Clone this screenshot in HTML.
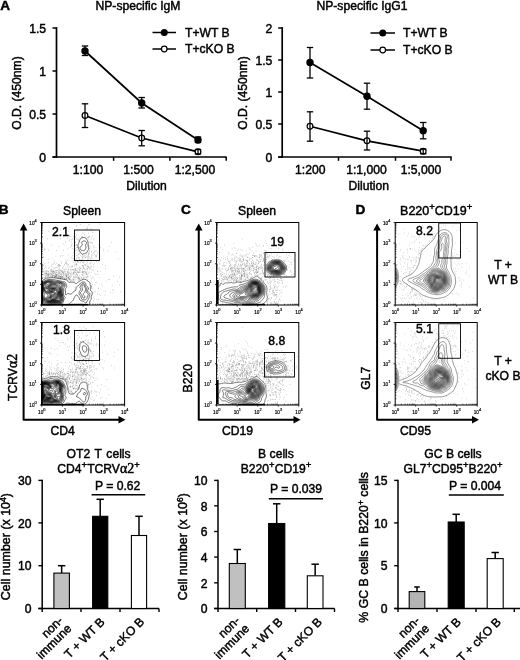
<!DOCTYPE html>
<html lang="en"><head><meta charset="utf-8"><title>Figure</title>
<style>
html,body{margin:0;padding:0;background:#fff;}
svg{display:block;}
text{font-family:"Liberation Sans", Arial, sans-serif;fill:#000;stroke:#000;stroke-width:0.45px;}
text.t{stroke:none;}
text.t2{stroke-width:0.18px;}
</style></head><body>
<svg width="520" height="660" viewBox="0 0 520 660">
<rect x="0" y="0" width="520" height="660" fill="#fff"/>
<text x="0.20" y="9.80" font-size="13.6" text-anchor="start" font-weight="bold" fill="#000" >A</text>
<line x1="56.50" y1="27.20" x2="56.50" y2="157.80" stroke="#000" stroke-width="1.7" />
<line x1="52.50" y1="157.00" x2="226.70" y2="157.00" stroke="#000" stroke-width="1.7" />
<line x1="52.50" y1="28.00" x2="56.50" y2="28.00" stroke="#000" stroke-width="1.5" />
<text x="46.10" y="32.50" font-size="12.15" text-anchor="end" font-weight="normal" fill="#000" >1.5</text>
<line x1="52.50" y1="71.00" x2="56.50" y2="71.00" stroke="#000" stroke-width="1.5" />
<text x="46.10" y="75.50" font-size="12.15" text-anchor="end" font-weight="normal" fill="#000" >1</text>
<line x1="52.50" y1="114.00" x2="56.50" y2="114.00" stroke="#000" stroke-width="1.5" />
<text x="46.10" y="118.50" font-size="12.15" text-anchor="end" font-weight="normal" fill="#000" >0.5</text>
<line x1="52.50" y1="157.00" x2="56.50" y2="157.00" stroke="#000" stroke-width="1.5" />
<text x="46.10" y="161.50" font-size="12.15" text-anchor="end" font-weight="normal" fill="#000" >0</text>
<line x1="113.60" y1="157.00" x2="113.60" y2="160.80" stroke="#000" stroke-width="1.5" />
<line x1="169.90" y1="157.00" x2="169.90" y2="160.80" stroke="#000" stroke-width="1.5" />
<line x1="226.20" y1="157.00" x2="226.20" y2="160.80" stroke="#000" stroke-width="1.5" />
<polyline points="85.00,51.00 141.70,103.00 198.00,140.00" fill="none" stroke="#000" stroke-width="1.7"/>
<polyline points="85.00,115.50 141.70,138.00 198.00,151.80" fill="none" stroke="#000" stroke-width="1.7"/>
<circle cx="85.00" cy="115.50" r="2.85" fill="#fff" stroke="#000" stroke-width="1.25"/>
<circle cx="141.70" cy="138.00" r="2.85" fill="#fff" stroke="#000" stroke-width="1.25"/>
<circle cx="198.00" cy="151.80" r="2.85" fill="#fff" stroke="#000" stroke-width="1.25"/>
<line x1="85.00" y1="46.00" x2="85.00" y2="55.50" stroke="#000" stroke-width="1.3" />
<line x1="81.80" y1="46.00" x2="88.20" y2="46.00" stroke="#000" stroke-width="1.3" />
<line x1="81.80" y1="55.50" x2="88.20" y2="55.50" stroke="#000" stroke-width="1.3" />
<line x1="141.70" y1="97.50" x2="141.70" y2="108.00" stroke="#000" stroke-width="1.3" />
<line x1="138.50" y1="97.50" x2="144.90" y2="97.50" stroke="#000" stroke-width="1.3" />
<line x1="138.50" y1="108.00" x2="144.90" y2="108.00" stroke="#000" stroke-width="1.3" />
<line x1="198.00" y1="137.00" x2="198.00" y2="142.50" stroke="#000" stroke-width="1.3" />
<line x1="194.80" y1="137.00" x2="201.20" y2="137.00" stroke="#000" stroke-width="1.3" />
<line x1="194.80" y1="142.50" x2="201.20" y2="142.50" stroke="#000" stroke-width="1.3" />
<line x1="85.00" y1="103.80" x2="85.00" y2="127.50" stroke="#000" stroke-width="1.3" />
<line x1="81.80" y1="103.80" x2="88.20" y2="103.80" stroke="#000" stroke-width="1.3" />
<line x1="81.80" y1="127.50" x2="88.20" y2="127.50" stroke="#000" stroke-width="1.3" />
<line x1="141.70" y1="130.50" x2="141.70" y2="145.80" stroke="#000" stroke-width="1.3" />
<line x1="138.50" y1="130.50" x2="144.90" y2="130.50" stroke="#000" stroke-width="1.3" />
<line x1="138.50" y1="145.80" x2="144.90" y2="145.80" stroke="#000" stroke-width="1.3" />
<line x1="198.00" y1="149.50" x2="198.00" y2="154.00" stroke="#000" stroke-width="1.3" />
<line x1="194.80" y1="149.50" x2="201.20" y2="149.50" stroke="#000" stroke-width="1.3" />
<line x1="194.80" y1="154.00" x2="201.20" y2="154.00" stroke="#000" stroke-width="1.3" />
<circle cx="85.00" cy="51.00" r="3.7" fill="#000"/>
<circle cx="141.70" cy="103.00" r="3.7" fill="#000"/>
<circle cx="198.00" cy="140.00" r="3.7" fill="#000"/>
<text x="138.00" y="10.20" font-size="12.15" text-anchor="middle" font-weight="normal" fill="#000" >NP-specific IgM</text>
<text transform="translate(21.00,93.00) rotate(-90)" font-size="12.15" text-anchor="middle" >O.D. (450nm)</text>
<text x="88.00" y="174.00" font-size="12.15" text-anchor="middle" font-weight="normal" fill="#000" >1:100</text>
<text x="138.50" y="174.00" font-size="12.15" text-anchor="middle" font-weight="normal" fill="#000" >1:500</text>
<text x="195.00" y="174.00" font-size="12.15" text-anchor="middle" font-weight="normal" fill="#000" >1:2,500</text>
<text x="146.60" y="189.60" font-size="12.15" text-anchor="middle" font-weight="normal" fill="#000" >Dilution</text>
<line x1="152.50" y1="32.50" x2="176.00" y2="32.50" stroke="#000" stroke-width="1.5" />
<circle cx="164.25" cy="32.5" r="3.5" fill="#000"/>
<text x="185.00" y="36.70" font-size="12.15" text-anchor="start" font-weight="normal" fill="#000" >T+WT B</text>
<line x1="152.50" y1="49.00" x2="176.00" y2="49.00" stroke="#000" stroke-width="1.5" />
<circle cx="164.25" cy="49" r="2.8" fill="#fff" stroke="#000" stroke-width="1.2"/>
<text x="185.00" y="53.20" font-size="12.15" text-anchor="start" font-weight="normal" fill="#000" >T+cKO B</text>
<line x1="282.20" y1="27.20" x2="282.20" y2="157.80" stroke="#000" stroke-width="1.7" />
<line x1="278.20" y1="157.00" x2="451.70" y2="157.00" stroke="#000" stroke-width="1.7" />
<line x1="278.20" y1="28.00" x2="282.20" y2="28.00" stroke="#000" stroke-width="1.5" />
<text x="272.30" y="32.50" font-size="12.15" text-anchor="end" font-weight="normal" fill="#000" >2</text>
<line x1="278.20" y1="60.00" x2="282.20" y2="60.00" stroke="#000" stroke-width="1.5" />
<text x="272.30" y="64.50" font-size="12.15" text-anchor="end" font-weight="normal" fill="#000" >1.5</text>
<line x1="278.20" y1="92.00" x2="282.20" y2="92.00" stroke="#000" stroke-width="1.5" />
<text x="272.30" y="96.50" font-size="12.15" text-anchor="end" font-weight="normal" fill="#000" >1</text>
<line x1="278.20" y1="124.00" x2="282.20" y2="124.00" stroke="#000" stroke-width="1.5" />
<text x="272.30" y="128.50" font-size="12.15" text-anchor="end" font-weight="normal" fill="#000" >0.5</text>
<line x1="278.20" y1="157.00" x2="282.20" y2="157.00" stroke="#000" stroke-width="1.5" />
<text x="272.30" y="161.50" font-size="12.15" text-anchor="end" font-weight="normal" fill="#000" >0</text>
<line x1="338.50" y1="157.00" x2="338.50" y2="160.80" stroke="#000" stroke-width="1.5" />
<line x1="395.50" y1="157.00" x2="395.50" y2="160.80" stroke="#000" stroke-width="1.5" />
<line x1="451.00" y1="157.00" x2="451.00" y2="160.80" stroke="#000" stroke-width="1.5" />
<polyline points="310.00,62.50 367.00,96.20 423.20,130.80" fill="none" stroke="#000" stroke-width="1.7"/>
<polyline points="310.00,126.20 367.00,140.80 423.20,151.20" fill="none" stroke="#000" stroke-width="1.7"/>
<circle cx="310.00" cy="126.20" r="2.85" fill="#fff" stroke="#000" stroke-width="1.25"/>
<circle cx="367.00" cy="140.80" r="2.85" fill="#fff" stroke="#000" stroke-width="1.25"/>
<circle cx="423.20" cy="151.20" r="2.85" fill="#fff" stroke="#000" stroke-width="1.25"/>
<line x1="310.00" y1="47.50" x2="310.00" y2="78.00" stroke="#000" stroke-width="1.3" />
<line x1="306.80" y1="47.50" x2="313.20" y2="47.50" stroke="#000" stroke-width="1.3" />
<line x1="306.80" y1="78.00" x2="313.20" y2="78.00" stroke="#000" stroke-width="1.3" />
<line x1="367.00" y1="83.20" x2="367.00" y2="109.20" stroke="#000" stroke-width="1.3" />
<line x1="363.80" y1="83.20" x2="370.20" y2="83.20" stroke="#000" stroke-width="1.3" />
<line x1="363.80" y1="109.20" x2="370.20" y2="109.20" stroke="#000" stroke-width="1.3" />
<line x1="423.20" y1="122.50" x2="423.20" y2="138.80" stroke="#000" stroke-width="1.3" />
<line x1="420.00" y1="122.50" x2="426.40" y2="122.50" stroke="#000" stroke-width="1.3" />
<line x1="420.00" y1="138.80" x2="426.40" y2="138.80" stroke="#000" stroke-width="1.3" />
<line x1="310.00" y1="111.80" x2="310.00" y2="141.20" stroke="#000" stroke-width="1.3" />
<line x1="306.80" y1="111.80" x2="313.20" y2="111.80" stroke="#000" stroke-width="1.3" />
<line x1="306.80" y1="141.20" x2="313.20" y2="141.20" stroke="#000" stroke-width="1.3" />
<line x1="367.00" y1="131.20" x2="367.00" y2="150.00" stroke="#000" stroke-width="1.3" />
<line x1="363.80" y1="131.20" x2="370.20" y2="131.20" stroke="#000" stroke-width="1.3" />
<line x1="363.80" y1="150.00" x2="370.20" y2="150.00" stroke="#000" stroke-width="1.3" />
<line x1="423.20" y1="149.20" x2="423.20" y2="153.80" stroke="#000" stroke-width="1.3" />
<line x1="420.00" y1="149.20" x2="426.40" y2="149.20" stroke="#000" stroke-width="1.3" />
<line x1="420.00" y1="153.80" x2="426.40" y2="153.80" stroke="#000" stroke-width="1.3" />
<circle cx="310.00" cy="62.50" r="3.7" fill="#000"/>
<circle cx="367.00" cy="96.20" r="3.7" fill="#000"/>
<circle cx="423.20" cy="130.80" r="3.7" fill="#000"/>
<text x="362.00" y="10.20" font-size="12.15" text-anchor="middle" font-weight="normal" fill="#000" >NP-specific IgG1</text>
<text transform="translate(247.00,93.00) rotate(-90)" font-size="12.15" text-anchor="middle" >O.D. (450nm)</text>
<text x="310.20" y="174.00" font-size="12.15" text-anchor="middle" font-weight="normal" fill="#000" >1:200</text>
<text x="366.50" y="174.00" font-size="12.15" text-anchor="middle" font-weight="normal" fill="#000" >1:1,000</text>
<text x="421.00" y="174.00" font-size="12.15" text-anchor="middle" font-weight="normal" fill="#000" >1:5,000</text>
<text x="368.80" y="189.60" font-size="12.15" text-anchor="middle" font-weight="normal" fill="#000" >Dilution</text>
<line x1="370.50" y1="33.00" x2="395.00" y2="33.00" stroke="#000" stroke-width="1.5" />
<circle cx="382.75" cy="33" r="3.5" fill="#000"/>
<text x="403.00" y="37.20" font-size="12.15" text-anchor="start" font-weight="normal" fill="#000" >T+WT B</text>
<line x1="370.50" y1="50.00" x2="395.00" y2="50.00" stroke="#000" stroke-width="1.5" />
<circle cx="382.75" cy="50" r="2.8" fill="#fff" stroke="#000" stroke-width="1.2"/>
<text x="403.00" y="54.20" font-size="12.15" text-anchor="start" font-weight="normal" fill="#000" >T+cKO B</text>
<text x="-1.20" y="214.30" font-size="13.6" text-anchor="start" font-weight="bold" fill="#000" >B</text>
<text x="82.00" y="215.00" font-size="12.15" text-anchor="middle" font-weight="normal" fill="#000" >Spleen</text>
<path d="M87.9,258.8h0.5M43.3,265h0.5M56.1,276.8h0.5M62.1,277.5h0.5M71.8,269.5h0.5M59.6,265.4h0.5M53.9,276.1h0.5M56.6,272.1h0.5M52.6,272.9h0.5M87.7,279.9h0.5M104.8,295.2h0.5M77.2,268.7h0.5M70.2,269.9h0.5M79.3,279h0.5M70.8,267.7h0.5M69.2,279.3h0.5M59.7,273.7h0.5M53,272.7h0.5M42.6,271.5h0.5M63.9,273.7h0.5M59.8,265.6h0.5M46,276.3h0.5M71.2,276.2h0.5M70.9,272h0.5M61.9,276.1h0.5M90.4,303.9h0.5M66,277.1h0.5M48.9,267.7h0.5M75.8,259.3h0.5M87.6,274.5h0.5M60.2,278.2h0.5M73.3,276.9h0.5M91.3,288.6h0.5M85.4,269.6h0.5M65.6,279h0.5M62.5,276.6h0.5M62.2,267.6h0.5M68.2,271.6h0.5M98.3,288.1h0.5M105.3,291.8h0.5M77.8,277.4h0.5M71.1,280.8h0.5M67.8,276.8h0.5M49.9,275.4h0.5M52.4,276.9h0.5M64.1,278.8h0.5M44.8,273.6h0.5M76.9,271.7h0.5M73,270.1h0.5M67.1,277.4h0.5M66.3,275.3h0.5M91.9,295.4h0.5M69.8,273.2h0.5M99.5,277.3h0.5M63.9,271.1h0.5M52.6,277h0.5M94.5,299h0.5M71.4,280.1h0.5M66,262.6h0.5M78.1,278.4h0.5M69.6,279.5h0.5M76.9,261.6h0.5M54.2,274.9h0.5M96.6,299.7h0.5M45,265.7h0.5M63.8,271.2h0.5M42.7,278.3h0.5M51.1,269.1h0.5M42.9,274.7h0.5M65,277.6h0.5M78.8,262.6h0.5M79,270.8h0.5M87,276.8h0.5M86,273.7h0.5M73.6,271.1h0.5M77.1,262.1h0.5M67.9,269h0.5M52.5,271.7h0.5M62,270.6h0.5M112.1,289.8h0.5M79.9,268.7h0.5M57.8,277.8h0.5M63.8,278.5h0.5M48.7,259.3h0.5M62.7,273.9h0.5M81.9,272.1h0.5M83.9,273.8h0.5M97.8,291.5h0.5M68,277.6h0.5M61,274.7h0.5M52.8,271.3h0.5M70.8,269.5h0.5M54.4,272.8h0.5M63.8,277.7h0.5M74.5,277.5h0.5M47.5,270.9h0.5M73,280.6h0.5M57,276.4h0.5M43.3,257.4h0.5M79.6,271.1h0.5M92.7,304h0.5M54.8,276.9h0.5M60.6,278.4h0.5M75.3,277.4h0.5M51.6,265.2h0.5M75.9,244.7h0.5M86.3,274.3h0.5M46.8,271.7h0.5M83.1,279.2h0.5M85.3,276.8h0.5M67.9,278.5h0.5M51.7,258h0.5M50.7,276.7h0.5M108.5,279.7h0.5M61.8,278.2h0.5M78.4,277.5h0.5M91,286.9h0.5M49.9,273.1h0.5M77.7,272.6h0.5M55.9,275h0.5M74,279.1h0.5M74,276.8h0.5M65.9,261.7h0.5M87.9,266.8h0.5M50.7,274.1h0.5M83.7,271.7h0.5M75,279.8h0.5M73.5,277.1h0.5M65.7,271.7h0.5M74.6,274.8h0.5M75.3,268.9h0.5M77.7,279h0.5M56.4,274.6h0.5M78.2,278.3h0.5M68.9,266.2h0.5M91.5,287.2h0.5M44.2,272.9h0.5M70.1,277.6h0.5M78.3,271.9h0.5M110,292.7h0.5M75.5,268.7h0.5M61.8,278.4h0.5M65.3,263.5h0.5M52.1,270.3h0.5M74.4,271.9h0.5M43,271.8h0.5M98.1,299.4h0.5M58.3,265.3h0.5M53.2,275.5h0.5M66.4,276.4h0.5M69.9,274.4h0.5M79,269.4h0.5M86,273.8h0.5M45.7,271h0.5M56.3,275h0.5M102.4,286.8h0.5M61.4,277.3h0.5M49.9,270.5h0.5M54.2,262.7h0.5M71.9,257.9h0.5M75.5,275.7h0.5M98.3,288.8h0.5M51.4,275.2h0.5M59.8,266.4h0.5M47.5,273.8h0.5M65.3,262.7h0.5M44.6,277.7h0.5M79.8,272.4h0.5M43.5,256.4h0.5M64,279.2h0.5M61.4,277.1h0.5M47.3,277.2h0.5M93,300.7h0.5M67.3,275.2h0.5M68,277.5h0.5M64.9,276.2h0.5M97.5,294.3h0.5M62,271.8h0.5M85.2,272.7h0.5M65.9,273.4h0.5M49,274.7h0.5M53.2,275.6h0.5M62.1,278.2h0.5M71.5,274.2h0.5M75.8,276.8h0.5M47,273.8h0.5M46.3,275.6h0.5M55.9,274.9h0.5M64.7,275.1h0.5M48.4,275h0.5M55,274.6h0.5M54.9,276.3h0.5M72.1,279.7h0.5M55.5,274.1h0.5M45.8,272h0.5M48.1,275h0.5M55.3,276.5h0.5M69.4,280.1h0.5M68.2,264.5h0.5M56.1,270.5h0.5M60.3,278.5h0.5M58.1,272h0.5M59,266h0.5M55.4,276.2h0.5M47.5,275.8h0.5M61.6,272.2h0.5M66.2,276.2h0.5M69.5,276.9h0.5M54.8,276.8h0.5M56.4,274.6h0.5M54.4,272.9h0.5M59.9,276.5h0.5M74,272.1h0.5M57.8,278.2h0.5M66.6,279.1h0.5M66.7,274.8h0.5M83.5,277.3h0.5M48.5,262.5h0.5M55.8,270.1h0.5M73,279.4h0.5M62.4,272.1h0.5M57.6,270.4h0.5M66.3,276.2h0.5M52.5,273.2h0.5M65.4,274.5h0.5M58.2,277.4h0.5M54.2,277.4h0.5M52.4,275.8h0.5M45.5,278h0.5M46.1,273.4h0.5M56.9,265.4h0.5M63.1,275.3h0.5M58.7,275.2h0.5M50.3,276.4h0.5M73,272.7h0.5M79.3,278.2h0.5M51.1,276.9h0.5M79.1,272.4h0.5M44.1,268.4h0.5M53.3,270h0.5M59,277h0.5M64.8,271.9h0.5M46.1,275.3h0.5M65.9,279h0.5M63.8,277.3h0.5M50,273.9h0.5M52,276.5h0.5M72.7,278.8h0.5M46.1,270.1h0.5M53.8,271.5h0.5M73.2,279.1h0.5M67.4,272.9h0.5M52.3,276h0.5M59.9,276.5h0.5M51.5,274h0.5M60.9,271.5h0.5M59,276.3h0.5M55.7,272.9h0.5M65.4,275.9h0.5M75.9,277.1h0.5M67.3,272.1h0.5M69.5,279.8h0.5M61.1,275.5h0.5M56.5,272.1h0.5M45.6,267.4h0.5M55.4,268.2h0.5M70.6,270.7h0.5M44.7,271h0.5M42.8,274.6h0.5M66.7,278.3h0.5M47.8,276.7h0.5M67.3,271.5h0.5M51.6,274.6h0.5M63,276.8h0.5M51.1,274h0.5M75.8,270.7h0.5M62.4,277.2h0.5M77.3,270.3h0.5M51.1,266.6h0.5M56,263.3h0.5M68.4,274.2h0.5M47.4,275h0.5M55.1,275.9h0.5M42.6,277.6h0.5M59.6,269.8h0.5M68.2,274h0.5M48.9,274.8h0.5M60.3,274.2h0.5M68.1,272.9h0.5M60.6,276.6h0.5M56.9,270.7h0.5M60.4,270.2h0.5M54.8,277.4h0.5M66.2,278.5h0.5M60.7,277.9h0.5M60,274.6h0.5M45.4,273.7h0.5M69.6,278.4h0.5M61.4,273.8h0.5M59.9,278.4h0.5M61.8,276.4h0.5M58.9,271.6h0.5M54.8,272h0.5M59.2,264.8h0.5M68.6,277.1h0.5M63.2,272.6h0.5M69.1,278.9h0.5M79.8,276.7h0.5M51.4,276.6h0.5M78.4,279.1h0.5M87.8,266.6h0.5M62.7,268.3h0.5M72.6,269.5h0.5M66.2,269.6h0.5M51.1,269.6h0.5M45.6,277h0.5M76.1,274h0.5M57.9,277.8h0.5M65.9,278.9h0.5M58.3,276.1h0.5M53.5,271.3h0.5M59.9,276.4h0.5M50.6,269.5h0.5M48,271.8h0.5M54,277.7h0.5M68.5,277.9h0.5M46,273.5h0.5M48.4,274.3h0.5M48.6,268.7h0.5M48.8,273.5h0.5M58.3,266.6h0.5M59.4,275.1h0.5M48.4,275.5h0.5M56.4,275.4h0.5M43,269.9h0.5M68.5,277h0.5M55.1,264.2h0.5M63.4,272.2h0.5M63.5,266.4h0.5M47.5,274.8h0.5M45.2,276.4h0.5M81.7,277.7h0.5M55.8,276.4h0.5M57.1,274.5h0.5M58.6,278.2h0.5M57.4,267.2h0.5M59.8,272.9h0.5M51.7,272.6h0.5M49.2,276.9h0.5M53.8,276.3h0.5M59.7,270.5h0.5M42.9,271.7h0.5M46.2,274h0.5M72.9,274.2h0.5M63.3,273.5h0.5M68.5,274.1h0.5M53.9,275.7h0.5M56.1,277.3h0.5M56.2,277h0.5M56.2,275.1h0.5M58.8,272.6h0.5M48.2,276.3h0.5M53.2,271.3h0.5M48.3,271.4h0.5M79.5,267.1h0.5M72,274.9h0.5M45.1,277.7h0.5M73.8,269.2h0.5M48.5,273.9h0.5M59.9,277.6h0.5M58.6,273.4h0.5M64.9,274.9h0.5M59.6,277.3h0.5M77.5,275.9h0.5M62,272h0.5M54.9,276.8h0.5M82,274.8h0.5M55.7,276.6h0.5M73.2,272.7h0.5M58.4,264.8h0.5M48.8,272.7h0.5M50.6,271.7h0.5M58.8,273.3h0.5M59.5,272.6h0.5M61,270.5h0.5M68.6,269.2h0.5M70.3,280.8h0.5M45.8,271.3h0.5M52.9,263.7h0.5M52,275.1h0.5M53.5,272.1h0.5M76.6,274.3h0.5M53.2,274h0.5M79,279h0.5M62.8,269.1h0.5M55.8,275.9h0.5M59,278h0.5M64.8,269.4h0.5M58.4,269.9h0.5M55.3,273.4h0.5M74.2,281.5h0.5M70.3,275.6h0.5M64.5,269.9h0.5M79.3,279h0.5M76.1,273.1h0.5M70.4,281.5h0.5M48.1,274.7h0.5M52,274.2h0.5M72,281h0.5M57.9,274.6h0.5M52.7,271.4h0.5M67.9,279.2h0.5M51.3,271.2h0.5M52.3,275.7h0.5M44.7,274.2h0.5M60.6,261.8h0.5M54.7,271.2h0.5M52.7,264.4h0.5M58.6,276.5h0.5M44.8,275.3h0.5M58.6,271.3h0.5M66.1,275.7h0.5M63,274.9h0.5M66.3,275.1h0.5M45.9,274.1h0.5M57,275.8h0.5M45.3,273h0.5M63.1,273.3h0.5M69.9,276.9h0.5M61,271.3h0.5M73.3,273h0.5M43.8,279.6h0.5M63.5,278.3h0.5M67.8,270.3h0.5M69.6,276.2h0.5M60.7,276.7h0.5M55.7,275.9h0.5M76.9,277.7h0.5M51.5,270.6h0.5M79.9,252.8h0.5M86.9,280.2h0.5M75.1,264.6h0.5M81.5,274.6h0.5M76.5,265h0.5M91.3,256.6h0.5M85.1,265.3h0.5M94.9,274.3h0.5M93.5,264.5h0.5M77.8,260.9h0.5M92.5,269.9h0.5M73.1,252.7h0.5M93.6,252.4h0.5M76.9,260.6h0.5M76.1,273.9h0.5M82.8,268.3h0.5M81.5,259.7h0.5M71.1,257.2h0.5M85.5,279.1h0.5M87.1,262.8h0.5M91.7,286.3h0.5M82.9,273h0.5M85.2,264.9h0.5M76.4,225.1h0.5M91.3,255.2h0.5M90.9,266.6h0.5M96.5,282.8h0.5M87.7,257.4h0.5M82.2,236.4h0.5M68.1,275.4h0.5M88.5,245.5h0.5M88.6,276.5h0.5M78.9,260.1h0.5M86.8,277.2h0.5M72.9,261.2h0.5M86.2,277.9h0.5M91.2,259h0.5M75.2,242.4h0.5M79.3,254.1h0.5M107.1,250.7h0.5M77.9,280.5h0.5M72.7,255.3h0.5M91.8,257.7h0.5M91.3,252.8h0.5M79.2,259.5h0.5M77.6,247.2h0.5M82.8,265.9h0.5M82,272h0.5M86.6,264.1h0.5M82.1,271h0.5M85.9,265.9h0.5M69.3,239.3h0.5M85.7,271.4h0.5M88.4,255h0.5M95.9,256.5h0.5M91.8,242.9h0.5M74.3,270.4h0.5M91.4,251.4h0.5M92.3,277.3h0.5M88.3,256.3h0.5M77.6,272.1h0.5M76.2,270.9h0.5M94.3,263.3h0.5M91.1,281.1h0.5M87.2,268.7h0.5M95.6,257.1h0.5M90.9,266.3h0.5M85.5,272.3h0.5M74.8,245.4h0.5M67.8,267.1h0.5M80.4,279.7h0.5M75.9,239.1h0.5M88.9,252.9h0.5M80.2,270.7h0.5M91.9,255.2h0.5M78.1,276.9h0.5M74.4,264.2h0.5M87.1,276.1h0.5M76.9,275.8h0.5M85.4,274.2h0.5M82,255.8h0.5M98.3,261h0.5M89.6,248.1h0.5M83.2,262.1h0.5M83.4,266h0.5M87.4,258.8h0.5M77.4,261.2h0.5M92.5,284.3h0.5M74.6,254.3h0.5M77.3,247.6h0.5M86.5,272.4h0.5M80.9,278.1h0.5M94.5,280.1h0.5M91.9,230.5h0.5M89.2,251.3h0.5M87.9,272.8h0.5M89.4,272.1h0.5M101.1,284.5h0.5M89.1,241.7h0.5M97.2,254.1h0.5M71.9,266.2h0.5M72.7,270h0.5M83.8,271.3h0.5M86.4,277.1h0.5M77.8,272.1h0.5M83.7,233.3h0.5M86.1,260.5h0.5M76.2,255.6h0.5M84.4,264.7h0.5M74.7,268.5h0.5M82,269.1h0.5M90.9,269.3h0.5M87.1,268.2h0.5M79.6,278.4h0.5M78.2,268.6h0.5M79.5,257.8h0.5M77,274.6h0.5M82.9,275.4h0.5M80.4,261.1h0.5M87.8,274h0.5M85.5,257.5h0.5M82.7,271.8h0.5M78,261.8h0.5M87.1,237.7h0.5M91.5,242.3h0.5M80.6,260.4h0.5M82.4,266h0.5M75.2,272.1h0.5M92.7,292h0.5M81.6,272.2h0.5M96.2,255.9h0.5M90.2,230.4h0.5M94.7,247.7h0.5M83.2,266.8h0.5M83.2,272.3h0.5M76.4,263.5h0.5M78.4,251.4h0.5M87.7,266.5h0.5M90.6,260.8h0.5M95.7,259.9h0.5M73,260h0.5M79.7,269.5h0.5M89.4,268.2h0.5M91.3,251.5h0.5M92.6,288.9h0.5M83,267.5h0.5M89.8,248.4h0.5M82.5,272.9h0.5M71.3,266.5h0.5M88.9,267.8h0.5M82.7,260.2h0.5M90.6,268.3h0.5M76.9,230h0.5M79.6,275.2h0.5M83.6,277.3h0.5M96.3,250.9h0.5M82.6,257.6h0.5M80.6,260.4h0.5M91.8,262.9h0.5M88.2,267.5h0.5M75,270.2h0.5M77.2,261.8h0.5M87,261.1h0.5M91.3,285.6h0.5M75.7,268.2h0.5M99.5,250h0.5M90.1,259.9h0.5M90.2,263.9h0.5M91.4,278.7h0.5M89.2,257h0.5M84.4,271.8h0.5M90,275.6h0.5M73.3,272.7h0.5M82.3,258.8h0.5M69.8,278.4h0.5M73.7,280.6h0.5M76,258h0.5M78,254.5h0.5M89.8,268h0.5M95,255.8h0.5M87.2,269.4h0.5M76.7,264.5h0.5M81.7,259.9h0.5M83.5,268.6h0.5M78.4,272.5h0.5M74.2,266h0.5M86.9,270.9h0.5M90.3,262.7h0.5M89.1,224.9h0.5M85.4,257.5h0.5M69,237h0.5M93.3,239.9h0.5M90.4,242h0.5M76.1,249.8h0.5M88.1,233.3h0.5M93.7,266.7h0.5M69.4,240.4h0.5M76.4,244.6h0.5M87.9,252.4h0.5M94.7,251.5h0.5M87.4,229.8h0.5M92.8,258.5h0.5M87.8,237.8h0.5M74.9,250.9h0.5M88.4,245.4h0.5M80.4,255.5h0.5M80.3,224.6h0.5M71.8,243.6h0.5M92,235.9h0.5M74.7,237h0.5M92.4,232.7h0.5M71.6,246.2h0.5M87.9,253.3h0.5M86.4,256.4h0.5M75.8,245.5h0.5M77.3,245.4h0.5M88.6,224.4h0.5M71.4,244.6h0.5M76.2,234.9h0.5M81.3,237.7h0.5M86.5,254.4h0.5M86,228.3h0.5M76.9,257.8h0.5M84.6,229.5h0.5M78.5,257.8h0.5M71.7,273.1h0.5M76.5,247.7h0.5M87.9,240h0.5M70.9,241.4h0.5M76.8,231.8h0.5M84.6,256h0.5M76.3,264.5h0.5M88.3,236.7h0.5M89.2,250.2h0.5M82,232.8h0.5M87.9,259.7h0.5M90.7,230.3h0.5M92.9,253.7h0.5M90.9,239.3h0.5M87.5,265.9h0.5M92.7,249.3h0.5M88,254.8h0.5M78.3,240.9h0.5M88.9,236.7h0.5M86.2,230h0.5M93.8,238.6h0.5M82.3,265.7h0.5M73.6,258.8h0.5M74.7,250.8h0.5M73.8,249.9h0.5M97,252.4h0.5M89.8,242.9h0.5M98.7,245h0.5M92.1,243.3h0.5M93.3,246.9h0.5M72.5,248.6h0.5M83.5,256.8h0.5M81.7,256.7h0.5M90.5,245.9h0.5M88.1,254.1h0.5M77.1,239.3h0.5M89.7,246.9h0.5M80.8,267.9h0.5M84.7,262.7h0.5M84.7,258.2h0.5M84.1,234.8h0.5M90,258.2h0.5M71.7,239.5h0.5M93.7,245.9h0.5M77.6,255.8h0.5M78.3,239.8h0.5M88.6,257.6h0.5M89.1,236.8h0.5M90.9,228.3h0.5M94.4,251.8h0.5M72,266.8h0.5M76.7,238.3h0.5M73.8,239.6h0.5M88.8,253.7h0.5M87.5,227.1h0.5M88.3,238h0.5M74.7,237.3h0.5M87,228.5h0.5M79.3,251.3h0.5M81.6,261.2h0.5M84.8,255.8h0.5M82,236.8h0.5M94.8,250.6h0.5M79.3,237.7h0.5M60.6,255.8h0.5M82.2,257.7h0.5M75.4,261.6h0.5M65.4,267.7h0.5M89.3,263.7h0.5M119.2,277h0.5M82,262.3h0.5M54.3,267.8h0.5M97.6,271h0.5M111.9,285.3h0.5M67.1,264h0.5M61.2,276.9h0.5M71.9,266h0.5M67.8,254.7h0.5M94.8,285.1h0.5M80.4,262.7h0.5M86.1,274.2h0.5M92.9,277.8h0.5M48.7,226.1h0.5M94,291h0.5M91.3,286.5h0.5M65.8,263.4h0.5M100.3,247.5h0.5M74.7,242h0.5M62.7,255.5h0.5M65.4,259.9h0.5M109.2,279.5h0.5M73.3,273.6h0.5M60.2,256.7h0.5M56.2,250.5h0.5M93.6,297.2h0.5M73.5,236.4h0.5M76.9,250.1h0.5M61.5,263.2h0.5M64.4,278.6h0.5M74.8,236.8h0.5M95.4,292.1h0.5M117.4,281.4h0.5M78.2,258h0.5M91.4,272.2h0.5M87.4,256h0.5M48.5,249.9h0.5M72.9,262.5h0.5M105.2,265.9h0.5M82.9,261h0.5M74.9,248.8h0.5M50.9,245h0.5M100.1,271.4h0.5M51.1,271.5h0.5M60.1,230.1h0.5M65.7,273.5h0.5M83.9,268.3h0.5M120,291.7h0.5M46.1,272.8h0.5M86.5,268.3h0.5M75.2,269.7h0.5M68.4,231.2h0.5M58.1,275.7h0.5M96.7,274.4h0.5M67.7,278.8h0.5M69,235.6h0.5M70.2,247.1h0.5M82.2,278.9h0.5M93.4,270.8h0.5M112.8,293.2h0.5M66,264.2h0.5M98.9,294.1h0.5M91.5,237.4h0.5M56.6,272.6h0.5M65.4,241.9h0.5M75.1,262.9h0.5M103.6,250.9h0.5M95.8,255.5h0.5M54.4,261h0.5M108.8,246.5h0.5M67.5,260.3h0.5M57,273.6h0.5M48.4,231.3h0.5M105.3,268.7h0.5M94.9,282.5h0.5M78.8,253.4h0.5M60.1,239h0.5M102.2,264.6h0.5M83,255.9h0.5M55.8,231.8h0.5M68.3,279.8h0.5M80.3,268.5h0.5M119.4,285h0.5M55.7,256.3h0.5M44.5,248.2h0.5M63.3,237.1h0.5M75.2,272.5h0.5M58.7,269h0.5M61.6,234.3h0.5M113.7,290.6h0.5M96.5,261.8h0.5M59.9,270.5h0.5M44.6,250.2h0.5M98.6,274.1h0.5M76.5,226.4h0.5M67.6,265.7h0.5M84.2,269.1h0.5M63.9,272.3h0.5M111.5,242.3h0.5M69.3,272.7h0.5M83.2,263.1h0.5M66.8,274.1h0.5M53.1,268.1h0.5M44.7,249.3h0.5M47.3,239h0.5M76.2,266.1h0.5M43.2,265.8h0.5M105.8,281.3h0.5M65.2,230.3h0.5M79.6,267.5h0.5M82.4,275.1h0.5M99.3,224h0.5M74.7,273.9h0.5M72.6,228.6h0.5M56.1,267.5h0.5M55.3,270.8h0.5M115.6,251.9h0.5M67.7,272.3h0.5M113,276.1h0.5M103.7,290.8h0.5M76.8,253.9h0.5M58.3,264.7h0.5M70.1,279.5h0.5M57.2,277.3h0.5M53.6,273.7h0.5M94.3,254.2h0.5M58.6,246.5h0.5M67.1,238.4h0.5M44.6,278h0.5M67.2,235.5h0.5M82.7,275.1h0.5M59.5,268h0.5M64.4,265h0.5M71.7,245.5h0.5M75.2,269.8h0.5M97.6,271.4h0.5M70.7,236.5h0.5M81,278.2h0.5M63.4,243.9h0.5M100.6,295.5h0.5M64.1,265h0.5M84.5,277h0.5M66.6,277.1h0.5M63.2,250.3h0.5M81.4,277.6h0.5M67.6,248.9h0.5M61.6,273.8h0.5M70.4,273.5h0.5M118,259h0.5M72.6,238.6h0.5M103.3,249.3h0.5M60.3,277.1h0.5" fill="none" stroke="#555" stroke-width="0.5"/>
<path d="M83.1,254.2 82.1,254.3 81.6,253.7 81.1,253 80.7,252.5 80.4,252 80,251.5 79.6,250.8 79.1,250 78.9,249.5 78.6,248.6 78.4,248 78.2,247 78.1,246.5 78,245.5 78.1,244.8 78.4,244 78.6,243.5 79,242.5 79.2,242 79.5,241 79.6,240.5 80,239.5 80.3,239 80.6,238.5 81.2,238 82.1,237.7 83.1,237.5 84.1,237.5 85.1,237.7 85.6,238 86.1,238.6 86.6,239.3 87.1,240 87.4,240.5 87.6,241 88,242 88.1,243 88.1,244 88,245 88.1,245.8 88.3,246.5 88.5,247.5 88.6,248.5 88.4,249.5 88.1,250.1 87.7,251 87.4,251.5 87.1,252.1 86.6,252.7 86.1,253.1 85.1,253.4 84.6,253.6 83.6,253.9 83.1,254.2Z M89.6,304.5 88.6,304.6 87.6,304.6 86.6,304.7 85.6,304.7 84.6,304.7 83.6,304.6 82.6,304.6 81.6,304.6 80.6,304.6 79.6,304.5 78.6,304.5 77.6,304.5 76.6,304.5 75.6,304.5 74.6,304.5 73.6,304.6 72.6,304.6 71.6,304.7 70.6,304.7 69.6,304.7 68.6,304.7 67.6,304.8 66.6,304.8 65.6,304.8 64.6,304.8 63.6,304.7 62.6,304.7 61.6,304.7 60.6,304.7 59.6,304.7 58.6,304.7 57.6,304.8 56.6,304.8 55.6,304.8 54.6,304.8 53.6,304.8 52.6,304.8 51.6,304.9 50.6,304.9 49.6,304.9 48.6,304.9 47.6,304.9 46.6,304.9 45.6,304.9 44.6,304.8 43.6,304.8 42.6,304.8 41.8,304.5 41.8,303.5 41.8,302.5 41.8,301.5 41.8,300.5 41.8,299.5 41.8,298.5 41.7,297.5 41.7,296.5 41.7,295.5 41.7,294.5 41.7,293.5 41.7,292.5 41.7,291.5 41.7,290.5 41.7,289.5 41.7,288.5 41.7,287.5 41.7,286.5 41.7,285.5 41.7,284.5 41.7,283.5 41.8,282.5 41.9,281.5 42.1,280.7 42.6,280.4 43.4,280 44.1,279.6 44.6,279.3 45.2,279 46,278.5 46.6,278.2 47.5,278 48.1,277.9 49.1,277.8 50.1,277.8 51.1,277.7 52.1,277.7 53.1,277.7 54.1,277.8 55.1,278 55.6,278.1 56.6,278.2 57.6,278.4 58.1,278.5 59.1,278.7 60.1,278.8 61.1,278.9 61.8,279 62.6,279.2 63.6,279.4 64.1,279.5 65.1,279.6 66.1,279.7 66.8,280 67.3,280.5 67.7,281 68.1,281.7 68.6,282.2 69.6,282.4 70.6,282.2 71.6,282.2 72.6,282.2 73.6,282.4 74.1,282.6 74.9,283 75.6,283.4 76.1,283.5 76.6,283.4 77.2,283 77.7,282.5 78.2,282 78.8,281.5 79.6,281.1 80.1,280.8 80.8,280.5 81.6,280.1 82.1,279.8 82.9,279.5 83.6,279.3 84.6,279.2 85.6,279.5 86.1,279.8 86.6,280.1 87.2,280.5 87.8,281 88.5,281.5 89.1,282 89.6,282.4 90,283 90.1,283.7 90.2,284.5 90.4,285.5 90.6,286.3 90.7,287 90.7,288 90.6,288.5 90.4,289.5 90.6,290.5 91,291 91.6,291.5 92,292 92.3,292.5 92.4,293.5 92.1,294.4 91.8,295 91.5,295.5 91.3,296.5 91.3,297.5 91.4,298.5 91.1,299.5 90.8,300 90.3,300.5 90,301 89.7,302 89.8,303 89.7,304 89.6,304.5Z M83.6,250.6 82.6,250.6 82,250.5 81.1,250 80.6,249.5 80.3,249 80.1,248.5 80,247.5 80.1,247 80.6,246.5 81.4,246 82,245.5 82.3,245 82.2,244 81.9,243.5 81.8,242.5 82.1,241.8 82.6,241.3 83.1,241 84.1,240.9 84.7,241 85.6,241.4 86.1,241.8 86.5,242.5 86.4,243.5 86.1,244.1 85.6,245 85.6,245.5 85.7,246 85.9,247 85.9,248 85.6,248.9 85.3,249.5 84.9,250 84.1,250.5 83.6,250.6Z M68.1,304.5 67.1,304.5 66.1,304.5 65.1,304.5 64.2,304.5 63.6,304.3 62.6,304.1 61.6,304 60.6,304.1 59.6,304.3 58.6,304.4 58.1,304.5 57.1,304.5 56.1,304.5 55.1,304.5 54.1,304.6 53.1,304.6 52.1,304.7 51.1,304.7 50.1,304.7 49.1,304.7 48.1,304.7 47.1,304.7 46.1,304.7 45.1,304.7 44.1,304.7 43.1,304.7 42.1,304.6 42,304 41.9,303 41.9,302 41.9,301 41.9,300 41.9,299 41.9,298 41.8,297 41.8,296 41.7,295 41.8,294 41.8,293 41.8,292 41.8,291 41.8,290 41.8,289 41.8,288 41.8,287 41.8,286 41.8,285 41.8,284 41.9,283 42.1,282.1 42.6,281.8 43.2,281.5 44.1,281.1 44.6,280.9 45.5,280.5 46.1,280.2 46.6,280 47.6,279.6 48.1,279.5 49.1,279.4 50.1,279.4 51.1,279.5 51.6,279.5 52.6,279.6 53.6,279.6 54.6,279.8 55.1,280 56.1,280.2 57.1,280.3 58.1,280.4 58.7,280.5 59.6,280.7 60.6,281 61.1,281.1 62.1,281.4 62.6,281.5 63.6,281.7 64.6,281.9 65.1,282.2 65.6,282.8 65.9,283.5 66.1,284 66.5,285 66.6,285.5 66.8,286.5 66.6,287.2 66.1,288 65.7,288.5 65.4,289 65.2,290 65.4,291 65.6,292 65.5,293 65.3,294 65.6,294.6 66.6,294.5 67,294 67.6,293.6 68.1,293.5 68.6,293.5 69.6,294 70.1,294.2 71.1,294 71.6,293.7 72.1,293.3 72.6,292.9 73.1,292.3 73.6,291.7 74.1,291.2 74.6,291 75.5,290.5 75.9,290 76,289 75.9,288 76.1,287.4 76.6,286.8 77.1,286.4 77.7,286 78.5,285.5 79.1,285 79.6,284.5 79.9,284 80.3,283.5 80.8,283 81.5,282.5 82.1,282.2 82.7,282 83.6,281.9 84.3,282 85.1,282.5 85.4,283 85.6,283.5 85.9,284.5 86.1,285.3 86.5,286 87,286.5 87.6,286.9 88.1,287.3 88.5,288 88.4,289 88.1,289.6 87.6,290.5 87.5,291 87.7,291.5 88.2,292 89,292.5 89.6,293 89.9,293.5 89.9,294.5 89.6,295.3 89.3,296 89.1,297 89.1,297.5 88.8,298.5 88.6,299 88.1,299.7 87.6,300.4 87.2,301 86.9,301.5 86.6,302.2 86.1,303 85.6,303.2 85.1,302.9 84.6,302.3 84.1,301.8 83.6,301.4 82.6,301.1 82,301 81.1,300.8 80.5,300.5 79.9,300 79.6,299.4 79.4,298.5 79.1,297.8 78.6,297.1 78.1,296.5 77.8,296 77.5,295.5 77.1,295 76.1,294.9 75.6,295.5 75.3,296 74.9,296.5 74.6,297.1 74.1,298 73.9,298.5 73.6,299.4 73.3,300 72.9,300.5 72.4,301 71.8,301.5 71.2,302 70.7,302.5 70.1,303 69.6,303.5 69.1,304 68.6,304.5 68.1,304.5Z M52.6,304.5 51.6,304.6 50.6,304.6 49.6,304.6 48.6,304.6 47.6,304.6 46.6,304.6 45.6,304.6 44.6,304.6 43.6,304.5 43,304.5 42.3,304 42.1,303.5 42.1,302.5 42.1,301.5 42.1,300.8 42.2,300 42.1,299.2 42,298.5 41.9,297.5 41.9,296.5 41.8,295.5 41.8,294.5 41.8,293.5 41.8,292.5 41.8,291.5 41.8,290.5 41.9,289.5 41.9,288.5 41.9,287.5 41.8,286.5 41.8,285.5 41.9,284.5 42,283.5 42.1,283 42.7,282.5 43.6,282 44.1,281.8 44.8,281.5 45.6,281.2 46.1,281 47.1,280.6 47.6,280.4 48.6,280.3 49.6,280.3 50.6,280.3 51.6,280.4 52.1,280.5 53.1,280.7 54.1,280.9 54.6,281 55.6,281.2 56.6,281.2 57.6,281.2 58.6,281.3 59.5,281.5 60.1,281.7 61.1,282 61.6,282.1 62.6,282.5 63.1,282.6 64,283 64.6,283.5 64.9,284 65.1,284.6 65.2,285.5 65.1,286.4 64.8,287 64.4,287.5 64,288 63.6,289 63.7,290 63.7,291 63.6,292 63.5,292.5 63.5,293.5 63.6,294.3 63.7,295 64.1,296 64.5,296.5 65,297 65.4,297.5 65.1,298.3 64.6,298.7 64.1,299.4 63.9,300 63.6,301 63.5,301.5 63.1,302.4 62.6,302.7 61.9,303 61.1,303.2 60.1,303.3 59.1,303.4 58.1,303.5 57.6,303.5 56.6,303.7 55.6,303.8 54.6,303.9 54,304 53.1,304.4 52.6,304.5Z M85.6,299.7 84.6,299.9 83.6,299.8 82.6,299.5 82.1,299.4 81.6,299 81.2,298 81.1,297.4 80.8,296.5 80.5,296 80.1,295.5 79.6,294.9 79.1,294 79,293.5 79.1,292.5 79.2,292 79.6,291.2 80.1,290.6 80.6,290 80.8,289.5 80.6,288.8 80.1,288 79.9,287.5 80.1,286.9 80.6,286 80.8,285.5 81.1,284.8 81.6,284 82.1,283.5 82.6,283.3 83.6,283.3 84.1,283.5 84.6,284.2 84.9,285 85.1,285.9 85.4,286.5 85.7,287 86.1,287.5 86.6,288 86.9,289 86.6,289.7 86.3,290.5 86.2,291.5 86.6,292.5 87.1,292.9 87.6,293.2 88.1,293.5 88.4,294.5 88.1,295.2 87.6,296 87.4,296.5 87.2,297.5 87.1,298 86.6,298.9 86.1,299.4 85.6,299.7Z M51.6,304.1 50.6,304.2 49.6,304.1 48.6,304.1 47.6,304.2 46.6,304.1 46,304 45.1,303.9 44.1,303.7 43.5,303.5 43,303 42.7,302 42.7,301 42.8,300 42.7,299 42.5,298.5 42.1,297.8 42,297 41.9,296 41.9,295 41.9,294 41.9,293 41.9,292 41.9,291 41.9,290 41.9,289 41.9,288 41.9,287 41.9,286 41.9,285 42.1,284 42.3,283.5 42.8,283 43.6,282.5 44.1,282.2 44.7,282 45.6,281.6 46.1,281.5 47.1,281.1 47.6,281 48.6,280.8 49.6,280.9 50.6,281 51.1,281 52.1,281.2 53.1,281.4 53.6,281.6 54.6,281.8 55.6,281.9 56.6,281.9 57.6,281.8 58.6,281.9 59.1,282 60.1,282.3 60.8,282.5 61.6,282.7 62.3,283 63.1,283.4 63.6,283.7 64.1,284.3 64.3,285 64.2,286 63.9,286.5 63.4,287 62.9,287.5 62.6,288.2 62.6,289 62.7,289.5 62.8,290.5 62.7,291.5 62.7,292.5 62.8,293.5 62.9,294.5 63,295.5 63.1,296 63.4,297 63.6,298 63.4,299 63.1,299.8 62.9,300.5 62.6,301.3 62.1,302 61.6,302.4 61.1,302.6 60.1,302.8 59.1,302.9 58.1,302.9 57.1,303 56.6,303.1 55.6,303.2 54.6,303.3 53.6,303.5 53.1,303.6 52.1,304 51.6,304.1Z M84.1,298.1 83.3,298 82.7,297.5 82.4,297 82.1,296 82,295.5 81.6,294.8 81.1,294.4 80.6,293.7 80.5,293 80.6,292.4 81.1,291.8 81.6,291.4 82.1,290.8 82.4,290 82.4,289 82.2,288 82.1,287.5 82,286.5 82.1,285.7 82.3,285 82.9,284.5 83.3,284.5 83.8,285 84.1,285.6 84.4,286.5 84.6,287 85.1,287.8 85.5,288.5 85.6,289 85.6,289.5 85.3,290.5 85.1,291.3 84.9,292 84.6,292.5 84.1,293 83.5,293.5 83.2,294.5 83.6,295 84.2,295.5 84.6,296 85,297 84.6,297.9 84.1,298.1Z M53.6,303 52.6,303.2 51.6,303.4 50.6,303.5 49.6,303.4 48.6,303.4 47.6,303.3 46.6,303.2 45.6,303 45.1,303 44.1,302.8 43.6,302.4 43.3,301.5 43.3,300.5 43.3,299.5 43.1,298.7 42.8,298 42.4,297.5 42.1,297 42,296 42,295 42,294 42,293 42,292 42,291 42,290 42,289 42,288 42,287 42,286 42,285 42.1,284.4 42.6,283.8 43.1,283.3 43.6,282.9 44.4,282.5 45.1,282.2 45.7,282 46.6,281.7 47.2,281.5 48.1,281.3 49.1,281.3 50.1,281.4 51,281.5 51.6,281.6 52.6,281.9 53.1,282.1 54.1,282.4 54.7,282.5 55.6,282.5 56.4,282.5 57.1,282.4 58.1,282.4 58.9,282.5 59.6,282.7 60.6,282.9 61.1,283.1 62.1,283.5 62.6,283.8 63.1,284.3 63.4,285 63.1,286 62.7,286.5 62.2,287 61.8,287.5 61.7,288.5 62,289.5 62.1,290.5 62.1,290.5 62,291.5 62,292.5 62.1,293 62.4,294 62.5,295 62.5,296 62.6,296.9 62.7,297.5 62.8,298.5 62.6,299.5 62.5,300 62.1,301 61.8,301.5 61.1,302 60.6,302.2 59.6,302.4 58.6,302.4 57.6,302.5 57.1,302.5 56.1,302.7 55.1,302.8 54.1,302.9 53.6,303Z M54.6,302.5 53.6,302.6 52.6,302.8 51.6,303 50.6,303 49.6,302.9 48.6,302.8 47.6,302.7 46.6,302.5 46.1,302.4 45.1,302.3 44.4,302 44,301.5 43.8,300.5 43.8,299.5 43.6,298.7 43.3,298 43,297.5 42.6,297 42.1,296.2 42.1,295.5 42,294.5 42.1,293.5 42.1,292.5 42.1,291.5 42.1,290.5 42.1,290 42.2,289 42.2,288 42.1,287.5 42.1,286.5 42.1,285.5 42.2,285 42.6,284.3 43.1,283.7 43.6,283.3 44.1,283 45.1,282.6 45.6,282.4 46.6,282.1 47.1,281.9 48.1,281.7 49.1,281.8 50.1,281.9 51.1,282 51.6,282.1 52.6,282.5 53.1,282.7 54,283 54.6,283.1 55.6,283.2 56.6,283.2 57.6,283.1 58.6,283.1 59.6,283.2 60.6,283.4 61.1,283.6 61.8,284 62.4,284.5 62.4,285.5 62.1,286 61.6,286.5 61.1,287.3 61,288 61.1,288.6 61.4,289.5 61.6,290.5 61.5,291.5 61.5,292.5 61.6,293 61.9,294 62.1,295 62.1,296 62,297 62.1,297.7 62.2,298.5 62.1,299.5 62,300 61.6,300.9 61.1,301.5 60.6,301.7 59.6,302 59.1,302 58.1,302.1 57.1,302.2 56.1,302.3 55.1,302.5 54.6,302.5Z M51.6,302.6 50.6,302.6 49.6,302.6 49.1,302.5 48.1,302.4 47.1,302.1 46.6,302 45.6,301.8 45,301.5 44.5,301 44.3,300 44.2,299 44,298.5 43.6,297.7 43.1,297 42.8,296.5 42.5,296 42.2,295 42.4,294 42.6,293 42.5,292 42.5,291 42.5,290 42.6,289 42.5,288 42.4,287 42.3,286 42.6,285 42.9,284.5 43.3,284 43.9,283.5 44.6,283.1 45.1,282.9 46.1,282.6 46.6,282.4 47.6,282.2 48.6,282.2 49.6,282.3 50.6,282.4 51.2,282.5 52.1,282.8 52.6,283.1 53.6,283.5 54.1,283.6 55.1,283.7 56.1,283.9 56.8,284 57.6,284.1 58.5,284 59.1,283.9 60.1,283.9 60.6,284.1 61.3,284.5 61.6,285 61.5,285.5 61.1,286 60.6,286.7 60.4,287.5 60.5,288.5 60.7,289 61.1,290 61.1,290.5 61.1,291.2 61,292 61.1,292.7 61.3,293.5 61.6,294.4 61.7,295 61.6,296 61.6,296.5 61.5,297.5 61.6,298.1 61.7,299 61.6,299.6 61.3,300.5 60.9,301 60.1,301.5 59.6,301.6 58.6,301.7 57.6,301.8 56.6,301.9 56,302 55.1,302.1 54.1,302.2 53.1,302.3 52.1,302.5 51.6,302.6Z M52.6,302 51.6,302.2 50.6,302.3 49.6,302.2 48.6,302.1 48.1,302 47.1,301.7 46.5,301.5 45.6,301.2 45.1,300.7 44.8,300 44.6,299 44.6,298.5 44.1,297.5 43.8,297 43.4,296.5 43,296 42.8,295 43,294 43.2,293.5 43.2,292.5 43.1,292 42.9,291 42.9,290 42.9,289 42.9,288 42.8,287 42.7,286 43,285 43.3,284.5 43.7,284 44.5,283.5 45.1,283.2 46,283 46.6,282.9 47.6,282.7 48.6,282.7 49.6,282.8 50.6,282.9 51.1,283 52.1,283.4 52.6,283.6 53.6,284 54.1,284.1 55.1,284.3 56,284.5 56.6,284.8 57.2,285 58.1,285.2 59.1,285.2 60,285.5 59.8,286.5 59.8,287.5 60,288.5 60.2,289 60.6,289.9 60.7,290.5 60.7,291.5 60.7,292.5 60.9,293.5 61.1,294 61.3,295 61.2,296 61.1,296.8 61,297.5 61.1,298.4 61.2,299 61.1,299.7 60.8,300.5 60.2,301 59.6,301.2 58.6,301.3 57.6,301.4 57,301.5 56.1,301.7 55.1,301.8 54.1,301.8 53.1,301.9 52.6,302Z M54.1,301.5 53.1,301.6 52.1,301.8 51.1,301.9 50.1,301.9 49.1,301.8 48.1,301.6 47.6,301.5 46.6,301.1 46.1,300.9 45.6,300.5 45.2,299.5 45.1,298.5 45.1,298 44.7,297 44.4,296.5 44,296 44,295 44.6,294.7 45,294 44.6,293.4 44.1,292.7 43.7,292 43.5,291.5 43.3,290.5 43.2,289.5 43.2,288.5 43.2,287.5 43.1,286.8 43.1,286 43.1,285.5 43.6,284.6 44.1,284.1 44.6,283.8 45.6,283.5 46.1,283.5 46.6,283.5 47,284.5 47.1,285.4 47.8,285 48.2,284.5 48.6,284 49.6,283.6 50.4,283.5 50.6,283.5 51.6,283.7 52.2,284 53.1,284.4 53.6,284.5 54.6,284.8 55.5,285 56.1,285.3 56.6,285.5 57.6,286 58.1,286.2 58.7,286.5 59.1,287.3 59.3,288 59.6,288.7 60,289.5 60.2,290 60.4,291 60.3,292 60.4,293 60.6,293.7 60.9,294.5 60.9,295.5 60.7,296.5 60.6,297 60.5,298 60.6,298.7 60.6,299.5 60.5,300 60.1,300.5 59.1,300.9 58.4,301 57.6,301.1 56.6,301.2 55.6,301.4 54.6,301.5 54.1,301.5Z M51.6,301.6 50.6,301.6 49.6,301.6 48.9,301.5 48.1,301.3 47.3,301 46.6,300.6 46.1,300.2 45.7,299.5 45.7,298.5 46.1,297.5 46.5,297 47.1,296.5 47.6,296.2 48.1,295.9 48.3,295 47.8,294.5 47.1,294.1 46.6,293.7 46.1,293.4 45.6,293 45,292.5 44.5,292 44.1,291.5 43.7,290.5 43.6,290 43.5,289 43.5,288 43.5,287 43.5,286 43.6,285.4 44.1,284.7 44.6,284.3 45.6,284.2 45.9,285 46.1,285.8 46.6,286.5 47.1,286.6 47.6,286.4 48.1,285.9 48.6,285.2 49.1,284.7 49.6,284.3 50.6,284.1 51.6,284.3 52.1,284.5 53.1,284.9 53.6,285.1 54.6,285.5 55.1,285.7 55.9,286 56.6,286.3 57.1,286.6 57.9,287 58.4,287.5 58.7,288 59.1,288.8 59.5,289.5 59.8,290 60,291 60,292 60,293 60.2,293.5 60.5,294.5 60.5,295.5 60.3,296.5 60.1,297.1 60,298 60.1,299 59.9,300 59.1,300.5 58.6,300.6 57.6,300.7 56.6,300.9 56.1,301 55.1,301.1 54.1,301.2 53.1,301.3 52.1,301.5 51.6,301.6Z M53.1,301 52.1,301.2 51.1,301.3 50.1,301.3 49.1,301.2 48.2,301 47.6,300.7 47.1,300.5 46.6,300 46.3,299 46.6,298.1 47.1,297.6 47.6,297.3 48.3,297 49.1,296.6 49.6,296.1 49.9,295.5 49.6,294.5 49.1,294.1 48.6,293.8 47.9,293.5 47.1,293.2 46.6,292.9 46,292.5 45.3,292 44.7,291.5 44.3,291 44,290.5 43.8,289.5 43.8,288.5 43.9,287.5 44,286.5 44.1,285.7 44.6,285.1 45.2,285.5 45.6,286.4 46.1,287 46.6,287.3 47.6,287.2 48.1,286.7 48.5,286 49,285.5 49.5,285 50.1,284.7 51.1,284.7 52,285 52.6,285.3 53.1,285.7 53.6,286 54.1,286.5 55.1,286.9 55.8,287 56.6,287.2 57.3,287.5 57.8,288 58.2,288.5 58.6,289.1 59.1,289.7 59.5,290.5 59.6,291 59.6,292 59.7,293 60,294 60.1,294.5 60.2,295.5 60,296 59.7,297 59.5,297.5 59.4,298.5 59.3,299.5 58.7,300 58.1,300.1 57.1,300.4 56.6,300.5 55.6,300.7 54.6,300.8 53.6,300.9 53.1,301Z M51.1,301 50.1,301 49.6,301 48.6,300.8 47.9,300.5 47.2,300 46.9,299.5 47.1,298.5 47.6,298.1 48.1,297.8 48.7,297.5 49.5,297 50,296.5 50.3,296 50.6,295.3 50.6,294.7 50.2,294 49.6,293.6 49.1,293.3 48.3,293 47.6,292.7 47.1,292.5 46.1,292 45.6,291.7 45.1,291.3 44.6,290.7 44.3,290 44.1,289 44.3,288 44.6,287.3 45.6,287.3 46.1,287.6 47,288 47.3,288 48.1,287.5 48.4,287 48.7,286.5 49.1,285.9 49.6,285.4 50.6,285.1 51.6,285.4 52.1,285.7 52.6,286.2 53.1,286.9 53.6,287.4 54.1,287.6 55.1,287.7 56.1,287.8 56.6,288 57.3,288.5 57.7,289 58.1,289.5 58.6,290 59.1,290.7 59.3,291.5 59.4,292.5 59.5,293.5 59.6,294 59.8,295 59.6,296 59.4,296.5 59.1,297.1 58.6,298 58.5,298.5 58.1,299.2 57.6,299.6 56.8,300 56.1,300.3 55.1,300.5 54.6,300.5 53.6,300.6 52.6,300.8 51.6,301 51.1,301Z M52.6,300.5 51.6,300.7 50.6,300.7 49.6,300.6 48.9,300.5 48.1,300.1 47.6,299.5 47.6,299 48,298.5 48.6,298.2 49.1,297.9 49.6,297.5 50.1,297 50.6,296.3 51.1,295.5 51.3,295 51.2,294 50.7,293.5 50.1,293.2 49.6,292.9 48.6,292.5 48.1,292.3 47.3,292 46.6,291.7 46.1,291.4 45.4,291 44.9,290.5 44.6,289.9 44.5,289 44.6,288.4 45.1,287.9 45.7,288 46.6,288.4 47.1,288.6 47.7,288.5 48.3,288 48.6,287.5 49.1,286.5 49.5,286 50.1,285.7 51.1,285.7 51.6,286 52.1,286.6 52.6,287.2 53.1,287.7 53.7,288 54.6,288.2 55.6,288.3 56.2,288.5 56.9,289 57.3,289.5 57.7,290 58.3,290.5 58.7,291 59,292 59.1,292.9 59.2,293.5 59.4,294.5 59.3,295.5 59.1,296.1 58.6,296.9 58.2,297.5 57.8,298 57.5,298.5 57.1,299 56.6,299.5 55.6,300 55.1,300.1 54.1,300.3 53.1,300.4 52.6,300.5Z M53.6,300 52.6,300.2 51.6,300.4 50.6,300.3 49.6,300.2 49,300 48.5,299.5 48.6,299 49.1,298.5 49.7,298 50.1,297.5 50.6,296.9 51.1,296.3 51.6,295.5 51.9,295 52.2,294.5 52.1,293.6 51.6,293.3 51.1,293 50.1,292.6 49.6,292.4 48.6,292 48.1,291.7 47.6,291.5 46.6,291.1 46.1,290.9 45.5,290.5 45.1,290 45,289 45.6,288.6 46.6,289 47.1,289.2 48,289 48.5,288.5 48.8,288 49.1,287.3 49.6,286.5 50.1,286.2 51.1,286.4 51.6,286.9 52.1,287.4 52.6,287.8 53.1,288.1 54.1,288.5 54.6,288.6 55.6,288.8 56.1,289 56.6,289.5 57.1,290.1 57.6,290.6 58.1,291 58.6,291.9 58.7,292.5 58.9,293.5 59,294.5 58.9,295.5 58.6,296.1 58.1,296.8 57.6,297.4 57.1,298 56.8,298.5 56.4,299 55.8,299.5 55.1,299.8 54.1,300 53.6,300Z M52.1,300 51.1,300 50.6,299.9 49.8,299.5 49.9,298.5 50.2,298 50.6,297.4 51.1,296.8 51.6,296.2 52.1,295.6 52.6,295.1 53.1,294.6 53.6,294.1 54,293.5 53.6,292.8 52.6,292.8 51.6,292.6 51.1,292.5 50.1,292.1 49.6,291.9 48.7,291.5 48.1,291 47.7,290.5 48.1,289.8 48.6,289.1 49,288.5 49.3,288 49.6,287.3 50.1,286.8 50.9,287 51.5,287.5 52.1,287.9 52.6,288.2 53.2,288.5 54.1,288.8 54.8,289 55.6,289.3 56.1,289.7 56.6,290.4 57.1,290.9 57.6,291.2 58.1,291.8 58.4,292.5 58.5,293.5 58.6,294.4 58.6,294.5 58.4,295.5 58.1,296.1 57.6,296.7 57.1,297.3 56.6,298 56.3,298.5 55.8,299 55.1,299.4 54.6,299.6 53.6,299.7 52.6,299.9 52.1,300Z M53.1,299.5 52.1,299.7 51.1,299.6 50.6,299.2 50.4,298.5 50.7,298 51.1,297.3 51.6,296.7 52.1,296.2 52.6,295.7 53.1,295.3 53.6,294.9 54.1,294.5 54.6,293.7 54.9,293 54.6,292.2 53.6,292.1 52.6,292.2 51.6,292.2 51,292 50.1,291.7 49.6,291.5 48.9,291 48.7,290 49.1,289.1 49.5,288.5 49.8,288 50.6,287.6 51.4,288 52.1,288.3 52.6,288.6 53.6,289 54.1,289.2 55.1,289.5 55.6,289.9 56,290.5 56.4,291 57.1,291.5 57.6,291.9 58,292.5 58.1,293 58.2,294 58.1,295 57.9,295.5 57.6,296.1 57.1,296.7 56.6,297.4 56.2,298 55.8,298.5 55.1,299 54.6,299.2 53.6,299.4 53.1,299.5Z M53.6,291.6 52.6,291.8 51.6,291.8 50.6,291.5 50.1,291.3 49.6,291 49.2,290 49.6,289 50,288.5 50.6,288.2 51.6,288.4 52.1,288.6 52.9,289 53.6,289.3 54.1,289.5 54.9,290 55.2,290.5 55.1,291 54.1,291.4 53.6,291.6Z M53.6,299.1 52.6,299.3 51.6,299.2 51.1,298.9 51.1,298.1 51.4,297.5 51.9,297 52.4,296.5 53,296 53.6,295.6 54.1,295.2 54.6,294.6 55,294 55.2,293.5 55.6,292.6 56,292 56.6,291.9 57.1,292.1 57.6,292.6 57.8,293.5 57.8,294.5 57.6,295.2 57.1,296 56.8,296.5 56.4,297 56,297.5 55.6,298.1 55.1,298.5 54.1,299 53.6,299.1Z M53.6,291.1 53.1,291.3 52.6,291.4 52.1,291.5 51.6,291.4 51.1,291.3 50.6,291.2 50.3,291 50.1,290.9 49.8,290.5 49.6,290 49.8,289.5 50.1,289 50.1,289 50.6,288.7 51.1,288.7 51.6,288.8 52.1,288.9 52.3,289 52.6,289.1 53.1,289.4 53.3,289.5 53.6,289.7 54,290 54.1,290.2 54.2,290.5 54.1,290.6 53.7,291 53.6,291.1Z M54.1,298.5 53.1,298.7 52.1,298.8 51.7,298 52.1,297.4 52.6,296.9 53.2,296.5 53.9,296 54.5,295.5 54.9,295 55.2,294.5 55.6,293.8 56.1,293 56.6,292.7 57.2,293 57.4,294 57.2,295 56.9,295.5 56.6,296 56.1,296.7 55.6,297.4 55.1,298 54.6,298.3 54.1,298.5Z M52.6,291 52.1,291.1 51.6,291.1 51.2,291 51.1,291 50.6,290.7 50.3,290.5 50.1,290 50.3,289.5 50.6,289.2 51.1,289.1 51.6,289.1 52.1,289.3 52.6,289.5 52.7,289.5 53.1,289.8 53.3,290 53.4,290.5 53.1,290.8 52.7,291 52.6,291Z M54.1,297.7 53.3,297.5 53.9,297 54.5,296.5 55,296 55.4,295.5 55.7,295 56.1,294.3 56.6,294 56.6,294.5 56.4,295 56.1,295.6 55.6,296.2 55.1,297 54.6,297.5 54.1,297.7Z M52.1,290.6 51.6,290.7 51.1,290.5 51.1,290.5 50.7,290 51.1,289.6 51.6,289.5 51.6,289.5 51.6,289.5 52.1,289.7 52.6,290 52.5,290.5 52.1,290.6Z" fill="none" stroke="#000" stroke-width="0.55" stroke-linejoin="round"/>
<rect x="42.0" y="303.9" width="46.0" height="1.4" fill="#000" opacity="1"/><rect x="41.2" y="281.0" width="1.6" height="24.0" fill="#000" opacity="1"/>
<rect x="41.60" y="222.50" width="83" height="82.5" fill="none" stroke="#000" stroke-width="1"/>
<text class="t2" x="36.70" y="307.00" font-size="4.7" text-anchor="end">10<tspan font-size="3.9" dy="-2.9">0</tspan></text>
<line x1="40.00" y1="305.00" x2="41.60" y2="305.00" stroke="#000" stroke-width="0.8" />
<text class="t2" x="41.80" y="314.00" font-size="4.7" text-anchor="middle">10<tspan font-size="3.9" dy="-2.9">0</tspan></text>
<line x1="41.60" y1="305.00" x2="41.60" y2="306.60" stroke="#000" stroke-width="0.8" />
<text class="t2" x="36.70" y="286.38" font-size="4.7" text-anchor="end">10<tspan font-size="3.9" dy="-2.9">1</tspan></text>
<line x1="40.00" y1="284.38" x2="41.60" y2="284.38" stroke="#000" stroke-width="0.8" />
<text class="t2" x="62.55" y="314.00" font-size="4.7" text-anchor="middle">10<tspan font-size="3.9" dy="-2.9">1</tspan></text>
<line x1="62.35" y1="305.00" x2="62.35" y2="306.60" stroke="#000" stroke-width="0.8" />
<text class="t2" x="36.70" y="265.75" font-size="4.7" text-anchor="end">10<tspan font-size="3.9" dy="-2.9">2</tspan></text>
<line x1="40.00" y1="263.75" x2="41.60" y2="263.75" stroke="#000" stroke-width="0.8" />
<text class="t2" x="83.30" y="314.00" font-size="4.7" text-anchor="middle">10<tspan font-size="3.9" dy="-2.9">2</tspan></text>
<line x1="83.10" y1="305.00" x2="83.10" y2="306.60" stroke="#000" stroke-width="0.8" />
<text class="t2" x="36.70" y="245.12" font-size="4.7" text-anchor="end">10<tspan font-size="3.9" dy="-2.9">3</tspan></text>
<line x1="40.00" y1="243.12" x2="41.60" y2="243.12" stroke="#000" stroke-width="0.8" />
<text class="t2" x="104.05" y="314.00" font-size="4.7" text-anchor="middle">10<tspan font-size="3.9" dy="-2.9">3</tspan></text>
<line x1="103.85" y1="305.00" x2="103.85" y2="306.60" stroke="#000" stroke-width="0.8" />
<text class="t2" x="36.70" y="224.50" font-size="4.7" text-anchor="end">10<tspan font-size="3.9" dy="-2.9">4</tspan></text>
<line x1="40.00" y1="222.50" x2="41.60" y2="222.50" stroke="#000" stroke-width="0.8" />
<text class="t2" x="124.80" y="314.00" font-size="4.7" text-anchor="middle">10<tspan font-size="3.9" dy="-2.9">4</tspan></text>
<line x1="124.60" y1="305.00" x2="124.60" y2="306.60" stroke="#000" stroke-width="0.8" />
<line x1="47.85" y1="305.00" x2="47.85" y2="303.70" stroke="#000" stroke-width="0.6" />
<line x1="41.60" y1="298.79" x2="42.90" y2="298.79" stroke="#000" stroke-width="0.6" />
<line x1="51.50" y1="305.00" x2="51.50" y2="303.70" stroke="#000" stroke-width="0.6" />
<line x1="41.60" y1="295.16" x2="42.90" y2="295.16" stroke="#000" stroke-width="0.6" />
<line x1="54.09" y1="305.00" x2="54.09" y2="303.70" stroke="#000" stroke-width="0.6" />
<line x1="41.60" y1="292.58" x2="42.90" y2="292.58" stroke="#000" stroke-width="0.6" />
<line x1="56.10" y1="305.00" x2="56.10" y2="303.70" stroke="#000" stroke-width="0.6" />
<line x1="41.60" y1="290.58" x2="42.90" y2="290.58" stroke="#000" stroke-width="0.6" />
<line x1="57.75" y1="305.00" x2="57.75" y2="303.70" stroke="#000" stroke-width="0.6" />
<line x1="41.60" y1="288.95" x2="42.90" y2="288.95" stroke="#000" stroke-width="0.6" />
<line x1="59.14" y1="305.00" x2="59.14" y2="303.70" stroke="#000" stroke-width="0.6" />
<line x1="41.60" y1="287.57" x2="42.90" y2="287.57" stroke="#000" stroke-width="0.6" />
<line x1="60.34" y1="305.00" x2="60.34" y2="303.70" stroke="#000" stroke-width="0.6" />
<line x1="41.60" y1="286.37" x2="42.90" y2="286.37" stroke="#000" stroke-width="0.6" />
<line x1="61.40" y1="305.00" x2="61.40" y2="303.70" stroke="#000" stroke-width="0.6" />
<line x1="41.60" y1="285.32" x2="42.90" y2="285.32" stroke="#000" stroke-width="0.6" />
<line x1="68.60" y1="305.00" x2="68.60" y2="303.70" stroke="#000" stroke-width="0.6" />
<line x1="41.60" y1="278.17" x2="42.90" y2="278.17" stroke="#000" stroke-width="0.6" />
<line x1="72.25" y1="305.00" x2="72.25" y2="303.70" stroke="#000" stroke-width="0.6" />
<line x1="41.60" y1="274.53" x2="42.90" y2="274.53" stroke="#000" stroke-width="0.6" />
<line x1="74.84" y1="305.00" x2="74.84" y2="303.70" stroke="#000" stroke-width="0.6" />
<line x1="41.60" y1="271.96" x2="42.90" y2="271.96" stroke="#000" stroke-width="0.6" />
<line x1="76.85" y1="305.00" x2="76.85" y2="303.70" stroke="#000" stroke-width="0.6" />
<line x1="41.60" y1="269.96" x2="42.90" y2="269.96" stroke="#000" stroke-width="0.6" />
<line x1="78.50" y1="305.00" x2="78.50" y2="303.70" stroke="#000" stroke-width="0.6" />
<line x1="41.60" y1="268.33" x2="42.90" y2="268.33" stroke="#000" stroke-width="0.6" />
<line x1="79.89" y1="305.00" x2="79.89" y2="303.70" stroke="#000" stroke-width="0.6" />
<line x1="41.60" y1="266.94" x2="42.90" y2="266.94" stroke="#000" stroke-width="0.6" />
<line x1="81.09" y1="305.00" x2="81.09" y2="303.70" stroke="#000" stroke-width="0.6" />
<line x1="41.60" y1="265.75" x2="42.90" y2="265.75" stroke="#000" stroke-width="0.6" />
<line x1="82.15" y1="305.00" x2="82.15" y2="303.70" stroke="#000" stroke-width="0.6" />
<line x1="41.60" y1="264.69" x2="42.90" y2="264.69" stroke="#000" stroke-width="0.6" />
<line x1="89.35" y1="305.00" x2="89.35" y2="303.70" stroke="#000" stroke-width="0.6" />
<line x1="41.60" y1="257.54" x2="42.90" y2="257.54" stroke="#000" stroke-width="0.6" />
<line x1="93.00" y1="305.00" x2="93.00" y2="303.70" stroke="#000" stroke-width="0.6" />
<line x1="41.60" y1="253.91" x2="42.90" y2="253.91" stroke="#000" stroke-width="0.6" />
<line x1="95.59" y1="305.00" x2="95.59" y2="303.70" stroke="#000" stroke-width="0.6" />
<line x1="41.60" y1="251.33" x2="42.90" y2="251.33" stroke="#000" stroke-width="0.6" />
<line x1="97.60" y1="305.00" x2="97.60" y2="303.70" stroke="#000" stroke-width="0.6" />
<line x1="41.60" y1="249.33" x2="42.90" y2="249.33" stroke="#000" stroke-width="0.6" />
<line x1="99.25" y1="305.00" x2="99.25" y2="303.70" stroke="#000" stroke-width="0.6" />
<line x1="41.60" y1="247.70" x2="42.90" y2="247.70" stroke="#000" stroke-width="0.6" />
<line x1="100.64" y1="305.00" x2="100.64" y2="303.70" stroke="#000" stroke-width="0.6" />
<line x1="41.60" y1="246.32" x2="42.90" y2="246.32" stroke="#000" stroke-width="0.6" />
<line x1="101.84" y1="305.00" x2="101.84" y2="303.70" stroke="#000" stroke-width="0.6" />
<line x1="41.60" y1="245.12" x2="42.90" y2="245.12" stroke="#000" stroke-width="0.6" />
<line x1="102.90" y1="305.00" x2="102.90" y2="303.70" stroke="#000" stroke-width="0.6" />
<line x1="41.60" y1="244.07" x2="42.90" y2="244.07" stroke="#000" stroke-width="0.6" />
<line x1="110.10" y1="305.00" x2="110.10" y2="303.70" stroke="#000" stroke-width="0.6" />
<line x1="41.60" y1="236.92" x2="42.90" y2="236.92" stroke="#000" stroke-width="0.6" />
<line x1="113.75" y1="305.00" x2="113.75" y2="303.70" stroke="#000" stroke-width="0.6" />
<line x1="41.60" y1="233.28" x2="42.90" y2="233.28" stroke="#000" stroke-width="0.6" />
<line x1="116.34" y1="305.00" x2="116.34" y2="303.70" stroke="#000" stroke-width="0.6" />
<line x1="41.60" y1="230.71" x2="42.90" y2="230.71" stroke="#000" stroke-width="0.6" />
<line x1="118.35" y1="305.00" x2="118.35" y2="303.70" stroke="#000" stroke-width="0.6" />
<line x1="41.60" y1="228.71" x2="42.90" y2="228.71" stroke="#000" stroke-width="0.6" />
<line x1="120.00" y1="305.00" x2="120.00" y2="303.70" stroke="#000" stroke-width="0.6" />
<line x1="41.60" y1="227.08" x2="42.90" y2="227.08" stroke="#000" stroke-width="0.6" />
<line x1="121.39" y1="305.00" x2="121.39" y2="303.70" stroke="#000" stroke-width="0.6" />
<line x1="41.60" y1="225.69" x2="42.90" y2="225.69" stroke="#000" stroke-width="0.6" />
<line x1="122.59" y1="305.00" x2="122.59" y2="303.70" stroke="#000" stroke-width="0.6" />
<line x1="41.60" y1="224.50" x2="42.90" y2="224.50" stroke="#000" stroke-width="0.6" />
<line x1="123.65" y1="305.00" x2="123.65" y2="303.70" stroke="#000" stroke-width="0.6" />
<line x1="41.60" y1="223.44" x2="42.90" y2="223.44" stroke="#000" stroke-width="0.6" />
<rect x="74.50" y="230.00" width="25.00" height="30.50" fill="none" stroke="#000" stroke-width="0.9"/>
<text x="52.00" y="235.50" font-size="12.15" text-anchor="start" font-weight="normal" fill="#000" >2.1</text>
<path d="M78.7,377.8h0.5M91.8,397.2h0.5M72,383.4h0.5M60.2,376.3h0.5M61.6,368.2h0.5M70.4,375.2h0.5M76.6,381.3h0.5M75.5,384.1h0.5M69.1,383h0.5M76.9,388.1h0.5M70.8,392.1h0.5M73,388.1h0.5M68,384.4h0.5M91.2,390.4h0.5M78.2,375.3h0.5M73.7,384.8h0.5M95.6,391.3h0.5M70.2,382.6h0.5M70.4,387.6h0.5M64.9,379.2h0.5M83.8,378.9h0.5M59.9,373.7h0.5M85.9,381.8h0.5M62.5,378.4h0.5M75.3,389.1h0.5M63.8,373h0.5M79.5,372.4h0.5M58.3,374.7h0.5M77.4,378.5h0.5M91.7,399.6h0.5M66.1,381.4h0.5M76.3,382.3h0.5M77.4,380.2h0.5M99.9,389.6h0.5M72.7,383h0.5M69.9,386.8h0.5M105.9,398.4h0.5M69.8,390.8h0.5M66.9,383.7h0.5M67.3,382.8h0.5M87.6,385.8h0.5M70.1,372.1h0.5M57.1,373.6h0.5M107.8,388.9h0.5M97.5,385.6h0.5M65.7,378.5h0.5M58.2,372.5h0.5M90.5,383.3h0.5M70.1,385h0.5M80.2,371.9h0.5M99.1,392.7h0.5M78.8,387.6h0.5M68.3,373.5h0.5M63.1,378.2h0.5M91.1,404.1h0.5M96.5,395.3h0.5M82.5,378.9h0.5M75.4,371.5h0.5M78.8,381h0.5M62.9,369.7h0.5M73.3,383.1h0.5M62.8,378.7h0.5M76.3,383.3h0.5M71.7,392.6h0.5M94.5,390.8h0.5M78.7,387.9h0.5M88,387.8h0.5M58.9,376.9h0.5M77.5,389.6h0.5M83.1,372.5h0.5M67.8,377.6h0.5M68.5,389.5h0.5M75.7,382h0.5M69.9,386.7h0.5M54.2,376.7h0.5M49.6,375h0.5M72.4,393.3h0.5M67.8,382h0.5M90.2,391.8h0.5M72.2,376.2h0.5M85.9,375.2h0.5M74.5,388.2h0.5M94.3,400h0.5M76.6,376.9h0.5M101.8,397.8h0.5M69.9,380h0.5M57.7,373.4h0.5M73.6,388.8h0.5M90.5,398.3h0.5M67.7,383.5h0.5M61.9,377.8h0.5M72,368.2h0.5M75.5,388.6h0.5M63.3,371.1h0.5M70,386.5h0.5M67.3,373.6h0.5M75.5,377.3h0.5M67.9,388.3h0.5M86.3,379.7h0.5M93.5,378.2h0.5M65.3,380.1h0.5M68.6,382.2h0.5M72.5,385.9h0.5M65.6,378.3h0.5M76.7,388.9h0.5M87.1,382.5h0.5M100.2,398h0.5M80.5,375.5h0.5M68.4,367.9h0.5M73.2,393.6h0.5M71.8,390.4h0.5M69.8,391.2h0.5M73.1,382.1h0.5M68.2,371.3h0.5M49.4,374.5h0.5M75.2,391.9h0.5M97.3,404h0.5M67.4,385.2h0.5M80.5,370.6h0.5M77.3,382h0.5M71.3,391.6h0.5M91.2,393.2h0.5M67.7,373.5h0.5M75.3,385.6h0.5M50.5,376.7h0.5M70.3,381.2h0.5M43.9,373.8h0.5M54.6,376.5h0.5M56.5,369.2h0.5M47.9,372.7h0.5M68.5,376.5h0.5M64.4,378.5h0.5M67.8,380.8h0.5M59.3,375.5h0.5M46.7,377.4h0.5M80.7,379.2h0.5M42.9,377.7h0.5M65.9,378h0.5M56.9,368h0.5M65.1,379.7h0.5M69.5,378.2h0.5M48.6,376.2h0.5M65.8,380.2h0.5M66.3,379.5h0.5M66.5,378.2h0.5M60.7,372.7h0.5M65.7,379.7h0.5M55.4,373.9h0.5M63.9,373.5h0.5M51.9,373.3h0.5M49.4,374.2h0.5M67.2,377h0.5M55.5,375.1h0.5M43.4,373.7h0.5M60,376.8h0.5M67.9,381.8h0.5M51.5,374h0.5M42.7,374.7h0.5M62.8,375h0.5M80.8,382.5h0.5M64.2,374.2h0.5M55.6,374h0.5M46.9,373.7h0.5M72.1,376.2h0.5M50.7,374.1h0.5M72.8,371.8h0.5M78.6,379.4h0.5M56.7,370.5h0.5M57.6,369.7h0.5M72.5,369.9h0.5M65.5,374.6h0.5M62.6,372.3h0.5M53.2,374.4h0.5M43.7,373.4h0.5M47.3,375.3h0.5M67.1,379.4h0.5M45,368.2h0.5M55.4,374.1h0.5M50.7,376.2h0.5M64,375.7h0.5M71.2,371.2h0.5M68.4,374.3h0.5M60.1,372.3h0.5M43.2,376.8h0.5M62,376.3h0.5M60.3,375.6h0.5M60.6,371.6h0.5M74.5,379.6h0.5M62.7,374.6h0.5M62.3,372.7h0.5M61,371.1h0.5M62.5,377.3h0.5M49.4,373.3h0.5M46.1,371.1h0.5M69.8,372.2h0.5M60.9,376.5h0.5M65.4,379.4h0.5M61.8,372.7h0.5M49.1,371.3h0.5M60.9,370.3h0.5M61.5,376.4h0.5M48.6,372.9h0.5M57.9,374.4h0.5M44.8,373.5h0.5M66.6,376.3h0.5M47,372.2h0.5M64.9,374.8h0.5M60.5,375h0.5M69.5,378.3h0.5M50.9,367.4h0.5M69.6,375h0.5M59.1,371.2h0.5M52.2,375.8h0.5M67.6,375.9h0.5M69.3,379.3h0.5M63.4,377.6h0.5M53.5,373h0.5M56.9,373.4h0.5M53.8,373.4h0.5M59.8,376.7h0.5M71.9,376.2h0.5M59.9,378h0.5M48.3,374.1h0.5M59.4,374.1h0.5M72.2,373.7h0.5M57.2,375.2h0.5M57.8,376.3h0.5M69.1,378.7h0.5M51.2,372.9h0.5M75.9,379.1h0.5M61.6,378.5h0.5M49,374.4h0.5M45,376.7h0.5M63.7,377h0.5M52,374.2h0.5M70.1,370.4h0.5M49.7,369h0.5M60.5,373.2h0.5M56.6,372.4h0.5M55.9,373.2h0.5M51.3,370h0.5M66.5,373.6h0.5M69.3,378.1h0.5M54.2,373.1h0.5M46.8,375.7h0.5M49.4,373.8h0.5M51.5,372.4h0.5M70.1,374h0.5M46.2,377h0.5M49.3,372.3h0.5M63.4,376.7h0.5M75,366.1h0.5M67.4,382h0.5M49.4,372.2h0.5M67,381h0.5M55.7,371.1h0.5M67.1,371.1h0.5M59.8,371.5h0.5M67.5,377.9h0.5M62.4,375.7h0.5M84.4,370.7h0.5M80.1,367.3h0.5M83.3,379.5h0.5M85,374.6h0.5M83.7,371.3h0.5M86.3,370.9h0.5M102.1,352.4h0.5M81.4,372.9h0.5M78.5,383.2h0.5M81.4,377.3h0.5M83.3,373.7h0.5M80.4,366.6h0.5M81.9,368.3h0.5M76.2,383.3h0.5M90.6,351.2h0.5M76.6,385.6h0.5M89.3,358.7h0.5M72.7,385.3h0.5M84.8,376.6h0.5M85.4,380.6h0.5M73.5,388.6h0.5M77.6,356.1h0.5M83.1,364h0.5M88.9,369.7h0.5M90.3,367.7h0.5M89.6,367.4h0.5M98,356.4h0.5M87.7,372.6h0.5M74.1,387.3h0.5M86.5,358.7h0.5M70.6,369.7h0.5M81.3,371.7h0.5M98.9,363.7h0.5M83.9,369.4h0.5M79.1,361.3h0.5M89.1,375.4h0.5M78.6,361h0.5M79.5,381.4h0.5M72.7,372.4h0.5M87,368.1h0.5M85,368.8h0.5M92.5,361.7h0.5M74.6,379.1h0.5M87.5,366.1h0.5M83.1,374.4h0.5M71.2,380.4h0.5M79.9,379.3h0.5M84.8,357.5h0.5M87.3,373.4h0.5M91.7,366.2h0.5M83.3,367.4h0.5M92.3,353.7h0.5M88.3,381.5h0.5M73.6,375.2h0.5M81.8,366.1h0.5M81.9,372.7h0.5M88.3,361.2h0.5M70.2,389.9h0.5M76.6,367.6h0.5M75,369.7h0.5M76.4,368.2h0.5M80.7,368.7h0.5M83.7,359.5h0.5M81.1,362.1h0.5M80.4,371.3h0.5M82.2,364.2h0.5M86.4,370.9h0.5M76.6,364.6h0.5M69.8,369.3h0.5M78.4,379h0.5M76.2,379.2h0.5M93.2,374.9h0.5M81.3,380.3h0.5M72.6,380.1h0.5M91.6,361.6h0.5M86,363.4h0.5M84.2,370h0.5M79.4,379.7h0.5M78.8,357.9h0.5M72.4,378.1h0.5M76.6,388.4h0.5M70.2,382.5h0.5M86.1,363.3h0.5M85.2,357.2h0.5M85.6,369.7h0.5M79.1,374.9h0.5M76.5,359.7h0.5M77.9,376.9h0.5M76.3,369.6h0.5M85.1,374.4h0.5M71.8,372.3h0.5M94,372.8h0.5M82.2,374h0.5M88.6,371.8h0.5M74.9,371.9h0.5M104.7,361h0.5M73.3,379.8h0.5M77.3,376h0.5M73.6,381.8h0.5M79,381.3h0.5M74.6,379.6h0.5M79.6,362.2h0.5M86,374.8h0.5M85.5,372.4h0.5M86,373.8h0.5M81.5,378.5h0.5M86,380.2h0.5M83.6,373.2h0.5M80.4,364.2h0.5M72.4,381.8h0.5M81.5,375h0.5M84.8,364.7h0.5M84.1,371.5h0.5M74,376h0.5M85.5,358.3h0.5M81.2,378h0.5M71,383.2h0.5M68.9,375.3h0.5M88.6,362.9h0.5M79.6,368.7h0.5M83.6,360.3h0.5M86.7,373.4h0.5M72.7,372.3h0.5M68.5,375.6h0.5M79.1,369h0.5M75.9,365.8h0.5M78.7,368.1h0.5M77.6,365.3h0.5M84,372.8h0.5M66.7,380h0.5M77,372.2h0.5M79.6,376.8h0.5M88.2,361.4h0.5M81,370.3h0.5M81.6,376.9h0.5M87.3,367.1h0.5M78.3,367.7h0.5M90.9,356.3h0.5M86.8,366.7h0.5M85.8,361.3h0.5M85.8,370.5h0.5M72.4,392.8h0.5M81.6,375.1h0.5M74.5,364.7h0.5M85.2,370.1h0.5M90.4,376.9h0.5M79.9,373.8h0.5M71.9,386.3h0.5M77.4,373h0.5M70.4,376.4h0.5M82.9,370.3h0.5M80.7,382.4h0.5M89.4,375.2h0.5M77.1,377.6h0.5M79.8,357h0.5M86,373.2h0.5M84.5,370.7h0.5M89.6,368.5h0.5M77.1,374h0.5M80.5,366.5h0.5M77.6,371.9h0.5M83.4,370.4h0.5M82,373.3h0.5M83.2,369.9h0.5M85.3,378.3h0.5M87.8,341.6h0.5M76,385.3h0.5M82.9,363.7h0.5M72,376.3h0.5M67.6,379h0.5M80.2,374.7h0.5M89.1,359.9h0.5M92.8,382.5h0.5M78.4,374.5h0.5M75.1,376.2h0.5M87,355.9h0.5M80.2,368.8h0.5M84.1,378.7h0.5M70,382.1h0.5M77.1,367.6h0.5M74.3,377.9h0.5M90.8,370.6h0.5M91.1,366.9h0.5M81.6,356.5h0.5M88.3,384.2h0.5M75.6,369.6h0.5M92,363.4h0.5M82.3,368.3h0.5M77.6,380h0.5M84.9,370.9h0.5M93.9,369.7h0.5M76.3,381.9h0.5M83.5,371.5h0.5M91.8,376.7h0.5M89.8,356.9h0.5M83.6,369h0.5M83.3,379.1h0.5M75.2,379.3h0.5M78.6,374.8h0.5M81.8,372.3h0.5M73.1,388.4h0.5M74.6,363.4h0.5M92.9,377.5h0.5M71.9,387.4h0.5M71.1,363.1h0.5M92.5,371.3h0.5M76.5,380.7h0.5M81.7,381.2h0.5M75.9,370.9h0.5M88.2,384.5h0.5M91.4,369.9h0.5M77.6,361.8h0.5M82.1,380h0.5M77.8,388.1h0.5M85.2,374.9h0.5M80.3,366.8h0.5M77,386h0.5M72.9,358.9h0.5M84.4,371.1h0.5M81.9,375h0.5M72.9,388.7h0.5M86,361.7h0.5M88.4,374.7h0.5M71.8,386.9h0.5M77.8,368.3h0.5M75.5,372.5h0.5M81.7,370.6h0.5M71.2,391.1h0.5M88.9,379.6h0.5M86.5,368.6h0.5M86.5,358.6h0.5M72.8,376.2h0.5M75.6,382.2h0.5M82.6,363.7h0.5M85.1,361.9h0.5M87.5,335.5h0.5M83.1,359.5h0.5M83,360.5h0.5M79.9,356h0.5M80.1,330.3h0.5M79.7,354.4h0.5M93.3,356.7h0.5M84.6,368.7h0.5M79.7,327.2h0.5M89.3,358h0.5M85.8,332.9h0.5M75.7,356.7h0.5M78.9,355.9h0.5M102.6,367.4h0.5M81.3,329.7h0.5M91.5,353h0.5M83.2,359.4h0.5M76.9,352.5h0.5M95.8,368.4h0.5M91.2,351.1h0.5M82.2,357.2h0.5M82.5,361.7h0.5M83.4,341.5h0.5M87.8,342.7h0.5M76.2,354.4h0.5M88.2,345.3h0.5M78.7,350.7h0.5M93,345.6h0.5M82.1,333.3h0.5M77,335.6h0.5M76.3,343.9h0.5M96.2,345.6h0.5M93.2,355h0.5M95,338.5h0.5M74.1,359.6h0.5M73.1,345.6h0.5M81.1,332h0.5M83.1,327.7h0.5M90,350.4h0.5M94.3,333h0.5M85.6,328.7h0.5M75.1,353.9h0.5M89.4,355.8h0.5M89.8,351.9h0.5M91,343.9h0.5M96.2,343.8h0.5M95.5,336.8h0.5M86.2,366.3h0.5M93.6,351.5h0.5M83.7,341.2h0.5M75.7,367.8h0.5M84.8,359.7h0.5M77.8,338.1h0.5M91.5,340.7h0.5M81.1,355.4h0.5M79.9,363h0.5M77.2,355.8h0.5M78.4,365.9h0.5M79.5,344.5h0.5M79.1,353.9h0.5M79.1,337.1h0.5M88.3,339.9h0.5M90.1,351.5h0.5M89.2,349.9h0.5M87.8,342.9h0.5M89,349.6h0.5M76.4,343.9h0.5M71.8,352.6h0.5M85.1,340.3h0.5M92.7,355.4h0.5M78.2,333h0.5M83.3,359.9h0.5M74,352.7h0.5M79.9,341.8h0.5M70.5,337.1h0.5M80.2,341.9h0.5M91.5,339.3h0.5M84.9,361.1h0.5M71.8,360.1h0.5M87.9,355.3h0.5M82.9,341.3h0.5M77.4,347.1h0.5M77.9,345.7h0.5M90.9,357.8h0.5M79.1,360.1h0.5M76.7,340.4h0.5M87,358.7h0.5M81.3,338h0.5M90,349h0.5M86.3,363.7h0.5M87.7,343.9h0.5M78.8,362.2h0.5M83.6,359.3h0.5M90.3,343.4h0.5M76.4,346.8h0.5M67.4,339.2h0.5M86.4,328.9h0.5M98.1,344.9h0.5M77.7,345.7h0.5M82.3,359.8h0.5M89.4,354.1h0.5M80.1,359h0.5M104.9,386.3h0.5M68.5,350.4h0.5M88.1,359h0.5M57.2,348.7h0.5M57.9,364.1h0.5M101,384.6h0.5M111.4,365.6h0.5M93.2,400.6h0.5M95.8,344.3h0.5M100.1,359.4h0.5M65.3,324.6h0.5M71.3,357.9h0.5M59.2,375.8h0.5M55.7,338.5h0.5M62.9,342.6h0.5M62.7,342.6h0.5M75.6,353.2h0.5M49.7,353.3h0.5M73.9,374.7h0.5M85.7,335.9h0.5M117.7,349.9h0.5M89.9,344.2h0.5M89,366.9h0.5M92.9,326.8h0.5M88,358.8h0.5M88.9,356.4h0.5M59.9,342.6h0.5M73.8,364.2h0.5M63.9,376.9h0.5M104.3,345.2h0.5M103,403.1h0.5M48.6,362.3h0.5M84.7,374.7h0.5M94.3,366h0.5M56.9,367.8h0.5M86.7,377.4h0.5M68.8,386.6h0.5M94.3,380.4h0.5M99.3,352.9h0.5M90,371h0.5M73.9,373.7h0.5M96.2,392h0.5M54.2,368.3h0.5M73.2,356.7h0.5M114.6,352.2h0.5M60.8,332.2h0.5M113.8,356.3h0.5M57.8,340.7h0.5M51.5,363.7h0.5M63.4,368.8h0.5M103.1,331.5h0.5M57.6,371.5h0.5M89.1,384.7h0.5M45.8,375.8h0.5M76.2,372.3h0.5M77.4,342.5h0.5M58.5,367.9h0.5M67.7,377.7h0.5M81,378.9h0.5M77,362.7h0.5M96.8,369.2h0.5M45.2,361.2h0.5M89.7,365.9h0.5M89.5,342.8h0.5M90.9,386.5h0.5M97.8,354h0.5M93.3,367.1h0.5M89.2,372h0.5M71.4,357.5h0.5M57.5,354.8h0.5M44.5,361.3h0.5M77.1,357.4h0.5M89.9,378.4h0.5M65.2,362.5h0.5M77.4,348.4h0.5M59.5,345.9h0.5M51,348.5h0.5M106,379.5h0.5M89.9,375h0.5M56.8,360.6h0.5M56.4,365.4h0.5M45.9,369.2h0.5M69.4,362.2h0.5M69.1,366h0.5M87.9,386.6h0.5M108,394.9h0.5M73.7,372.3h0.5M78,357.2h0.5M53.5,373.7h0.5M79.8,368.4h0.5M88.2,359.2h0.5M49.5,366.9h0.5M90.7,365.6h0.5M73.9,380.8h0.5M107,353.9h0.5M75.9,369.3h0.5M50.9,354.2h0.5M91.7,391.5h0.5M62.6,327.6h0.5M84,372.6h0.5M92,382.4h0.5M89.7,401.8h0.5M60.9,362.7h0.5M67,346.8h0.5M89.7,333h0.5M87.9,385.2h0.5M57.2,363.9h0.5M97.6,379.6h0.5M75,348h0.5M80.3,377.6h0.5M83.4,364.7h0.5M69.5,390.9h0.5M114.3,368h0.5M54.7,349.3h0.5M102.4,359.8h0.5M103.4,368.9h0.5M104.4,336.7h0.5M65.3,344h0.5M89.3,365.2h0.5M72.9,359.2h0.5M69.5,346.6h0.5M95.8,377.8h0.5M99.4,364.9h0.5M45.1,370.7h0.5M82.7,375.1h0.5M59.7,332h0.5M48.9,352.9h0.5" fill="none" stroke="#555" stroke-width="0.5"/>
<path d="M86.1,356.2 85.1,356.4 84.1,356.4 83.1,356.1 82.6,355.9 81.9,355.5 81.5,355 81.1,354.2 80.8,353.5 80.6,352.8 80.3,352 80.1,351.5 79.6,350.5 79.4,350 79.2,349 79.3,348 79.6,347 79.7,346.5 79.9,345.5 79.9,344.5 80.1,343.6 80.4,343 80.9,342.5 81.6,342.1 82.1,342 83.1,341.9 83.6,342.1 84.1,342.5 84.6,343 85.2,343.5 86.1,344 86.6,344.3 87.1,344.8 87.6,345.5 87.9,346 88.2,346.5 88.6,347.5 88.7,348 88.8,349 88.7,350 88.6,351 88.5,351.5 88.4,352.5 88.1,353.5 88,354 87.6,354.8 87.1,355.5 86.6,356 86.1,356.2Z M64.6,404.5 63.6,404.6 62.6,404.7 61.6,404.7 60.6,404.7 59.6,404.8 58.6,404.8 57.6,404.7 56.6,404.7 55.6,404.6 54.6,404.6 53.6,404.6 52.6,404.6 51.6,404.7 50.6,404.7 49.6,404.7 48.6,404.6 47.6,404.6 46.6,404.6 45.6,404.7 44.6,404.7 43.6,404.7 42.6,404.7 41.9,404.5 41.9,403.5 41.8,402.5 41.8,401.5 41.7,400.5 41.7,399.5 41.7,398.5 41.7,397.5 41.7,396.5 41.7,395.5 41.7,394.5 41.7,393.5 41.7,392.5 41.7,391.5 41.7,390.5 41.7,389.5 41.7,388.5 41.7,387.5 41.7,386.5 41.7,385.5 41.7,384.5 41.7,383.5 41.8,382.5 41.8,381.5 42,380.5 42.1,379.5 42.6,379.2 43.1,378.9 44.1,378.6 45,378.5 45.6,378.4 46.6,378.3 47.3,378 48.1,377.7 48.6,377.4 49.6,377.1 50.1,377 51.1,376.8 52.1,376.7 53.1,376.8 54.1,376.9 55.1,376.9 56.1,376.8 57.1,376.8 57.9,377 58.6,377.4 59.1,377.7 59.6,378 60.5,378.5 61.1,378.7 62.1,378.9 63.1,379 63.6,379.1 64.2,379.5 64.6,380 65.1,380.7 65.6,381.5 66,382 66.3,382.5 66.5,383.5 66.6,384 67,385 67.2,385.5 67.6,386.4 67.7,387 67.8,388 67.8,389 67.9,390 68.1,390.7 68.4,391.5 68.6,392.1 68.9,393 69.2,393.5 70.1,393.9 70.6,394 71.6,394.1 72.6,394.1 73.1,394 74.1,393.6 74.6,393.2 75.1,392.7 75.6,392.1 76.1,391.5 76.6,391 77.1,390.6 77.6,390.2 78.1,389.7 78.6,389 78.8,388.5 79,387.5 79.1,387 79.3,386 79.6,385.2 80,384.5 80.4,384 80.8,383.5 81.3,383 81.9,382.5 82.6,382.2 83.6,382 84.6,382.2 85.6,382.4 86.1,382.6 86.6,383 87,384 87.1,384.5 87.2,385.5 87.3,386.5 87.3,387.5 87.4,388.5 87.6,389.3 87.9,390 88.1,390.6 88.6,391.5 88.8,392 89.1,393 89.2,393.5 89.2,394.5 89.1,395.1 89,396 88.9,397 88.7,398 88.6,398.5 88.3,399.5 88.1,400 87.6,401 87.3,401.5 87,402 86.6,402.5 86.1,403.2 85.6,403.7 84.6,404 83.6,403.8 82.6,403.6 82.1,403.4 81.4,403 80.7,402.5 80.3,402 79.7,401.5 79.1,401.2 78.1,401.5 77.6,401.9 77.1,402.4 76.6,402.8 76.1,403.2 75.6,403.5 74.6,403.8 73.6,403.6 73.1,403.5 72.1,403.4 71.6,403.5 70.6,403.7 69.6,403.6 69.1,403.5 68.1,403.1 67.1,403.1 66.1,403.5 65.6,403.8 65.1,404.2 64.6,404.5Z M85.1,352.2 84.1,352.1 83.6,351.7 83.2,351 83,350.5 82.6,349.5 82.4,349 82.2,348 82.3,347 82.6,346.4 83.2,346 84.1,345.8 85.1,346 85.6,346.2 86.1,346.7 86.5,347.5 86.7,348 86.9,349 86.8,350 86.6,350.7 86.2,351.5 85.6,352 85.1,352.2Z M60.1,404.5 59.1,404.5 58.1,404.5 57.6,404.3 57,404 56.1,403.6 55.6,403.4 54.6,403.2 53.6,403.4 53.1,403.5 52.1,403.9 51.5,404 50.6,404.1 50.1,404 49.1,403.7 48.1,403.5 47.1,403.5 46.1,403.6 45.1,403.6 44.1,403.6 43.1,403.6 42.6,403.5 42.1,403 42,402 41.9,401 41.8,400 41.8,399 41.8,398 41.8,397 41.8,396 41.8,395 41.8,394 41.7,393 41.7,392 41.7,391 41.7,390 41.7,389 41.7,388 41.7,387 41.7,386 41.7,385 41.7,384 41.8,383 42,382 42.1,381.4 42.6,381 43.4,380.5 44.1,380.2 45.1,380.1 46.1,380.1 46.8,380 47.6,379.8 48.4,379.5 49.1,379 49.6,378.7 50.1,378.5 51.1,378.3 52.1,378.4 52.6,378.7 53.4,379 54.1,379.1 55.1,379 55.6,379 56.6,378.9 57.6,379 58.1,379.1 59,379.5 59.6,379.8 60.1,380 61.1,380.5 61.6,380.7 62.3,381 63,381.5 63.4,382 63.6,382.5 64,383.5 64.3,384 64.6,384.7 65,385.5 65.2,386 65.6,386.8 65.9,387.5 66,388.5 65.8,389.5 65.8,390.5 65.9,391.5 65.9,392.5 65.6,393.3 65.3,394 65,394.5 64.9,395.5 65.1,396 65.6,396.5 66.1,397.2 66.2,398 65.9,398.5 65.6,399 65.1,399.6 64.6,400.5 64.4,401 64.1,401.7 63.6,402.5 63.2,403 62.6,403.5 62.1,403.8 61.6,404 60.6,404.4 60.1,404.5Z M84.1,402 83.6,402 82.7,401.5 82.3,401 81.8,400.5 81.3,400 80.8,399.5 80.4,399 79.9,398.5 79.4,398 78.6,397.5 78.1,397.3 77.1,397.1 76.6,396.9 76.6,396 76.9,395.5 77.1,395 77.6,394 77.9,393.5 78.3,393 79.1,392.5 79.6,392.2 80.1,391.8 80.6,391 80.7,390.5 81,389.5 81.2,389 81.6,388.3 82.6,388.4 83.1,388.7 83.8,389 84.6,389.3 85.1,389.6 85.6,390.1 86.1,390.7 86.6,391.4 87,392 87.2,392.5 87.4,393.5 87.3,394.5 87.1,395 86.6,395.7 86.1,396.4 85.8,397 85.7,398 85.8,399 85.6,400 85.4,400.5 85.1,401.2 84.6,401.8 84.1,402Z M60.6,403.1 59.6,403.3 58.6,403.3 57.6,403.1 57.1,403 56.1,402.7 55.3,402.5 54.6,402.5 54.1,402.6 53.1,402.8 52.6,403 51.6,403.3 50.6,403.3 49.6,403.1 49.1,402.9 48.1,402.8 47.1,402.8 46.1,402.8 45.1,402.8 44.1,402.8 43.1,402.5 42.6,402.3 42.1,401.8 42,401 41.9,400 41.9,399 41.9,398 41.9,397 41.9,396 41.9,395 41.8,394 41.8,393 41.8,392 41.8,391 41.8,390 41.8,389 41.8,388 41.8,387 41.8,386 41.8,385 41.8,384 41.9,383 42.1,382.2 42.6,381.8 43.1,381.5 44.1,381.1 44.6,381 45.6,380.9 46.6,380.9 47.6,380.8 48.6,380.7 49.3,380.5 50.1,380.2 51.1,380 52.1,380.3 53.1,380.5 54.1,380.3 55.1,380.1 56.1,380 57.1,380 58.1,380.2 59.1,380.4 59.6,380.6 60.3,381 61.1,381.5 61.6,381.8 62.1,382.3 62.6,382.9 62.9,383.5 63.2,384 63.6,384.7 64,385.5 64.1,386 64.4,387 64.5,388 64.2,389 64.1,389.8 64.1,390.3 64.2,391 64.3,392 64.1,392.7 63.8,393.5 63.5,394 63.3,395 63.4,396 63.6,396.7 63.8,397.5 63.7,398.5 63.6,399 63.3,400 63.1,400.8 62.8,401.5 62.5,402 62,402.5 61.1,403 60.6,403.1Z M85.1,394.5 84.6,394.7 84.1,394.7 83.6,394.6 83.5,394.5 83.3,394 83.4,393.5 83.6,393.2 83.7,393 84.1,392.6 84.3,392.5 84.6,392.4 85.1,392.4 85.2,392.5 85.6,392.9 85.7,393 85.8,393.5 85.7,394 85.6,394.1 85.1,394.5 85.1,394.5Z M59.6,402.5 58.6,402.6 58,402.5 57.1,402.3 56.1,402.1 55.5,402 54.6,402 54.1,402.1 53.1,402.3 52.6,402.5 51.6,402.8 50.6,402.8 49.6,402.5 49.1,402.4 48.1,402.2 47.1,402.2 46.1,402.2 45.1,402.3 44.1,402.2 43.3,402 42.6,401.5 42.2,401 42.1,400.5 42,399.5 42,398.5 42,397.5 42,396.5 42,395.5 41.9,394.5 41.9,393.5 41.9,392.5 41.9,391.5 41.9,390.5 41.9,389.5 41.9,388.5 41.9,387.5 41.8,386.5 41.8,385.5 41.8,384.5 41.9,383.5 42.1,382.8 42.6,382.4 43.2,382 44.1,381.6 44.6,381.5 45.6,381.4 46.6,381.4 47.6,381.5 48.6,381.4 49.6,381.4 50.6,381.3 51.6,381.3 52.6,381.3 53.6,381.1 54.3,381 55.1,380.8 56.1,380.6 57.1,380.6 58.1,380.7 59.1,381 59.6,381.2 60.1,381.5 60.9,382 61.4,382.5 61.8,383 62.2,383.5 62.6,384.1 63.1,385 63.3,385.5 63.5,386.5 63.4,387.5 63.1,388.5 62.9,389 62.7,390 62.8,391 63,392 62.9,393 62.6,394 62.6,394.5 62.6,395.5 62.7,396 62.8,397 62.8,398 62.6,398.9 62.5,399.5 62.2,400.5 62.1,401 61.6,401.7 61.1,402.1 60.1,402.4 59.6,402.5Z M58.6,402 58.1,402 57.1,401.8 56.1,401.7 55.1,401.6 54.1,401.7 53.1,401.9 52.6,402.1 51.6,402.4 50.6,402.4 49.6,402.1 49.1,402 48.1,401.8 47.1,401.7 46.1,401.8 45.1,401.9 44.1,401.8 43.3,401.5 42.7,401 42.4,400.5 42.1,399.5 42.1,399 42.1,398 42.1,397 42.1,396 42,395 42,394 41.9,393 41.9,392 41.9,391 42,390 42,389 42,388 41.9,387 41.9,386 41.9,385 42,384 42.1,383.2 42.6,382.8 43.1,382.4 44.1,382 44.6,381.9 45.6,381.8 46.6,381.9 47.6,381.9 48.6,382 49.1,382 50.1,382 51.1,382 51.6,382 52.6,381.9 53.6,381.7 54.3,381.5 55.1,381.3 56.1,381.1 57.1,381.1 58.1,381.1 59.1,381.4 59.6,381.7 60.1,382 60.7,382.5 61.2,383 61.6,383.5 62.1,384.2 62.6,385 62.8,385.5 62.9,386.5 62.7,387.5 62.5,388 62.1,389 62,389.5 62,390.5 62.1,391.5 62.1,392 62.1,393 62.1,393.5 62,394.5 62.1,395.5 62.1,396 62.3,397 62.2,398 62,398.5 61.7,399.5 61.6,400 61.2,401 60.6,401.5 60.1,401.8 59.1,402 58.6,402Z M51.6,402 50.6,402 50.1,401.9 49.1,401.6 48.6,401.5 47.6,401.4 46.6,401.3 45.6,401.5 45,401.5 44.6,401.5 43.6,401.3 43.1,400.9 42.6,400.1 42.4,399.5 42.4,398.5 42.3,397.5 42.3,396.5 42.2,395.5 42.1,394.9 42.1,394 42,393 42,392 42,391 42,390 42,389 42,388 42,387 41.9,386 41.9,385 42,384 42.2,383.5 42.8,383 43.6,382.5 44.1,382.3 45.1,382.2 46.1,382.2 47.1,382.3 48.1,382.4 49.1,382.5 49.6,382.5 50.6,382.6 51.6,382.6 52.1,382.5 53.1,382.3 54.1,382 54.6,381.9 55.6,381.6 56.1,381.5 57.1,381.4 58.1,381.5 58.6,381.6 59.5,382 60.1,382.4 60.6,382.9 61.1,383.5 61.5,384 61.9,384.5 62.1,385 62.4,386 62.4,387 62.1,387.6 61.7,388.5 61.6,389 61.4,390 61.4,391 61.5,392 61.6,393 61.5,394 61.5,395 61.6,395.6 61.8,396.5 61.7,397.5 61.6,398 61.2,399 61.1,399.5 60.6,400.5 60.2,401 59.6,401.3 59,401.5 58.1,401.5 57.6,401.5 56.6,401.3 55.6,401.3 54.6,401.3 53.6,401.4 53.1,401.5 52.1,401.9 51.6,402Z M52.1,401.5 51.1,401.7 50.1,401.5 49.6,401.4 48.6,401.1 47.9,401 47.1,401 46.3,401 45.6,401.1 44.6,401.2 43.8,401 43.2,400.5 42.9,400 42.7,399 42.6,398 42.6,397 42.6,396.2 42.5,395.5 42.3,394.5 42.1,393.5 42.1,393 42.1,392 42.1,391 42.1,390 42.1,389.5 42.1,388.5 42.1,387.9 42.1,387 42,386 42,385 42.1,384 42.5,383.5 43.1,383 43.6,382.8 44.6,382.5 45.1,382.5 45.6,382.5 46.6,382.6 47.6,382.7 48.6,382.8 49.6,382.9 50.1,383 51.1,383.1 52,383 52.6,382.9 53.6,382.6 54.1,382.5 55.1,382.1 55.6,381.9 56.6,381.7 57.6,381.7 58.6,381.9 59.1,382.1 59.7,382.5 60.3,383 60.7,383.5 61.1,384 61.6,384.7 62,385.5 62,386.5 61.7,387.5 61.5,388 61.1,389 61,389.5 61,390.5 61,391.5 61.1,392.5 61,393.5 60.9,394.5 61.1,395.5 61.2,396 61.3,397 61.1,397.9 60.8,398.5 60.6,399.1 60.2,400 59.8,400.5 59.1,401 58.6,401.1 57.6,401.1 56.8,401 56.1,401 55.1,400.9 54.1,401 53.6,401 52.6,401.3 52.1,401.5Z M52.1,401.1 51.1,401.3 50.1,401.1 49.6,401 48.6,400.7 47.6,400.6 46.6,400.6 45.6,400.8 44.6,400.9 43.6,400.5 43.2,400 43,399.5 42.9,398.5 42.9,397.5 42.9,396.5 42.8,395.5 42.7,394.5 42.5,394 42.3,393 42.2,392 42.3,391 42.4,390 42.4,389 42.4,388 42.2,387 42.1,386.5 42,385.5 42.1,384.5 42.3,384 42.8,383.5 43.6,383 44.1,382.8 45.1,382.7 46.1,382.9 47,383 47.6,383.1 48.6,383.2 49.6,383.3 50.1,383.5 51.1,383.7 52.1,383.5 52.6,383.4 53.6,383.1 54.1,382.9 55.1,382.5 55.6,382.3 56.6,382 57.1,382 57.7,382 58.6,382.2 59.3,382.5 59.9,383 60.3,383.5 60.7,384 61.1,384.5 61.6,385.5 61.7,386 61.6,386.7 61.3,387.5 61.1,388 60.8,389 60.6,390 60.6,391 60.6,392 60.6,392.6 60.4,393.5 60.2,394.5 60.4,395.5 60.7,396 60.8,397 60.6,397.7 60.2,398.5 60,399 59.6,399.7 59.1,400.3 58.6,400.5 57.6,400.7 56.6,400.7 55.6,400.7 54.6,400.6 53.6,400.7 52.6,400.9 52.1,401.1Z M52.1,400.6 51.1,400.8 50.1,400.7 49.4,400.5 48.6,400.4 47.6,400.3 46.6,400.3 45.6,400.4 45.1,400.5 44.3,400.5 43.6,400.1 43.3,399.5 43.1,398.5 43.1,397.5 43.1,396.5 43.1,395.5 43.1,395 42.9,394 42.6,393 42.5,392.5 42.5,391.5 42.6,390.5 42.6,390 42.7,389 42.7,388 42.6,387.5 42.3,386.5 42.1,385.5 42.3,384.5 42.6,384 43.1,383.5 44.1,383.1 44.6,383 45.2,383 46.1,383.1 47.1,383.3 48.1,383.4 48.7,383.5 49.6,383.7 50.3,384 51.1,384.3 52.1,384.2 52.6,383.9 53.6,383.6 54.1,383.4 54.9,383 55.6,382.6 56.1,382.4 57.1,382.2 58.1,382.3 58.7,382.5 59.5,383 60,383.5 60.4,384 60.8,384.5 61.1,385.1 61.3,386 61.1,387 60.9,387.5 60.6,388.2 60.4,389 60.3,390 60.3,391 60.2,392 60.1,392.8 59.7,393.5 59.1,394 58.6,394.1 57.6,394.1 56.8,394.5 56.5,395 56.6,395.7 57.1,396.5 57.6,396.7 58.3,396.5 59.1,396.1 60.1,396.5 60.1,397 60,397.5 59.6,398.2 59.2,399 58.9,399.5 58.3,400 57.6,400.2 56.6,400.3 55.6,400.4 54.6,400.3 53.6,400.3 52.6,400.4 52.1,400.6Z M56.1,400 55.1,400.1 54.4,400 53.6,399.9 52.6,399.8 51.7,400 51.1,400.1 50.1,400.1 49.1,400 48.6,400 47.6,399.9 46.6,399.9 46,400 45.1,400.2 44.1,400.1 43.6,399.5 43.4,399 43.4,398 43.4,397 43.4,396 43.4,395 43.2,394 43,393.5 42.8,392.5 42.7,391.5 42.8,390.5 42.9,389.5 43,388.5 42.8,387.5 42.6,386.8 42.4,386 42.3,385 42.6,384.3 43.1,383.7 43.6,383.4 44.6,383.2 45.6,383.3 46.6,383.5 47.1,383.6 48.1,383.7 49.1,383.9 49.6,384.1 50.2,384.5 50.9,385 51.3,385.5 51.6,386.1 52.1,387 52.6,387.2 53.1,386.7 53.1,386.3 52.8,385.5 53.1,384.6 53.6,384.3 54.1,384 54.8,383.5 55.6,383 56.1,382.7 57,382.5 57.6,382.5 58.1,382.5 59.1,383 59.6,383.4 60.1,384 60.4,384.5 60.7,385 61,386 60.8,387 60.5,387.5 60.2,388.5 60.1,389.2 60,390 59.9,391 59.8,392 59.6,392.7 59.1,393.2 58.1,393.3 57.1,393.2 56.4,393.5 56.1,394 55.8,395 56,396 56.2,396.5 56.6,397.1 57.1,397.6 57.7,398 58,399 57.6,399.5 56.6,399.9 56.1,400Z M56.1,399.6 55.1,399.7 54.1,399.6 53.6,399.4 52.6,399.2 51.6,399.3 50.6,399.5 50.1,399.5 49.1,399.6 48.1,399.6 47.1,399.6 46.1,399.6 45.1,399.9 44.1,399.7 43.7,399 43.6,398.3 43.6,397.5 43.6,397 43.7,396 43.7,395 43.6,394.4 43.3,393.5 43.1,392.8 43,392 43,391 43.1,390.5 43.2,389.5 43.3,388.5 43.1,387.6 42.9,387 42.6,386.1 42.5,385.5 42.6,384.8 43.1,384 43.6,383.6 44.1,383.5 45.1,383.4 45.6,383.5 46.6,383.8 47.6,383.9 48.2,384 49.1,384.2 49.6,384.5 50.2,385 50.6,385.5 51,386.5 51.2,387 51.4,388 51.6,389 51.7,389 52.6,388.6 53.1,388.3 53.6,387.9 54.1,387.5 54.5,386.5 54.3,385.5 54.5,384.5 54.9,384 55.5,383.5 56.1,383.1 56.6,382.8 57.6,382.7 58.6,382.9 59.1,383.3 59.6,383.8 60.1,384.5 60.4,385 60.6,385.5 60.6,386.5 60.4,387 60.1,387.7 59.9,388.5 59.8,389.5 59.7,390.5 59.6,391 59.3,392 58.9,392.5 58.1,392.6 57.6,392.3 57.1,391.5 56.7,391 56.1,390.8 55.6,391 55.4,392 55.5,393 55.4,394 55.2,395 55.4,396 55.6,396.6 56.1,397.5 56.5,398 56.9,398.5 56.6,399.4 56.1,399.6Z M51.2,391 51.2,390.5 51.1,390 51.1,390 51.1,390 50.7,390.5 50.6,391 51.1,391.2 51.2,391Z M55.6,399.2 54.6,399.2 53.8,399 53.1,398.8 52.1,398.7 51.1,398.9 50.5,399 49.6,399.2 48.6,399.3 47.6,399.3 46.6,399.2 45.6,399.4 44.6,399.5 44.1,399 43.8,398 43.8,397 43.9,396 44,395 43.8,394 43.6,393.5 43.3,392.5 43.3,391.5 43.4,390.5 43.6,389.5 43.6,389 43.6,388.5 43.4,387.5 43.1,386.8 42.8,386 42.7,385 43.1,384.2 43.6,383.8 44.6,383.6 45.6,383.7 46.5,384 47.1,384.1 48.1,384.3 49,384.5 49.6,384.9 50.1,385.4 50.4,386 50.6,386.5 50.8,387.5 50.6,388.3 50.1,389 49.6,389.5 49.1,389.9 48.5,389.5 47.8,389 47.1,388.7 46.3,389 46.2,390 46.6,390.6 47.6,390.7 48.3,390.5 49.1,390.5 49.3,391 49.6,391.5 50.1,392.3 50.6,392.7 51.6,392.6 52.1,392 52.4,391.5 52.6,391 53.1,390 53.3,389.5 53.7,389 54.2,388.5 54.7,388 55.2,387.5 55.4,386.5 55.2,385.5 55.2,384.5 55.6,383.9 56.1,383.4 57,383 57.6,382.9 58.1,383 59,383.5 59.5,384 59.8,384.5 60.1,385 60.3,386 60.1,386.8 59.8,387.5 59.6,388.3 59.5,389 59.3,390 59.1,391 58.7,391.5 58.4,391.5 57.9,391 57.5,390.5 56.8,390 56.1,389.8 55.3,390 54.6,390.3 54.1,391 54.1,391 54.4,392 54.6,392.5 54.7,393.5 54.6,394.4 54.6,395 54.7,395.5 55,396.5 55.2,397 55.6,397.7 56,398.5 55.6,399.2Z M58.6,390.2 58,390 57.3,389.5 56.6,389 56.1,388.5 56.1,388 56.2,387.5 56.1,386.5 55.9,386 55.7,385 56,384 56.5,383.5 57.1,383.2 58.1,383.3 58.6,383.5 59.1,384 59.6,384.7 59.9,385.5 59.8,386.5 59.6,387.1 59.3,388 59.1,389 59,389.5 58.6,390.2Z M48.1,399 47.6,399 46.6,398.9 45.6,399 45.1,399.1 44.6,399 44.1,398 44.1,397.5 44.1,396.5 44.2,396 44.3,395 44.1,394 43.9,393.5 43.6,392.5 43.5,392 43.6,391.1 43.8,390.5 44.1,389.5 44.1,389 44.1,388.5 43.8,387.5 43.5,387 43.1,386.3 42.9,385.5 43.1,384.5 43.6,384 44.1,383.8 45.1,383.8 45.7,384 46.6,384.3 47.6,384.5 48.1,384.5 49.1,384.9 49.6,385.3 50.1,386 50.3,386.5 50.4,387.5 50.1,388.2 49.6,388.6 48.6,388.7 48.1,388.5 47.1,388.1 46.6,388 46.1,388 45.5,388.5 45.3,389.5 45.6,390.3 46.1,391 46.6,391.3 47.1,391.5 48.1,391.6 49,392 49.4,392.5 50,393 50.6,393.4 51.1,393.6 52.1,393.7 52.7,393.5 53.1,392.9 53.6,393 53.6,393.6 53.4,394.5 53.7,395 54.1,395.7 54.5,396.5 54.6,397 54.9,398 54.1,398.4 53.1,398.3 52.1,398.3 51.1,398.5 50.6,398.6 49.6,398.8 48.6,399 48.1,399Z M58.6,388.5 57.6,388.5 57.4,388 57.1,387.2 56.8,386.5 56.5,386 56.2,385 56.5,384 57.1,383.5 57.6,383.5 58.1,383.5 58.8,384 59.2,384.5 59.6,385.5 59.4,386.5 59.1,387 58.7,388 58.6,388.5Z M49.6,388.1 48.6,388.3 47.9,388 47.1,387.6 46.6,387.4 45.6,387.3 45.1,387.5 44.5,387.5 43.9,387 43.5,386.5 43.1,385.6 43.1,385.2 43.4,384.5 44.1,384 44.6,384 45.1,384 46.1,384.4 46.6,384.6 47.6,384.8 48.6,384.9 49.1,385.2 49.6,385.7 50,386.5 50,387.5 49.6,388.1Z M49.6,398.5 48.6,398.7 47.6,398.7 46.6,398.6 45.6,398.6 44.9,398.5 44.5,398 44.3,397 44.4,396 44.5,395 44.5,394 44.1,393.1 43.9,392.5 43.9,391.5 44.1,390.9 44.6,390.4 45.1,390.7 45.6,391.2 46.1,391.6 46.7,392 47.6,392.2 48.6,392.5 49.1,392.9 49.6,393.3 50.1,393.6 50.8,394 51.6,394.4 52.1,394.8 52.6,395.2 53.1,395.6 53.6,396.1 53.9,397 53.6,397.6 52.6,397.8 51.6,398 51.1,398.1 50.1,398.4 49.6,398.5Z M58.1,386.6 57.9,386.5 57.6,386.4 57.2,386 57.1,385.9 56.8,385.5 56.6,385 56.7,384.5 57,384 57.1,383.9 57.6,383.8 58.1,383.9 58.3,384 58.6,384.3 58.8,384.5 59,385 59.1,385.3 59.1,385.5 59.1,385.7 59,386 58.6,386.5 58.6,386.5 58.1,386.6Z M49.1,387.8 48.1,387.7 47.6,387.5 46.9,387 46.1,386.6 45.1,386.8 44.1,386.7 43.6,386.2 43.3,385.5 43.6,384.6 44.1,384.3 45.1,384.3 45.6,384.5 46.6,385 47.1,385.1 48.1,385.1 49.1,385.5 49.5,386 49.7,386.5 49.6,387.4 49.1,387.8Z M50.1,398.1 49.1,398.3 48.1,398.4 47.1,398.3 46.1,398.2 45.1,398.1 44.7,397.5 44.6,397 44.6,396.5 44.8,395.5 44.9,394.5 44.7,393.5 44.5,393 44.3,392 44.6,391.4 45.1,391.5 45.8,392 46.5,392.5 47.1,392.7 48.1,393 48.6,393.2 49.1,393.5 49.9,394 50.6,394.3 51.1,394.6 51.6,395 52.1,395.5 52.6,396 52.9,397 52.1,397.5 51.6,397.6 50.6,398 50.1,398.1Z M45.6,386.1 45.1,386.3 44.6,386.4 44.1,386.3 43.9,386 43.6,385.6 43.6,385.5 43.6,385 43.6,385 44.1,384.5 44.1,384.5 44.6,384.4 44.9,384.5 45.1,384.6 45.6,384.9 45.7,385 46.1,385.5 46.1,385.5 46.1,385.5 45.8,386 45.6,386.1Z M58.1,385.6 57.6,385.5 57.6,385.5 57.3,385 57.3,384.5 57.6,384.3 58.1,384.4 58.2,384.5 58.5,385 58.3,385.5 58.1,385.6Z M48.6,387.5 48.6,387.5 48.1,387.3 47.6,387 47.6,387 47.1,386.5 47.1,386.5 46.7,386 47.1,385.7 47.4,385.5 47.6,385.5 48.1,385.4 48.4,385.5 48.6,385.6 49.1,385.9 49.1,386 49.4,386.5 49.4,387 49.1,387.4 48.6,387.5 48.6,387.5Z M49.1,398.1 48.1,398.1 47.1,398 46.6,397.9 45.6,397.8 45.1,397.4 44.9,396.5 45.1,395.5 45.2,395 45.3,394 45.1,393 46.1,392.9 46.6,393.1 47.6,393.4 48.1,393.6 49.1,394 49.6,394.2 50.1,394.5 51,395 51.5,395.5 51.9,396 52.1,396.5 51.9,397 51.1,397.5 50.6,397.7 49.6,398 49.1,398.1Z M45.1,385.6 44.6,385.9 44.1,385.7 44,385.5 44,385 44.1,384.9 44.6,384.8 45.1,385 45.1,385.1 45.2,385.5 45.1,385.6Z M48.6,387 48.5,387 48.1,386.8 47.8,386.5 47.9,386 48.1,385.9 48.6,386 48.6,386 48.9,386.5 48.7,387 48.6,387Z M50.1,397.6 49.1,397.8 48.1,397.9 47.1,397.7 46.1,397.5 45.6,397.3 45.2,396.5 45.4,395.5 45.6,394.8 46,394 46.6,393.8 47.6,394 48.1,394.1 49.1,394.4 49.6,394.6 50.4,395 51,395.5 51.4,396 51.2,397 50.6,397.3 50.1,397.6Z M49.1,397.5 48.1,397.6 47.6,397.5 46.6,397.2 46,397 45.6,396 46,395 46.6,394.5 47.1,394.4 47.8,394.5 48.6,394.7 49.6,395 50.1,395.2 50.6,395.6 51,396.5 50.6,397 49.6,397.4 49.1,397.5Z M49.6,397.1 49.1,397.2 48.6,397.3 48.1,397.2 47.6,397.1 47.2,397 47.1,397 46.6,396.7 46.3,396.5 46.2,396 46.4,395.5 46.6,395.2 47.1,395 47.3,395 47.6,395 47.9,395 48.1,395 48.6,395.1 49.1,395.2 49.6,395.4 49.8,395.5 50.1,395.7 50.4,396 50.4,396.5 50.1,396.8 49.8,397 49.6,397.1Z M49.6,396.6 49.1,396.8 48.6,396.9 48.1,396.8 47.6,396.6 47.4,396.5 47.1,396 47.6,395.6 48.1,395.5 48.6,395.6 49.1,395.7 49.6,395.9 49.7,396 49.7,396.5 49.6,396.6Z" fill="none" stroke="#000" stroke-width="0.55" stroke-linejoin="round"/>
<rect x="42.0" y="403.9" width="42.0" height="1.4" fill="#000" opacity="1"/><rect x="41.2" y="381.0" width="1.6" height="24.0" fill="#000" opacity="1"/>
<rect x="41.60" y="322.50" width="83" height="82.5" fill="none" stroke="#000" stroke-width="1"/>
<text class="t2" x="36.70" y="407.00" font-size="4.7" text-anchor="end">10<tspan font-size="3.9" dy="-2.9">0</tspan></text>
<line x1="40.00" y1="405.00" x2="41.60" y2="405.00" stroke="#000" stroke-width="0.8" />
<text class="t2" x="41.80" y="414.00" font-size="4.7" text-anchor="middle">10<tspan font-size="3.9" dy="-2.9">0</tspan></text>
<line x1="41.60" y1="405.00" x2="41.60" y2="406.60" stroke="#000" stroke-width="0.8" />
<text class="t2" x="36.70" y="386.38" font-size="4.7" text-anchor="end">10<tspan font-size="3.9" dy="-2.9">1</tspan></text>
<line x1="40.00" y1="384.38" x2="41.60" y2="384.38" stroke="#000" stroke-width="0.8" />
<text class="t2" x="62.55" y="414.00" font-size="4.7" text-anchor="middle">10<tspan font-size="3.9" dy="-2.9">1</tspan></text>
<line x1="62.35" y1="405.00" x2="62.35" y2="406.60" stroke="#000" stroke-width="0.8" />
<text class="t2" x="36.70" y="365.75" font-size="4.7" text-anchor="end">10<tspan font-size="3.9" dy="-2.9">2</tspan></text>
<line x1="40.00" y1="363.75" x2="41.60" y2="363.75" stroke="#000" stroke-width="0.8" />
<text class="t2" x="83.30" y="414.00" font-size="4.7" text-anchor="middle">10<tspan font-size="3.9" dy="-2.9">2</tspan></text>
<line x1="83.10" y1="405.00" x2="83.10" y2="406.60" stroke="#000" stroke-width="0.8" />
<text class="t2" x="36.70" y="345.12" font-size="4.7" text-anchor="end">10<tspan font-size="3.9" dy="-2.9">3</tspan></text>
<line x1="40.00" y1="343.12" x2="41.60" y2="343.12" stroke="#000" stroke-width="0.8" />
<text class="t2" x="104.05" y="414.00" font-size="4.7" text-anchor="middle">10<tspan font-size="3.9" dy="-2.9">3</tspan></text>
<line x1="103.85" y1="405.00" x2="103.85" y2="406.60" stroke="#000" stroke-width="0.8" />
<text class="t2" x="36.70" y="324.50" font-size="4.7" text-anchor="end">10<tspan font-size="3.9" dy="-2.9">4</tspan></text>
<line x1="40.00" y1="322.50" x2="41.60" y2="322.50" stroke="#000" stroke-width="0.8" />
<text class="t2" x="124.80" y="414.00" font-size="4.7" text-anchor="middle">10<tspan font-size="3.9" dy="-2.9">4</tspan></text>
<line x1="124.60" y1="405.00" x2="124.60" y2="406.60" stroke="#000" stroke-width="0.8" />
<line x1="47.85" y1="405.00" x2="47.85" y2="403.70" stroke="#000" stroke-width="0.6" />
<line x1="41.60" y1="398.79" x2="42.90" y2="398.79" stroke="#000" stroke-width="0.6" />
<line x1="51.50" y1="405.00" x2="51.50" y2="403.70" stroke="#000" stroke-width="0.6" />
<line x1="41.60" y1="395.16" x2="42.90" y2="395.16" stroke="#000" stroke-width="0.6" />
<line x1="54.09" y1="405.00" x2="54.09" y2="403.70" stroke="#000" stroke-width="0.6" />
<line x1="41.60" y1="392.58" x2="42.90" y2="392.58" stroke="#000" stroke-width="0.6" />
<line x1="56.10" y1="405.00" x2="56.10" y2="403.70" stroke="#000" stroke-width="0.6" />
<line x1="41.60" y1="390.58" x2="42.90" y2="390.58" stroke="#000" stroke-width="0.6" />
<line x1="57.75" y1="405.00" x2="57.75" y2="403.70" stroke="#000" stroke-width="0.6" />
<line x1="41.60" y1="388.95" x2="42.90" y2="388.95" stroke="#000" stroke-width="0.6" />
<line x1="59.14" y1="405.00" x2="59.14" y2="403.70" stroke="#000" stroke-width="0.6" />
<line x1="41.60" y1="387.57" x2="42.90" y2="387.57" stroke="#000" stroke-width="0.6" />
<line x1="60.34" y1="405.00" x2="60.34" y2="403.70" stroke="#000" stroke-width="0.6" />
<line x1="41.60" y1="386.37" x2="42.90" y2="386.37" stroke="#000" stroke-width="0.6" />
<line x1="61.40" y1="405.00" x2="61.40" y2="403.70" stroke="#000" stroke-width="0.6" />
<line x1="41.60" y1="385.32" x2="42.90" y2="385.32" stroke="#000" stroke-width="0.6" />
<line x1="68.60" y1="405.00" x2="68.60" y2="403.70" stroke="#000" stroke-width="0.6" />
<line x1="41.60" y1="378.17" x2="42.90" y2="378.17" stroke="#000" stroke-width="0.6" />
<line x1="72.25" y1="405.00" x2="72.25" y2="403.70" stroke="#000" stroke-width="0.6" />
<line x1="41.60" y1="374.53" x2="42.90" y2="374.53" stroke="#000" stroke-width="0.6" />
<line x1="74.84" y1="405.00" x2="74.84" y2="403.70" stroke="#000" stroke-width="0.6" />
<line x1="41.60" y1="371.96" x2="42.90" y2="371.96" stroke="#000" stroke-width="0.6" />
<line x1="76.85" y1="405.00" x2="76.85" y2="403.70" stroke="#000" stroke-width="0.6" />
<line x1="41.60" y1="369.96" x2="42.90" y2="369.96" stroke="#000" stroke-width="0.6" />
<line x1="78.50" y1="405.00" x2="78.50" y2="403.70" stroke="#000" stroke-width="0.6" />
<line x1="41.60" y1="368.33" x2="42.90" y2="368.33" stroke="#000" stroke-width="0.6" />
<line x1="79.89" y1="405.00" x2="79.89" y2="403.70" stroke="#000" stroke-width="0.6" />
<line x1="41.60" y1="366.94" x2="42.90" y2="366.94" stroke="#000" stroke-width="0.6" />
<line x1="81.09" y1="405.00" x2="81.09" y2="403.70" stroke="#000" stroke-width="0.6" />
<line x1="41.60" y1="365.75" x2="42.90" y2="365.75" stroke="#000" stroke-width="0.6" />
<line x1="82.15" y1="405.00" x2="82.15" y2="403.70" stroke="#000" stroke-width="0.6" />
<line x1="41.60" y1="364.69" x2="42.90" y2="364.69" stroke="#000" stroke-width="0.6" />
<line x1="89.35" y1="405.00" x2="89.35" y2="403.70" stroke="#000" stroke-width="0.6" />
<line x1="41.60" y1="357.54" x2="42.90" y2="357.54" stroke="#000" stroke-width="0.6" />
<line x1="93.00" y1="405.00" x2="93.00" y2="403.70" stroke="#000" stroke-width="0.6" />
<line x1="41.60" y1="353.91" x2="42.90" y2="353.91" stroke="#000" stroke-width="0.6" />
<line x1="95.59" y1="405.00" x2="95.59" y2="403.70" stroke="#000" stroke-width="0.6" />
<line x1="41.60" y1="351.33" x2="42.90" y2="351.33" stroke="#000" stroke-width="0.6" />
<line x1="97.60" y1="405.00" x2="97.60" y2="403.70" stroke="#000" stroke-width="0.6" />
<line x1="41.60" y1="349.33" x2="42.90" y2="349.33" stroke="#000" stroke-width="0.6" />
<line x1="99.25" y1="405.00" x2="99.25" y2="403.70" stroke="#000" stroke-width="0.6" />
<line x1="41.60" y1="347.70" x2="42.90" y2="347.70" stroke="#000" stroke-width="0.6" />
<line x1="100.64" y1="405.00" x2="100.64" y2="403.70" stroke="#000" stroke-width="0.6" />
<line x1="41.60" y1="346.32" x2="42.90" y2="346.32" stroke="#000" stroke-width="0.6" />
<line x1="101.84" y1="405.00" x2="101.84" y2="403.70" stroke="#000" stroke-width="0.6" />
<line x1="41.60" y1="345.12" x2="42.90" y2="345.12" stroke="#000" stroke-width="0.6" />
<line x1="102.90" y1="405.00" x2="102.90" y2="403.70" stroke="#000" stroke-width="0.6" />
<line x1="41.60" y1="344.07" x2="42.90" y2="344.07" stroke="#000" stroke-width="0.6" />
<line x1="110.10" y1="405.00" x2="110.10" y2="403.70" stroke="#000" stroke-width="0.6" />
<line x1="41.60" y1="336.92" x2="42.90" y2="336.92" stroke="#000" stroke-width="0.6" />
<line x1="113.75" y1="405.00" x2="113.75" y2="403.70" stroke="#000" stroke-width="0.6" />
<line x1="41.60" y1="333.28" x2="42.90" y2="333.28" stroke="#000" stroke-width="0.6" />
<line x1="116.34" y1="405.00" x2="116.34" y2="403.70" stroke="#000" stroke-width="0.6" />
<line x1="41.60" y1="330.71" x2="42.90" y2="330.71" stroke="#000" stroke-width="0.6" />
<line x1="118.35" y1="405.00" x2="118.35" y2="403.70" stroke="#000" stroke-width="0.6" />
<line x1="41.60" y1="328.71" x2="42.90" y2="328.71" stroke="#000" stroke-width="0.6" />
<line x1="120.00" y1="405.00" x2="120.00" y2="403.70" stroke="#000" stroke-width="0.6" />
<line x1="41.60" y1="327.08" x2="42.90" y2="327.08" stroke="#000" stroke-width="0.6" />
<line x1="121.39" y1="405.00" x2="121.39" y2="403.70" stroke="#000" stroke-width="0.6" />
<line x1="41.60" y1="325.69" x2="42.90" y2="325.69" stroke="#000" stroke-width="0.6" />
<line x1="122.59" y1="405.00" x2="122.59" y2="403.70" stroke="#000" stroke-width="0.6" />
<line x1="41.60" y1="324.50" x2="42.90" y2="324.50" stroke="#000" stroke-width="0.6" />
<line x1="123.65" y1="405.00" x2="123.65" y2="403.70" stroke="#000" stroke-width="0.6" />
<line x1="41.60" y1="323.44" x2="42.90" y2="323.44" stroke="#000" stroke-width="0.6" />
<rect x="74.50" y="330.50" width="25.00" height="30.00" fill="none" stroke="#000" stroke-width="0.9"/>
<text x="53.00" y="333.80" font-size="12.15" text-anchor="start" font-weight="normal" fill="#000" >1.8</text>
<polyline points="23.60,228.50 23.60,419.70 120.50,419.70" fill="none" stroke="#000" stroke-width="2" stroke-linejoin="round"/>
<polygon points="23.60,223.50 19.80,230.50 27.40,230.50" fill="#000"/>
<polygon points="125.50,419.70 118.50,415.90 118.50,423.50" fill="#000"/>
<text transform="translate(17.00,377.30) rotate(-90)" font-size="12.15" text-anchor="middle" >TCRV<tspan font-family="Liberation Serif, serif" font-size="14">α2</tspan></text>
<text x="50.50" y="435.20" font-size="12.15" text-anchor="start" font-weight="normal" fill="#000" >CD4</text>
<text x="181.00" y="214.30" font-size="13.6" text-anchor="start" font-weight="bold" fill="#000" >C</text>
<text x="257.00" y="215.00" font-size="12.15" text-anchor="middle" font-weight="normal" fill="#000" >Spleen</text>
<path d="M274.5,259.7h0.5M259.4,262.3h0.5M247.1,268.9h0.5M258.6,267.7h0.5M244.5,272h0.5M238,264.5h0.5M254.3,272.4h0.5M229,266h0.5M238.1,249h0.5M233.5,270.2h0.5M223,265.3h0.5M229.1,275.8h0.5M238,265.8h0.5M262.9,246.5h0.5M236.5,261.1h0.5M264.5,252.6h0.5M221,280.8h0.5M254.6,272.8h0.5M231.5,279h0.5M235.6,276.5h0.5M261.7,278h0.5M258.3,261.3h0.5M258.5,263.4h0.5M258.3,269.2h0.5M243.4,271.5h0.5M232.9,277.2h0.5M261.9,261.4h0.5M263.5,273.1h0.5M266.4,243.5h0.5M274,279.2h0.5M263.3,268.5h0.5M239.1,280.4h0.5M235.4,270.8h0.5M233.5,271h0.5M223.5,265.3h0.5M236.5,257h0.5M255.5,272.1h0.5M247,264h0.5M256,266.9h0.5M247.5,257.3h0.5M233.7,277.8h0.5M229.8,261h0.5M236.8,281.1h0.5M283.9,260.5h0.5M233.2,278.8h0.5M273.4,275.5h0.5M279.1,280.2h0.5M251.8,250.8h0.5M256.3,260.8h0.5M246.8,257.7h0.5M235.5,256.9h0.5M244.8,265.6h0.5M249,269.4h0.5M266,253.5h0.5M241.2,279.1h0.5M232.5,273h0.5M274.7,288.9h0.5M234.6,274.1h0.5M222.3,269.2h0.5M237.6,258.2h0.5M249,268.8h0.5M246.7,253.7h0.5M263.4,281.2h0.5M257.5,268.6h0.5M249.6,270.4h0.5M247.9,262.2h0.5M222.6,279.6h0.5M234,267.4h0.5M240.7,249.6h0.5M237.6,260.5h0.5M246.6,272.8h0.5M235.7,271.7h0.5M248.4,267.7h0.5M244,275.8h0.5M224.2,279.7h0.5M238.3,258.7h0.5M254.5,275.4h0.5M252.7,257.7h0.5M233.5,255.1h0.5M263,280.3h0.5M242.6,270h0.5M232.4,254.2h0.5M249.3,253.2h0.5M246.8,267.9h0.5M254,256.1h0.5M228.1,261.6h0.5M249.3,264.9h0.5M246.4,250.7h0.5M240.8,277h0.5M254.6,269.4h0.5M227.5,270.2h0.5M264.7,272.6h0.5M230.2,268.8h0.5M246,256h0.5M256.2,272.5h0.5M254.3,273.7h0.5M255.2,255.7h0.5M254.6,269.2h0.5M247.4,261.3h0.5M225,257.7h0.5M257.3,266.3h0.5M231.8,248.3h0.5M245,270.7h0.5M255.4,264.1h0.5M249.2,268.1h0.5M234.6,266.6h0.5M242.2,264.9h0.5M244,276.1h0.5M265.2,268.9h0.5M236.6,261.5h0.5M226.2,270.7h0.5M239.5,275.5h0.5M240.2,258.9h0.5M235.7,265.4h0.5M253.3,264.8h0.5M265.7,277.5h0.5M229.4,265.8h0.5M248.8,259.5h0.5M244.7,274.4h0.5M233.6,280.9h0.5M227.5,256.7h0.5M238.2,269.9h0.5M252.1,260.3h0.5M243.3,263.9h0.5M244.1,263.9h0.5M241.3,275.3h0.5M261.1,279.3h0.5M241.9,256h0.5M252.2,255.5h0.5M231.8,260.3h0.5M249.2,260.3h0.5M260.1,268h0.5M266.4,254.2h0.5M244.2,274.2h0.5M269.3,278.6h0.5M255.6,269.6h0.5M219.1,252.4h0.5M255.5,262.7h0.5M218.8,267.8h0.5M242.7,256h0.5M241.3,271.7h0.5M224.3,273.6h0.5M241.2,262.2h0.5M231.8,271.5h0.5M237.2,271.1h0.5M226.7,263.7h0.5M266.7,264.3h0.5M251.1,261.4h0.5M231.8,273.8h0.5M239.7,273.4h0.5M218.4,240.1h0.5M223.1,258.9h0.5M239.6,277.5h0.5M259.2,254.5h0.5M245.2,267h0.5M263.1,259.9h0.5M239.5,260.4h0.5M242.8,261.5h0.5M255.5,267.1h0.5M237,273.2h0.5M259.6,273.7h0.5M258.8,267.5h0.5M231.5,270.8h0.5M256,262.9h0.5M223.1,263h0.5M228.6,269.5h0.5M224.2,245h0.5M261,266.2h0.5M219,263.2h0.5M242.8,279.2h0.5M238.4,271.9h0.5M243.7,268.6h0.5M246.5,266.6h0.5M234.5,247.6h0.5M239.2,259.7h0.5M245.4,269.8h0.5M220.6,269.8h0.5M231.1,277.3h0.5M261,254.7h0.5M262.1,267.2h0.5M222.7,249.7h0.5M229.3,275.9h0.5M249.4,266h0.5M233,280.8h0.5M262.9,245.6h0.5M240.3,260.9h0.5M261.8,256.9h0.5M241,276h0.5M252,247.1h0.5M226.2,279.4h0.5M238.4,273.2h0.5M264.8,251h0.5M253.1,263.2h0.5M267,254.6h0.5M246.4,277.4h0.5M233,272.2h0.5M241.1,270.2h0.5M273.6,257.7h0.5M231.5,278.1h0.5M271.6,275.7h0.5M230.9,255h0.5M245.2,255h0.5M241.2,278.4h0.5M249.5,267.7h0.5M270.6,283.8h0.5M256.6,259.5h0.5M241.3,265.3h0.5M249.1,274.1h0.5M241,277.6h0.5M255.7,256.4h0.5M240.6,254.9h0.5M240.8,256.4h0.5M239.2,271.9h0.5M239.2,268.3h0.5M241.9,250.5h0.5M274.1,257.1h0.5M260.4,256.4h0.5M237.3,267.6h0.5M228.2,268.7h0.5M247.4,278h0.5M236.1,280.4h0.5M242.8,259.7h0.5M249.2,258.1h0.5M277.2,255h0.5M225.5,265.5h0.5M238.1,263.9h0.5M266.6,261.4h0.5M244.2,276.9h0.5M260.2,260h0.5M236.7,270.3h0.5M241.9,263.9h0.5M277.5,279.3h0.5M220.3,246.8h0.5M241.9,239h0.5M268.9,275.4h0.5M267.5,275.5h0.5M267.4,274.1h0.5M247.8,257.3h0.5M268.8,256.3h0.5M243.3,268.8h0.5M257.3,272.1h0.5M253.1,261.6h0.5M248.7,270.1h0.5M263.6,274.8h0.5M249.3,272.7h0.5M246.7,265.3h0.5M269.2,255h0.5M270.1,282.7h0.5M225.3,259.4h0.5M231.6,265.8h0.5M240.8,277.3h0.5M264.3,280h0.5M243.1,268.1h0.5M224.6,266.9h0.5M242.9,270.7h0.5M253.1,253.4h0.5M251.3,262.9h0.5M251.8,265.4h0.5M262.1,271.6h0.5M253.3,267h0.5M289.2,265h0.5M255.5,264.2h0.5M240.9,269.1h0.5M242.7,272.3h0.5M222,278.6h0.5M238.9,279h0.5M246.7,279.2h0.5M228.3,254.6h0.5M244.3,268.3h0.5M238.2,269.1h0.5M240.5,259.2h0.5M245.6,264.3h0.5M251,274.8h0.5M246.4,265.2h0.5M221.1,257.8h0.5M255.5,275.1h0.5M272.6,277h0.5M234.3,265.9h0.5M231.1,272.2h0.5M235.5,275.6h0.5M274.4,276.9h0.5M244.9,265.8h0.5M257.6,272.4h0.5M220.6,260h0.5M232.4,276.1h0.5M274.6,287.8h0.5M234.4,268.8h0.5M266.6,272.1h0.5M230.4,264.1h0.5M250,278h0.5M251.2,263.5h0.5M259.6,268h0.5M239.3,271h0.5M228.1,281.7h0.5M253,270.1h0.5M239,278.7h0.5M276.4,256h0.5M256.7,256.8h0.5M234,257.9h0.5M287.5,269.8h0.5M259.8,261.7h0.5M248.9,249.6h0.5M261.6,257.1h0.5M247.8,254.5h0.5M256,271.3h0.5M236.6,279.6h0.5M288.3,267.6h0.5M234.9,261h0.5M251.1,277h0.5M261.5,259.1h0.5M253.4,266.6h0.5M234.3,274.2h0.5M242.7,257.6h0.5M223.4,279.6h0.5M236,267.9h0.5M258.4,269h0.5M244.2,270h0.5M226.2,274h0.5M265,279.9h0.5M258.2,271.7h0.5M273.1,276.6h0.5M237.2,274.3h0.5M246,263.4h0.5M251,266.6h0.5M270.1,277.7h0.5M253.2,270.6h0.5M246.8,262.9h0.5M232.2,267.3h0.5M257.2,264.2h0.5M253.1,255.2h0.5M223.6,276.9h0.5M237.5,278.3h0.5M260,267.1h0.5M266.7,259.3h0.5M240.9,268.4h0.5M266.1,264.1h0.5M257.2,272.3h0.5M252.9,268.3h0.5M231.4,277.8h0.5M224.2,262.6h0.5M244.3,276.1h0.5M243.1,260.4h0.5M260.7,273.4h0.5M257.8,274.6h0.5M273.4,276.7h0.5M237.1,271.4h0.5M240.6,281.9h0.5M246.7,274.7h0.5M246.2,260.7h0.5M277.6,279.3h0.5M259.5,257.2h0.5M253.8,255.7h0.5M244,273.1h0.5M255.9,269.4h0.5M233.6,243.5h0.5M252.8,270.4h0.5M258.6,257.4h0.5M261.4,278.1h0.5M251.8,263h0.5M250.3,269.4h0.5M243.2,260h0.5M240.1,266.4h0.5M252.4,265.6h0.5M236.7,253.5h0.5M252.3,265.3h0.5M231.2,274.6h0.5M251.5,258.7h0.5M246.2,274.4h0.5M234.6,258.9h0.5M225,269.3h0.5M219.2,270.5h0.5M256.5,267.7h0.5M221.1,276.5h0.5M249.2,268.2h0.5M269.2,261.3h0.5M264.4,275.8h0.5M258.1,261.6h0.5M257.8,271h0.5M257.3,271.9h0.5M235.3,270.3h0.5M235,271.6h0.5M269.1,276.8h0.5M256.4,266.5h0.5M230.5,266.7h0.5M259,257.3h0.5M241.8,268.5h0.5M246.7,265.7h0.5M231,282h0.5M240.2,264.3h0.5M219.5,264.3h0.5M259,245.3h0.5M243.7,271h0.5M253.2,263.1h0.5M269.8,255.8h0.5M266.7,273.8h0.5M217.9,284.3h0.5M251,277.9h0.5M250.2,249.2h0.5M244.5,273.8h0.5M239.6,261h0.5M246.2,262.9h0.5M246.9,275.8h0.5M232.2,274.5h0.5M238.8,268.8h0.5M256,273.4h0.5M258.4,268.4h0.5M262.1,270.6h0.5M260,278.2h0.5M250.5,271.2h0.5M230.6,275h0.5M222.7,272.5h0.5M244.5,275.9h0.5M242.5,275.5h0.5M266,251h0.5M229,272.1h0.5M242.4,264.4h0.5M239.8,268.5h0.5M233.4,267.8h0.5M227.9,252.3h0.5M243.3,273.6h0.5M237,266.4h0.5M262.5,272.5h0.5M219.9,270.9h0.5M268.1,283.8h0.5M236.5,263.4h0.5M227.5,276.6h0.5M254,255.7h0.5M244.1,263h0.5M229.1,253.1h0.5M247.5,270h0.5M254.5,256.5h0.5M268.9,282.7h0.5M263.9,275.2h0.5M258.7,266.9h0.5M234,260h0.5M228.8,261.8h0.5M282,252.8h0.5M235.5,262.7h0.5M273.9,281.9h0.5M227.8,269.1h0.5M253.4,271.9h0.5M251.1,270.1h0.5M261.1,279.1h0.5M230.2,274.4h0.5M244.6,256h0.5M219.6,279.1h0.5M248.4,276.4h0.5M254.5,267.4h0.5M278,286.4h0.5M238.2,272h0.5M247.6,277.5h0.5M236.4,253.2h0.5M239.6,276.7h0.5M228.5,267.7h0.5M270.8,275.3h0.5M233.7,267.4h0.5M255.9,251.3h0.5M240.1,265.1h0.5M242.1,269.1h0.5M263.4,253h0.5M249.8,266.6h0.5M268.2,277.6h0.5M260.2,255.2h0.5M225.8,262h0.5M221.9,281h0.5M247.3,276.2h0.5M253.5,268.7h0.5M227.1,258.6h0.5M234.1,273h0.5M255.9,273.9h0.5M270.8,248.7h0.5M250.1,258.6h0.5M237.7,277.8h0.5M256.1,270.5h0.5M266.1,259.3h0.5M263,258.4h0.5M232.9,276.5h0.5M278.2,248.5h0.5M230.8,269h0.5M252,265h0.5M236.5,281.7h0.5M256.2,270.1h0.5M270.8,288.7h0.5M227,279.3h0.5M243.6,269.3h0.5M255.3,271.2h0.5M232.3,268.7h0.5M247.2,260.7h0.5M263.4,273.1h0.5M241.3,280.7h0.5M243.1,269h0.5M248.8,247.9h0.5M262.1,270h0.5M260.4,278.5h0.5M247.5,274.1h0.5M249,263.5h0.5M230.4,264.4h0.5M237.3,268h0.5M259.4,255.8h0.5M237.8,268.9h0.5M232.2,258.8h0.5M232.3,270.4h0.5M260.1,274.3h0.5M239.1,272.9h0.5M246.9,260.8h0.5M246.8,275.7h0.5M240.1,261.3h0.5M248,278.2h0.5M250.4,273.8h0.5M247.3,277.3h0.5M239.8,281.6h0.5M240.9,274.3h0.5M245.7,273.6h0.5M250.4,265.2h0.5M241.3,276.8h0.5M242.5,275.8h0.5M251.5,268.3h0.5M235.8,272.6h0.5M265.4,277h0.5M227.4,260h0.5M245.4,260h0.5M243.6,258.5h0.5M256.2,269.5h0.5M270.3,288.8h0.5M272.5,259.7h0.5M231.1,268.6h0.5M258.3,263.3h0.5M245.1,279.1h0.5M260.1,261.4h0.5M236.2,274.1h0.5M231.8,271h0.5M219.3,282.3h0.5M241.2,272.2h0.5M256.5,267.8h0.5M252.2,276.3h0.5M229.3,263.5h0.5M256.3,255.8h0.5M261.6,255.6h0.5M247.5,261.6h0.5M223.7,256h0.5M250.4,277.8h0.5M262.3,276.6h0.5M251.5,265.3h0.5M240.6,281.5h0.5M259.5,259.1h0.5M218.6,259.5h0.5M220.3,261h0.5M244.7,279.4h0.5M230.9,258.9h0.5M261.3,267.6h0.5M228,277.2h0.5M246.4,260.1h0.5M287.3,269.6h0.5M247.6,266h0.5M241.5,266.1h0.5M262.9,259.9h0.5M256,244.9h0.5M244.3,272.8h0.5M234.6,261.8h0.5M254.1,264.4h0.5M269.7,276.7h0.5M238.6,269.3h0.5M253.4,263.2h0.5M251.5,273.9h0.5M246.2,266.5h0.5M241.8,261.2h0.5M257.1,246.5h0.5M252.5,266.3h0.5M237,250.5h0.5M241.6,275.1h0.5M264.7,250.6h0.5M257.2,260.4h0.5M240.5,278.7h0.5M229.1,262.4h0.5M283.6,274.3h0.5M269.8,276.1h0.5M248.9,273.3h0.5M225.4,279.5h0.5M267.1,281.9h0.5M243,259.5h0.5M243.2,271.5h0.5M248.1,266h0.5M255.1,243.4h0.5M234.9,266.1h0.5M232.3,270.7h0.5M256,265.3h0.5M239.2,257.8h0.5M232.6,268.6h0.5M257.6,275.5h0.5M230.8,277.8h0.5M228.7,276.2h0.5M268.6,257.8h0.5M232,278.9h0.5M221.9,274.4h0.5M223.8,276.8h0.5M244.9,267.1h0.5M267.3,282.3h0.5M242.8,274.7h0.5M239.6,266.2h0.5M235.4,269.3h0.5M264.9,265h0.5M234.9,248.7h0.5M279.5,299.1h0.5M271.6,293.6h0.5M275.1,304.2h0.5M276.2,290.4h0.5M271.5,298.3h0.5M277.8,296.1h0.5M269.8,291.9h0.5M281.5,290.1h0.5M276.7,290.2h0.5M273.5,292.4h0.5M269,289.6h0.5M285.1,286.8h0.5M274.1,294.1h0.5M273,289.8h0.5M279.3,299.4h0.5M272.5,291.1h0.5M273.9,301.2h0.5M281.8,292.7h0.5M273.9,285.1h0.5M274.3,294.6h0.5M286.7,286h0.5M268.9,291.4h0.5M274.1,295.9h0.5M275.7,294.6h0.5M275.2,281.6h0.5M273.3,291h0.5M275.3,286.1h0.5M275.6,303.3h0.5M280,278.4h0.5M268.2,294.9h0.5M270.2,300.1h0.5M274.2,287h0.5M275,299h0.5M272.8,288.3h0.5M265.9,279.7h0.5M276.6,296.6h0.5M274.2,302.5h0.5M269.3,298.1h0.5M267.9,274.9h0.5M270.9,281.3h0.5M279.3,290.7h0.5M272.2,279.9h0.5M278.3,283.2h0.5M274.5,287.2h0.5M274.1,281h0.5M274.4,292.7h0.5M270.7,302.5h0.5M274.7,283.6h0.5M272.8,291.3h0.5M275.6,290.5h0.5M273.3,295.7h0.5M275,295.1h0.5M280.8,296.1h0.5M276.2,286.9h0.5M270.5,285.4h0.5M280.8,280.4h0.5M276.1,294.9h0.5M267.2,301.2h0.5M272.3,290.5h0.5M277.5,287.9h0.5M279.5,294.2h0.5M276,292.5h0.5M271.4,304.2h0.5M278.5,301h0.5M269.7,279.8h0.5M272.4,293.1h0.5M274.9,295.1h0.5M280,300.7h0.5M277.3,289.9h0.5M270,289.6h0.5M267.5,301.9h0.5M268.3,299.6h0.5M276.2,294.9h0.5M280.5,292.7h0.5M267.5,288.8h0.5M278.4,301.4h0.5M270.2,287.1h0.5M273.3,292.7h0.5M274.1,301.9h0.5M283.5,286.7h0.5M276.9,303.2h0.5M276.4,302.4h0.5M282.1,283.5h0.5M278,303.6h0.5M279.6,282.8h0.5M268.2,298.5h0.5M271.2,297.7h0.5M269.4,289.7h0.5M271.2,303h0.5M272.8,294.5h0.5M276.1,297.7h0.5M273.4,285.4h0.5M294.6,268.3h0.5M290.1,262.5h0.5M290.4,270.1h0.5M282.9,261.7h0.5M265.8,256.1h0.5M267.7,272.9h0.5M265.6,270.8h0.5M277.9,257.8h0.5M290,256.1h0.5M252.4,257.4h0.5M291.4,252.9h0.5M263.6,273.4h0.5M286,254.2h0.5M263,258.9h0.5M281,280.1h0.5M263.5,261.5h0.5M271.1,260.2h0.5M277.4,282.3h0.5M286.2,275.6h0.5M284.7,274.4h0.5M262,268.1h0.5M261.3,264.4h0.5M287.9,261.2h0.5M264.1,262.4h0.5M271.5,253.9h0.5M291.6,275.2h0.5M282.1,249.1h0.5M279.3,256.4h0.5M263.9,270.2h0.5M260.7,265.5h0.5M287.2,257.5h0.5M265.5,264.8h0.5M291.6,264.4h0.5M291,262.7h0.5M273.7,279.8h0.5M295.5,261.3h0.5M280.6,278.5h0.5M286.7,265.5h0.5M273.4,277.5h0.5M264.7,262.4h0.5M267.9,261.6h0.5M263.1,253.4h0.5M267.5,257.1h0.5M259.8,269.5h0.5M284.9,261.2h0.5M263.5,265h0.5M267.2,256.1h0.5M267.9,274.5h0.5M273.7,277.2h0.5M293.2,274.2h0.5M276.5,277.1h0.5M271,277h0.5M282.4,280.8h0.5M284.8,276.2h0.5M283.5,260.6h0.5M284,273.5h0.5M283.4,273.8h0.5M281.3,278.6h0.5M279,276.2h0.5M268.8,248.2h0.5M270.8,258.5h0.5M280.6,256.6h0.5M272.5,256.5h0.5M270.7,281.4h0.5M270.4,277.9h0.5M282.4,282.4h0.5M266.4,257.7h0.5M277.8,281.6h0.5M267.7,257h0.5M282.9,250.1h0.5M270.3,286.9h0.5M266.7,262.3h0.5M280.1,276.7h0.5M262.2,273.8h0.5M265.2,259.6h0.5M263.6,260.5h0.5M288.6,255.5h0.5M272,259.6h0.5M280.5,275.9h0.5M289,253.2h0.5M267,276.9h0.5M284.1,261.8h0.5M269.2,280.9h0.5M290.6,271.3h0.5M284,274.4h0.5M250.6,267.5h0.5M286.6,259.1h0.5M291.4,272.2h0.5M293.8,259.9h0.5M292.2,252.9h0.5M282.8,278.9h0.5M270.5,276.7h0.5M230.4,269.7h0.5M234.1,279.8h0.5M224.1,278.6h0.5M233.7,274.9h0.5M225.6,275.3h0.5M218.4,283.4h0.5M218.5,282.5h0.5M235.9,281.3h0.5M249.3,269h0.5M250.5,278.8h0.5M233.6,275.7h0.5M237.1,278.5h0.5M220,273.7h0.5M226.4,277.8h0.5M243,280.4h0.5M231.2,276h0.5M241.3,275.8h0.5M235,280.7h0.5M243.4,273.9h0.5M244.9,271h0.5M235.3,264.5h0.5M228.5,260h0.5M231.2,277.4h0.5M235.7,277h0.5M239.5,271.1h0.5M230,265.9h0.5M222.6,266.1h0.5M261.1,268.6h0.5M229.6,277.1h0.5M219.3,279.1h0.5M234.3,273.5h0.5M227.4,280.4h0.5M223,281.4h0.5M223,279.4h0.5M231.9,260.5h0.5M234,264.5h0.5M241.1,279.1h0.5M235.9,278.3h0.5M240.2,278.1h0.5M242,261.9h0.5M252.6,278.2h0.5M221.2,275.6h0.5M218.8,269.3h0.5M232.7,278.6h0.5M230,268.5h0.5M228.6,279.1h0.5M238.5,280.7h0.5M226.1,277.6h0.5M234.6,270.2h0.5M225.6,277.2h0.5M229.9,280.8h0.5M218.2,272.1h0.5M233,281.1h0.5M230.3,277.9h0.5M240.7,279.7h0.5M227.1,278.7h0.5M228.8,280.7h0.5M221.6,274.8h0.5M227.7,270.7h0.5M246.6,270.6h0.5M241.3,267.7h0.5M234.3,277.6h0.5M219.1,268.1h0.5M224.6,277h0.5M242.6,257.1h0.5M225.9,277.5h0.5M222.9,277.5h0.5M228.6,278.1h0.5M241.5,275.4h0.5M235.7,269.4h0.5M218.5,268.9h0.5M230.9,279.9h0.5M219.9,276.8h0.5M234.1,275.4h0.5M229.1,276.6h0.5M232.6,276.1h0.5M221.1,272h0.5M226.2,271.9h0.5M244,265.1h0.5M228.9,278.1h0.5M242.9,274.9h0.5M245.2,279.2h0.5M234.1,274.3h0.5M236.6,281.7h0.5M256.7,272.6h0.5M229.9,276.3h0.5M235.3,274.7h0.5M241.6,274.9h0.5M232.4,279.1h0.5M245.5,276.4h0.5M222.4,268.2h0.5M225.7,268.6h0.5M224,265.3h0.5M252.1,266.2h0.5M230.9,270.4h0.5M222.7,274.9h0.5M230,268.2h0.5M236.3,280.2h0.5M220.8,281.1h0.5M234.3,279.3h0.5M220,271.8h0.5M237.3,271.1h0.5M237.4,280.2h0.5M235.7,268.7h0.5M235.9,277.4h0.5M231,267.9h0.5M240.3,273.1h0.5M228.3,274.1h0.5M231.1,267.6h0.5M235,279h0.5M240.9,276.6h0.5M231.5,277h0.5M235.6,279.1h0.5M233.5,274.2h0.5M226.9,279.2h0.5M242.7,276.6h0.5M240.2,279.5h0.5M219.9,274.6h0.5M224.7,278.5h0.5M225.2,276.5h0.5M240.9,274h0.5M234.4,281.2h0.5M239.7,255.2h0.5M237.9,271.9h0.5M237.1,268.7h0.5M221.5,278.6h0.5M240.4,281.7h0.5M232.7,274.6h0.5" fill="none" stroke="#555" stroke-width="0.5"/>
<path d="M279.1,275.6 278.1,275.8 277.1,275.9 276.1,275.9 275.1,275.7 274.3,275.5 273.6,275.3 272.6,275.1 272.1,275 271.1,274.7 270.6,274.5 269.8,274 269.1,273.5 268.6,273.1 268.1,272.6 267.6,272.1 267.1,271.5 266.8,271 266.5,270.5 266.1,269.5 266,269 265.9,268 266,267 266.1,266.4 266.4,265.5 266.6,265 267.1,264.3 267.6,263.6 268.1,263 268.6,262.5 269.1,262.1 269.6,261.7 270.1,261.4 270.7,261 271.6,260.6 272.1,260.4 273.1,260.1 273.7,260 274.6,259.8 275.6,259.7 276.6,259.6 277.6,259.6 278.6,259.7 279.6,260 280.1,260.1 281,260.5 281.6,260.8 282.1,261.2 282.6,261.6 283.1,262 283.6,262.5 284.1,263 284.6,263.5 285.1,264.1 285.6,264.7 286.1,265.5 286.3,266 286.6,267 286.6,268 286.5,269 286.2,270 286,270.5 285.6,271.4 285.2,272 284.9,272.5 284.4,273 283.7,273.5 283.1,273.9 282.6,274.2 282,274.5 281.1,274.9 280.6,275.2 279.6,275.5 279.1,275.6Z M261.1,304.5 260.1,304.6 259.1,304.6 258.1,304.6 257.1,304.7 256.1,304.7 255.1,304.7 254.1,304.8 253.1,304.8 252.1,304.8 251.1,304.8 250.1,304.8 249.1,304.8 248.1,304.8 247.1,304.8 246.1,304.8 245.1,304.8 244.1,304.7 243.1,304.7 242.1,304.7 241.1,304.7 240.1,304.7 239.1,304.7 238.1,304.7 237.1,304.7 236.1,304.7 235.1,304.7 234.1,304.7 233.1,304.7 232.1,304.7 231.1,304.7 230.1,304.7 229.1,304.6 228.1,304.6 227.1,304.6 226.1,304.6 225.1,304.5 224.1,304.5 223.1,304.6 222.1,304.6 221.1,304.6 220.1,304.6 219.1,304.6 218.3,304.5 217.8,304 217.4,303.5 217.1,303 217,302 217,301 217,300 217,299 217,298 217,297 217,296 216.9,295 216.9,294 216.9,293 216.9,292 216.9,291 217,290 217,289 217.1,288 217.2,287.5 217.8,287 218.6,286.5 219.1,286.3 219.7,286 220.1,285.5 220.1,284.8 220.1,284.4 220.6,283.5 221.1,283.3 222,283.5 222.5,284 222.8,284.5 223.1,284.5 223.7,284 224.3,283.5 225.1,283.1 225.6,282.9 226.6,282.9 227.6,282.9 228.6,282.9 229.6,282.7 230.6,282.6 231.6,282.7 232.6,282.9 233.5,283 233.7,283 234.6,282.9 235.6,282.6 236.1,282.4 237.1,282.1 238.1,282 239.1,282.2 240.1,282.4 241.1,282.3 242.1,282 242.6,281.8 243.4,281.5 244.1,281.3 245.1,281.1 245.7,281 246.6,280.8 247.6,280.5 248.1,280.3 248.9,280 249.6,279.7 250.1,279.5 251.1,279 251.6,278.8 252.2,278.5 253.1,278 253.6,277.7 254.1,277.4 254.9,277 255.6,276.6 256.1,276.3 257.1,276.1 258.1,276.5 258.6,276.9 259,277.5 259.4,278 259.8,278.5 260.2,279 260.7,279.5 261.3,280 261.9,280.5 262.4,281 262.9,281.5 263.3,282 263.7,282.5 264.1,283.1 264.6,283.7 265.1,284.2 265.6,284.8 266.1,285.5 266.3,286 266.6,286.8 266.8,287.5 266.9,288.5 266.9,289.5 266.9,290.5 266.8,291.5 266.7,292.5 266.7,293.5 266.8,294.5 267,295.5 267.2,296 267.4,297 267.3,298 267.1,299 267,299.5 266.6,300.5 266.3,301 265.9,301.5 265.4,302 264.7,302.5 264.1,303 263.6,303.4 263.1,303.7 262.6,304 261.6,304.5 261.1,304.5Z M278.1,275 277.1,275.1 276.1,275 275.6,274.9 274.6,274.7 273.9,274.5 273.1,274.3 272.1,274.1 271.6,273.9 270.6,273.5 270.1,273.2 269.6,272.8 269.1,272.4 268.6,271.9 268.1,271.4 267.6,270.7 267.2,270 267.1,269.5 266.9,268.5 266.9,267.5 267.1,266.5 267.2,266 267.6,265.2 268,264.5 268.4,264 268.8,263.5 269.3,263 269.8,262.5 270.5,262 271.1,261.6 271.6,261.4 272.6,261 273.1,260.9 274.1,260.6 275,260.5 275.6,260.4 276.6,260.4 277.6,260.4 278.6,260.5 279.1,260.6 280.1,260.9 280.6,261.1 281.2,261.5 281.9,262 282.4,262.5 282.8,263 283.3,263.5 283.7,264 284.1,264.5 284.6,265.1 285.1,265.9 285.4,266.5 285.6,267.2 285.7,268 285.6,268.7 285.4,269.5 285.1,270.4 284.8,271 284.5,271.5 284.1,272 283.6,272.5 283,273 282.2,273.5 281.6,273.9 281.1,274.1 280.2,274.5 279.6,274.7 278.6,275 278.1,275Z M254.6,304.5 253.6,304.6 252.6,304.6 251.6,304.6 250.6,304.6 249.6,304.6 248.6,304.6 247.6,304.6 246.6,304.6 245.6,304.6 244.6,304.5 244.1,304.3 243.3,304 242.6,303.8 241.6,303.6 240.6,303.6 239.6,303.7 238.6,303.9 237.7,304 237.1,304.1 236.1,304.2 235.1,304.2 234.1,304.3 233.1,304.1 232.6,304 231.6,303.6 231.1,303.4 230.1,303.1 229.6,303 228.6,302.9 227.6,302.8 226.6,302.5 226.1,302.4 225.1,302.1 224.5,302 223.6,301.9 222.6,301.8 221.6,301.5 221.1,301.3 220.6,301 220,300.5 219.6,300 219.1,299.3 218.8,298.5 218.6,297.5 218.6,296.5 218.6,296 218.5,295 218.3,294 218.4,293 218.7,292.5 219.3,292 220.1,291.7 220.6,291.4 221.5,291 222.1,290.7 222.6,290.4 223.4,290 224.1,289.7 224.6,289.4 225.6,289 226.1,288.8 226.9,288.5 227.6,288.3 228.6,288.1 229.2,288 230.1,287.7 230.9,287.5 231.6,287.3 232.6,287.1 233.2,287 234.1,286.8 235.1,286.8 236.1,286.9 236.6,287 237.2,287 238,286.5 238.4,286 238.9,285.5 239.6,285.1 240.1,284.9 241.1,284.8 242.1,284.5 242.6,284.4 243.6,284 244.1,283.9 245.1,283.5 245.6,283.3 246.2,283 247.1,282.5 247.6,282.2 248.1,281.9 248.7,281.5 249.5,281 250.1,280.7 250.6,280.4 251.6,280 252.1,279.8 253.1,279.5 253.6,279.4 254.6,279.2 255.6,279.1 256.6,279.3 257.3,279.5 258.1,279.8 258.6,280.1 259.4,280.5 260.1,280.9 260.6,281.2 261.1,281.6 261.6,282 262.1,282.5 262.6,283.1 263.1,283.8 263.6,284.5 263.9,285 264.2,285.5 264.6,286.2 265,287 265.1,287.6 265.2,288.5 265.2,289.5 265.1,290.5 265.1,291 265,292 264.9,293 264.8,294 264.7,295 264.6,295.6 264.4,296.5 264.1,297.2 263.7,298 263.4,298.5 263,299 262.6,299.5 262.1,300.1 261.6,300.8 261.1,301.4 260.6,301.8 260.1,302.1 259.1,302.5 258.6,302.6 257.6,302.9 257.1,303.1 256.6,303.5 255.9,304 255.1,304.4 254.6,304.5Z M277.6,274.5 277,274.5 276.1,274.4 275.1,274.2 274.5,274 273.6,273.8 272.6,273.6 272.1,273.5 271.1,273.1 270.6,272.8 270.1,272.5 269.5,272 269,271.5 268.6,271 268.1,270.3 267.7,269.5 267.6,269 267.5,268 267.6,267.1 267.8,266.5 268.1,265.7 268.5,265 268.8,264.5 269.1,264 269.6,263.5 270.1,263 270.8,262.5 271.6,262 272.1,261.8 272.9,261.5 273.6,261.3 274.6,261.1 275.2,261 276.1,260.9 277.1,260.9 278.1,261 278.6,261 279.6,261.2 280.3,261.5 281.1,262 281.6,262.5 282.1,263 282.5,263.5 282.9,264 283.3,264.5 283.7,265 284.1,265.6 284.6,266.4 284.9,267 285,268 284.9,269 284.6,269.9 284.3,270.5 284.1,271 283.6,271.6 283.1,272.1 282.6,272.6 281.9,273 281.1,273.5 280.6,273.7 280,274 279.1,274.3 278.1,274.5 277.6,274.5Z M253.6,303.6 252.6,303.9 251.6,304 250.6,304 249.6,304 248.6,304 247.6,303.9 246.6,303.7 245.8,303.5 245.1,303.3 244.4,303 243.6,302.7 243.1,302.4 242.1,302.1 241.1,302.1 240.1,302.3 239.1,302.5 238.6,302.6 237.6,302.7 236.6,302.7 235.6,302.5 235.1,302.4 234.1,302.1 233.6,302 232.6,301.7 231.8,301.5 231.1,301.3 230.1,301 229.6,300.9 228.6,300.8 227.6,300.6 226.9,300.5 226.1,300.3 225.1,300.1 224.1,300 223.4,300 222.6,299.9 221.6,299.5 221.1,299 220.7,298.5 220.6,298 220.5,297 220.6,296.5 220.8,295.5 221.1,294.5 221.4,294 221.9,293.5 222.3,293 222.8,292.5 223.4,292 224.1,291.6 224.6,291.4 225.6,291.1 226.2,291 227.1,290.8 228,290.5 228.6,290.3 229.6,290.1 230.1,289.9 231.1,289.6 231.6,289.5 232.6,289.2 233.6,289 234.1,289 234.7,289 235.6,289.2 236.6,289.3 237.6,289.2 238.1,289 238.7,288.5 239.1,288 239.6,287.5 240.2,287 241.1,286.5 241.6,286.4 242.6,286 243.1,285.9 244.1,285.5 244.6,285.4 245.6,285 246.1,284.7 246.6,284.4 247.1,283.9 247.6,283.5 248.1,283 248.7,282.5 249.4,282 250.1,281.5 250.6,281.2 251.1,281 252.1,280.6 252.6,280.4 253.6,280.2 254.6,280.1 255.6,280.1 256.6,280.3 257.2,280.5 258.1,280.8 258.6,281 259.5,281.5 260.1,281.9 260.6,282.2 261.1,282.6 261.6,283.1 262.1,283.7 262.6,284.4 263,285 263.3,285.5 263.6,286.2 264,287 264.2,287.5 264.3,288.5 264.3,289.5 264.2,290.5 264.1,291.5 264.1,292 263.9,293 263.8,294 263.6,294.5 263.1,295.5 262.8,296 262.3,296.5 261.8,297 261.4,297.5 261,298 260.6,298.5 260.1,299.1 259.6,299.7 259.1,300.2 258.6,300.5 257.6,300.9 257.1,301.1 256.3,301.5 255.7,302 255.2,302.5 254.6,303 254.1,303.4 253.6,303.6Z M277.6,274 276.8,274 276.1,273.9 275.1,273.7 274.6,273.5 273.6,273.3 272.6,273.1 272.1,272.9 271.1,272.5 270.6,272.2 270.1,271.9 269.6,271.4 269.1,270.9 268.6,270.2 268.2,269.5 268.1,269 268,268 268.1,267.3 268.4,266.5 268.6,265.9 269.1,265 269.4,264.5 269.8,264 270.3,263.5 270.9,263 271.6,262.5 272.1,262.3 272.8,262 273.6,261.8 274.6,261.5 275.1,261.4 276.1,261.4 277.1,261.4 278.1,261.4 279,261.5 279.6,261.7 280.3,262 281,262.5 281.5,263 281.9,263.5 282.3,264 282.7,264.5 283.1,265.1 283.6,265.7 284.1,266.5 284.3,267 284.5,268 284.4,269 284.1,269.7 283.7,270.5 283.4,271 283,271.5 282.5,272 281.8,272.5 281.1,272.9 280.6,273.2 280,273.5 279.1,273.8 278.1,274 277.6,274Z M250.1,303 249.4,303 248.6,303 247.6,302.8 246.6,302.6 246.1,302.4 245.1,302.1 244.6,301.9 243.9,301.5 243.2,301 242.6,300.7 241.6,300.6 240.6,300.8 239.9,301 239.1,301.2 238.1,301.4 237.1,301.4 236.1,301.3 235.2,301 234.6,300.8 233.6,300.6 233.1,300.4 232.1,300.2 231.5,300 230.6,299.7 230.1,299.5 229.1,299.1 228.6,298.9 227.6,298.6 227.1,298.5 226.1,298.1 225.6,298 224.6,297.6 224.1,297.4 223.9,296.5 224.2,296 224.6,295.4 225.1,295 226.1,294.6 226.6,294.4 227.3,294 227.8,293.5 228.1,293 228.6,292.4 229.1,292 230,291.5 230.6,291.3 231.6,291 232.1,290.9 233.1,290.7 234.1,290.6 235.1,290.5 236.1,290.5 236.6,290.5 237.6,290.3 238.5,290 239.1,289.6 239.6,289.2 240.1,288.6 240.6,288.2 241.1,287.9 242.1,287.6 242.6,287.4 243.5,287 244.1,286.7 244.6,286.5 245.6,286.1 246.1,285.9 246.7,285.5 247.2,285 247.7,284.5 248.1,284 248.6,283.4 249.1,282.9 249.6,282.5 250.4,282 251.1,281.6 251.6,281.3 252.6,281 253.1,280.9 254.1,280.8 255.1,280.7 256.1,280.8 256.8,281 257.6,281.2 258.2,281.5 259.1,281.9 259.6,282.2 260.1,282.5 260.7,283 261.2,283.5 261.7,284 262.1,284.7 262.6,285.5 262.8,286 263.1,286.6 263.4,287.5 263.6,288.5 263.6,289 263.6,289.5 263.5,290.5 263.4,291.5 263.2,292.5 263.1,293.2 262.9,294 262.6,294.5 262.1,295.2 261.6,295.7 261.1,296.2 260.6,296.8 260.1,297.3 259.6,297.8 259.1,298.3 258.6,298.8 258.1,299.2 257.6,299.5 256.6,300 256.1,300.3 255.6,300.6 255,301 254.4,301.5 253.9,302 253.1,302.5 252.6,302.6 251.6,302.9 250.6,303 250.1,303Z M278.6,273.5 277.6,273.6 276.6,273.5 276.1,273.4 275.1,273.2 274.4,273 273.6,272.8 272.6,272.6 272.1,272.5 271.1,272 270.6,271.7 270.1,271.3 269.6,270.8 269.1,270.2 268.7,269.5 268.5,269 268.5,268 268.6,267.3 268.9,266.5 269.1,266 269.6,265.1 270,264.5 270.5,264 271,263.5 271.6,263 272.1,262.7 272.7,262.5 273.6,262.2 274.3,262 275.1,261.8 276.1,261.8 277.1,261.7 278.1,261.8 279.1,261.9 279.6,262.1 280.4,262.5 281,263 281.4,263.5 281.8,264 282.1,264.5 282.6,265.1 283.1,265.8 283.6,266.5 283.8,267 284,268 283.8,269 283.6,269.7 283.1,270.5 282.8,271 282.3,271.5 281.7,272 281.1,272.4 280.6,272.7 280.1,273 279.1,273.4 278.6,273.5Z M250.6,302 249.6,302.1 248.9,302 248.1,301.9 247.1,301.6 246.6,301.5 245.6,301.1 245.1,300.8 244.6,300.5 244,300 243.1,299.6 242.6,299.5 241.6,299.4 240.8,299.5 240.1,299.7 239.1,299.9 238.6,300 237.6,300.2 236.6,300.2 235.6,300.1 235.1,299.9 234.1,299.5 233.6,299.3 233.1,299 232.4,298.5 231.6,298 231.1,297.7 230.6,297.3 230.1,296.6 229.8,296 229.8,295 230.1,294.4 230.6,293.9 231.2,293.5 232,293 232.6,292.7 233.1,292.5 234.1,292.2 234.6,292 235.6,291.7 236.1,291.5 237.1,291.2 238.1,291 238.6,290.9 239.6,290.5 240.1,290.2 240.6,289.8 241.1,289.4 242,289 242.6,288.8 243.1,288.5 243.9,288 244.6,287.5 245.1,287.3 245.6,287 246.6,286.5 247.1,286.1 247.6,285.6 248.1,285 248.4,284.5 248.8,284 249.2,283.5 249.7,283 250.4,282.5 251.1,282.1 251.6,281.8 252.6,281.5 253.1,281.4 254.1,281.2 255.1,281.2 256.1,281.3 256.9,281.5 257.6,281.7 258.2,282 259.1,282.5 259.6,282.7 260.1,283.1 260.6,283.5 261.1,284.1 261.6,284.8 262,285.5 262.2,286 262.6,286.9 262.8,287.5 263,288.5 263,289.5 262.9,290.5 262.8,291.5 262.6,292.3 262.4,293 262.1,293.9 261.7,294.5 261.3,295 260.9,295.5 260.4,296 259.9,296.5 259.4,297 258.9,297.5 258.2,298 257.6,298.4 257.1,298.7 256.5,299 255.6,299.5 255.1,299.7 254.6,300 253.9,300.5 253.1,301 252.6,301.3 252.1,301.5 251.1,301.9 250.6,302Z M278.6,273.1 277.6,273.2 276.6,273.1 276,273 275.1,272.8 274.1,272.5 273.6,272.4 272.6,272.2 272,272 271.1,271.6 270.6,271.2 270.1,270.8 269.6,270.2 269.2,269.5 269,269 268.9,268 269.1,267.2 269.4,266.5 269.6,266 270.1,265.2 270.6,264.5 271.1,264 271.6,263.6 272.1,263.2 272.6,263 273.6,262.6 274.1,262.4 275.1,262.2 276.1,262.1 277.1,262.1 278.1,262.1 279.1,262.3 279.7,262.5 280.4,263 280.9,263.5 281.3,264 281.7,264.5 282.1,265.1 282.6,265.8 283.1,266.5 283.3,267 283.5,268 283.4,269 283.1,269.6 282.6,270.5 282.2,271 281.7,271.5 281.1,271.9 280.6,272.3 280.1,272.5 279.1,273 278.6,273.1Z M250.6,300.7 249.6,301 248.6,300.9 247.6,300.5 247.1,300.2 246.6,299.8 246.1,299.4 245.2,299 244.6,298.9 243.6,298.7 242.6,298.6 241.6,298.6 240.6,298.6 239.6,298.7 238.6,298.8 237.9,299 237.1,299.2 236.1,299.3 235.1,299 234.6,298.7 234.1,298.1 233.7,297.5 233.4,297 233.1,296.5 232.8,295.5 233.1,294.9 233.6,294.4 234.1,294 234.9,293.5 235.6,293 236.1,292.7 236.6,292.4 237.5,292 238.1,291.8 239.1,291.6 239.6,291.5 240.6,291.1 241.1,290.9 241.8,290.5 242.6,290 243.1,289.7 243.6,289.3 244.1,288.9 244.6,288.5 245.3,288 246.1,287.5 246.6,287.2 247.1,286.9 247.6,286.5 248.1,285.9 248.6,285.1 248.9,284.5 249.3,284 249.8,283.5 250.4,283 251.1,282.5 251.6,282.3 252.3,282 253.1,281.8 254.1,281.6 255.1,281.6 256.1,281.7 257.1,282 257.6,282.1 258.4,282.5 259.1,282.9 259.6,283.2 260.1,283.6 260.6,284.1 261.1,284.8 261.4,285.5 261.7,286 262,287 262.2,287.5 262.4,288.5 262.4,289.5 262.3,290.5 262.2,291.5 262.1,292 261.8,293 261.6,293.5 261.1,294.4 260.6,295 260.1,295.5 259.7,296 259.2,296.5 258.6,297 258.1,297.4 257.6,297.6 256.8,298 256.1,298.3 255.5,298.5 254.6,298.9 254.1,299.1 253.1,299.5 252.6,299.7 251.8,300 251.1,300.4 250.6,300.7Z M279.1,272.6 278.1,272.8 277.1,272.8 276.1,272.7 275.5,272.5 274.6,272.2 273.6,272 273.1,271.9 272.1,271.6 271.6,271.4 270.9,271 270.4,270.5 269.9,270 269.6,269.5 269.3,268.5 269.4,267.5 269.6,267 270.1,266 270.4,265.5 270.8,265 271.2,264.5 271.7,264 272.4,263.5 273.1,263.2 273.6,263 274.6,262.7 275.6,262.5 276.1,262.5 277.1,262.4 278.1,262.5 278.6,262.5 279.6,262.8 280.1,263.2 280.6,263.7 281.1,264.3 281.6,265 282,265.5 282.3,266 282.6,266.5 283,267.5 283,268.5 282.7,269.5 282.4,270 282,270.5 281.6,271 281,271.5 280.3,272 279.6,272.4 279.1,272.6Z M250.1,299.6 249.1,299.8 248.3,299.5 247.8,299 247.3,298.5 246.6,298.1 246.1,298 245.1,297.9 244.1,297.9 243.1,297.9 242.1,297.9 241.1,297.9 240.1,297.9 239.1,297.9 238.1,298 237.6,298.1 236.6,298.4 235.6,298.2 235.1,297.7 234.7,297 234.6,296.1 234.6,296 235.1,295 235.6,294.5 236.1,294.1 236.6,293.7 237.1,293.4 237.8,293 238.6,292.7 239.3,292.5 240.1,292.2 240.8,292 241.6,291.7 242.1,291.4 242.7,291 243.3,290.5 243.9,290 244.5,289.5 245,289 245.6,288.5 246.1,288.2 246.6,287.8 247.1,287.5 247.8,287 248.3,286.5 248.6,286 249.1,285 249.4,284.5 249.8,284 250.3,283.5 251,283 251.6,282.6 252.1,282.4 253.1,282.1 253.7,282 254.6,281.9 255.6,281.9 256.1,282 257.1,282.3 257.6,282.5 258.6,283 259.1,283.3 259.6,283.7 260.1,284.2 260.6,284.8 261,285.5 261.2,286 261.5,287 261.6,287.5 261.8,288.5 261.9,289.5 261.8,290.5 261.6,291.5 261.5,292 261.3,293 261,293.5 260.6,294.2 260.1,294.9 259.6,295.5 259.1,296 258.6,296.4 258.1,296.8 257.6,297 256.6,297.4 256.1,297.6 255.1,297.9 254.6,298 253.6,298.3 253,298.5 252.1,298.7 251.3,299 250.6,299.4 250.1,299.6Z M279.1,272.2 278.1,272.4 277.1,272.5 276.1,272.3 275.1,272 274.6,271.9 273.6,271.6 273.1,271.5 272.1,271.2 271.6,271 270.9,270.5 270.4,270 270.1,269.5 269.8,268.5 269.9,267.5 270.1,266.9 270.6,266 270.9,265.5 271.3,265 271.8,264.5 272.4,264 273.1,263.6 273.6,263.4 274.6,263 275.1,262.9 276.1,262.8 277.1,262.8 278.1,262.8 279.1,263 279.6,263.2 280.1,263.6 280.6,264.2 281.1,264.9 281.6,265.5 281.9,266 282.2,266.5 282.6,267.5 282.7,268 282.6,268.5 282.2,269.5 281.9,270 281.5,270.5 281,271 280.4,271.5 279.6,272 279.1,272.2Z M250.1,298.5 249.1,298.5 248.6,298.2 248.1,297.8 247.6,297.4 246.6,297.1 245.6,297.1 244.6,297.1 243.6,297.2 242.6,297.2 241.6,297.3 240.6,297.3 239.6,297.1 239.1,297 238.1,296.8 237.1,297 236.2,296.5 236.5,295.5 237.1,295 237.6,294.7 238.1,294.4 238.7,294 239.4,293.5 240.1,293.2 240.6,293 241.6,292.6 242.1,292.4 242.7,292 243.3,291.5 243.8,291 244.3,290.5 244.8,290 245.3,289.5 245.9,289 246.5,288.5 247.1,288.1 247.6,287.8 248.1,287.4 248.6,286.8 249.1,286 249.3,285.5 249.6,284.9 250.1,284.2 250.6,283.7 251.1,283.3 251.6,283 252.6,282.6 253.1,282.4 254.1,282.2 255.1,282.2 256.1,282.3 256.8,282.5 257.6,282.8 258.1,283.1 258.8,283.5 259.4,284 259.9,284.5 260.3,285 260.6,285.7 260.9,286.5 261.1,287.4 261.2,288 261.3,289 261.3,290 261.2,291 261.1,291.7 260.9,292.5 260.6,293.4 260.2,294 259.9,294.5 259.5,295 259,295.5 258.5,296 257.6,296.5 257.1,296.7 256.1,297 255.6,297.1 254.6,297.4 254.1,297.5 253.1,297.8 252.1,298 251.6,298.1 250.6,298.4 250.1,298.5Z M278.1,272.1 277.1,272.1 276.3,272 275.6,271.8 274.6,271.5 274.1,271.4 273.1,271.1 272.6,270.9 271.6,270.5 271.1,270.1 270.6,269.5 270.3,269 270.2,268 270.5,267 270.8,266.5 271.1,266 271.6,265.3 272.1,264.8 272.6,264.4 273.2,264 274.1,263.6 274.6,263.4 275.6,263.2 276.6,263.1 277.6,263.1 278.6,263.2 279.3,263.5 280,264 280.4,264.5 280.8,265 281.2,265.5 281.6,266.2 282,267 282.2,267.5 282.2,268.5 282,269 281.6,269.7 281.1,270.4 280.6,270.8 280.1,271.2 279.6,271.6 278.6,272 278.1,272.1Z M251.6,297.5 250.6,297.6 249.7,297.5 249.1,297.2 248.6,296.9 247.7,296.5 247.1,296.3 246.1,296.2 245.1,296.3 244.1,296.3 243.1,296.4 242.1,296.5 241.6,296.6 240.6,296.5 240.1,296.3 239.6,295.9 239.5,295 239.8,294.5 240.5,294 241.1,293.8 242,293.5 242.6,293.3 243.2,293 243.7,292.5 244.1,292 244.6,291.3 245.1,290.6 245.6,290 246.1,289.5 246.6,289 247.1,288.6 247.6,288.3 248.1,287.9 248.6,287.5 249.1,286.8 249.5,286 249.7,285.5 250.1,284.7 250.6,284.1 251.1,283.7 251.6,283.3 252.3,283 253.1,282.7 254.1,282.5 254.6,282.5 255.6,282.5 256.1,282.6 257.1,282.9 257.6,283.1 258.3,283.5 259,284 259.5,284.5 259.8,285 260.1,285.5 260.5,286.5 260.6,287.1 260.8,288 260.9,289 260.9,290 260.8,291 260.6,292 260.5,292.5 260.1,293.5 259.8,294 259.4,294.5 259,295 258.5,295.5 257.7,296 257.1,296.3 256.2,296.5 255.6,296.6 254.6,296.8 253.9,297 253.1,297.2 252.1,297.4 251.6,297.5Z M278.6,271.6 277.6,271.8 276.6,271.7 275.6,271.5 275.1,271.4 274.1,271 273.6,270.9 272.6,270.5 272.1,270.3 271.6,269.9 271.1,269.4 270.7,268.5 270.8,267.5 271.1,266.7 271.6,266 272,265.5 272.5,265 273.1,264.5 273.6,264.2 274.1,264 275.1,263.7 276.1,263.6 276.6,263.5 277.6,263.4 278.3,263.5 279.1,263.8 279.6,264.1 280.1,264.6 280.6,265.3 281.1,266 281.4,266.5 281.6,267 281.8,268 281.6,269 281.3,269.5 280.9,270 280.4,270.5 279.8,271 279.1,271.4 278.6,271.6Z M254.1,296.5 253.1,296.7 252.1,296.9 251.1,297 250.1,296.7 249.6,296.5 248.6,296 248.1,295.8 247.4,295.5 246.6,295.1 246.1,294.9 245.5,294.5 245.3,293.5 245.2,292.5 245.4,291.5 245.6,291 246.1,290.3 246.6,289.7 247.1,289.2 247.6,288.8 248.1,288.5 248.7,288 249.1,287.5 249.6,286.6 249.9,286 250.1,285.4 250.6,284.6 251.1,284.1 251.6,283.7 252.1,283.4 253.1,283 253.6,282.9 254.6,282.7 255.6,282.7 256.6,283 257.1,283.2 257.8,283.5 258.5,284 259,284.5 259.4,285 259.7,285.5 260.1,286.5 260.2,287 260.4,288 260.5,289 260.5,290 260.5,291 260.3,292 260.1,292.6 259.7,293.5 259.4,294 259,294.5 258.6,295 257.9,295.5 257.1,295.8 256.5,296 255.6,296.2 254.6,296.4 254.1,296.5Z M279.1,271 278.1,271.4 277.1,271.5 276.1,271.3 275.1,271 274.6,270.8 273.7,270.5 273.1,270.3 272.6,270 271.8,269.5 271.4,269 271.2,268 271.4,267 271.7,266.5 272.1,266 272.6,265.5 273.2,265 274.1,264.5 274.6,264.3 275.6,264.1 276.1,264 277.1,263.8 278.1,263.8 278.7,264 279.5,264.5 279.9,265 280.3,265.5 280.7,266 281.1,266.7 281.4,267.5 281.3,268.5 281.1,269.1 280.6,269.8 280.1,270.3 279.6,270.7 279.1,271Z M254.6,296 253.6,296.2 252.6,296.4 251.6,296.4 250.6,296.2 250.1,296 249.1,295.5 248.6,295.3 248.1,295 247.5,294.5 247.1,294 246.6,293.3 246.2,292.5 246.2,291.5 246.6,290.5 247,290 247.5,289.5 248.1,289.1 248.6,288.7 249.1,288.2 249.6,287.5 249.8,287 250.1,286.4 250.4,285.5 250.7,285 251.1,284.5 251.7,284 252.5,283.5 253.1,283.3 254.1,283 254.6,283 255.6,283 256.1,283.1 257.1,283.4 257.6,283.7 258.1,284 258.6,284.5 259.1,285.1 259.6,286 259.7,286.5 260,287.5 260.1,288.4 260.2,289 260.2,290 260.1,291 260.1,291.5 259.8,292.5 259.6,293 259.1,293.9 258.6,294.5 258.1,295 257.6,295.3 257,295.5 256.1,295.7 255.1,295.9 254.6,296Z M278.1,271 277.1,271.2 276.1,271 275.6,270.9 274.6,270.5 274.1,270.3 273.5,270 272.7,269.5 272.1,269 271.8,268.5 271.8,267.5 272.1,266.7 272.6,266.1 273.1,265.6 273.6,265.3 274.2,265 275.1,264.7 275.9,264.5 276.6,264.3 277.6,264.2 278.6,264.4 279.1,264.7 279.6,265.1 280.1,265.8 280.6,266.5 280.8,267 281,268 280.7,269 280.3,269.5 279.9,270 279.3,270.5 278.6,270.9 278.1,271Z M255.1,295.6 254.1,295.8 253.1,295.9 252.1,296 251.1,295.8 250.3,295.5 249.6,295.1 249.1,294.8 248.6,294.5 248.1,294 247.6,293.3 247.1,292.5 247,292 247.1,291 247.3,290.5 247.8,290 248.4,289.5 249,289 249.5,288.5 249.8,288 250.1,287.4 250.4,286.5 250.6,286 251.1,285 251.5,284.5 252.1,284.1 252.6,283.8 253.3,283.5 254.1,283.3 255.1,283.2 256.1,283.3 256.7,283.5 257.6,284 258.1,284.4 258.6,284.9 259,285.5 259.2,286 259.5,287 259.7,287.5 259.8,288.5 259.9,289.5 259.9,290.5 259.8,291.5 259.6,292.2 259.3,293 259,293.5 258.6,294.1 258.1,294.6 257.4,295 256.6,295.3 255.6,295.5 255.1,295.6Z M278.1,270.7 277.1,270.8 276.1,270.7 275.5,270.5 274.6,270.1 274.1,269.8 273.6,269.5 272.9,269 272.5,268.5 272.3,267.5 272.6,266.9 273.1,266.3 273.6,265.9 274.6,265.6 275.1,265.4 276.1,265.1 276.6,264.8 277.6,264.6 278.6,264.8 279.1,265.2 279.6,265.8 280.1,266.5 280.3,267 280.5,268 280.1,269 279.8,269.5 279.2,270 278.6,270.4 278.1,270.7Z M253.1,295.5 252.1,295.5 251.6,295.4 250.6,295 250.1,294.7 249.6,294.4 249,294 248.6,293.5 248.1,292.7 247.8,292 247.9,291 248.2,290.5 248.8,290 249.3,289.5 249.8,289 250.1,288.5 250.5,287.5 250.7,287 251,286 251.2,285.5 251.6,284.9 252.1,284.4 252.8,284 253.6,283.7 254.3,283.5 255.1,283.4 255.8,283.5 256.6,283.7 257.2,284 257.9,284.5 258.3,285 258.7,285.5 259.1,286.5 259.2,287 259.4,288 259.5,289 259.6,290 259.5,291 259.4,292 259.1,292.7 258.7,293.5 258.3,294 257.6,294.5 257.1,294.8 256.3,295 255.6,295.2 254.6,295.3 253.6,295.5 253.1,295.5Z M278.1,270.2 277.1,270.5 276.1,270.3 275.3,270 274.6,269.5 274.1,269.2 273.6,268.7 273.1,268 273.1,267.5 273.4,267 274.1,266.6 275.1,266.5 275.6,266.5 276.3,266 276.8,265.5 277.6,265.2 278.6,265.4 279.1,265.9 279.5,266.5 279.8,267 279.9,268 279.6,268.8 279.1,269.4 278.6,269.9 278.1,270.2Z M254.1,295 253.1,295.1 252.1,295 251.6,294.9 250.8,294.5 250.1,294 249.6,293.6 249.1,293 248.9,292.5 248.7,291.5 249.1,290.8 249.6,290.2 250.1,289.5 250.4,289 250.6,288.5 250.9,287.5 251.1,286.9 251.4,286 251.6,285.5 252.1,284.9 252.6,284.4 253.5,284 254.1,283.8 255.1,283.7 256.1,283.8 256.6,284 257.5,284.5 258,285 258.4,285.5 258.6,286 259,287 259.1,287.7 259.2,288.5 259.3,289.5 259.3,290.5 259.2,291.5 259.1,292 258.7,293 258.3,293.5 257.8,294 257.1,294.4 256.6,294.6 255.6,294.8 254.6,295 254.1,295Z M277.6,269.8 277.1,270 276.6,269.9 276.1,269.7 275.7,269.5 275.6,269.4 275.3,269 275.3,268.5 275.6,268.4 276.1,268.2 276.6,268.1 276.8,268 277.1,267.8 277.4,267.5 277.5,267 277.6,266.6 277.6,266.5 278.1,266.3 278.5,266.5 278.6,266.6 278.8,267 278.8,267.5 278.8,268 278.6,268.5 278.6,268.6 278.4,269 278.1,269.5 278.1,269.5 277.6,269.8Z M255.1,294.6 254.1,294.7 253.1,294.7 252.2,294.5 251.6,294.2 251.1,293.9 250.5,293.5 250.1,293 249.7,292 249.9,291 250.1,290.5 250.6,289.7 251,289 251.2,288.5 251.4,287.5 251.6,286.6 251.8,286 252.1,285.4 252.6,284.9 253.1,284.5 254.1,284.1 254.6,284 255.6,284 256.1,284.1 257,284.5 257.6,285 258,285.5 258.3,286 258.6,286.8 258.8,287.5 258.9,288.5 259,289.5 259,290.5 258.9,291.5 258.6,292.5 258.3,293 257.9,293.5 257.2,294 256.6,294.2 255.6,294.5 255.1,294.6Z M255.6,294.1 254.6,294.2 253.6,294.3 252.6,294 252.1,293.8 251.6,293.5 251,293 250.6,292.3 250.5,291.5 250.6,290.9 251,290 251.2,289.5 251.6,288.7 251.8,288 252,287 252.1,286.5 252.5,285.5 253,285 253.6,284.7 254.1,284.4 255.1,284.2 256.1,284.4 256.6,284.6 257.2,285 257.7,285.5 258.1,286.2 258.4,287 258.6,288 258.7,288.5 258.7,289.5 258.8,290.5 258.6,291.5 258.5,292 258.1,292.7 257.6,293.3 257.1,293.6 256.1,294 255.6,294.1Z M256.1,293.5 255.1,293.7 254.1,293.8 253.1,293.6 252.6,293.4 252,293 251.5,292.5 251.1,291.5 251.1,291.5 251.2,290.5 251.6,289.7 251.9,289 252.2,288.5 252.5,287.5 252.6,286.8 252.8,286 253.1,285.5 253.8,285 254.6,284.7 255.6,284.6 256.6,284.9 257.1,285.3 257.6,285.9 257.9,286.5 258.1,287 258.3,288 258.4,289 258.5,290 258.4,291 258.1,292 257.8,292.5 257.3,293 256.6,293.4 256.1,293.5Z M255.1,293.1 254.1,293.1 253.4,293 252.6,292.6 252.1,292.2 251.7,291.5 251.7,290.5 252.1,289.6 252.5,289 252.8,288.5 253.1,287.7 253.3,287 253.5,286 253.9,285.5 254.6,285.1 255.1,285 255.9,285 256.6,285.3 257.1,285.7 257.6,286.5 257.8,287 258,288 258.1,289 258.1,289.5 258.1,290.5 258.1,291 257.7,292 257.1,292.5 256.6,292.7 255.6,293 255.1,293.1Z M256.1,292 255.1,292.1 254.1,292.3 253.1,292.1 252.6,291.7 252.2,291 252.4,290 252.7,289.5 253.1,288.9 253.6,288.2 253.9,287.5 254.1,286.7 254.4,286 255.1,285.5 255.6,285.4 256.1,285.5 256.8,286 257.2,286.5 257.6,287.5 257.7,288 257.8,289 257.8,290 257.6,291 257.3,291.5 256.6,292 256.1,292Z M256.6,291 255.6,291.1 254.6,291.2 253.6,291.3 253.1,291 253.1,290 253.4,289.5 253.8,289 254.1,288.5 254.6,287.6 254.8,287 255.1,286.4 256.1,286.1 256.7,286.5 257.1,287.2 257.3,288 257.4,289 257.3,290 257.1,290.6 256.6,291Z M256.1,290.1 255.6,290.1 255.1,290 255,290 254.6,289.5 254.8,289 255,288.5 255.1,288.2 255.2,288 255.5,287.5 255.6,287.3 256.1,287.1 256.6,287.5 256.6,287.5 256.8,288 256.8,288.5 256.8,289 256.7,289.5 256.6,289.8 256.3,290 256.1,290.1Z" fill="none" stroke="#000" stroke-width="0.5" stroke-linejoin="round"/>
<rect x="216.2" y="280.0" width="2.4" height="24.0" fill="#000" opacity="1"/><rect x="242.0" y="303.8" width="23.0" height="1.5" fill="#000" opacity="1"/>
<rect x="216.60" y="222.50" width="82.2" height="82.5" fill="none" stroke="#000" stroke-width="1"/>
<text class="t2" x="211.70" y="307.00" font-size="4.7" text-anchor="end">10<tspan font-size="3.9" dy="-2.9">0</tspan></text>
<line x1="215.00" y1="305.00" x2="216.60" y2="305.00" stroke="#000" stroke-width="0.8" />
<text class="t2" x="216.80" y="314.00" font-size="4.7" text-anchor="middle">10<tspan font-size="3.9" dy="-2.9">0</tspan></text>
<line x1="216.60" y1="305.00" x2="216.60" y2="306.60" stroke="#000" stroke-width="0.8" />
<text class="t2" x="211.70" y="286.38" font-size="4.7" text-anchor="end">10<tspan font-size="3.9" dy="-2.9">1</tspan></text>
<line x1="215.00" y1="284.38" x2="216.60" y2="284.38" stroke="#000" stroke-width="0.8" />
<text class="t2" x="237.35" y="314.00" font-size="4.7" text-anchor="middle">10<tspan font-size="3.9" dy="-2.9">1</tspan></text>
<line x1="237.15" y1="305.00" x2="237.15" y2="306.60" stroke="#000" stroke-width="0.8" />
<text class="t2" x="211.70" y="265.75" font-size="4.7" text-anchor="end">10<tspan font-size="3.9" dy="-2.9">2</tspan></text>
<line x1="215.00" y1="263.75" x2="216.60" y2="263.75" stroke="#000" stroke-width="0.8" />
<text class="t2" x="257.90" y="314.00" font-size="4.7" text-anchor="middle">10<tspan font-size="3.9" dy="-2.9">2</tspan></text>
<line x1="257.70" y1="305.00" x2="257.70" y2="306.60" stroke="#000" stroke-width="0.8" />
<text class="t2" x="211.70" y="245.12" font-size="4.7" text-anchor="end">10<tspan font-size="3.9" dy="-2.9">3</tspan></text>
<line x1="215.00" y1="243.12" x2="216.60" y2="243.12" stroke="#000" stroke-width="0.8" />
<text class="t2" x="278.45" y="314.00" font-size="4.7" text-anchor="middle">10<tspan font-size="3.9" dy="-2.9">3</tspan></text>
<line x1="278.25" y1="305.00" x2="278.25" y2="306.60" stroke="#000" stroke-width="0.8" />
<text class="t2" x="211.70" y="224.50" font-size="4.7" text-anchor="end">10<tspan font-size="3.9" dy="-2.9">4</tspan></text>
<line x1="215.00" y1="222.50" x2="216.60" y2="222.50" stroke="#000" stroke-width="0.8" />
<text class="t2" x="299.00" y="314.00" font-size="4.7" text-anchor="middle">10<tspan font-size="3.9" dy="-2.9">4</tspan></text>
<line x1="298.80" y1="305.00" x2="298.80" y2="306.60" stroke="#000" stroke-width="0.8" />
<line x1="222.79" y1="305.00" x2="222.79" y2="303.70" stroke="#000" stroke-width="0.6" />
<line x1="216.60" y1="298.79" x2="217.90" y2="298.79" stroke="#000" stroke-width="0.6" />
<line x1="226.40" y1="305.00" x2="226.40" y2="303.70" stroke="#000" stroke-width="0.6" />
<line x1="216.60" y1="295.16" x2="217.90" y2="295.16" stroke="#000" stroke-width="0.6" />
<line x1="228.97" y1="305.00" x2="228.97" y2="303.70" stroke="#000" stroke-width="0.6" />
<line x1="216.60" y1="292.58" x2="217.90" y2="292.58" stroke="#000" stroke-width="0.6" />
<line x1="230.96" y1="305.00" x2="230.96" y2="303.70" stroke="#000" stroke-width="0.6" />
<line x1="216.60" y1="290.58" x2="217.90" y2="290.58" stroke="#000" stroke-width="0.6" />
<line x1="232.59" y1="305.00" x2="232.59" y2="303.70" stroke="#000" stroke-width="0.6" />
<line x1="216.60" y1="288.95" x2="217.90" y2="288.95" stroke="#000" stroke-width="0.6" />
<line x1="233.97" y1="305.00" x2="233.97" y2="303.70" stroke="#000" stroke-width="0.6" />
<line x1="216.60" y1="287.57" x2="217.90" y2="287.57" stroke="#000" stroke-width="0.6" />
<line x1="235.16" y1="305.00" x2="235.16" y2="303.70" stroke="#000" stroke-width="0.6" />
<line x1="216.60" y1="286.37" x2="217.90" y2="286.37" stroke="#000" stroke-width="0.6" />
<line x1="236.21" y1="305.00" x2="236.21" y2="303.70" stroke="#000" stroke-width="0.6" />
<line x1="216.60" y1="285.32" x2="217.90" y2="285.32" stroke="#000" stroke-width="0.6" />
<line x1="243.34" y1="305.00" x2="243.34" y2="303.70" stroke="#000" stroke-width="0.6" />
<line x1="216.60" y1="278.17" x2="217.90" y2="278.17" stroke="#000" stroke-width="0.6" />
<line x1="246.95" y1="305.00" x2="246.95" y2="303.70" stroke="#000" stroke-width="0.6" />
<line x1="216.60" y1="274.53" x2="217.90" y2="274.53" stroke="#000" stroke-width="0.6" />
<line x1="249.52" y1="305.00" x2="249.52" y2="303.70" stroke="#000" stroke-width="0.6" />
<line x1="216.60" y1="271.96" x2="217.90" y2="271.96" stroke="#000" stroke-width="0.6" />
<line x1="251.51" y1="305.00" x2="251.51" y2="303.70" stroke="#000" stroke-width="0.6" />
<line x1="216.60" y1="269.96" x2="217.90" y2="269.96" stroke="#000" stroke-width="0.6" />
<line x1="253.14" y1="305.00" x2="253.14" y2="303.70" stroke="#000" stroke-width="0.6" />
<line x1="216.60" y1="268.33" x2="217.90" y2="268.33" stroke="#000" stroke-width="0.6" />
<line x1="254.52" y1="305.00" x2="254.52" y2="303.70" stroke="#000" stroke-width="0.6" />
<line x1="216.60" y1="266.94" x2="217.90" y2="266.94" stroke="#000" stroke-width="0.6" />
<line x1="255.71" y1="305.00" x2="255.71" y2="303.70" stroke="#000" stroke-width="0.6" />
<line x1="216.60" y1="265.75" x2="217.90" y2="265.75" stroke="#000" stroke-width="0.6" />
<line x1="256.76" y1="305.00" x2="256.76" y2="303.70" stroke="#000" stroke-width="0.6" />
<line x1="216.60" y1="264.69" x2="217.90" y2="264.69" stroke="#000" stroke-width="0.6" />
<line x1="263.89" y1="305.00" x2="263.89" y2="303.70" stroke="#000" stroke-width="0.6" />
<line x1="216.60" y1="257.54" x2="217.90" y2="257.54" stroke="#000" stroke-width="0.6" />
<line x1="267.50" y1="305.00" x2="267.50" y2="303.70" stroke="#000" stroke-width="0.6" />
<line x1="216.60" y1="253.91" x2="217.90" y2="253.91" stroke="#000" stroke-width="0.6" />
<line x1="270.07" y1="305.00" x2="270.07" y2="303.70" stroke="#000" stroke-width="0.6" />
<line x1="216.60" y1="251.33" x2="217.90" y2="251.33" stroke="#000" stroke-width="0.6" />
<line x1="272.06" y1="305.00" x2="272.06" y2="303.70" stroke="#000" stroke-width="0.6" />
<line x1="216.60" y1="249.33" x2="217.90" y2="249.33" stroke="#000" stroke-width="0.6" />
<line x1="273.69" y1="305.00" x2="273.69" y2="303.70" stroke="#000" stroke-width="0.6" />
<line x1="216.60" y1="247.70" x2="217.90" y2="247.70" stroke="#000" stroke-width="0.6" />
<line x1="275.07" y1="305.00" x2="275.07" y2="303.70" stroke="#000" stroke-width="0.6" />
<line x1="216.60" y1="246.32" x2="217.90" y2="246.32" stroke="#000" stroke-width="0.6" />
<line x1="276.26" y1="305.00" x2="276.26" y2="303.70" stroke="#000" stroke-width="0.6" />
<line x1="216.60" y1="245.12" x2="217.90" y2="245.12" stroke="#000" stroke-width="0.6" />
<line x1="277.31" y1="305.00" x2="277.31" y2="303.70" stroke="#000" stroke-width="0.6" />
<line x1="216.60" y1="244.07" x2="217.90" y2="244.07" stroke="#000" stroke-width="0.6" />
<line x1="284.44" y1="305.00" x2="284.44" y2="303.70" stroke="#000" stroke-width="0.6" />
<line x1="216.60" y1="236.92" x2="217.90" y2="236.92" stroke="#000" stroke-width="0.6" />
<line x1="288.05" y1="305.00" x2="288.05" y2="303.70" stroke="#000" stroke-width="0.6" />
<line x1="216.60" y1="233.28" x2="217.90" y2="233.28" stroke="#000" stroke-width="0.6" />
<line x1="290.62" y1="305.00" x2="290.62" y2="303.70" stroke="#000" stroke-width="0.6" />
<line x1="216.60" y1="230.71" x2="217.90" y2="230.71" stroke="#000" stroke-width="0.6" />
<line x1="292.61" y1="305.00" x2="292.61" y2="303.70" stroke="#000" stroke-width="0.6" />
<line x1="216.60" y1="228.71" x2="217.90" y2="228.71" stroke="#000" stroke-width="0.6" />
<line x1="294.24" y1="305.00" x2="294.24" y2="303.70" stroke="#000" stroke-width="0.6" />
<line x1="216.60" y1="227.08" x2="217.90" y2="227.08" stroke="#000" stroke-width="0.6" />
<line x1="295.62" y1="305.00" x2="295.62" y2="303.70" stroke="#000" stroke-width="0.6" />
<line x1="216.60" y1="225.69" x2="217.90" y2="225.69" stroke="#000" stroke-width="0.6" />
<line x1="296.81" y1="305.00" x2="296.81" y2="303.70" stroke="#000" stroke-width="0.6" />
<line x1="216.60" y1="224.50" x2="217.90" y2="224.50" stroke="#000" stroke-width="0.6" />
<line x1="297.86" y1="305.00" x2="297.86" y2="303.70" stroke="#000" stroke-width="0.6" />
<line x1="216.60" y1="223.44" x2="217.90" y2="223.44" stroke="#000" stroke-width="0.6" />
<rect x="265.00" y="252.50" width="30.00" height="24.50" fill="none" stroke="#000" stroke-width="0.9"/>
<text x="270.50" y="246.00" font-size="12.15" text-anchor="start" font-weight="normal" fill="#000" >19</text>
<path d="M236.3,363.3h0.5M232.1,365.4h0.5M259.1,363.3h0.5M275.9,360.7h0.5M228.9,369h0.5M256.4,365h0.5M260.4,362h0.5M245.7,362.7h0.5M247,369.9h0.5M232.2,366.8h0.5M241.6,373h0.5M245.1,379h0.5M262,360.8h0.5M217.7,381.3h0.5M247.8,353.3h0.5M238.1,363.8h0.5M251,353.3h0.5M262.8,372.9h0.5M256.5,376.2h0.5M268.6,382.7h0.5M254.7,374.6h0.5M247.1,374.7h0.5M241.9,348.1h0.5M251.5,371.4h0.5M263.6,363.9h0.5M232.4,379.3h0.5M226.9,377.2h0.5M251,369.8h0.5M247.2,353.4h0.5M254.2,376.7h0.5M262.5,358.7h0.5M269.7,380.5h0.5M265.3,364.5h0.5M243.6,358.7h0.5M265.5,374.6h0.5M250.6,357.1h0.5M240.9,371h0.5M253,365.9h0.5M242,376.9h0.5M236.4,370.5h0.5M253.6,365.7h0.5M229.6,365.6h0.5M240.7,374.8h0.5M225.9,345.3h0.5M274.3,357.6h0.5M239.1,361h0.5M233.7,360.9h0.5M267.1,391h0.5M259.4,371.7h0.5M247.2,368.1h0.5M250.1,377.2h0.5M244.5,378.9h0.5M246.9,373.6h0.5M236.1,375.1h0.5M245.6,371.1h0.5M244.6,373.9h0.5M223.2,363h0.5M239.8,374.6h0.5M234.1,363.6h0.5M256.8,366.9h0.5M253.3,367.1h0.5M264.7,375.6h0.5M247.5,352.1h0.5M245.1,349h0.5M233.5,350.5h0.5M242.1,327.8h0.5M233.9,361.9h0.5M238.5,378.6h0.5M270.8,389h0.5M231.4,355.7h0.5M259.6,364.2h0.5M220.4,376.7h0.5M256.5,375.9h0.5M233.2,375.1h0.5M257.1,361.1h0.5M239.6,375.5h0.5M246.4,370.8h0.5M248.7,375.7h0.5M242.7,357.3h0.5M253.6,358h0.5M251,376.7h0.5M254.1,363.1h0.5M266.1,379.2h0.5M290.6,360.4h0.5M241,379.2h0.5M241.3,372.9h0.5M232.8,365.6h0.5M251.6,376.7h0.5M253.4,377h0.5M265.6,367h0.5M263.6,370.1h0.5M269.6,381.2h0.5M265.8,376.1h0.5M258.9,355.6h0.5M261.3,361.9h0.5M262.1,362.7h0.5M253.3,367.3h0.5M242.7,360.8h0.5M234.9,351.9h0.5M253.6,357.2h0.5M221.1,347.6h0.5M246.7,373.6h0.5M231.4,370.8h0.5M234.9,365.6h0.5M239.6,376h0.5M239.4,369.2h0.5M230.6,380.5h0.5M229,350.5h0.5M285.8,372.1h0.5M267,364.6h0.5M247.5,378.8h0.5M233.5,376.3h0.5M235.2,350.2h0.5M237.7,363.9h0.5M243.9,369.9h0.5M220,378.8h0.5M269.6,383.8h0.5M254.3,370.4h0.5M243.3,362.4h0.5M278.7,382.2h0.5M242,374.4h0.5M241.4,373.6h0.5M236.9,375.7h0.5M248,365.8h0.5M278,392.8h0.5M256.9,362.1h0.5M231.2,359.2h0.5M242.2,373.9h0.5M231.5,364.2h0.5M221.1,367h0.5M265.3,372.7h0.5M236.1,370.9h0.5M249,373.2h0.5M256.2,368.6h0.5M260.7,364h0.5M220.4,365.4h0.5M248.7,355.2h0.5M261.5,359h0.5M225.7,361.4h0.5M263.2,379h0.5M255.5,361.7h0.5M229.3,369.1h0.5M235.9,364.6h0.5M260.2,357.7h0.5M227,370.2h0.5M260.2,373.2h0.5M237.8,364.9h0.5M242.7,376.7h0.5M266.7,357.5h0.5M242.8,368.1h0.5M240,351.9h0.5M223,365.4h0.5M261.5,367.9h0.5M246.2,356.2h0.5M259.3,364.6h0.5M250.1,374h0.5M234.5,353.3h0.5M239.4,363.6h0.5M261.5,368.1h0.5M241.8,378.9h0.5M264.9,373.7h0.5M245.8,362.7h0.5M265.6,367.9h0.5M255.2,369.8h0.5M286.1,386.5h0.5M260.3,353.5h0.5M236.8,370.4h0.5M246.5,366.2h0.5M245.6,373.1h0.5M257.3,361.2h0.5M263.9,363.2h0.5M259.1,354h0.5M227.9,367.7h0.5M225.3,379.8h0.5M242.9,358.2h0.5M255.8,360.4h0.5M240.7,375.7h0.5M238.7,374.4h0.5M232.9,362.1h0.5M250.3,379.1h0.5M254.5,370.6h0.5M256.9,370.2h0.5M242.4,366.4h0.5M239.4,375.1h0.5M233.2,372.7h0.5M232.6,364.4h0.5M235.4,373.4h0.5M243.2,354h0.5M272.3,380h0.5M250,368.9h0.5M257.7,354.4h0.5M261.8,364.1h0.5M237.5,362.3h0.5M259.8,371.4h0.5M240,376.6h0.5M237.3,375.7h0.5M233,355.4h0.5M238.3,361.4h0.5M239.5,364.7h0.5M232.4,355h0.5M234.3,361.9h0.5M227.8,371h0.5M235.5,381.9h0.5M250.5,363.3h0.5M242.3,368.7h0.5M246.5,358.7h0.5M267.8,388h0.5M244.5,369h0.5M240.9,369.7h0.5M241.6,358.1h0.5M250.6,363.1h0.5M236.4,374.7h0.5M230.1,378.6h0.5M237.9,364.9h0.5M254.2,364.4h0.5M265.7,360.9h0.5M252.7,363.8h0.5M259.5,366.8h0.5M242.7,378.3h0.5M246.8,366.3h0.5M225.4,367.6h0.5M230.4,379.4h0.5M227.3,365.2h0.5M241.6,367.7h0.5M231.5,381.4h0.5M267.6,381.7h0.5M267.9,380.9h0.5M229.4,355.2h0.5M282.3,385.3h0.5M235.5,356.2h0.5M247.8,355.8h0.5M268.7,381.5h0.5M244.1,371.1h0.5M248.9,357.7h0.5M259.3,355.7h0.5M249,376.4h0.5M241.8,366.8h0.5M261.3,367.9h0.5M226.9,381h0.5M228.6,356.6h0.5M266.2,381.8h0.5M242.7,360.8h0.5M236.9,376.8h0.5M256.1,361h0.5M262.5,361.2h0.5M219.9,370.4h0.5M242.6,365.6h0.5M237.9,378.4h0.5M264,377.7h0.5M248.7,362.3h0.5M268.6,379.2h0.5M250.8,377.1h0.5M219,368.1h0.5M263,377.5h0.5M248.5,357.3h0.5M242.8,364.5h0.5M255.1,367.3h0.5M261.7,350.9h0.5M248.1,363.8h0.5M235.5,365.9h0.5M276.7,359.7h0.5M244.7,375.9h0.5M219.6,353.6h0.5M266.6,369.9h0.5M268.6,381.2h0.5M238.1,378.5h0.5M234.5,354.8h0.5M231.9,382.6h0.5M240.6,360.6h0.5M246.4,375h0.5M240.4,379.7h0.5M258.2,374.5h0.5M269.7,358.6h0.5M246.2,378.5h0.5M238.3,363.4h0.5M227.1,374.4h0.5M246.9,374.6h0.5M245.6,368.2h0.5M230.4,368.7h0.5M225.3,361.6h0.5M249.9,363.5h0.5M220.8,368.2h0.5M240.5,370.1h0.5M260,376h0.5M224.3,378.3h0.5M275.9,379.5h0.5M228.8,361.3h0.5M237.6,373.2h0.5M251.7,367.8h0.5M221.9,363.5h0.5M219.9,357.1h0.5M226.5,380.2h0.5M234.1,346.1h0.5M246.3,377.6h0.5M253.5,366.1h0.5M247.6,343.7h0.5M275.4,360.6h0.5M270.4,356.8h0.5M227.9,378.9h0.5M240.1,376.3h0.5M267.7,351.2h0.5M247.2,365.3h0.5M250.6,372.6h0.5M228.1,368.4h0.5M224.5,352.8h0.5M265.2,357.7h0.5M224.5,371.7h0.5M250,378.6h0.5M220.5,377.5h0.5M254,372.3h0.5M259.9,363.7h0.5M230,360.7h0.5M278.8,386h0.5M246.1,371.1h0.5M228.2,363.8h0.5M261.7,373.5h0.5M236.6,379.5h0.5M270.3,386.4h0.5M249.2,379.3h0.5M246.1,377.2h0.5M263.7,366.7h0.5M252.4,376.5h0.5M265.7,366.6h0.5M257.3,369.5h0.5M257.7,359.7h0.5M231.9,375.8h0.5M242.7,372.6h0.5M229.3,364.4h0.5M237,380.7h0.5M249.4,366.8h0.5M228.9,369.7h0.5M257,364.9h0.5M258,373.2h0.5M250,368h0.5M249.6,373.8h0.5M248.4,377.9h0.5M240.8,356.9h0.5M277.5,377.4h0.5M237.1,353.8h0.5M232.8,379h0.5M245.2,358.6h0.5M249.7,373.9h0.5M266,385.4h0.5M225.7,359.2h0.5M243.2,366.7h0.5M242.8,365.4h0.5M241.6,355.2h0.5M244.4,358.2h0.5M237.6,367.9h0.5M246.2,379.2h0.5M233.5,374.5h0.5M244.6,372.9h0.5M242.9,380.6h0.5M251.6,358.6h0.5M279.8,359.6h0.5M285.7,361.6h0.5M268.1,385.8h0.5M257.7,362.2h0.5M267.2,358.6h0.5M268,376.8h0.5M232.8,373.5h0.5M254.9,354.3h0.5M248.8,365.8h0.5M241,378.9h0.5M233.2,369.2h0.5M229.2,378.4h0.5M235,359h0.5M221,349h0.5M280.1,346.1h0.5M263.9,369.3h0.5M271.9,390.1h0.5M273.4,374.8h0.5M239.4,380.2h0.5M261.4,370.6h0.5M259.6,378h0.5M244.6,355.1h0.5M239.4,363.4h0.5M228.9,373.5h0.5M225.7,346.9h0.5M264.5,370h0.5M265.3,358h0.5M251.2,347.6h0.5M231.8,366.1h0.5M249.5,368.9h0.5M241.6,364.5h0.5M255.3,376.4h0.5M234,350.9h0.5M255.9,352h0.5M253.9,354.9h0.5M240.7,360.7h0.5M243.7,349.6h0.5M246.2,376.9h0.5M237.4,378.9h0.5M256.7,375.5h0.5M265,339.9h0.5M230.3,361h0.5M261.7,368.2h0.5M253.5,377.2h0.5M220.5,362.7h0.5M218,379.8h0.5M257,363.8h0.5M255.7,371h0.5M244.7,357.2h0.5M246.4,372.9h0.5M237.6,367.9h0.5M260.8,366.3h0.5M228,354.2h0.5M237.9,356.1h0.5M233.6,366.2h0.5M241,368.8h0.5M267.8,363.7h0.5M249.4,361.4h0.5M236.4,369.7h0.5M222.4,364.6h0.5M239.8,354.8h0.5M284.6,355.7h0.5M232.8,355h0.5M270.1,383.1h0.5M240.4,370.2h0.5M264.4,363.5h0.5M239.2,378.6h0.5M228.8,356.1h0.5M257,364.8h0.5M227.9,369.6h0.5M228.4,367.8h0.5M227.4,370.8h0.5M231.5,356.1h0.5M255.7,366.3h0.5M245.2,362.9h0.5M240.7,361.9h0.5M239.8,352.5h0.5M262.6,372.6h0.5M259.3,372.7h0.5M240.8,356.5h0.5M280.8,361.1h0.5M221.1,367.2h0.5M244.3,356.7h0.5M226.4,370.9h0.5M265.2,375.9h0.5M228.5,370.6h0.5M247.2,372.7h0.5M244.3,378.9h0.5M247.8,377.2h0.5M255.4,368.6h0.5M252,363.5h0.5M251.2,365.3h0.5M247.4,378.9h0.5M236.1,364.9h0.5M242,359.3h0.5M227.7,378.6h0.5M242.9,355.8h0.5M273.8,358.2h0.5M250.8,371.8h0.5M231.7,370.8h0.5M234.8,375.6h0.5M270.7,387.7h0.5M261.2,371.7h0.5M240.6,373.2h0.5M232,371.6h0.5M252.5,362.2h0.5M258.3,353.3h0.5M237.4,359.5h0.5M244.6,364.9h0.5M244.6,370.3h0.5M259.2,375h0.5M224.8,362.2h0.5M233.1,361h0.5M258.9,370.8h0.5M246.1,372.2h0.5M256.5,374.2h0.5M242.4,375.4h0.5M263.6,376.5h0.5M266,367.7h0.5M231.7,355.8h0.5M221.8,368.1h0.5M247.8,346.3h0.5M246.1,371.8h0.5M268.1,390.9h0.5M261.9,373.8h0.5M250.6,371h0.5M267.9,375.9h0.5M268.7,363.2h0.5M221.7,359.7h0.5M218.8,379.1h0.5M224,381.6h0.5M229.2,370.9h0.5M233.2,380.2h0.5M246,359h0.5M229.7,364.5h0.5M261.1,370h0.5M217.7,367.9h0.5M219.3,375.5h0.5M263.3,381.7h0.5M256,375.7h0.5M267.3,371.9h0.5M232.8,379.4h0.5M275.3,360.7h0.5M227.5,380.9h0.5M280.3,380.3h0.5M246.5,350.8h0.5M248.3,373.1h0.5M253.1,365.4h0.5M243.2,360.8h0.5M229.3,368h0.5M237.7,372.8h0.5M224.3,378.7h0.5M243.6,361.5h0.5M259.6,362.5h0.5M231.7,371h0.5M264.5,371.2h0.5M241.7,373.1h0.5M259.3,376.3h0.5M260.6,354.6h0.5M259.1,364.8h0.5M231.3,366.7h0.5M245,361.3h0.5M270.3,384.6h0.5M258.6,355.3h0.5M266.3,361.6h0.5M253.4,361.4h0.5M258.2,375h0.5M260.8,362.4h0.5M254.6,357h0.5M262.1,368.8h0.5M242.5,369.9h0.5M256.2,367.7h0.5M244.7,367.9h0.5M234.7,373.5h0.5M245.7,369.8h0.5M284.4,359h0.5M234.1,375.2h0.5M233.5,366.3h0.5M270.5,382h0.5M246.4,375.7h0.5M260.8,361.3h0.5M264.6,379.1h0.5M239.4,351h0.5M264.5,365.5h0.5M242.4,376h0.5M226.8,365.7h0.5M232.4,376.7h0.5M249,363.5h0.5M226.5,357.4h0.5M280.1,388.8h0.5M279.9,390.4h0.5M231.4,371.4h0.5M247.6,379.3h0.5M242.7,355.7h0.5M223.3,369.6h0.5M226.5,370.3h0.5M241.8,357.6h0.5M238.7,356.4h0.5M270.7,375.4h0.5M242.2,370.4h0.5M246.6,358.5h0.5M262.1,360.9h0.5M235.6,367.7h0.5M231.8,366.5h0.5M276,376.9h0.5M254.6,370.5h0.5M248.6,367.2h0.5M250.9,363.5h0.5M254.4,356.1h0.5M224.7,382h0.5M262.8,381h0.5M264.8,349.4h0.5M236.7,369.2h0.5M244.4,370.3h0.5M263,358.9h0.5M246,341.5h0.5M262,369h0.5M249.5,372.4h0.5M231.7,382.2h0.5M244.8,364.4h0.5M252.4,359.3h0.5M254.6,365.2h0.5M234.6,369.9h0.5M266.3,380h0.5M281.9,380.7h0.5M232,362.8h0.5M263.8,376.7h0.5M256.1,364.1h0.5M262.8,364.6h0.5M235.8,364.9h0.5M260,372.1h0.5M275.3,358.7h0.5M253.1,363.2h0.5M248.6,367.8h0.5M231.5,373.4h0.5M238.8,369.8h0.5M234.9,370.5h0.5M241.2,367.5h0.5M261.9,375.9h0.5M268.5,379.1h0.5M255.7,370.3h0.5M264.9,367.6h0.5M270.6,381.4h0.5M237.1,367.5h0.5M243.2,364.9h0.5M241.3,365.3h0.5M233.2,362.5h0.5M252.9,368.2h0.5M239.7,378.6h0.5M248.1,355.5h0.5M271.9,358.5h0.5M250.2,371.7h0.5M242.8,380.9h0.5M238.1,343.7h0.5M267.1,370.8h0.5M225.4,370.1h0.5M240.3,375h0.5M224,368.9h0.5M256.6,361.7h0.5M255,363.1h0.5M249.7,371.8h0.5M229.6,371.6h0.5M279.1,352.7h0.5M259.5,365.8h0.5M254,374.4h0.5M271.7,403.8h0.5M271.9,386h0.5M269.8,394.7h0.5M270.9,399.3h0.5M273.5,394.5h0.5M265.8,383.6h0.5M266.4,377.9h0.5M272.6,383.5h0.5M281.1,389.5h0.5M275,392.1h0.5M267.9,390.2h0.5M283.2,384.8h0.5M284.3,397h0.5M273.7,392.4h0.5M276.7,385.2h0.5M279.8,397h0.5M276.1,396.9h0.5M267.3,401.3h0.5M265,377.6h0.5M274.9,399.5h0.5M285.1,401.4h0.5M275.2,395.1h0.5M276.2,378.9h0.5M280.5,392.5h0.5M273.3,384.4h0.5M271.1,391h0.5M278.3,389.8h0.5M275.2,387.5h0.5M275.2,402.3h0.5M275.9,394.3h0.5M265.2,381.8h0.5M274.8,388.3h0.5M279.6,390.6h0.5M284.3,390.1h0.5M280.5,383.5h0.5M277.1,402.1h0.5M279,381.9h0.5M275.6,393.2h0.5M275.9,392.1h0.5M270.3,400h0.5M265.9,386.1h0.5M272.9,399.6h0.5M267.9,382.1h0.5M279,399.2h0.5M276.4,396.3h0.5M276.4,388.4h0.5M273.7,383.4h0.5M270.2,395.2h0.5M270.2,395.7h0.5M279.9,388.8h0.5M277.4,403.1h0.5M274.8,399.3h0.5M280.8,384.5h0.5M274.8,385.9h0.5M262.8,376.6h0.5M279.6,394.6h0.5M270.7,384.9h0.5M273.6,395.2h0.5M272,394.8h0.5M276.6,384.9h0.5M286.6,394.5h0.5M273.6,384.6h0.5M279.3,376h0.5M266.9,383.4h0.5M279.2,394.2h0.5M283.2,399.1h0.5M271.9,392.9h0.5M278.8,383.1h0.5M280,391h0.5M283.2,389.5h0.5M274.7,391.9h0.5M269.4,389.1h0.5M267.9,400.5h0.5M275.6,391.7h0.5M269.7,395.1h0.5M267.7,379.4h0.5M278.7,390.2h0.5M277.2,389.3h0.5M272.3,399.3h0.5M282.5,381.7h0.5M272.8,385.3h0.5M277.8,386.5h0.5M272.5,388.7h0.5M277.5,382.3h0.5M268,379.3h0.5M276,387.4h0.5M271.8,392.6h0.5M276.5,397.2h0.5M269.6,390.9h0.5M272.8,359.9h0.5M271.9,358.8h0.5M285.1,374.3h0.5M294.8,372.9h0.5M274.4,374.9h0.5M271,377.3h0.5M294.1,357.9h0.5M287.4,368h0.5M285.9,370.1h0.5M285.7,376.2h0.5M277.1,357.7h0.5M283.5,375.3h0.5M262.5,373.4h0.5M281.4,350.9h0.5M290.1,377.4h0.5M291.6,374.1h0.5M287.9,373.5h0.5M283.4,354.2h0.5M283.6,360h0.5M283.3,358.9h0.5M292.6,371h0.5M274.8,351.3h0.5M289.6,370.9h0.5M284.4,361.9h0.5M274.1,360.1h0.5M265.8,361.8h0.5M263.2,370h0.5M270.7,361.3h0.5M286.8,372.3h0.5M266.1,370.4h0.5M268.1,374.5h0.5M274.6,358.2h0.5M282.9,361.1h0.5M277,358.6h0.5M285.1,371.8h0.5M290.5,368h0.5M286,370.7h0.5M261.8,355.5h0.5M257.8,374.8h0.5M266.9,349.3h0.5M287.8,369.5h0.5M270.7,377.3h0.5M270.2,377.2h0.5M289.8,384.5h0.5M274.9,381.1h0.5M291.5,361.2h0.5M266.6,371.3h0.5M292.1,370.1h0.5M286.1,361.5h0.5M256.7,363.3h0.5M270.1,374.3h0.5M281.8,359.1h0.5M286,361.3h0.5M277.3,354.1h0.5M288.1,366.1h0.5M268.6,356.1h0.5M291.1,374.2h0.5M271.7,358.5h0.5M282.5,359.7h0.5M265.9,365.5h0.5M272.1,354.2h0.5M288.3,373.4h0.5M289.3,370.3h0.5M262.8,367.3h0.5M286.4,366.5h0.5M273.3,358.4h0.5M285.2,357.3h0.5M274.8,359.8h0.5M261.9,360.6h0.5M270.3,361.7h0.5M266.2,373.6h0.5M249.2,368.9h0.5M284.8,361.7h0.5M293.1,377h0.5M262.7,362.4h0.5M267.9,361.9h0.5M280.7,375h0.5M296.5,366.2h0.5M274,359.7h0.5M283.6,372.8h0.5M275.6,357.3h0.5M268.3,362.6h0.5M274.7,378.2h0.5M268.9,361.3h0.5M273.3,354.2h0.5M283.6,379.3h0.5M285.3,354.5h0.5M284.3,362.8h0.5M287.2,370h0.5M292.3,366.1h0.5M280.9,359.6h0.5M288,375.9h0.5M295.8,368h0.5M281.9,380.8h0.5M259.6,362.7h0.5M284.8,358.3h0.5M284,353.7h0.5M262.9,373.2h0.5M265.7,371.5h0.5M271.1,378.8h0.5M293.6,376.6h0.5M265.9,375.7h0.5M289.7,376.9h0.5M268.9,380.3h0.5M277.2,378.8h0.5M285,374.4h0.5M286.6,369.3h0.5M279.1,382.3h0.5M290.1,360.7h0.5M278.5,358.8h0.5M292.1,359.6h0.5M275.1,358.8h0.5M285.3,376.2h0.5M280.1,356.9h0.5M262.9,370h0.5M286.7,370.2h0.5M287.3,365.5h0.5M285.8,375.8h0.5M297,356.6h0.5M268.6,360.1h0.5M286.1,375.2h0.5M289.1,375.7h0.5M282.3,379.7h0.5M272.5,357.2h0.5M270.2,376.6h0.5M270,375.5h0.5M285.8,373.3h0.5M247.2,379.8h0.5M218,360.1h0.5M229.3,376.8h0.5M228.4,382.3h0.5M237,375.2h0.5M246.4,377.9h0.5M248.4,375h0.5M233.4,375.7h0.5M251.1,372.3h0.5M236.3,375h0.5M267.8,383.3h0.5M237,381.3h0.5M224.3,373.6h0.5M224.3,381.2h0.5M247.6,373.6h0.5M228.1,378h0.5M231.3,379h0.5M244.9,361.9h0.5M231.1,368h0.5M222.4,363.7h0.5M244.7,375.5h0.5M228.6,371.5h0.5M242.2,378.2h0.5M218.1,360.9h0.5M219.2,365.6h0.5M228.2,371.3h0.5M226.5,375.3h0.5M230.1,376.1h0.5M246.4,373.6h0.5M220.4,378.2h0.5M236.6,365.9h0.5M240.4,374.7h0.5M218.2,377.2h0.5M243.7,375.6h0.5M225.3,374.4h0.5M234.6,374.5h0.5M252.1,376h0.5M230.8,367.4h0.5M221.7,379.1h0.5M223.7,367.2h0.5M244.4,368.6h0.5M232.6,364.3h0.5M244.2,376.3h0.5M235.8,378.9h0.5M244.9,378.9h0.5M218,378h0.5M234.6,373.3h0.5M221.9,380.1h0.5M242,373.3h0.5M241.8,381.2h0.5M228.2,371.9h0.5M245,379h0.5M229.3,369.6h0.5M232.7,381.2h0.5M244.1,380.2h0.5M229.6,381.1h0.5M247.2,371.7h0.5M233.3,381.8h0.5M229.5,371.8h0.5M225.7,376.4h0.5M227.6,371.5h0.5M231.7,378.3h0.5M243.5,378.6h0.5M237.4,379.8h0.5M234.9,372.7h0.5M224.6,379.4h0.5M245.9,377h0.5M220.2,379.3h0.5M235.5,370.4h0.5M233.3,372.3h0.5M236.7,376.5h0.5M242.9,372.4h0.5M229.2,369.2h0.5M242.7,371.8h0.5M245,374.7h0.5M233.7,376.3h0.5M226.4,377h0.5M227.5,382.2h0.5M243.4,371.5h0.5M236.5,378.4h0.5M247.1,372.5h0.5M238.8,379.4h0.5M229.4,363.7h0.5M230.8,367h0.5M220.1,378.3h0.5M234.2,377.4h0.5M221.4,381.5h0.5M233.6,377.6h0.5M223.5,366.6h0.5M232.4,370.3h0.5M237.7,372.6h0.5M251.1,376.3h0.5M229.2,379.6h0.5M217.9,370.3h0.5M243.2,380.1h0.5M241.7,364.4h0.5M252.8,359.1h0.5M240.2,379.4h0.5M238.5,381.3h0.5M233.8,371h0.5M222.3,378.6h0.5M231.6,382h0.5M219.6,373.1h0.5M234.7,377.4h0.5M227,369.1h0.5M225.9,382.4h0.5M231.4,374.1h0.5M227.5,373h0.5M229.7,372.2h0.5M242.3,358.9h0.5M236.2,380.8h0.5M234.3,379.9h0.5M244.7,381.1h0.5M231,377.7h0.5M223.4,374.6h0.5M247.8,370.5h0.5M232.2,381.5h0.5M232.5,382h0.5M234.7,377.9h0.5M226.2,376h0.5M244.7,374.7h0.5M246.6,368h0.5M235.8,374h0.5M233.2,368.1h0.5M231.2,375.9h0.5M239.1,364.7h0.5M225.4,374.7h0.5M246.8,379.5h0.5M242.7,370.7h0.5M250.8,366.2h0.5M228.3,377.1h0.5M225.9,379.4h0.5M231.9,368.9h0.5M226.8,375.3h0.5M231.4,382.1h0.5M234.1,371.9h0.5M249,375.4h0.5M238.6,377.1h0.5M230.2,381.2h0.5M226.8,378.7h0.5M237.2,379.4h0.5M238.8,364.2h0.5M236.2,375.1h0.5M232.8,381.3h0.5M242.8,379.6h0.5" fill="none" stroke="#555" stroke-width="0.5"/>
<path d="M279.6,373.6 278.6,373.8 277.6,374 276.6,374 275.6,374 274.6,373.9 273.6,373.8 272.6,373.7 271.6,373.5 271.1,373.4 270.1,373.1 269.6,372.8 269.1,372.5 268.5,372 268,371.5 267.6,371 267.1,370.2 266.7,369.5 266.6,369 266.4,368 266.4,367 266.5,366 266.7,365.5 267.1,364.8 267.6,364.2 268.1,363.7 268.6,363.3 269.1,363 270,362.5 270.6,362.2 271.1,361.9 272.1,361.5 272.6,361.3 273.6,361.1 274.2,361 275.1,360.9 276.1,360.9 277.1,360.9 278.1,361 278.6,361 279.6,361.2 280.5,361.5 281.1,361.7 281.8,362 282.6,362.4 283.1,362.6 283.6,363 284.2,363.5 284.6,364 285.1,364.8 285.5,365.5 285.7,366 286.1,367 286.2,367.5 286.2,368.5 286.1,369 285.7,370 285.4,370.5 284.9,371 284.3,371.5 283.6,372 283.1,372.3 282.6,372.5 281.6,372.9 281.1,373.1 280.1,373.4 279.6,373.6Z M262.1,404.5 261.1,404.6 260.1,404.6 259.1,404.6 258.1,404.7 257.1,404.7 256.1,404.7 255.1,404.8 254.1,404.8 253.1,404.8 252.1,404.8 251.1,404.8 250.1,404.8 249.1,404.8 248.1,404.8 247.1,404.8 246.1,404.8 245.1,404.8 244.1,404.7 243.1,404.7 242.1,404.7 241.1,404.7 240.1,404.7 239.1,404.7 238.1,404.7 237.1,404.7 236.1,404.7 235.1,404.7 234.1,404.7 233.1,404.7 232.1,404.6 231.1,404.6 230.1,404.6 229.1,404.6 228.1,404.5 227.1,404.5 226.6,404.5 225.6,404.3 224.6,404.4 224.1,404.5 223.1,404.5 222.1,404.6 221.1,404.6 220.1,404.6 219.1,404.5 218.6,404.3 218.1,403.7 217.6,403 217.3,402.5 217.1,402 217,401 217,400 217,399 216.9,398 216.9,397 216.9,396 216.9,395 216.9,394 216.9,393 217,392 217,391 217,390 217,389 217,388 217,387 217.1,386 217.1,385 217.4,384.5 218.1,384.2 218.6,384 219.6,383.8 220.6,383.7 221.6,383.5 222.1,383.4 223.1,383.2 224.1,383 224.6,383 225.1,383 226.1,383.1 227.1,383.4 227.7,383.5 228.6,383.6 229.6,383.5 230.1,383.5 231.1,383.5 232.1,383.4 233.1,383.2 233.6,383 234.6,382.7 235.6,382.6 236.6,382.6 237.1,382.5 238.1,382.3 239.1,382.2 240.1,382.2 241.1,382.3 242.1,382.2 242.9,382 243.6,381.8 244.6,381.5 245.1,381.4 246.1,381.2 246.6,381 247.6,380.6 248.1,380.3 248.8,380 249.6,379.6 250.1,379.4 251.1,379 251.6,378.8 252.2,378.5 253.1,378.1 253.6,377.9 254.4,377.5 255.1,377.1 255.6,376.8 256.6,376.6 257.6,376.9 258.1,377.3 258.6,377.7 259.1,378.2 259.6,378.6 260.1,379.1 260.6,379.5 261.1,380 261.6,380.5 262.1,381 262.6,381.5 263.2,382 263.8,382.5 264.3,383 264.7,383.5 265,384.5 265.2,385 265.4,386 265.6,386.8 265.8,387.5 265.9,388.5 266,389.5 265.9,390.5 265.9,391.5 265.9,392.5 266,393.5 266.1,394 266.3,395 266.4,396 266.3,397 266.1,397.6 265.6,398.5 265.3,399 265.1,399.5 264.9,400.5 264.8,401.5 264.6,402.3 264.3,403 264,403.5 263.5,404 262.6,404.5 262.1,404.5Z M277.6,372.5 276.6,372.5 276.1,372.5 275.1,372.4 274.1,372.3 273.1,372.3 272.1,372.3 271.1,372.1 270.6,372 269.8,371.5 269.2,371 268.8,370.5 268.6,370 268.1,369 268,368.5 267.8,367.5 267.7,366.5 268.1,365.5 268.4,365 269,364.5 269.6,364.1 270.1,363.8 270.9,363.5 271.6,363.2 272.1,362.9 273.1,362.5 273.6,362.3 274.6,362.2 275.6,362.1 276.6,362.1 277.6,362.1 278.6,362.3 279.2,362.5 280.1,362.9 280.6,363.2 281.4,363.5 282.1,363.8 282.6,364.1 283.1,364.5 283.6,365.2 284,366 284.3,366.5 284.6,367.5 284.6,368 284.6,368.5 284.3,369.5 284,370 283.4,370.5 282.6,371 282.1,371.2 281.3,371.5 280.6,371.7 279.8,372 279.1,372.2 278.1,372.5 277.6,372.5Z M255.1,404.5 254.1,404.5 253.1,404.6 252.1,404.6 251.1,404.6 250.1,404.6 249.1,404.6 248.1,404.6 247.1,404.5 246.1,404.5 245.1,404.5 244.1,404.5 243.1,404.5 242.6,404.5 241.6,404.4 240.6,404.2 239.6,404.1 238.8,404 238.1,403.9 237.1,403.8 236.1,403.6 235.1,403.6 234.1,403.6 233.1,403.6 232.1,403.5 231.6,403.4 230.6,403.1 230.1,402.9 229.1,402.6 228.6,402.5 227.6,402 227.1,401.7 226.6,401.4 225.8,401 225.1,400.8 224.1,400.8 223.1,401 222.1,400.8 221.6,400.4 221.1,399.8 220.6,399.1 220.1,398.5 219.6,398 219.2,397.5 218.8,397 218.5,396.5 218.1,395.5 218.3,394.5 218.6,393.8 219.1,393.1 219.5,392.5 219.7,392 219.9,391 220.1,390 220.2,389.5 220.6,388.7 221.1,388.1 221.6,387.8 222.6,387.6 223.6,387.6 224.6,387.8 225.6,388 226.1,388 226.6,388 227.6,387.8 228.6,387.7 229.6,388 230.1,388.2 231,388.5 231.6,388.6 232.5,388.5 233.1,388.3 234,388 234.6,387.7 235.1,387.5 236.1,387 236.6,386.8 237.2,386.5 238,386 238.6,385.5 239.1,385.2 239.6,384.9 240.6,384.7 241.6,384.7 242.6,384.7 243.6,384.6 244.1,384.4 244.8,384 245.6,383.5 246.1,383.1 246.6,382.8 247.1,382.5 247.9,382 248.6,381.6 249.1,381.3 249.6,381 250.6,380.5 251.1,380.3 251.7,380 252.6,379.6 253.1,379.4 254.1,379.1 255,379 255.6,378.9 256.5,379 257.1,379.1 257.9,379.5 258.6,379.9 259.1,380.2 259.6,380.6 260.2,381 260.8,381.5 261.3,382 261.8,382.5 262.2,383 262.6,383.5 263.1,384.2 263.5,385 263.7,385.5 264,386.5 264.1,387 264.4,388 264.5,389 264.4,390 264.3,391 264.2,392 264.1,392.6 264,393.5 263.7,394.5 263.5,395 263.1,395.7 262.6,396.5 262.3,397 262,397.5 261.6,398.4 261.5,399 261.3,400 261.1,400.7 260.6,401.5 260.1,401.9 259.6,402.2 259,402.5 258.1,403 257.6,403.3 257.1,403.6 256.4,404 255.6,404.4 255.1,404.5Z M272.6,371.1 271.6,371.1 271,371 270.1,370.5 269.7,370 269.4,369.5 269.1,368.7 268.9,368 268.7,367 268.8,366 269.2,365.5 269.8,365 270.6,364.6 271.1,364.4 272.1,364 272.6,363.8 273.4,363.5 274.1,363.3 275.1,363.2 276.1,363.2 277.1,363.3 278.1,363.5 278.6,363.8 279.1,364.1 279.7,364.5 280.6,365 281.1,365.3 281.6,365.6 282.1,366.1 282.6,367 282.7,367.5 282.8,368.5 282.6,369.1 282.1,369.6 281.2,370 280.6,370.2 279.8,370.5 279.1,370.7 278.1,370.9 277.1,370.6 276.6,370.2 276.1,369.8 275.1,369.9 274.6,370.2 274.1,370.5 273.1,371 272.6,371.1Z M253.1,403.6 252.1,403.7 251.1,403.8 250.1,403.9 249.1,403.9 248.1,403.6 247.5,403.5 246.6,403.4 245.6,403.3 244.6,403.3 243.6,403.3 242.6,403.2 241.6,403 241.1,402.9 240.1,402.6 239.1,402.5 238.6,402.5 237.6,402.4 236.6,402.2 235.6,402.1 234.6,402 233.6,402.1 232.6,402 232.1,401.9 231.1,401.5 230.6,401.3 229.9,401 229.1,400.7 228.6,400.5 227.8,400 227.1,399.5 226.6,399.1 226.1,398.7 225.6,398.4 224.7,398 224.1,397.9 223.1,397.7 222.7,397 223,396 223.3,395.5 223.5,394.5 223.5,393.5 223.2,392.5 222.9,392 222.6,391.2 222.5,390.5 222.9,390 223.6,389.8 224.6,389.9 225.1,390 226.1,390.2 227.1,390.2 228.1,390.2 229.1,390.3 230.1,390.4 230.6,390.5 231.6,390.6 232.6,390.5 233.1,390.4 234.1,390 234.6,389.8 235.6,389.6 236.1,389.5 237.1,389.3 238.1,389.1 238.6,388.7 239.1,388.1 239.5,387.5 240,387 240.6,386.6 241.1,386.4 242.1,386.4 243.1,386.4 244.1,386.3 244.6,386 245.2,385.5 245.8,385 246.3,384.5 246.8,384 247.4,383.5 248.1,383 248.6,382.6 249.1,382.3 249.6,382 250.4,381.5 251.1,381.1 251.6,380.8 252.3,380.5 253.1,380.2 254,380 254.6,379.9 255.6,379.9 256.5,380 257.1,380.2 257.8,380.5 258.6,380.9 259.1,381.2 259.6,381.6 260.1,382 260.6,382.5 261.1,383.1 261.6,383.8 262.1,384.5 262.4,385 262.6,385.5 263,386.5 263.2,387 263.5,388 263.6,389 263.5,390 263.4,391 263.2,392 263.1,392.5 262.7,393.5 262.5,394 262.1,394.8 261.6,395.5 261.2,396 260.8,396.5 260.4,397 260.1,397.5 259.7,398.5 259.6,399 259.1,400 258.6,400.5 258.1,400.8 257.6,401.1 256.8,401.5 256.1,402 255.6,402.4 255.1,402.8 254.6,403.1 253.6,403.5 253.1,403.6Z M272.1,370.1 271.3,370 270.6,369.6 270.2,369 269.9,368.5 269.6,367.5 269.6,367 269.6,366.5 270.1,365.8 270.6,365.5 271.6,365.1 272.1,365 273.1,364.7 274.1,364.5 275.1,364.7 276.1,365 276.6,365.1 277.6,365.3 278.1,365.6 278.8,366 279.3,366.5 279.6,367 279.6,367.7 279.1,368.2 278.1,368 277.6,367.7 277.1,367.4 276.1,367 275.1,367.5 274.6,368 274.2,368.5 273.8,369 273.3,369.5 272.6,369.9 272.1,370.1Z M251.1,402.5 250.1,402.6 249.1,402.5 248.6,402.5 247.6,402.3 246.6,402.3 245.6,402.3 244.6,402.4 243.6,402.4 242.6,402.3 241.7,402 241.1,401.8 240.3,401.5 239.6,401.3 238.6,401.2 237.6,401.1 236.6,401 236.1,401 235.1,400.9 234.1,400.8 233.1,400.6 232.6,400.5 231.6,400.1 231.1,399.8 230.4,399.5 229.6,399.2 229.1,399 228.2,398.5 227.6,398 227.2,397.5 226.8,397 226.5,396.5 226.1,395.8 225.6,395 225.4,394.5 225.3,393.5 225.5,392.5 226,392 226.6,391.7 227.5,391.5 228.1,391.4 229.1,391.5 229.6,391.6 230.6,391.9 231.1,392 232.1,392.2 233.1,392.2 234.1,392 234.6,391.7 235.1,391.5 236.1,391.1 236.6,391 237.6,390.8 238.6,390.6 239.1,390.4 239.8,390 240.4,389.5 240.9,389 241.6,388.5 242.1,388.3 243.1,388.1 243.6,388 244.6,387.5 245.1,387.1 245.6,386.5 246.1,386 246.5,385.5 246.9,385 247.4,384.5 247.9,384 248.5,383.5 249.1,383.1 249.6,382.8 250.1,382.4 250.8,382 251.6,381.5 252.1,381.2 252.7,381 253.6,380.7 254.6,380.5 255.6,380.5 256.6,380.7 257.4,381 258.1,381.3 258.6,381.6 259.1,382 259.7,382.5 260.2,383 260.6,383.6 261.1,384.4 261.5,385 261.7,385.5 262.1,386.2 262.4,387 262.6,387.6 262.8,388.5 262.8,389.5 262.7,390.5 262.6,391 262.4,392 262.1,392.9 261.9,393.5 261.6,394 261.1,394.8 260.6,395.5 260.1,396 259.7,396.5 259.4,397 259.1,397.5 258.7,398.5 258.4,399 258,399.5 257.3,400 256.6,400.3 256.1,400.5 255.1,400.9 254.6,401.2 254.1,401.6 253.3,402 252.6,402.3 251.6,402.5 251.1,402.5Z M272.6,368.7 272.1,368.9 271.6,368.9 271.1,368.6 271,368.5 270.7,368 270.6,367.6 270.6,367.5 270.6,367 270.6,367 270.8,366.5 271.1,366.3 271.6,366 271.8,366 272.1,365.9 272.6,365.9 273,366 273.1,366 273.6,366.5 273.6,367 273.5,367.5 273.2,368 273.1,368.2 272.8,368.5 272.6,368.7Z M245.1,401.6 244.1,401.6 243.1,401.5 242.6,401.4 241.6,401 241.1,400.8 240.2,400.5 239.6,400.4 238.6,400.2 237.6,400 237.1,399.9 236.1,399.8 235.1,399.6 234.5,399.5 233.6,399 233.1,398.6 232.6,398.2 232.1,398 231.1,397.7 230.1,397.6 229.5,397.5 228.6,397 228.2,396.5 228,396 227.6,395.1 227.3,394.5 227.3,393.5 227.6,393 228.6,392.8 229.6,393 230.1,393.2 231.1,393.5 231.6,393.6 232.6,393.9 233.1,394 234.1,394.1 234.6,394 235.2,393.5 235.7,393 236.3,392.5 237.1,392 237.6,391.9 238.6,391.6 239.1,391.5 240.1,391.2 240.7,391 241.6,390.6 242.1,390.3 242.7,390 243.6,389.5 244.1,389.2 244.6,388.8 245.1,388.3 245.6,387.7 246.1,387 246.5,386.5 246.9,386 247.3,385.5 247.7,385 248.2,384.5 248.8,384 249.5,383.5 250.1,383.1 250.6,382.7 251.1,382.4 251.7,382 252.6,381.6 253.1,381.4 254.1,381.2 255.1,381.1 256.1,381.1 257.1,381.4 257.6,381.6 258.2,382 258.9,382.5 259.4,383 259.8,383.5 260.1,384 260.6,384.9 261,385.5 261.2,386 261.6,386.8 261.9,387.5 262.1,388.5 262.1,389 262.1,389.8 262,390.5 261.8,391.5 261.6,392.4 261.4,393 261.1,393.7 260.6,394.5 260.2,395 259.8,395.5 259.4,396 259,396.5 258.6,397.1 258.1,398 257.8,398.5 257.3,399 256.6,399.4 256.1,399.5 255.1,399.7 254.1,400 253.6,400.2 252.9,400.5 252.1,400.8 251.1,401 250.1,401 249.1,401 248.6,401 247.6,401.2 246.6,401.4 245.6,401.5 245.1,401.6Z M246.6,400.6 245.6,400.8 244.6,400.9 243.6,400.8 242.6,400.5 242.1,400.3 241.4,400 240.6,399.7 239.7,399.5 239.1,399.3 238.2,399 237.6,398.6 237.1,398.3 236.4,398 235.6,397.6 235.1,397 234.9,396.5 235.1,395.7 235.6,395.1 236.1,394.5 236.4,394 236.8,393.5 237.4,393 238.1,392.7 238.6,392.5 239.6,392.3 240.6,392.1 241.1,392 242.1,391.9 243.1,391.7 243.7,391.5 244.3,391 244.7,390.5 245.1,389.8 245.5,389 245.8,388.5 246.1,388 246.6,387.3 247.1,386.6 247.6,386 248,385.5 248.4,385 249,384.5 249.5,384 250.1,383.6 250.6,383.2 251.1,382.9 251.8,382.5 252.6,382.1 253.1,382 254.1,381.8 255.1,381.6 256.1,381.7 257.1,381.9 257.6,382.2 258.1,382.5 258.7,383 259.2,383.5 259.6,384.1 260.1,385 260.3,385.5 260.6,386.1 261.1,387 261.3,387.5 261.5,388.5 261.5,389.5 261.4,390.5 261.2,391.5 261.1,392.1 260.8,393 260.6,393.5 260.1,394.3 259.6,394.9 259.1,395.5 258.8,396 258.4,396.5 258,397 257.6,397.7 257.1,398.3 256.6,398.6 255.6,398.8 254.6,398.9 254.1,399 253.1,399.2 252.1,399.5 251.6,399.5 250.6,399.7 249.6,399.8 248.7,400 248.1,400.2 247.1,400.4 246.6,400.6Z M245.6,400.1 244.6,400.2 243.6,400 243.1,399.8 242.6,399.5 241.7,399 241.1,398.7 240.1,398.5 239.6,398.3 239.1,398 238.6,397.3 238.3,396.5 238.1,396 237.8,395 238.1,394 238.6,393.5 239.1,393.3 239.9,393 240.6,392.9 241.6,392.9 242.2,393 243.1,393.1 244,393 244.6,392.7 245.1,392.2 245.5,391.5 245.7,391 245.9,390 246.1,389.4 246.4,388.5 246.7,388 247.1,387.4 247.6,386.7 248.1,386.1 248.6,385.5 249.1,385 249.6,384.5 250.1,384.1 250.6,383.7 251.1,383.4 251.8,383 252.6,382.7 253.2,382.5 254.1,382.3 255.1,382.2 256.1,382.1 257.1,382.4 257.6,382.7 258.1,383 258.6,383.5 259.1,384.2 259.5,385 259.8,385.5 260.1,386.2 260.5,387 260.7,387.5 260.9,388.5 261,389.5 260.9,390.5 260.7,391.5 260.6,392 260.2,393 260,393.5 259.6,394.1 259.1,394.8 258.6,395.5 258.2,396 257.8,396.5 257.4,397 257,397.5 256.2,398 255.6,398.2 254.6,398.3 253.6,398.4 252.8,398.5 252.1,398.6 251.1,398.7 250.1,398.9 249.5,399 248.6,399.2 247.8,399.5 247.1,399.7 246.1,400 245.6,400.1Z M247.1,399.1 246.1,399.4 245.1,399.5 244.1,399.3 243.6,398.9 243.1,398.2 242.8,397.5 242.6,396.7 242.1,396.3 241.1,396.2 240.1,396 239.7,395.5 239.5,395 239.6,394.4 240.1,394 241.1,393.9 241.6,394 242.6,394.4 243.6,394.3 244.3,394 245.1,393.5 245.6,393.1 246,392.5 246.2,392 246.4,391 246.6,390 246.7,389.5 247,388.5 247.2,388 247.6,387.4 248.1,386.8 248.6,386.2 249.1,385.6 249.6,385.1 250.1,384.6 250.6,384.2 251.1,383.8 251.7,383.5 252.6,383.2 253.6,383 254.1,382.9 255.1,382.7 256.1,382.6 257.1,382.9 257.6,383.1 258.1,383.5 258.6,384.2 259.1,385 259.3,385.5 259.6,386.1 260,387 260.2,387.5 260.4,388.5 260.5,389.5 260.4,390.5 260.2,391.5 260,392 259.6,393 259.4,393.5 259.1,394 258.6,394.8 258.1,395.5 257.7,396 257.3,396.5 256.8,397 256.1,397.4 255.6,397.6 254.6,397.7 253.6,397.8 252.6,397.9 251.8,398 251.1,398.1 250.1,398.1 249.1,398.3 248.5,398.5 247.6,398.9 247.1,399.1Z M246.6,398.5 245.6,398.7 244.7,398.5 244.3,398 244.1,397.5 244,396.5 244.1,395.8 244.6,395 245.1,394.6 245.6,394.2 246.1,393.7 246.5,393 246.7,392.5 246.9,391.5 247.1,390.5 247.1,390 247.3,389 247.6,388.2 248.1,387.5 248.5,387 248.9,386.5 249.3,386 249.7,385.5 250.2,385 250.8,384.5 251.5,384 252.1,383.8 253.1,383.6 254.1,383.6 254.6,383.5 255.6,383.2 256.6,383.2 257.3,383.5 257.9,384 258.3,384.5 258.6,385 259.1,386 259.3,386.5 259.6,387.2 259.9,388 260,389 260,390 259.8,391 259.6,391.5 259.2,392.5 259,393 258.6,394 258.3,394.5 258,395 257.6,395.5 257.1,396.1 256.6,396.5 255.7,397 255.1,397.1 254.1,397.3 253.1,397.4 252.1,397.4 251.1,397.5 250.1,397.4 249.1,397.4 248.6,397.5 247.7,398 247.1,398.3 246.6,398.5Z M246.6,397.5 245.6,397.6 245.2,397 245.4,396 245.8,395.5 246.3,395 246.7,394.5 247.1,393.5 247.2,393 247.4,392 247.5,391 247.6,390 247.6,389.5 247.9,388.5 248.2,388 248.6,387.5 249.1,386.9 249.6,386.3 250.1,385.7 250.6,385.1 251.1,384.7 251.6,384.4 252.6,384.2 253.6,384.2 254.6,384.1 255.1,384 256.1,383.7 257.1,383.9 257.6,384.3 258.1,384.9 258.4,385.5 258.7,386 259.1,387 259.3,387.5 259.5,388.5 259.6,389.5 259.4,390.5 259.1,391.3 258.8,392 258.6,392.5 258.3,393.5 258.1,394 257.6,394.8 257.1,395.5 256.6,396 256.1,396.3 255.6,396.5 254.6,396.7 253.6,396.8 252.6,396.9 251.6,396.9 250.6,396.9 249.6,396.6 249.1,396.5 248.1,396.4 247.6,396.6 247.1,397.1 246.6,397.5Z M255.6,396 254.6,396.2 253.6,396.3 252.6,396.4 251.6,396.4 250.6,396.3 249.8,396 249.1,395.6 248.6,395.3 248.1,394.8 247.8,394 247.7,393 247.8,392 247.9,391 248,390 248.1,389 248.3,388.5 248.6,388 249.1,387.4 249.6,386.9 250.1,386.3 250.6,385.6 251.1,385.2 251.6,384.9 252.6,384.7 253.6,384.8 254.6,384.8 255.4,384.5 256.1,384.3 257,384.5 257.6,385 257.9,385.5 258.2,386 258.6,386.9 258.8,387.5 259,388.5 259.1,389.5 258.8,390.5 258.6,391 258.1,392 257.9,392.5 257.7,393.5 257.5,394 257.1,394.8 256.6,395.4 256.1,395.8 255.6,396Z M255.6,395.5 254.6,395.7 253.6,395.8 252.6,395.9 251.6,395.9 250.6,395.7 250.1,395.5 249.4,395 248.9,394.5 248.5,394 248.3,393 248.3,392 248.3,391 248.3,390 248.5,389 248.7,388.5 249.1,388 249.6,387.4 250.1,386.8 250.6,386.2 251.1,385.7 251.6,385.3 252.6,385.2 253.6,385.3 254.6,385.4 255.6,385.2 256.6,385.1 257.3,385.5 257.7,386 258.1,386.8 258.3,387.5 258.5,388.5 258.5,389.5 258.2,390.5 257.9,391 257.6,391.6 257.3,392.5 257.2,393.5 257,394 256.6,394.8 256.1,395.2 255.6,395.5Z M255.1,395.1 254.1,395.3 253.1,395.4 252.1,395.4 251.1,395.3 250.4,395 249.8,394.5 249.3,394 249,393.5 248.7,392.5 248.6,391.5 248.6,390.5 248.7,389.5 249.1,388.5 249.5,388 249.9,387.5 250.4,387 250.8,386.5 251.3,386 252.1,385.6 253.1,385.7 254.1,385.9 255.1,385.9 256.1,385.8 256.7,386 257.3,386.5 257.6,387 257.9,388 258,389 257.7,390 257.5,390.5 257.1,391.2 256.8,392 256.7,393 256.6,393.6 256.2,394.5 255.6,394.9 255.1,395.1Z M255.1,394.6 254.1,394.8 253.1,394.9 252.1,394.9 251.1,394.7 250.6,394.5 250,394 249.6,393.5 249.1,392.5 249,392 249,391 249,390 249.1,389.3 249.5,388.5 249.9,388 250.3,387.5 250.8,387 251.3,386.5 252.1,386.1 253.1,386.1 254.1,386.3 255.1,386.5 255.6,386.5 256.6,386.8 257.1,387.4 257.3,388 257.3,389 257.1,389.8 256.8,390.5 256.5,391 256.2,392 256.1,393 256.1,393.5 255.6,394.3 255.1,394.6Z M254.6,394.1 253.6,394.4 252.6,394.4 251.6,394.4 250.8,394 250.2,393.5 249.8,393 249.5,392.5 249.3,391.5 249.3,390.5 249.4,389.5 249.6,388.9 250.1,388.2 250.6,387.6 251.1,387.1 251.6,386.7 252.1,386.5 253.1,386.5 253.6,386.6 254.6,386.8 255.3,387 256.1,387.4 256.6,388 256.7,388.5 256.6,389.4 256.4,390 256.1,390.7 255.8,391.5 255.6,392.5 255.6,393 255.1,393.9 254.6,394.1Z M254.1,393.7 253.1,394 252.1,394 251.1,393.6 250.6,393.2 250.1,392.7 249.8,392 249.6,391 249.6,390.5 249.6,390 249.9,389 250.2,388.5 250.6,388 251.1,387.5 251.8,387 252.6,386.8 253.6,387 254.1,387.1 255.1,387.5 255.6,387.8 256.1,388.5 256,389.5 255.7,390.5 255.5,391 255.2,392 255.1,392.5 254.6,393.5 254.1,393.7Z M252.6,393.5 252.1,393.5 251.1,393.1 250.6,392.6 250.2,392 250,391.5 249.9,390.5 250,389.5 250.2,389 250.6,388.4 251.1,387.9 251.6,387.5 252.6,387.1 253.6,387.3 254.1,387.5 255.1,388 255.4,388.5 255.5,389.5 255.2,390.5 255,391 254.7,392 254.5,392.5 254.1,393.1 253.1,393.5 252.6,393.5Z M252.6,393.1 252,393 251.1,392.6 250.6,392 250.4,391.5 250.2,390.5 250.3,389.5 250.6,388.9 251.1,388.3 251.6,387.8 252.4,387.5 252.9,387.5 253.6,387.7 254.3,388 254.8,388.5 255,389.5 254.7,390.5 254.5,391 254.2,392 253.9,392.5 253.1,393 252.6,393.1Z M252.6,392.5 252,392.5 251.2,392 250.8,391.5 250.6,390.8 250.6,390 250.7,389.5 251.1,388.7 251.6,388.2 252.1,387.9 253.1,387.9 253.6,388.1 254.2,388.5 254.5,389.5 254.2,390.5 254,391 253.6,391.9 253.1,392.4 252.6,392.5Z M253.1,391.5 252.6,391.9 252.1,391.9 251.6,391.7 251.4,391.5 251.1,391 251.1,391 251,390.5 251,390 251.1,389.5 251.1,389.5 251.3,389 251.6,388.7 251.8,388.5 252.1,388.3 252.6,388.2 253.1,388.3 253.5,388.5 253.6,388.6 253.9,389 254,389.5 253.9,390 253.7,390.5 253.6,390.7 253.4,391 253.1,391.5 253.1,391.5Z M252.1,391 252.1,391 251.6,390.5 251.6,390.5 251.5,390 251.6,389.5 251.6,389.5 251.9,389 252.1,388.9 252.6,388.7 253.1,388.9 253.2,389 253.3,389.5 253.2,390 253.1,390.3 252.9,390.5 252.6,390.9 252.1,391 252.1,391Z" fill="none" stroke="#000" stroke-width="0.5" stroke-linejoin="round"/>
<rect x="216.2" y="380.0" width="2.4" height="24.0" fill="#000" opacity="1"/><rect x="238.0" y="403.8" width="27.0" height="1.5" fill="#000" opacity="1"/>
<rect x="216.60" y="322.50" width="82.2" height="82.5" fill="none" stroke="#000" stroke-width="1"/>
<text class="t2" x="211.70" y="407.00" font-size="4.7" text-anchor="end">10<tspan font-size="3.9" dy="-2.9">0</tspan></text>
<line x1="215.00" y1="405.00" x2="216.60" y2="405.00" stroke="#000" stroke-width="0.8" />
<text class="t2" x="216.80" y="414.00" font-size="4.7" text-anchor="middle">10<tspan font-size="3.9" dy="-2.9">0</tspan></text>
<line x1="216.60" y1="405.00" x2="216.60" y2="406.60" stroke="#000" stroke-width="0.8" />
<text class="t2" x="211.70" y="386.38" font-size="4.7" text-anchor="end">10<tspan font-size="3.9" dy="-2.9">1</tspan></text>
<line x1="215.00" y1="384.38" x2="216.60" y2="384.38" stroke="#000" stroke-width="0.8" />
<text class="t2" x="237.35" y="414.00" font-size="4.7" text-anchor="middle">10<tspan font-size="3.9" dy="-2.9">1</tspan></text>
<line x1="237.15" y1="405.00" x2="237.15" y2="406.60" stroke="#000" stroke-width="0.8" />
<text class="t2" x="211.70" y="365.75" font-size="4.7" text-anchor="end">10<tspan font-size="3.9" dy="-2.9">2</tspan></text>
<line x1="215.00" y1="363.75" x2="216.60" y2="363.75" stroke="#000" stroke-width="0.8" />
<text class="t2" x="257.90" y="414.00" font-size="4.7" text-anchor="middle">10<tspan font-size="3.9" dy="-2.9">2</tspan></text>
<line x1="257.70" y1="405.00" x2="257.70" y2="406.60" stroke="#000" stroke-width="0.8" />
<text class="t2" x="211.70" y="345.12" font-size="4.7" text-anchor="end">10<tspan font-size="3.9" dy="-2.9">3</tspan></text>
<line x1="215.00" y1="343.12" x2="216.60" y2="343.12" stroke="#000" stroke-width="0.8" />
<text class="t2" x="278.45" y="414.00" font-size="4.7" text-anchor="middle">10<tspan font-size="3.9" dy="-2.9">3</tspan></text>
<line x1="278.25" y1="405.00" x2="278.25" y2="406.60" stroke="#000" stroke-width="0.8" />
<text class="t2" x="211.70" y="324.50" font-size="4.7" text-anchor="end">10<tspan font-size="3.9" dy="-2.9">4</tspan></text>
<line x1="215.00" y1="322.50" x2="216.60" y2="322.50" stroke="#000" stroke-width="0.8" />
<text class="t2" x="299.00" y="414.00" font-size="4.7" text-anchor="middle">10<tspan font-size="3.9" dy="-2.9">4</tspan></text>
<line x1="298.80" y1="405.00" x2="298.80" y2="406.60" stroke="#000" stroke-width="0.8" />
<line x1="222.79" y1="405.00" x2="222.79" y2="403.70" stroke="#000" stroke-width="0.6" />
<line x1="216.60" y1="398.79" x2="217.90" y2="398.79" stroke="#000" stroke-width="0.6" />
<line x1="226.40" y1="405.00" x2="226.40" y2="403.70" stroke="#000" stroke-width="0.6" />
<line x1="216.60" y1="395.16" x2="217.90" y2="395.16" stroke="#000" stroke-width="0.6" />
<line x1="228.97" y1="405.00" x2="228.97" y2="403.70" stroke="#000" stroke-width="0.6" />
<line x1="216.60" y1="392.58" x2="217.90" y2="392.58" stroke="#000" stroke-width="0.6" />
<line x1="230.96" y1="405.00" x2="230.96" y2="403.70" stroke="#000" stroke-width="0.6" />
<line x1="216.60" y1="390.58" x2="217.90" y2="390.58" stroke="#000" stroke-width="0.6" />
<line x1="232.59" y1="405.00" x2="232.59" y2="403.70" stroke="#000" stroke-width="0.6" />
<line x1="216.60" y1="388.95" x2="217.90" y2="388.95" stroke="#000" stroke-width="0.6" />
<line x1="233.97" y1="405.00" x2="233.97" y2="403.70" stroke="#000" stroke-width="0.6" />
<line x1="216.60" y1="387.57" x2="217.90" y2="387.57" stroke="#000" stroke-width="0.6" />
<line x1="235.16" y1="405.00" x2="235.16" y2="403.70" stroke="#000" stroke-width="0.6" />
<line x1="216.60" y1="386.37" x2="217.90" y2="386.37" stroke="#000" stroke-width="0.6" />
<line x1="236.21" y1="405.00" x2="236.21" y2="403.70" stroke="#000" stroke-width="0.6" />
<line x1="216.60" y1="385.32" x2="217.90" y2="385.32" stroke="#000" stroke-width="0.6" />
<line x1="243.34" y1="405.00" x2="243.34" y2="403.70" stroke="#000" stroke-width="0.6" />
<line x1="216.60" y1="378.17" x2="217.90" y2="378.17" stroke="#000" stroke-width="0.6" />
<line x1="246.95" y1="405.00" x2="246.95" y2="403.70" stroke="#000" stroke-width="0.6" />
<line x1="216.60" y1="374.53" x2="217.90" y2="374.53" stroke="#000" stroke-width="0.6" />
<line x1="249.52" y1="405.00" x2="249.52" y2="403.70" stroke="#000" stroke-width="0.6" />
<line x1="216.60" y1="371.96" x2="217.90" y2="371.96" stroke="#000" stroke-width="0.6" />
<line x1="251.51" y1="405.00" x2="251.51" y2="403.70" stroke="#000" stroke-width="0.6" />
<line x1="216.60" y1="369.96" x2="217.90" y2="369.96" stroke="#000" stroke-width="0.6" />
<line x1="253.14" y1="405.00" x2="253.14" y2="403.70" stroke="#000" stroke-width="0.6" />
<line x1="216.60" y1="368.33" x2="217.90" y2="368.33" stroke="#000" stroke-width="0.6" />
<line x1="254.52" y1="405.00" x2="254.52" y2="403.70" stroke="#000" stroke-width="0.6" />
<line x1="216.60" y1="366.94" x2="217.90" y2="366.94" stroke="#000" stroke-width="0.6" />
<line x1="255.71" y1="405.00" x2="255.71" y2="403.70" stroke="#000" stroke-width="0.6" />
<line x1="216.60" y1="365.75" x2="217.90" y2="365.75" stroke="#000" stroke-width="0.6" />
<line x1="256.76" y1="405.00" x2="256.76" y2="403.70" stroke="#000" stroke-width="0.6" />
<line x1="216.60" y1="364.69" x2="217.90" y2="364.69" stroke="#000" stroke-width="0.6" />
<line x1="263.89" y1="405.00" x2="263.89" y2="403.70" stroke="#000" stroke-width="0.6" />
<line x1="216.60" y1="357.54" x2="217.90" y2="357.54" stroke="#000" stroke-width="0.6" />
<line x1="267.50" y1="405.00" x2="267.50" y2="403.70" stroke="#000" stroke-width="0.6" />
<line x1="216.60" y1="353.91" x2="217.90" y2="353.91" stroke="#000" stroke-width="0.6" />
<line x1="270.07" y1="405.00" x2="270.07" y2="403.70" stroke="#000" stroke-width="0.6" />
<line x1="216.60" y1="351.33" x2="217.90" y2="351.33" stroke="#000" stroke-width="0.6" />
<line x1="272.06" y1="405.00" x2="272.06" y2="403.70" stroke="#000" stroke-width="0.6" />
<line x1="216.60" y1="349.33" x2="217.90" y2="349.33" stroke="#000" stroke-width="0.6" />
<line x1="273.69" y1="405.00" x2="273.69" y2="403.70" stroke="#000" stroke-width="0.6" />
<line x1="216.60" y1="347.70" x2="217.90" y2="347.70" stroke="#000" stroke-width="0.6" />
<line x1="275.07" y1="405.00" x2="275.07" y2="403.70" stroke="#000" stroke-width="0.6" />
<line x1="216.60" y1="346.32" x2="217.90" y2="346.32" stroke="#000" stroke-width="0.6" />
<line x1="276.26" y1="405.00" x2="276.26" y2="403.70" stroke="#000" stroke-width="0.6" />
<line x1="216.60" y1="345.12" x2="217.90" y2="345.12" stroke="#000" stroke-width="0.6" />
<line x1="277.31" y1="405.00" x2="277.31" y2="403.70" stroke="#000" stroke-width="0.6" />
<line x1="216.60" y1="344.07" x2="217.90" y2="344.07" stroke="#000" stroke-width="0.6" />
<line x1="284.44" y1="405.00" x2="284.44" y2="403.70" stroke="#000" stroke-width="0.6" />
<line x1="216.60" y1="336.92" x2="217.90" y2="336.92" stroke="#000" stroke-width="0.6" />
<line x1="288.05" y1="405.00" x2="288.05" y2="403.70" stroke="#000" stroke-width="0.6" />
<line x1="216.60" y1="333.28" x2="217.90" y2="333.28" stroke="#000" stroke-width="0.6" />
<line x1="290.62" y1="405.00" x2="290.62" y2="403.70" stroke="#000" stroke-width="0.6" />
<line x1="216.60" y1="330.71" x2="217.90" y2="330.71" stroke="#000" stroke-width="0.6" />
<line x1="292.61" y1="405.00" x2="292.61" y2="403.70" stroke="#000" stroke-width="0.6" />
<line x1="216.60" y1="328.71" x2="217.90" y2="328.71" stroke="#000" stroke-width="0.6" />
<line x1="294.24" y1="405.00" x2="294.24" y2="403.70" stroke="#000" stroke-width="0.6" />
<line x1="216.60" y1="327.08" x2="217.90" y2="327.08" stroke="#000" stroke-width="0.6" />
<line x1="295.62" y1="405.00" x2="295.62" y2="403.70" stroke="#000" stroke-width="0.6" />
<line x1="216.60" y1="325.69" x2="217.90" y2="325.69" stroke="#000" stroke-width="0.6" />
<line x1="296.81" y1="405.00" x2="296.81" y2="403.70" stroke="#000" stroke-width="0.6" />
<line x1="216.60" y1="324.50" x2="217.90" y2="324.50" stroke="#000" stroke-width="0.6" />
<line x1="297.86" y1="405.00" x2="297.86" y2="403.70" stroke="#000" stroke-width="0.6" />
<line x1="216.60" y1="323.44" x2="217.90" y2="323.44" stroke="#000" stroke-width="0.6" />
<rect x="264.50" y="352.50" width="30.00" height="24.50" fill="none" stroke="#000" stroke-width="0.9"/>
<text x="268.30" y="344.50" font-size="12.15" text-anchor="start" font-weight="normal" fill="#000" >8.8</text>
<polyline points="198.75,228.50 198.75,419.70 295.50,419.70" fill="none" stroke="#000" stroke-width="2" stroke-linejoin="round"/>
<polygon points="198.75,223.50 194.95,230.50 202.55,230.50" fill="#000"/>
<polygon points="300.50,419.70 293.50,415.90 293.50,423.50" fill="#000"/>
<text transform="translate(192.00,378.30) rotate(-90)" font-size="12.15" text-anchor="middle" >B220</text>
<text x="222.00" y="435.20" font-size="12.15" text-anchor="start" font-weight="normal" fill="#000" >CD19</text>
<text x="355.40" y="214.30" font-size="13.6" text-anchor="start" font-weight="bold" fill="#000" >D</text>
<text x="436.20" y="215.00" font-size="12.5" text-anchor="middle" font-weight="normal" fill="#000" >B220<tspan font-size="9.5" dy="-4.6">+</tspan><tspan dy="4.6" font-size="1">&#8203;</tspan>CD19<tspan font-size="9.5" dy="-4.6">+</tspan><tspan dy="4.6" font-size="1">&#8203;</tspan></text>
<path d="M440.7,258.5 440,258.5 439.9,257.5 440.2,257 440.9,256.5 441.3,256.5 441.4,257.5 441.2,258 440.7,258.5Z M437.2,291 436.2,291.2 435.2,291.2 434.2,291 433.7,290.9 432.7,290.6 432.2,290.3 431.6,290 430.9,289.5 430.3,289 429.9,288.5 429.6,288 429.2,287.4 428.7,286.7 428.2,286.1 427.7,285.7 427.2,285.3 426.7,284.9 426.2,284.4 425.7,284 425.1,283.5 424.4,283 423.7,282.5 423.2,282.1 422.8,281.5 423,280.5 423.2,280 423.7,279 424,278.5 424.4,278 424.9,277.5 425.5,277 425.9,276.5 426.3,276 426.7,275.5 427.2,275 427.7,274.5 428.2,274 428.8,273.5 429.3,273 429.9,272.5 430.5,272 431.1,271.5 431.6,271 432.2,270.6 432.7,270.3 433.2,270 434.2,269.6 434.7,269.4 435.5,269 436.2,268.6 436.7,268.3 437.2,268 438.2,267.5 438.7,267.5 439.2,267.7 439.7,268.1 440.2,268.7 440.7,269.1 441.2,269.6 441.7,270 442.3,270.5 443,271 443.7,271.5 444.2,271.9 444.7,272.5 445,273 445.3,273.5 445.7,274.3 446.1,275 446.3,275.5 446.7,276.4 446.9,277 447.2,278 447.4,278.5 447.6,279.5 447.6,280.5 447.5,281.5 447.4,282.5 447.3,283.5 447.2,284 446.9,285 446.7,285.5 446.2,286.4 445.8,287 445.4,287.5 444.9,288 444.2,288.5 443.7,288.7 442.7,288.9 442.1,289 441.2,289.2 440.4,289.5 439.7,289.9 439.2,290.2 438.7,290.5 437.7,290.9 437.2,291Z" fill="#e2e2e2" stroke="none"/>
<path d="M438.2,289 437.2,289.4 436.2,289.4 435.2,289.3 434.2,289.1 433.7,289 432.7,288.5 432.2,288.1 431.7,287.5 431.4,287 431.2,286.5 430.7,285.5 430.5,285 430.2,284.5 429.7,283.8 429.2,283 428.8,282.5 428.5,282 428.2,281.5 427.8,280.5 427.9,279.5 428.2,278.8 428.6,278 428.8,277.5 429.2,276.6 429.5,276 429.9,275.5 430.5,275 431.2,274.5 431.7,274.3 432.2,274 433.2,273.5 433.7,273.3 434.7,273 435.2,272.8 435.9,272.5 436.7,272 437.2,271.8 438.2,271.7 439.2,271.9 439.7,272 440.7,272.3 441.2,272.5 442.2,273 442.7,273.3 443.2,273.7 443.7,274.4 444,275 444.3,275.5 444.7,276.4 445,277 445.2,277.5 445.5,278.5 445.6,279.5 445.6,280.5 445.6,281.5 445.5,282.5 445.2,283.5 445,284 444.7,284.5 444.2,285.2 443.7,285.8 443.2,286.3 442.7,286.6 441.9,287 441.2,287.3 440.6,287.5 439.7,288 439.2,288.4 438.7,288.7 438.2,289Z" fill="#cfcfcf" stroke="none"/>
<path d="M453.1,268.7h0.5M403.1,258.6h0.5M469.4,276h0.5M452.5,259.1h0.5M456.8,265.2h0.5M473.3,298.1h0.5M403.1,252.5h0.5M468.7,251.4h0.5M398.5,234.2h0.5M410.6,267.8h0.5M415.7,292.6h0.5M429.3,241h0.5M458.2,263.4h0.5M419.1,237h0.5M458.8,294.5h0.5M459.4,254.8h0.5M425.3,301.3h0.5M412.6,243.3h0.5M421.3,249.8h0.5M410.2,248.7h0.5M401,271.2h0.5M441.4,304.1h0.5M398.3,297h0.5M419,242.6h0.5M455,268.6h0.5M457.5,254.9h0.5M418,252h0.5M457.7,261.2h0.5M455.6,274.1h0.5M422.3,245.9h0.5M419.4,233.2h0.5M409,257.7h0.5M425.4,297h0.5M407.7,262.8h0.5M469.1,268.2h0.5M421,303.2h0.5M409.2,271.6h0.5M412,289.6h0.5M455.1,256.2h0.5M465.6,272.3h0.5M447.6,298.3h0.5M403.4,266.5h0.5M418.8,253.6h0.5M410.5,260.1h0.5M411.9,291.7h0.5M423,245.5h0.5M419,258.6h0.5M417.9,254.9h0.5M415.1,262.6h0.5M410,248.9h0.5M437.1,230.4h0.5M414.1,236.6h0.5M417.3,297.2h0.5M433,236.7h0.5M406.9,266h0.5M466.7,274h0.5M454.1,252.7h0.5M407.4,264.3h0.5M408.6,259.5h0.5M441.4,227.2h0.5M404.5,298.5h0.5M427.9,303h0.5M407.3,269.8h0.5M456.6,230.5h0.5M452.4,226.5h0.5M412.9,267h0.5M419.8,295.2h0.5M416.7,252.3h0.5M415.9,239.6h0.5M433.8,236.2h0.5M411.5,260.6h0.5M402.2,256.9h0.5M410.9,269.7h0.5M405.5,272.1h0.5M428.2,235.1h0.5M399.9,250.8h0.5M416.6,257.1h0.5M415.6,259h0.5M403.2,274.1h0.5M420.4,250.9h0.5M461.3,267h0.5M469.4,287h0.5M457.4,294.8h0.5M459.3,251.5h0.5M452.3,256.4h0.5M466,263.8h0.5M407.1,267.3h0.5M458.9,277.8h0.5M429.2,228.7h0.5M414.5,265.6h0.5M443.5,225.2h0.5M409.5,256.7h0.5M466.8,248.4h0.5M405.1,269.3h0.5M434.5,300.9h0.5M440.6,304h0.5M404.2,228.8h0.5M402.7,255.2h0.5M423.1,227.4h0.5M454.7,224h0.5M451.9,293.5h0.5M410.9,264h0.5M414.5,242h0.5M455.9,271.5h0.5M419.2,242.7h0.5M416.3,260.3h0.5M423.4,301.2h0.5M418.2,258.3h0.5M461.1,284.4h0.5M419.1,253.2h0.5M459.7,285.4h0.5M458.8,228.2h0.5M406.9,250h0.5M409.2,273.9h0.5M406,272.2h0.5M429.6,229.4h0.5M430.7,238h0.5M432,235.4h0.5M454.1,271h0.5M413.1,302.1h0.5M406.6,284.4h0.5M413.8,237.1h0.5M400,298.2h0.5M459,280.5h0.5M407.3,259.5h0.5M435.9,298.8h0.5M416.4,261.8h0.5M396.6,257.1h0.5M405.9,284.8h0.5M407.5,252.8h0.5M404,233.1h0.5M415.6,265.5h0.5M459.3,264.6h0.5M461.8,242.7h0.5M461.8,263.5h0.5M410.1,248.8h0.5M405.5,259.1h0.5M412.1,270.4h0.5M430.9,240.7h0.5M466.4,270.7h0.5M439.5,228.4h0.5M403.8,289.5h0.5M432.8,232h0.5M421.8,248.4h0.5M400.5,264.2h0.5M418.6,250h0.5M454.7,249.5h0.5M402.9,256.8h0.5M400.4,258.6h0.5M438.1,225.9h0.5M414.8,250.9h0.5M456.3,292.8h0.5M454.9,272.7h0.5M432.3,237.3h0.5M458.5,278.1h0.5M419.5,234.6h0.5M453.2,256.1h0.5M460.2,280h0.5M411.7,273.1h0.5M413.4,259.8h0.5M412.4,257.7h0.5M422.5,248.3h0.5M404.2,262.7h0.5M427.4,242.9h0.5M434.5,233.5h0.5M403.8,286h0.5M457.8,269h0.5M416.9,257.8h0.5M455.3,242.8h0.5M426.8,244.9h0.5M423.2,300.9h0.5M407.9,267.8h0.5M411.4,236.9h0.5M422.5,225.6h0.5M443.8,300.9h0.5M418,257.9h0.5M410.2,271.8h0.5M407,235.8h0.5M408.8,274.8h0.5M426.9,302.6h0.5M396.2,272.3h0.5M400.9,283.9h0.5M414.6,257.6h0.5M409.7,242.4h0.5M451.8,255.7h0.5M401.4,268h0.5M415.8,261h0.5M423.7,248.5h0.5M406.8,249.2h0.5M409.5,269h0.5M414.8,241h0.5M420,302.6h0.5M415.9,257h0.5M399.8,262.3h0.5M408.9,286h0.5M462.9,280h0.5M452.4,254h0.5M400.6,249.5h0.5M424.2,302h0.5M419.9,296.2h0.5M414.8,260.8h0.5M411.8,234.6h0.5M412.2,249.4h0.5M423.9,246.9h0.5M421,250.1h0.5M454,263h0.5M419.4,247.3h0.5M445.2,225.2h0.5M409.1,273h0.5M425.1,245h0.5M408,233.1h0.5M409.3,245.2h0.5M409.6,248.6h0.5M399.2,243.7h0.5M456.2,254.6h0.5M459.6,230.2h0.5M461.5,282.8h0.5M457.7,259.6h0.5M429.2,241.1h0.5M413.9,299h0.5M410,292.4h0.5M461.3,286.9h0.5M402.6,301.6h0.5M452.4,265.2h0.5M432.6,238.6h0.5M414.8,290.4h0.5M422.1,299.5h0.5M419,295h0.5M415.3,295.3h0.5M421,299.1h0.5M402.3,298.1h0.5M413.9,295.4h0.5M411.6,289.7h0.5M400.7,281.5h0.5M407.2,284.9h0.5M409.9,294.8h0.5M422.5,303.8h0.5M404.1,286.7h0.5M409.7,298.5h0.5M421.9,297h0.5M416.6,291h0.5M443.8,299.6h0.5M415.2,294.9h0.5M399.3,286.5h0.5M411.5,290.1h0.5M411.4,296.6h0.5M399.8,276.4h0.5M415.9,295.2h0.5M414.6,265.7h0.5M416.2,298.6h0.5M401.2,284.1h0.5M402.6,295.5h0.5M414.6,294.5h0.5M414,289.7h0.5M405.3,294.8h0.5M409.8,293h0.5M403.6,283.1h0.5M400.4,280.9h0.5M416.8,293.7h0.5M418,303h0.5M419.1,298.8h0.5M412.9,267.7h0.5M405.9,276.1h0.5M416.5,294.6h0.5M405.8,298.3h0.5M401.2,289.8h0.5M407,295.9h0.5M400.2,284h0.5M412,288.7h0.5M403.4,273.3h0.5M404.8,287.7h0.5M411.2,288.2h0.5M420.1,296.5h0.5M396.1,302.5h0.5M410.9,297.6h0.5M413.1,288.8h0.5M406.5,286.8h0.5M431.3,299.6h0.5M414.2,293.9h0.5M407.7,293.6h0.5M410.2,293h0.5M399.9,283.9h0.5M411.5,261.7h0.5M396.9,264.6h0.5M408.4,301.5h0.5M413,295.8h0.5M400.4,260h0.5M408.8,298.7h0.5M411.9,291h0.5M402,284.1h0.5M399,280.4h0.5M408.5,295.7h0.5M413.3,267.3h0.5M402.9,290h0.5M438.7,298.8h0.5M406.6,286.3h0.5M432.8,299.5h0.5M418.5,294.1h0.5M401.6,299.8h0.5M412.4,289h0.5" fill="none" stroke="#777" stroke-width="0.5"/>
<path d="M437.2,298.5 436.2,298.6 435.2,298.6 434.2,298.5 433.7,298.4 432.7,298.2 431.8,298 431.2,297.9 430.2,297.7 429.5,297.5 428.7,297.3 427.8,297 427.2,296.8 426.6,296.5 425.7,296.1 425.2,296 424.2,295.7 423.7,295.5 422.7,295 422.2,294.8 421.7,294.5 420.9,294 420.2,293.5 419.7,293 419.2,292.6 418.7,292.1 418.2,291.6 417.7,291.2 417.2,290.8 416.7,290.4 416.1,290 415.3,289.5 414.7,289.1 414.2,288.8 413.7,288.5 412.7,288 412.2,287.8 411.7,287.5 410.9,287 410.2,286.6 409.7,286.2 409.2,285.9 408.6,285.5 408,285 407.4,284.5 406.8,284 406.2,283.6 405.7,283.3 405.1,283 404.2,282.5 403.7,282.1 403.2,281.7 402.7,281.1 402.4,280.5 402.4,279.5 402.7,278.9 403.2,278.4 403.7,278 404.6,277.5 405.2,277.2 405.7,277 406.6,276.5 407.2,276.2 407.7,276 408.7,275.6 409.2,275.4 410.1,275 410.7,274.7 411.2,274.4 411.8,274 412.4,273.5 412.9,273 413.3,272.5 413.7,272 414.2,271.4 414.7,270.9 415.2,270.4 415.7,269.8 416.2,269.2 416.6,268.5 416.8,268 417.2,267 417.4,266.5 417.7,266 418.2,265.2 418.6,264.5 418.8,264 419,263 419.2,262.3 419.3,261.5 419.5,260.5 419.7,259.6 419.9,259 420.2,258.2 420.4,257.5 420.5,256.5 420.6,255.5 420.7,254.5 420.7,254 421,253 421.2,252.5 421.7,251.5 421.9,251 422.3,250.5 422.8,250 423.4,249.5 424,249 424.5,248.5 425.1,248 425.5,247.5 425.9,247 426.3,246.5 426.7,246 427.3,245.5 427.8,245 428.4,244.5 428.9,244 429.5,243.5 430.1,243 430.6,242.5 431.1,242 431.6,241.5 432,241 432.4,240.5 432.8,240 433.3,239.5 433.7,239 434.2,238.4 434.7,237.5 434.9,237 435.2,236.4 435.6,235.5 435.9,235 436.3,234.5 436.7,233.9 437.2,233.2 437.7,232.6 438.2,232.1 438.7,231.7 439.2,231.4 439.8,231 440.7,230.5 441.2,230.3 441.9,230 442.7,229.8 443.7,229.7 444.7,229.7 445.7,229.8 446.3,230 447.2,230.3 447.7,230.6 448.4,231 449.1,231.5 449.6,232 450.1,232.5 450.5,233 450.8,233.5 451.2,234.1 451.6,235 451.8,235.5 452,236.5 452.2,237.5 452.2,238 452.3,239 452.3,240 452.3,241 452.4,242 452.4,243 452.4,244 452.4,245 452.3,246 452.2,246.5 452,247.5 451.8,248.5 451.7,249 451.5,250 451.5,251 451.5,252 451.5,253 451.4,254 451.3,255 451.2,255.8 451.1,256.5 451,257.5 450.9,258.5 450.9,259.5 450.9,260.5 451,261.5 451.1,262.5 451.1,263.5 451.1,264.5 451,265.5 451.1,266.5 451.2,267.5 451.3,268 451.6,269 451.7,269.5 452.1,270.5 452.3,271 452.7,271.9 453,272.5 453.3,273 453.7,273.7 454.2,274.5 454.5,275 454.7,275.6 455,276.5 455.2,277.2 455.3,278 455.4,279 455.5,280 455.6,281 455.7,282 455.6,283 455.4,284 455.2,284.7 454.9,285.5 454.7,286.2 454.4,287 454.2,287.6 453.8,288.5 453.5,289 453.2,289.5 452.7,290.1 452.2,290.7 451.7,291.2 451.2,291.8 450.7,292.5 450.3,293 449.9,293.5 449.5,294 448.9,294.5 448.3,295 447.7,295.4 447.2,295.7 446.7,296 445.8,296.5 445.2,296.8 444.5,297 443.7,297.3 442.7,297.5 442.2,297.6 441.2,297.8 440.4,298 439.7,298.1 438.7,298.3 437.7,298.5 437.2,298.5Z M439.2,294.6 438.2,294.7 437.2,294.7 436.2,294.7 435.2,294.5 434.7,294.4 433.7,294.3 432.7,294.1 432.2,294 431.2,293.7 430.6,293.5 429.7,293.2 429.2,292.9 428.3,292.5 427.7,292.2 427.2,292 426.4,291.5 425.7,291 425.2,290.6 424.7,290.2 424.2,289.8 423.7,289.5 422.7,289 422.2,288.7 421.7,288.4 421.2,288 420.6,287.5 420,287 419.3,286.5 418.7,286.2 418.2,286 417.2,285.5 416.7,285.3 416.1,285 415.2,284.5 414.7,284.3 414.1,284 413.2,283.6 412.7,283.3 412.1,283 411.2,282.5 410.7,282.3 410.2,282 409.2,281.5 408.7,281.2 408.2,280.8 407.7,280 407.7,280 408.2,279.3 408.7,278.9 409.7,278.5 410.2,278.4 411.2,278.2 411.7,278 412.7,277.6 413.2,277.4 414.2,277 414.7,276.8 415.4,276.5 416.2,276.2 416.7,276 417.7,275.6 418.2,275.3 418.7,275 419.3,274.5 419.9,274 420.5,273.5 421.2,273 421.7,272.7 422.2,272.4 422.8,272 423.5,271.5 424,271 424.6,270.5 425.2,270.1 425.7,269.8 426.2,269.5 427,269 427.7,268.5 428.2,268.1 428.7,267.7 429.2,267.3 429.7,267 430.3,266.5 430.8,266 431.2,265.4 431.6,264.5 431.9,264 432.2,263.3 432.7,262.5 433,262 433.3,261.5 433.5,260.5 433.5,259.5 433.5,258.5 433.6,257.5 433.7,257 434,256 434.2,255.4 434.4,254.5 434.5,253.5 434.5,252.5 434.5,251.5 434.5,250.5 434.6,249.5 434.7,248.8 434.9,248 435.2,247.4 435.7,246.6 436.1,246 436.3,245.5 436.7,244.6 436.9,244 437.2,243 437.3,242.5 437.6,241.5 437.8,241 438.1,240 438.3,239.5 438.6,238.5 438.7,238 439,237 439.2,236.5 439.7,235.5 440,235 440.5,234.5 441,234 441.7,233.5 442.2,233.3 442.8,233 443.7,232.7 444.7,232.6 445.7,232.7 446.4,233 447.2,233.5 447.7,234 448,234.5 448.3,235 448.7,236 448.8,236.5 448.8,237.5 448.8,238.5 448.8,239.5 448.8,240.5 448.9,241.5 448.9,242.5 448.9,243.5 448.9,244.5 448.8,245.5 448.7,246.2 448.5,247 448.2,248 448.1,248.5 448.1,249.5 448.2,250.5 448.2,251 448.2,251.7 448.1,252.5 448,253.5 447.8,254.5 447.7,255.5 447.7,256 447.5,257 447.4,258 447.2,259 447.1,259.5 447.1,260.5 447.1,261.5 447,262.5 446.9,263.5 446.7,264.3 446.5,265 446.4,266 446.4,267 446.6,268 446.8,268.5 447.2,269.4 447.5,270 447.8,270.5 448.2,271.2 448.6,272 448.9,272.5 449.2,273.2 449.6,274 449.9,274.5 450.2,275 450.6,276 450.8,276.5 451,277.5 451.1,278.5 451.2,279.3 451.3,280 451.3,281 451.3,282 451.2,283 451.1,283.5 451,284.5 450.8,285.5 450.7,286 450.3,287 450,287.5 449.7,288 449.2,288.8 448.7,289.4 448.2,289.9 447.7,290.5 447.2,290.9 446.7,291.3 446.2,291.6 445.4,292 444.7,292.4 444.2,292.7 443.6,293 442.7,293.5 442.2,293.7 441.4,294 440.7,294.2 439.7,294.4 439.2,294.6Z M438.2,293.1 437.2,293.3 436.2,293.3 435.2,293.2 434.3,293 433.7,292.9 432.7,292.6 432.2,292.5 431.2,292.2 430.7,292 429.7,291.6 429.2,291.3 428.5,291 427.7,290.5 427.2,290.1 426.7,289.7 426.2,289.3 425.7,288.8 425.2,288.4 424.6,288 423.8,287.5 423.2,287.1 422.7,286.7 422.2,286.3 421.7,286 421,285.5 420.2,285.1 419.7,284.8 419.1,284.5 418.2,284.1 417.7,283.9 416.8,283.5 416.2,283.2 415.7,282.9 415,282.5 414.2,282.1 413.7,281.7 413.2,281.2 412.9,280.5 413.2,279.8 413.7,279.4 414.3,279 415.2,278.6 415.7,278.5 416.7,278.1 417.2,277.9 418.2,277.5 418.7,277.3 419.2,277 419.9,276.5 420.5,276 421.1,275.5 421.6,275 422.2,274.6 422.7,274.3 423.3,274 424.2,273.5 424.7,273.1 425.2,272.7 425.7,272.3 426.2,271.9 426.7,271.5 427.3,271 427.9,270.5 428.5,270 429.1,269.5 429.7,269.1 430.2,268.8 430.7,268.4 431.3,268 432,267.5 432.6,267 433.1,266.5 433.4,266 433.8,265.5 434.2,264.8 434.7,264.1 435.1,263.5 435.4,263 435.8,262.5 436.2,261.5 436.3,261 436.2,260.2 436,259.5 435.8,258.5 435.8,257.5 436,256.5 436.2,255.6 436.3,255 436.3,254 436.2,253 436.3,252 436.5,251 436.7,250.5 437,249.5 437.2,248.8 437.5,248 437.7,247.5 438.1,246.5 438.2,246 438.4,245 438.5,244 438.7,243.2 438.9,242.5 439.2,241.8 439.5,241 439.7,240.5 440,239.5 440.2,239 440.5,238 440.7,237 440.9,236.5 441.2,236 441.7,235.5 442.4,235 443.2,234.6 443.7,234.4 444.7,234.2 445.7,234.3 446.3,234.5 446.8,235 447.2,235.8 447.3,236.5 447.2,237.5 447.1,238 446.8,239 446.7,239.5 446.5,240.5 446.6,241.5 446.7,242 447,243 447.2,243.9 447.3,244.5 447.2,245.5 447.1,246 446.9,247 446.7,247.6 446.6,248.5 446.6,249.5 446.7,250.5 446.7,251.5 446.5,252.5 446.2,253.5 446.1,254 446.1,255 446,256 446,257 445.9,258 445.7,258.9 445.5,259.5 445.4,260.5 445.4,261.5 445.4,262.5 445.3,263.5 445.1,264 444.8,265 444.6,265.5 444.5,266.5 444.7,267.4 444.9,268 445.2,268.7 445.6,269.5 445.9,270 446.2,270.5 446.7,271.3 447,272 447.3,272.5 447.7,273.4 448,274 448.3,274.5 448.7,275.3 449,276 449.2,276.6 449.5,277.5 449.7,278.4 449.8,279 449.9,280 449.9,281 449.8,282 449.7,282.6 449.6,283.5 449.5,284.5 449.4,285.5 449.2,286.1 448.8,287 448.4,287.5 448,288 447.6,288.5 447.1,289 446.6,289.5 446,290 445.2,290.5 444.7,290.8 444.2,291 443.2,291.5 442.7,291.7 441.8,292 441.2,292.2 440.3,292.5 439.7,292.7 438.7,293 438.2,293.1Z M437.7,292.1 436.7,292.3 435.7,292.3 434.7,292.2 433.7,292 433.2,291.9 432.2,291.5 431.7,291.3 430.9,291 430.2,290.7 429.7,290.4 429.1,290 428.5,289.5 427.9,289 427.4,288.5 426.9,288 426.4,287.5 425.7,287 425.2,286.7 424.7,286.3 424.2,286 423.6,285.5 422.8,285 422.2,284.7 421.7,284.4 420.9,284 420.2,283.6 419.7,283.3 419.2,283 418.2,282.5 417.7,282.3 417.2,282 416.7,281.5 416.5,280.5 417,280 417.7,279.6 418.2,279.3 418.7,278.9 419.4,278.5 420.2,278.1 420.7,277.8 421.2,277.4 421.7,277 422.4,276.5 423.1,276 423.7,275.6 424.2,275.4 424.7,275 425.3,274.5 425.9,274 426.5,273.5 427.1,273 427.6,272.5 428.1,272 428.7,271.5 429.2,271 429.7,270.6 430.2,270.2 430.7,269.8 431.2,269.5 431.9,269 432.7,268.5 433.2,268.2 433.7,267.8 434.2,267.5 434.7,267 435.2,266.5 435.7,266 436.2,265.4 436.7,264.5 436.9,264 437.2,263.3 437.5,262.5 437.7,262 437.8,261 437.7,260.2 437.5,259.5 437.4,258.5 437.4,257.5 437.5,256.5 437.6,255.5 437.5,254.5 437.3,253.5 437.4,252.5 437.7,251.7 438.1,251 438.4,250.5 438.7,250 439.2,249 439.3,248.5 439.6,247.5 439.7,247 439.7,246 439.7,245.2 439.7,244.5 439.8,244 440,243 440.3,242.5 440.7,241.8 441.1,241 441.4,240.5 441.7,239.6 441.9,239 442.2,238 442.3,237.5 442.7,236.9 443.2,236.5 444.2,236.1 445.2,236.1 445.7,236.8 445.7,237.4 445.5,238 445.2,239 445.1,239.5 445,240.5 445.1,241.5 445.2,242.1 445.4,243 445.7,244 445.8,244.5 445.8,245.5 445.7,246 445.5,247 445.3,248 445.3,249 445.3,250 445.3,251 445.2,251.5 445,252.5 444.8,253.5 444.7,254.5 444.8,255.5 444.8,256.5 444.7,257.5 444.6,258 444.3,259 444.1,259.5 443.9,260.5 443.9,261.5 444,262.5 443.7,263.5 443.5,264 443.2,264.5 442.7,265.4 442.5,266 442.7,267 442.9,267.5 443.2,268.1 443.7,268.9 444.1,269.5 444.5,270 444.9,270.5 445.3,271 445.7,271.6 446.2,272.5 446.4,273 446.7,273.6 447.2,274.5 447.5,275 447.7,275.5 448.1,276.5 448.2,277 448.5,278 448.7,278.6 448.9,279.5 448.9,280.5 448.8,281.5 448.7,282.3 448.6,283 448.6,284 448.4,285 448.2,285.8 447.8,286.5 447.5,287 447.1,287.5 446.7,288 446.2,288.5 445.7,289 445,289.5 444.2,290 443.7,290.2 442.7,290.4 442.2,290.5 441.2,290.7 440.4,291 439.7,291.3 439.2,291.5 438.2,291.9 437.7,292.1Z M436.7,291.5 435.7,291.6 434.7,291.5 434.2,291.5 433.2,291.2 432.7,291 431.7,290.6 431.2,290.3 430.7,290 430,289.5 429.5,289 429.1,288.5 428.7,287.9 428.2,287.3 427.7,286.8 427.2,286.3 426.7,286 426.1,285.5 425.4,285 424.7,284.5 424.2,284.2 423.7,283.9 422.9,283.5 422.2,283.2 421.7,282.9 421.2,282.5 420.6,282 420.1,281.5 419.7,281 419.7,280.4 420.2,279.9 421.1,279.5 421.7,279.3 422.2,278.9 422.7,278.4 423.2,277.9 423.7,277.4 424.2,277 424.9,276.5 425.4,276 425.9,275.5 426.4,275 426.9,274.5 427.4,274 428,273.5 428.5,273 429,272.5 429.6,272 430.2,271.5 430.7,271.1 431.2,270.6 431.7,270.2 432.2,269.9 432.9,269.5 433.7,269.1 434.2,268.9 434.9,268.5 435.6,268 436.2,267.5 436.7,267.1 437.2,266.6 437.7,266.1 438.1,265.5 438.3,265 438.7,264 438.9,263.5 439.2,262.7 439.5,262 439.5,261 439.2,260.3 438.9,259.5 438.7,259 438.6,258 438.7,257.4 439,256.5 439.1,255.5 438.8,254.5 438.7,254 438.6,253 438.9,252.5 439.3,252 439.9,251.5 440.4,251 440.7,250.5 441.1,249.5 441.3,249 441.6,248 441.7,247.5 441.8,246.5 441.7,245.9 441.5,245 441.6,244 442.2,243.5 442.7,243.4 443.2,243.6 443.7,244.1 444.1,245 444.2,246 444.1,247 444.1,248 444.1,249 444,250 443.9,251 443.7,251.8 443.6,252.5 443.5,253.5 443.5,254.5 443.4,255.5 443.4,256.5 443.3,257.5 443.1,258 442.7,258.6 442.2,259.4 441.9,260 441.8,261 442,262 442,263 441.7,263.5 441.2,264.2 440.7,265 440.6,265.5 440.7,266.5 440.8,267 441.2,267.8 441.6,268.5 442,269 442.4,269.5 442.8,270 443.4,270.5 444,271 444.5,271.5 445,272 445.3,272.5 445.7,273.3 446.1,274 446.3,274.5 446.7,275.2 447.1,276 447.2,276.5 447.6,277.5 447.7,278 448,279 448.1,280 448,281 447.9,282 447.8,283 447.7,284 447.6,284.5 447.3,285.5 447.1,286 446.7,286.6 446.2,287.3 445.7,287.9 445.2,288.4 444.7,288.8 444.2,289.1 443.2,289.4 442.6,289.5 441.7,289.6 440.7,289.9 440.2,290.1 439.5,290.5 438.7,290.9 438.2,291.1 437.2,291.4 436.7,291.5Z M436.2,291 435.2,291 434.7,291 433.7,290.8 433,290.5 432.2,290.2 431.7,289.9 431.2,289.5 430.6,289 430.2,288.5 429.7,287.7 429.3,287 428.9,286.5 428.5,286 427.9,285.5 427.3,285 426.8,284.5 426.3,284 425.8,283.5 425.3,283 424.7,282.5 424.2,282.1 423.7,281.5 423.6,281 423.7,280.2 423.9,279.5 424.2,278.9 424.7,278.2 425.2,277.7 425.7,277.2 426.2,276.6 426.7,276 427.1,275.5 427.5,275 428,274.5 428.5,274 429.1,273.5 429.7,273 430.2,272.6 430.7,272.2 431.2,271.7 431.7,271.2 432.2,270.8 432.8,270.5 433.7,270.1 434.2,269.9 435.2,269.5 435.7,269.2 436.2,268.9 437.2,268.5 437.7,268.3 438.7,268.4 439.2,268.6 439.7,269 440.5,269.5 441.2,270 441.7,270.3 442.2,270.7 442.7,271 443.4,271.5 444,272 444.5,272.5 444.8,273 445.2,273.7 445.6,274.5 445.9,275 446.2,275.7 446.5,276.5 446.7,277 447,278 447.2,278.7 447.3,279.5 447.4,280.5 447.3,281.5 447.2,282.5 447.2,283 447,284 446.7,284.9 446.4,285.5 446.2,286 445.7,286.7 445.2,287.3 444.7,287.8 444.2,288.2 443.6,288.5 442.7,288.7 441.7,288.9 441.1,289 440.2,289.4 439.7,289.7 439.2,290 438.3,290.5 437.7,290.7 436.7,291 436.2,291Z M438.2,290 437.2,290.4 436.2,290.5 435.2,290.5 434.2,290.3 433.2,290 432.7,289.8 432.1,289.5 431.5,289 431,288.5 430.6,288 430.2,287.2 429.8,286.5 429.5,286 429.1,285.5 428.6,285 428.2,284.5 427.7,283.9 427.2,283.3 426.7,282.6 426.3,282 425.9,281.5 425.6,281 425.3,280 425.5,279 425.9,278.5 426.3,278 426.7,277.5 427.2,276.7 427.6,276 428,275.5 428.4,275 429,274.5 429.5,274 430.2,273.5 430.7,273.1 431.2,272.7 431.7,272.3 432.2,271.8 432.7,271.4 433.6,271 434.2,270.8 435.1,270.5 435.7,270.2 436.3,270 437.2,269.7 438.2,269.8 438.9,270 439.7,270.3 440.3,270.5 441.2,271 441.7,271.2 442.2,271.5 443,272 443.7,272.5 444.1,273 444.5,273.5 444.7,274 445.2,274.9 445.5,275.5 445.7,276 446.1,277 446.3,277.5 446.6,278.5 446.7,279.3 446.8,280 446.7,281 446.7,281.6 446.7,282.5 446.5,283.5 446.2,284.4 445.9,285 445.6,285.5 445.2,286.2 444.7,286.9 444.2,287.3 443.7,287.7 442.9,288 442.2,288.1 441.2,288.4 440.7,288.6 439.9,289 439.2,289.5 438.7,289.8 438.2,290Z M436.7,290 435.7,290 435.2,290 434.2,289.8 433.2,289.5 432.7,289.2 432.2,288.9 431.7,288.5 431.2,287.9 430.7,287 430.5,286.5 430.2,285.9 429.7,285.2 429.2,284.5 428.8,284 428.4,283.5 428.1,283 427.7,282.4 427.2,281.5 426.9,281 426.7,280.3 426.7,279.5 426.9,279 427.2,278.4 427.7,277.6 428,277 428.2,276.5 428.7,275.7 429.2,275.1 429.7,274.7 430.2,274.3 430.7,273.9 431.4,273.5 432,273 432.7,272.5 433.2,272.2 433.7,271.9 434.7,271.6 435.2,271.4 436.1,271 436.7,270.8 437.7,270.6 438.7,270.8 439.4,271 440.2,271.3 440.8,271.5 441.7,271.9 442.2,272.2 442.8,272.5 443.4,273 443.9,273.5 444.2,274 444.7,275 444.9,275.5 445.2,276 445.6,277 445.8,277.5 446.1,278.5 446.2,279.5 446.2,280 446.2,280.6 446.2,281.5 446.1,282.5 445.9,283.5 445.7,284.1 445.2,285 444.9,285.5 444.5,286 444.1,286.5 443.5,287 442.7,287.4 442.2,287.6 441.2,287.9 440.7,288.1 439.9,288.5 439.2,289 438.7,289.3 438.2,289.6 437.2,289.9 436.7,290Z M437.2,289.5 436.2,289.6 435.4,289.5 434.7,289.4 433.7,289.1 433.2,288.9 432.4,288.5 431.9,288 431.5,287.5 431.2,286.9 430.8,286 430.6,285.5 430.2,284.9 429.7,284.1 429.3,283.5 428.9,283 428.6,282.5 428.2,281.9 427.8,281 427.6,280.5 427.7,279.5 427.8,279 428.2,278.3 428.6,277.5 428.8,277 429.2,276.1 429.7,275.5 430.2,275 430.7,274.6 431.2,274.3 431.8,274 432.7,273.5 433.2,273.2 433.7,273 434.7,272.7 435.2,272.5 436.1,272 436.7,271.7 437.2,271.5 438.2,271.5 438.7,271.5 439.7,271.8 440.3,272 441.2,272.3 441.7,272.5 442.6,273 443.2,273.5 443.6,274 443.9,274.5 444.2,275 444.7,276 444.9,276.5 445.2,277.1 445.5,278 445.7,279 445.7,279.5 445.7,280.5 445.7,281.5 445.7,282.1 445.6,283 445.2,284 444.9,284.5 444.5,285 444.2,285.5 443.7,286.1 443.2,286.5 442.3,287 441.7,287.2 440.9,287.5 440.2,287.8 439.7,288.2 439.2,288.5 438.5,289 437.7,289.4 437.2,289.5Z M437.2,289.1 436.2,289.1 435.3,289 434.7,288.9 433.7,288.6 433.2,288.4 432.6,288 432.1,287.5 431.7,286.9 431.3,286 431.1,285.5 430.7,284.8 430.3,284 430,283.5 429.6,283 429.2,282.4 428.7,281.6 428.4,281 428.3,280 428.6,279 428.8,278.5 429.2,277.7 429.5,277 429.7,276.5 430.2,275.8 430.7,275.3 431.2,275 432.1,274.5 432.7,274.2 433.4,274 434.2,273.8 435.2,273.6 435.7,273.5 436.6,273 437.2,272.6 437.7,272.4 438.7,272.4 439.5,272.5 440.2,272.7 441.2,272.9 441.7,273.1 442.4,273.5 443,274 443.4,274.5 443.7,275.1 444.2,276 444.4,276.5 444.7,277 445.1,278 445.2,278.5 445.3,279.5 445.3,280.5 445.3,281.5 445.2,282.5 445.1,283 444.7,283.9 444.3,284.5 443.9,285 443.5,285.5 443,286 442.2,286.5 441.7,286.7 441.1,287 440.2,287.4 439.7,287.7 439.2,288 438.6,288.5 437.7,288.9 437.2,289.1Z M437.7,288.5 436.7,288.7 435.7,288.6 435.1,288.5 434.2,288.3 433.4,288 432.7,287.5 432.3,287 432,286.5 431.7,285.9 431.3,285 431.1,284.5 430.7,283.8 430.2,283 429.9,282.5 429.5,282 429.2,281.5 428.8,280.5 429,279.5 429.2,279 429.7,278 429.9,277.5 430.2,276.8 430.7,276.1 431.2,275.6 431.7,275.3 432.3,275 433.2,274.7 434.2,274.6 435.2,274.5 435.7,274.5 436.7,274.3 437.6,274 438.2,273.7 438.7,273.5 439.7,273.4 440.7,273.5 441.2,273.6 442,274 442.7,274.5 443.1,275 443.4,275.5 443.7,276 444.2,276.9 444.5,277.5 444.7,278.1 444.9,279 444.9,280 444.9,281 444.9,282 444.7,282.9 444.4,283.5 444.1,284 443.7,284.5 443.2,285.1 442.7,285.6 442.1,286 441.2,286.5 440.7,286.7 440.1,287 439.3,287.5 438.7,287.9 438.2,288.3 437.7,288.5Z M437.7,288 436.7,288.2 435.7,288.1 435,288 434.2,287.8 433.5,287.5 432.8,287 432.4,286.5 432.2,286 431.7,285 431.5,284.5 431.2,283.7 430.8,283 430.4,282.5 430.1,282 429.7,281.5 429.4,280.5 429.5,279.5 429.7,279 430.2,278.1 430.5,277.5 430.7,277 431.2,276.3 431.7,275.9 432.5,275.5 433.2,275.3 434.2,275.2 435.2,275.1 436.2,275.1 437.2,275.1 437.7,275 438.7,274.7 439.2,274.5 440.2,274.3 441.2,274.4 441.7,274.6 442.2,275 442.8,275.5 443.2,276.1 443.7,276.9 444,277.5 444.3,278 444.5,279 444.6,280 444.6,281 444.5,282 444.2,283 443.9,283.5 443.6,284 443.1,284.5 442.7,285 442.1,285.5 441.2,286 440.7,286.2 440.2,286.5 439.4,287 438.7,287.5 438.2,287.8 437.7,288Z M437.7,287.5 436.7,287.7 435.7,287.6 434.8,287.5 434.2,287.3 433.5,287 433,286.5 432.6,286 432.2,285.1 432,284.5 431.7,283.7 431.4,283 431,282.5 430.6,282 430.2,281.4 429.9,280.5 430.1,279.5 430.3,279 430.7,278.3 431.1,277.5 431.4,277 431.8,276.5 432.7,276 433.2,275.9 434.2,275.7 435.2,275.7 436.2,275.6 437.2,275.6 438.2,275.6 438.7,275.5 439.7,275.2 440.7,275.2 441.7,275.5 442.2,275.8 442.7,276.3 443.2,276.9 443.6,277.5 443.8,278 444.1,279 444.2,279.9 444.2,280.5 444.2,281 444.1,282 443.8,283 443.4,283.5 443,284 442.6,284.5 442,285 441.2,285.5 440.7,285.8 440.2,286 439.3,286.5 438.7,286.9 438.2,287.2 437.7,287.5Z M437.2,287.1 436.2,287.2 435.2,287.1 434.7,287 433.7,286.6 433.2,286.1 432.8,285.5 432.6,285 432.3,284 432.1,283.5 431.7,282.5 431.4,282 431,281.5 430.6,281 430.5,280 430.7,279.5 431.2,278.6 431.6,278 431.8,277.5 432.2,277 433.1,276.5 433.7,276.3 434.7,276.2 435.7,276.1 436.7,276 437.7,276.1 438.7,276 439.2,276 440.2,275.9 440.9,276 441.7,276.2 442.2,276.5 442.7,277 443.2,277.6 443.6,278.5 443.8,279 443.8,280 443.8,281 443.7,282 443.5,282.5 443.2,283.1 442.7,283.8 442.2,284.3 441.7,284.7 441.1,285 440.2,285.5 439.7,285.7 439.2,286 438.4,286.5 437.7,286.9 437.2,287.1Z M436.7,286.6 435.7,286.7 434.7,286.5 434.2,286.3 433.7,286 433.2,285.3 432.9,284.5 432.7,283.8 432.5,283 432.2,282 431.9,281.5 431.6,281 431.5,280 431.7,279.5 432.2,278.6 432.5,278 432.9,277.5 433.6,277 434.2,276.8 435.2,276.5 435.7,276.4 436.7,276.4 437.7,276.4 438.7,276.5 439.7,276.4 440.6,276.5 441.2,276.6 442,277 442.6,277.5 443,278 443.2,278.5 443.4,279.5 443.5,280.5 443.4,281.5 443.2,282.2 442.8,283 442.4,283.5 441.8,284 441.2,284.4 440.7,284.7 440,285 439.2,285.4 438.7,285.7 438.1,286 437.2,286.5 436.7,286.6Z M436.2,286.1 435.2,286.1 434.7,285.9 434,285.5 433.7,285 433.3,284 433.2,283.5 433,282.5 432.9,281.5 432.8,280.5 432.9,279.5 433.2,278.6 433.5,278 433.9,277.5 434.7,277.1 435.2,276.9 436.2,276.7 437.2,276.7 438.2,276.8 439.2,276.9 440.2,276.9 440.8,277 441.7,277.3 442.2,277.7 442.7,278.3 443,279 443.1,280 443,281 442.8,282 442.6,282.5 442.2,283 441.7,283.5 440.9,284 440.2,284.3 439.7,284.5 438.7,285 438.2,285.2 437.7,285.5 436.7,286 436.2,286.1Z M437.2,285.1 436.2,285.4 435.2,285.4 434.5,285 434.1,284.5 433.7,283.6 433.6,283 433.5,282 433.5,281 433.6,280 433.7,279.3 433.9,278.5 434.2,278 434.8,277.5 435.7,277.1 436.7,277 437.7,277.1 438.7,277.2 439.7,277.3 440.7,277.4 441.2,277.6 441.9,278 442.3,278.5 442.6,279.5 442.6,280.5 442.5,281.5 442.2,282.1 441.7,282.8 441.2,283.2 440.6,283.5 439.7,283.9 439.2,284.1 438.4,284.5 437.7,284.8 437.2,285.1Z M436.7,284.6 435.7,284.8 435,284.5 434.5,284 434.2,283.4 434,282.5 434,281.5 434.1,280.5 434.2,279.5 434.3,279 434.7,278.2 435.2,277.7 435.7,277.5 436.7,277.3 437.7,277.4 438.4,277.5 439.2,277.6 440.2,277.8 441.1,278 441.7,278.4 442.1,279 442.2,279.5 442.2,280.3 442.1,281 441.7,281.8 441.2,282.4 440.7,282.7 440,283 439.2,283.4 438.7,283.7 438.1,284 437.2,284.4 436.7,284.6Z M436.7,284.1 435.7,284.1 435.2,283.9 434.7,283.3 434.5,282.5 434.4,281.5 434.5,280.5 434.6,279.5 434.7,279 435.2,278.2 435.7,277.9 436.7,277.6 437.7,277.7 438.7,277.9 439.2,278 440.2,278.2 441,278.5 441.5,279 441.7,280 441.4,281 441,281.5 440.2,282 439.7,282.2 439.2,282.5 438.5,283 437.8,283.5 437.2,283.9 436.7,284.1Z M436.2,283.6 435.7,283.5 435.1,283 434.9,282 434.9,281 435,280 435.2,279 435.5,278.5 436.2,278 436.7,277.9 437.7,278 438.2,278.1 439.2,278.4 439.7,278.6 440.6,279 440.9,279.5 440.7,280.5 440.2,280.9 439.7,281.1 439.1,281.5 438.5,282 438.1,282.5 437.6,283 436.7,283.5 436.2,283.6Z M437.2,282.5 436.2,282.9 435.5,282.5 435.3,281.5 435.4,280.5 435.5,279.5 435.7,278.9 436.2,278.4 437.2,278.3 438.2,278.5 438.7,278.8 439.2,279.1 439.5,280 439,280.5 438.5,281 438,281.5 437.6,282 437.2,282.5Z M436.7,281.8 436.2,281.8 436.1,281.5 436,281 435.9,280.5 435.9,280 436,279.5 436.2,279.1 436.2,279 436.7,278.7 437.2,278.7 437.7,278.8 438,279 438.2,279.2 438.4,279.5 438.3,280 438.2,280.2 438,280.5 437.7,280.8 437.5,281 437.2,281.4 437,281.5 436.7,281.8Z" fill="none" stroke="#333" stroke-width="0.5" stroke-linejoin="round"/>
<path d="M395.5,267.5A3.6,9.5 0 0 1 395.5,286.5Z" fill="#aaa"/><path d="M395.5,271A2,6 0 0 1 395.5,283Z" fill="#777"/>
<rect x="395.20" y="222.50" width="82" height="82.5" fill="none" stroke="#000" stroke-width="1"/>
<text class="t2" x="390.30" y="307.00" font-size="4.7" text-anchor="end">10<tspan font-size="3.9" dy="-2.9">0</tspan></text>
<line x1="393.60" y1="305.00" x2="395.20" y2="305.00" stroke="#000" stroke-width="0.8" />
<text class="t2" x="395.40" y="314.00" font-size="4.7" text-anchor="middle">10<tspan font-size="3.9" dy="-2.9">0</tspan></text>
<line x1="395.20" y1="305.00" x2="395.20" y2="306.60" stroke="#000" stroke-width="0.8" />
<text class="t2" x="390.30" y="286.38" font-size="4.7" text-anchor="end">10<tspan font-size="3.9" dy="-2.9">1</tspan></text>
<line x1="393.60" y1="284.38" x2="395.20" y2="284.38" stroke="#000" stroke-width="0.8" />
<text class="t2" x="415.90" y="314.00" font-size="4.7" text-anchor="middle">10<tspan font-size="3.9" dy="-2.9">1</tspan></text>
<line x1="415.70" y1="305.00" x2="415.70" y2="306.60" stroke="#000" stroke-width="0.8" />
<text class="t2" x="390.30" y="265.75" font-size="4.7" text-anchor="end">10<tspan font-size="3.9" dy="-2.9">2</tspan></text>
<line x1="393.60" y1="263.75" x2="395.20" y2="263.75" stroke="#000" stroke-width="0.8" />
<text class="t2" x="436.40" y="314.00" font-size="4.7" text-anchor="middle">10<tspan font-size="3.9" dy="-2.9">2</tspan></text>
<line x1="436.20" y1="305.00" x2="436.20" y2="306.60" stroke="#000" stroke-width="0.8" />
<text class="t2" x="390.30" y="245.12" font-size="4.7" text-anchor="end">10<tspan font-size="3.9" dy="-2.9">3</tspan></text>
<line x1="393.60" y1="243.12" x2="395.20" y2="243.12" stroke="#000" stroke-width="0.8" />
<text class="t2" x="456.90" y="314.00" font-size="4.7" text-anchor="middle">10<tspan font-size="3.9" dy="-2.9">3</tspan></text>
<line x1="456.70" y1="305.00" x2="456.70" y2="306.60" stroke="#000" stroke-width="0.8" />
<text class="t2" x="390.30" y="224.50" font-size="4.7" text-anchor="end">10<tspan font-size="3.9" dy="-2.9">4</tspan></text>
<line x1="393.60" y1="222.50" x2="395.20" y2="222.50" stroke="#000" stroke-width="0.8" />
<text class="t2" x="477.40" y="314.00" font-size="4.7" text-anchor="middle">10<tspan font-size="3.9" dy="-2.9">4</tspan></text>
<line x1="477.20" y1="305.00" x2="477.20" y2="306.60" stroke="#000" stroke-width="0.8" />
<line x1="401.37" y1="305.00" x2="401.37" y2="303.70" stroke="#000" stroke-width="0.6" />
<line x1="395.20" y1="298.79" x2="396.50" y2="298.79" stroke="#000" stroke-width="0.6" />
<line x1="404.98" y1="305.00" x2="404.98" y2="303.70" stroke="#000" stroke-width="0.6" />
<line x1="395.20" y1="295.16" x2="396.50" y2="295.16" stroke="#000" stroke-width="0.6" />
<line x1="407.54" y1="305.00" x2="407.54" y2="303.70" stroke="#000" stroke-width="0.6" />
<line x1="395.20" y1="292.58" x2="396.50" y2="292.58" stroke="#000" stroke-width="0.6" />
<line x1="409.53" y1="305.00" x2="409.53" y2="303.70" stroke="#000" stroke-width="0.6" />
<line x1="395.20" y1="290.58" x2="396.50" y2="290.58" stroke="#000" stroke-width="0.6" />
<line x1="411.15" y1="305.00" x2="411.15" y2="303.70" stroke="#000" stroke-width="0.6" />
<line x1="395.20" y1="288.95" x2="396.50" y2="288.95" stroke="#000" stroke-width="0.6" />
<line x1="412.52" y1="305.00" x2="412.52" y2="303.70" stroke="#000" stroke-width="0.6" />
<line x1="395.20" y1="287.57" x2="396.50" y2="287.57" stroke="#000" stroke-width="0.6" />
<line x1="413.71" y1="305.00" x2="413.71" y2="303.70" stroke="#000" stroke-width="0.6" />
<line x1="395.20" y1="286.37" x2="396.50" y2="286.37" stroke="#000" stroke-width="0.6" />
<line x1="414.76" y1="305.00" x2="414.76" y2="303.70" stroke="#000" stroke-width="0.6" />
<line x1="395.20" y1="285.32" x2="396.50" y2="285.32" stroke="#000" stroke-width="0.6" />
<line x1="421.87" y1="305.00" x2="421.87" y2="303.70" stroke="#000" stroke-width="0.6" />
<line x1="395.20" y1="278.17" x2="396.50" y2="278.17" stroke="#000" stroke-width="0.6" />
<line x1="425.48" y1="305.00" x2="425.48" y2="303.70" stroke="#000" stroke-width="0.6" />
<line x1="395.20" y1="274.53" x2="396.50" y2="274.53" stroke="#000" stroke-width="0.6" />
<line x1="428.04" y1="305.00" x2="428.04" y2="303.70" stroke="#000" stroke-width="0.6" />
<line x1="395.20" y1="271.96" x2="396.50" y2="271.96" stroke="#000" stroke-width="0.6" />
<line x1="430.03" y1="305.00" x2="430.03" y2="303.70" stroke="#000" stroke-width="0.6" />
<line x1="395.20" y1="269.96" x2="396.50" y2="269.96" stroke="#000" stroke-width="0.6" />
<line x1="431.65" y1="305.00" x2="431.65" y2="303.70" stroke="#000" stroke-width="0.6" />
<line x1="395.20" y1="268.33" x2="396.50" y2="268.33" stroke="#000" stroke-width="0.6" />
<line x1="433.02" y1="305.00" x2="433.02" y2="303.70" stroke="#000" stroke-width="0.6" />
<line x1="395.20" y1="266.94" x2="396.50" y2="266.94" stroke="#000" stroke-width="0.6" />
<line x1="434.21" y1="305.00" x2="434.21" y2="303.70" stroke="#000" stroke-width="0.6" />
<line x1="395.20" y1="265.75" x2="396.50" y2="265.75" stroke="#000" stroke-width="0.6" />
<line x1="435.26" y1="305.00" x2="435.26" y2="303.70" stroke="#000" stroke-width="0.6" />
<line x1="395.20" y1="264.69" x2="396.50" y2="264.69" stroke="#000" stroke-width="0.6" />
<line x1="442.37" y1="305.00" x2="442.37" y2="303.70" stroke="#000" stroke-width="0.6" />
<line x1="395.20" y1="257.54" x2="396.50" y2="257.54" stroke="#000" stroke-width="0.6" />
<line x1="445.98" y1="305.00" x2="445.98" y2="303.70" stroke="#000" stroke-width="0.6" />
<line x1="395.20" y1="253.91" x2="396.50" y2="253.91" stroke="#000" stroke-width="0.6" />
<line x1="448.54" y1="305.00" x2="448.54" y2="303.70" stroke="#000" stroke-width="0.6" />
<line x1="395.20" y1="251.33" x2="396.50" y2="251.33" stroke="#000" stroke-width="0.6" />
<line x1="450.53" y1="305.00" x2="450.53" y2="303.70" stroke="#000" stroke-width="0.6" />
<line x1="395.20" y1="249.33" x2="396.50" y2="249.33" stroke="#000" stroke-width="0.6" />
<line x1="452.15" y1="305.00" x2="452.15" y2="303.70" stroke="#000" stroke-width="0.6" />
<line x1="395.20" y1="247.70" x2="396.50" y2="247.70" stroke="#000" stroke-width="0.6" />
<line x1="453.52" y1="305.00" x2="453.52" y2="303.70" stroke="#000" stroke-width="0.6" />
<line x1="395.20" y1="246.32" x2="396.50" y2="246.32" stroke="#000" stroke-width="0.6" />
<line x1="454.71" y1="305.00" x2="454.71" y2="303.70" stroke="#000" stroke-width="0.6" />
<line x1="395.20" y1="245.12" x2="396.50" y2="245.12" stroke="#000" stroke-width="0.6" />
<line x1="455.76" y1="305.00" x2="455.76" y2="303.70" stroke="#000" stroke-width="0.6" />
<line x1="395.20" y1="244.07" x2="396.50" y2="244.07" stroke="#000" stroke-width="0.6" />
<line x1="462.87" y1="305.00" x2="462.87" y2="303.70" stroke="#000" stroke-width="0.6" />
<line x1="395.20" y1="236.92" x2="396.50" y2="236.92" stroke="#000" stroke-width="0.6" />
<line x1="466.48" y1="305.00" x2="466.48" y2="303.70" stroke="#000" stroke-width="0.6" />
<line x1="395.20" y1="233.28" x2="396.50" y2="233.28" stroke="#000" stroke-width="0.6" />
<line x1="469.04" y1="305.00" x2="469.04" y2="303.70" stroke="#000" stroke-width="0.6" />
<line x1="395.20" y1="230.71" x2="396.50" y2="230.71" stroke="#000" stroke-width="0.6" />
<line x1="471.03" y1="305.00" x2="471.03" y2="303.70" stroke="#000" stroke-width="0.6" />
<line x1="395.20" y1="228.71" x2="396.50" y2="228.71" stroke="#000" stroke-width="0.6" />
<line x1="472.65" y1="305.00" x2="472.65" y2="303.70" stroke="#000" stroke-width="0.6" />
<line x1="395.20" y1="227.08" x2="396.50" y2="227.08" stroke="#000" stroke-width="0.6" />
<line x1="474.02" y1="305.00" x2="474.02" y2="303.70" stroke="#000" stroke-width="0.6" />
<line x1="395.20" y1="225.69" x2="396.50" y2="225.69" stroke="#000" stroke-width="0.6" />
<line x1="475.21" y1="305.00" x2="475.21" y2="303.70" stroke="#000" stroke-width="0.6" />
<line x1="395.20" y1="224.50" x2="396.50" y2="224.50" stroke="#000" stroke-width="0.6" />
<line x1="476.26" y1="305.00" x2="476.26" y2="303.70" stroke="#000" stroke-width="0.6" />
<line x1="395.20" y1="223.44" x2="396.50" y2="223.44" stroke="#000" stroke-width="0.6" />
<rect x="438.75" y="223.00" width="21.75" height="35.00" fill="none" stroke="#000" stroke-width="0.9"/>
<text x="416.00" y="234.50" font-size="12.15" text-anchor="start" font-weight="normal" fill="#000" >8.2</text>
<path d="M440.2,363.3 439.2,363.3 438.7,362.8 438.4,362 438.6,361 438.9,360.5 439.7,360.1 440.2,360.5 440.6,361.5 440.6,362.5 440.2,363.3Z M440.7,389.1 439.7,389.3 438.7,389.3 437.7,389.2 436.7,389.1 435.7,389.1 434.7,389 434.2,388.9 433.2,388.6 432.7,388.4 431.7,388 431.2,387.8 430.5,387.5 429.7,387 429.2,386.7 428.7,386.2 428.2,385.6 427.7,385 427.3,384.5 426.7,384 426.2,383.6 425.7,383.3 425.2,382.9 424.6,382.5 423.9,382 423.4,381.5 423.3,380.5 423.7,379.5 424,379 424.2,378.5 424.7,377.6 425,377 425.3,376.5 425.7,375.8 426.2,375 426.7,374.5 427.2,374.2 427.7,373.8 428.2,373.4 428.7,372.6 429,372 429.3,371.5 429.7,370.9 430.2,370.2 430.7,369.7 431.2,369.2 431.7,368.7 432.2,368 432.5,367.5 432.8,367 433.3,366.5 433.9,366 434.7,365.5 435.2,365.1 435.7,364.9 436.7,364.5 437.2,364.5 438.2,364.5 438.7,364.6 439.5,365 440.2,365.4 440.7,365.6 441.7,365.9 442.2,366.1 442.8,366.5 443.5,367 444,367.5 444.4,368 444.9,368.5 445.4,369 445.9,369.5 446.4,370 446.9,370.5 447.2,371 447.7,372 447.9,372.5 448.2,373.5 448.3,374 448.7,375 448.9,375.5 449.2,376.5 449.3,377 449.4,378 449.4,379 449.3,380 449.2,381 449.1,381.5 448.9,382.5 448.7,383.1 448.2,384 447.9,384.5 447.5,385 447.2,385.5 446.7,386.1 446.2,386.6 445.7,387 444.7,387.4 444.2,387.6 443.2,387.9 442.7,388.1 441.9,388.5 441.2,388.9 440.7,389.1Z" fill="#e2e2e2" stroke="none"/>
<path d="M439.7,387.2 438.7,387.4 437.7,387.3 436.7,387.2 435.7,387.2 434.7,387 434.2,386.9 433.2,386.7 432.7,386.5 431.7,386.1 431.2,385.7 430.7,385.3 430.2,384.6 429.9,384 429.5,383.5 429.1,383 428.6,382.5 428.1,382 427.7,381.4 427.2,380.5 427.2,380 427.2,379.4 427.5,378.5 427.8,378 428.2,377.5 428.7,377 429.2,376.5 429.7,376 430.2,375.4 430.6,374.5 430.7,374 431,373 431.3,372.5 431.7,372 432.3,371.5 433.1,371 433.6,370.5 434.1,370 434.7,369.5 435.2,369.1 435.7,368.8 436.6,368.5 437.2,368.3 438.2,368.2 439.2,368.3 440.2,368.5 440.7,368.5 441.7,368.7 442.4,369 443.2,369.5 443.7,369.9 444.2,370.4 444.7,370.8 445.2,371.3 445.7,372 445.9,372.5 446.2,373.5 446.4,374 446.7,374.6 447.2,375.5 447.5,376 447.7,376.7 447.9,377.5 447.9,378.5 447.8,379.5 447.7,380 447.5,381 447.2,381.7 446.7,382.4 446.2,382.9 445.7,383.4 445.2,383.8 444.7,384.4 444.2,384.9 443.7,385.3 443.2,385.6 442.2,386 441.7,386.2 441.1,386.5 440.2,387 439.7,387.2Z" fill="#cfcfcf" stroke="none"/>
<path d="M419.2,348.9h0.5M407.5,371.3h0.5M420.2,353.4h0.5M472.3,340.3h0.5M401.5,391.6h0.5M425.3,347.2h0.5M405.4,376.4h0.5M416.2,369.6h0.5M396.2,376.6h0.5M427.1,337.5h0.5M413,363.6h0.5M428.2,346.2h0.5M400.4,367.5h0.5M434.2,329.9h0.5M429.6,346.4h0.5M457.5,349.7h0.5M430.2,403.7h0.5M420.4,348.4h0.5M461.3,366.5h0.5M412.8,351.9h0.5M462.5,353.7h0.5M428.7,351.9h0.5M412.6,361h0.5M415,333.9h0.5M457.9,372.8h0.5M406.4,389.7h0.5M404.9,394.1h0.5M415.9,332.4h0.5M398.9,363.9h0.5M421.4,360.5h0.5M410.6,350.1h0.5M398.1,373.5h0.5M409.5,363.2h0.5M399.3,363.9h0.5M412.5,338.9h0.5M417.4,348.9h0.5M410.9,359.8h0.5M397.7,353.9h0.5M424.3,348.4h0.5M403.4,378.7h0.5M409.6,349.1h0.5M410.4,356.1h0.5M418.9,393.7h0.5M468.4,379.6h0.5M410.8,331.4h0.5M396.4,330.2h0.5M412.9,372.4h0.5M419.4,359.5h0.5M402.8,390.1h0.5M415.6,368.7h0.5M419.6,359.4h0.5M406.8,350.6h0.5M398.6,376.5h0.5M417.8,344h0.5M452.1,335.8h0.5M407.4,375.2h0.5M435.4,400.9h0.5M439.3,336.4h0.5M412.6,337.2h0.5M428.8,400.2h0.5M402.3,362.2h0.5M407.5,367.7h0.5M407.9,374.8h0.5M453.4,393.2h0.5M415.2,367.3h0.5M417.6,394.4h0.5M416.1,368.1h0.5M398.3,358.2h0.5M416.5,349.4h0.5M452.6,348.3h0.5M425.6,398.2h0.5M406.1,389.2h0.5M408.6,368.4h0.5M475.4,387.5h0.5M434,342.7h0.5M423.3,340.8h0.5M463.4,374.7h0.5M454.9,351.5h0.5M430.6,397.8h0.5M423.5,348.2h0.5M449.1,331.1h0.5M421.2,344.9h0.5M425.4,357.5h0.5M424.2,349h0.5M417.5,350.8h0.5M451.3,402.9h0.5M419.6,328.2h0.5M413.8,369h0.5M399.9,343h0.5M404,359.3h0.5M470.6,343.3h0.5M422.3,336.5h0.5M402.8,358.6h0.5M412.3,355.1h0.5M410.8,371.4h0.5M457.6,325.6h0.5M410.7,364.8h0.5M454.8,354.6h0.5M427.3,354h0.5M428.8,349.2h0.5M419.6,353h0.5M426.9,323.6h0.5M464.7,384.7h0.5M415.5,400.9h0.5M444.1,328.3h0.5M464.9,363.7h0.5M442.3,399.1h0.5M424.6,402.2h0.5M408.1,367.7h0.5M420.3,345.7h0.5M446,396h0.5M465.4,367.9h0.5M401.6,373.4h0.5M406.2,350h0.5M461,376.8h0.5M414.8,343.4h0.5M399.5,370.1h0.5M421.7,334.9h0.5M468.6,352.7h0.5M406.9,387.4h0.5M417.7,347.4h0.5M462.4,389.9h0.5M422.1,349.4h0.5M457.9,373.1h0.5M424.9,349.1h0.5M451.5,330.7h0.5M426.8,352.6h0.5M405.5,362h0.5M399.3,376.5h0.5M424.9,356.6h0.5M407.9,328.4h0.5M460.1,355.1h0.5M461.5,371.7h0.5M416.5,337.2h0.5M398.6,364.9h0.5M414.1,333h0.5M409.9,371.9h0.5M411,364.5h0.5M417.2,402.9h0.5M421.7,346.8h0.5M413.5,357.6h0.5M422.6,339h0.5M472.5,351.5h0.5M466,398.9h0.5M411.4,346.2h0.5M417.3,394.3h0.5M422.1,397.7h0.5M421,347.6h0.5M426.4,354.8h0.5M423.3,341.3h0.5M398.8,390.8h0.5M467.7,361.6h0.5M405.9,363.8h0.5M420,359.5h0.5M426.4,348.5h0.5M451.9,336.4h0.5M414.9,336h0.5M421,342.9h0.5M464.6,383.5h0.5M440.1,398.8h0.5M472.8,332.4h0.5M448.6,339h0.5M396.8,333h0.5M457.2,394.5h0.5M414.2,371.4h0.5M419.4,361.4h0.5M414.4,344.8h0.5M401.5,403.7h0.5M414.6,361.6h0.5M441.8,336.2h0.5M425.5,338.8h0.5M407.2,366.8h0.5M404.4,346.1h0.5M458.1,381.4h0.5M399.8,345.1h0.5M428,345.4h0.5M461.1,373.8h0.5M403.3,349.3h0.5M431.9,347.7h0.5M421.7,395.1h0.5M421.5,361.6h0.5M437,334.2h0.5M408.7,354.9h0.5M461,342h0.5M473.6,368.6h0.5M465.1,350.4h0.5M421.4,395.4h0.5M407.9,354.8h0.5M413.2,336.3h0.5M411.5,345h0.5M418.4,347.6h0.5M465.4,350.4h0.5M399.8,385.8h0.5M453.5,391.5h0.5M416.1,369.4h0.5M423.6,352.6h0.5M464.9,350.2h0.5M456.1,346.7h0.5M467.9,361.8h0.5M467.3,370.3h0.5M408.3,370.9h0.5M418.9,342.3h0.5M419.7,343h0.5M405.2,399.5h0.5M396.5,362.6h0.5M427.2,331.8h0.5M414.8,400.5h0.5M418.2,360.5h0.5M405.9,387.4h0.5M465.6,340.9h0.5M427.5,351.1h0.5M432.5,333.3h0.5M453.2,351.5h0.5M451.3,348.6h0.5M409.4,367.8h0.5M419.5,328.2h0.5M398.8,372.2h0.5M454.1,346.1h0.5M411.1,363.2h0.5M414.3,333.6h0.5M462,370.1h0.5M420.7,362.9h0.5M466.9,385.4h0.5M404.3,334h0.5M396.3,370.7h0.5M454.1,402.3h0.5M408.6,344.8h0.5M407.6,372.3h0.5M414.3,367.2h0.5M409.7,372.8h0.5M420.3,351.3h0.5M410.2,335.1h0.5M464,360.7h0.5M436.5,333.5h0.5M413.1,361.7h0.5M413.6,357.7h0.5M448.1,336.4h0.5M455.6,355h0.5M467.2,356.2h0.5M413.6,357.3h0.5M418.5,353.4h0.5M475.1,379.4h0.5M416.7,399.2h0.5M419.3,362.7h0.5M419.4,355.8h0.5M461.8,397.9h0.5M421.8,339.1h0.5M427.8,347.4h0.5M410.6,356.8h0.5M417.3,347h0.5M422.9,357.6h0.5M397.4,351.1h0.5M429.5,347.1h0.5M423.4,356.4h0.5M445.4,402.6h0.5M457.2,366.1h0.5M416.1,352.1h0.5M416.3,343.7h0.5M423.5,326.8h0.5M427.1,350.8h0.5M460.9,370.1h0.5M413,358.8h0.5M411.3,390.9h0.5M459.3,378h0.5M455.3,346.6h0.5M407.7,392h0.5M431.5,398.7h0.5M418.7,401.7h0.5M411.9,400h0.5M410.6,396.2h0.5M412.3,403.1h0.5M423.3,358.6h0.5M408.1,394.4h0.5M411.3,394h0.5M402.7,364.3h0.5M462.3,388.5h0.5M408.6,374.6h0.5M399,367.7h0.5M413.3,390.1h0.5M399.9,397.1h0.5M399.6,396.2h0.5M415.4,359.3h0.5M408.3,375.8h0.5M417.9,394.3h0.5M396.8,396.9h0.5M409.3,392.2h0.5M414.2,390.6h0.5M396.4,384h0.5M405.2,403.6h0.5M399.3,378.5h0.5M411.7,371.4h0.5M425.6,403.9h0.5M417.4,368.1h0.5M400.6,376.3h0.5M402.9,373.1h0.5M415.3,361.8h0.5M406.4,390.5h0.5M424.5,400.7h0.5M424.7,401.9h0.5M429.9,397.5h0.5M407,368.5h0.5M422.7,399.2h0.5M416,395.7h0.5M400.8,371.1h0.5M411,399.9h0.5M423.7,357.9h0.5M408.8,395.4h0.5M423.5,396.4h0.5M421.4,399.2h0.5M404.9,391.3h0.5M404.8,401h0.5M446,396.2h0.5M407.9,391h0.5M414.2,393.7h0.5M400.7,372h0.5M397.6,377.7h0.5M418.7,396.1h0.5M404.8,387.1h0.5M413,400h0.5M409.3,390.4h0.5M411,391.1h0.5M411.4,392.7h0.5M411,371.4h0.5M410,395.8h0.5M409,392.2h0.5M418.8,399.7h0.5M406.2,388.6h0.5M430.3,399.1h0.5M432.2,403.8h0.5M412.3,391.9h0.5M435.8,401.6h0.5M407.3,369.6h0.5M415.6,401.7h0.5M403.7,361.4h0.5M408.6,371.4h0.5M396.3,374.6h0.5M411.6,366.9h0.5M402.9,377.3h0.5M412.1,369.9h0.5M415.8,400.2h0.5M420.3,396.1h0.5M396.9,373.3h0.5M407.3,391.5h0.5M413.3,393.6h0.5M416.9,398.5h0.5M405.3,374.5h0.5M463.4,391.7h0.5M397.3,391.2h0.5M455.3,345.2h0.5M446.5,328.9h0.5M438.4,335h0.5M435.2,328.8h0.5M438.1,338.6h0.5M452.7,346.4h0.5M454.8,346.6h0.5M453.2,330.6h0.5M445.1,326.5h0.5M447,334.6h0.5M453.9,337.3h0.5M447.3,325.2h0.5M437.9,335.6h0.5M447.5,331.7h0.5M441.8,333.1h0.5M438.8,334.3h0.5M442.3,330.5h0.5M456.1,338.4h0.5M443.9,335.6h0.5M453.8,345.7h0.5M443.9,336.3h0.5M449.5,338.6h0.5M435,339.1h0.5M442.9,330.8h0.5M447.8,333.6h0.5M444.4,325.7h0.5M450.9,345.7h0.5M452.8,326h0.5M455.2,331.8h0.5M446.4,337.3h0.5M446.9,337.5h0.5M443,333.3h0.5M439.4,334h0.5M439.3,336.2h0.5M452.5,338.6h0.5M442.8,332.9h0.5M450,341.1h0.5M449.8,336.1h0.5M446.4,326.3h0.5M445,335.8h0.5M447.8,332.6h0.5M454.3,333.3h0.5M432.6,342.6h0.5M446.8,338.4h0.5M445.4,327.8h0.5" fill="none" stroke="#777" stroke-width="0.5"/>
<path d="M435.2,397 434.2,397 433.7,397 432.7,396.9 431.7,396.8 430.7,396.7 429.7,396.7 428.7,396.6 427.7,396.5 427.2,396.4 426.2,396.1 425.7,396 424.7,395.6 424.2,395.4 423.2,395 422.7,394.8 422,394.5 421.2,394 420.7,393.7 420.2,393.2 419.7,392.8 419.2,392.4 418.7,392 417.7,391.6 417.2,391.3 416.5,391 415.7,390.5 415.2,390.1 414.7,389.8 414.2,389.5 413.2,389 412.7,388.8 412,388.5 411.2,388.1 410.7,387.9 410,387.5 409.2,387.1 408.7,386.9 407.9,386.5 407.2,386.2 406.6,386 405.7,385.7 404.9,385.5 404.2,385.3 403.2,385.1 402.7,385 401.7,384.7 401,384.5 400.2,384.2 399.7,384 398.7,383.5 398.2,383 398,382.5 398.2,381.8 398.7,381.3 399.2,380.9 400,380.5 400.7,380.1 401.2,379.9 402.2,379.5 402.7,379.3 403.7,379 404.2,378.8 405.2,378.5 405.7,378.3 406.4,378 407.2,377.6 407.7,377.3 408.2,376.9 408.8,376.5 409.6,376 410.2,375.7 410.7,375.4 411.4,375 412.1,374.5 412.7,374.1 413.2,373.6 413.7,373.2 414.2,372.8 414.7,372.4 415.2,372 415.8,371.5 416.2,371 416.7,370.3 417.2,369.5 417.5,369 417.9,368.5 418.4,368 418.8,367.5 419.3,367 419.7,366.4 420.2,365.5 420.4,365 420.7,364.4 421.2,363.5 421.5,363 421.9,362.5 422.3,362 422.8,361.5 423.3,361 423.7,360.5 424.2,359.8 424.7,359.2 425.2,358.7 425.7,358.2 426.2,357.7 426.6,357 426.9,356.5 427.2,355.8 427.7,355 428,354.5 428.5,354 428.9,353.5 429.3,353 429.7,352.5 430.2,351.7 430.6,351 430.8,350.5 431.2,349.9 431.7,349 432,348.5 432.2,348 432.7,347 432.9,346.5 433.2,345.9 433.7,345 434,344.5 434.3,344 434.7,343.4 435.2,342.6 435.6,342 435.9,341.5 436.2,341 436.7,340.5 437.2,340 437.8,339.5 438.5,339 439.2,338.5 439.7,338.2 440.3,338 441.2,337.8 442.2,337.7 443.2,337.7 444.2,337.9 444.8,338 445.7,338.3 446.2,338.5 446.9,339 447.5,339.5 447.9,340 448.3,340.5 448.7,341.1 449.1,342 449.3,342.5 449.6,343.5 449.8,344 450.1,345 450.3,345.5 450.4,346.5 450.5,347.5 450.6,348.5 450.7,349.5 450.7,350 450.8,351 450.9,352 451.1,353 451.2,353.6 451.5,354.5 451.7,355.3 451.9,356 452,357 452,358 452.1,359 452.2,359.6 452.4,360.5 452.7,361.4 452.9,362 453.2,363 453.3,363.5 453.5,364.5 453.7,365.1 454.1,366 454.4,366.5 454.7,367 455.2,367.9 455.5,368.5 455.7,369.3 455.9,370 456.1,371 456.3,371.5 456.6,372.5 456.8,373 457.1,374 457.2,374.6 457.4,375.5 457.4,376.5 457.5,377.5 457.4,378.5 457.4,379.5 457.4,380.5 457.3,381.5 457.2,382 457,383 456.7,383.8 456.4,384.5 456.2,385 455.8,386 455.6,386.5 455.2,387.3 454.8,388 454.6,388.5 454.2,389.3 453.8,390 453.4,390.5 452.9,391 452.4,391.5 451.9,392 451.3,392.5 450.7,393 450.2,393.4 449.7,393.7 449.2,394 448.3,394.5 447.7,394.8 447.2,395.1 446.4,395.5 445.7,395.8 445.1,396 444.2,396.3 443.2,396.5 442.7,396.6 441.7,396.8 440.7,396.9 439.7,396.9 438.7,396.9 437.7,396.9 436.7,396.9 435.7,397 435.2,397Z M441.7,393 440.7,393 440.2,393 439.2,392.9 438.2,392.9 437.2,392.9 436.2,392.9 435.2,392.9 434.2,392.6 433.7,392.4 432.7,392 432.2,391.9 431.2,391.6 430.7,391.5 429.7,391.2 428.7,391 428.2,390.9 427.2,390.7 426.6,390.5 425.7,390.1 425.2,389.9 424.2,389.5 423.7,389.2 423.2,389 422.4,388.5 421.7,388 421.2,387.8 420.6,387.5 419.7,387.1 419.2,386.9 418.2,386.5 417.7,386.3 416.7,386.1 416.2,386 415.2,385.7 414.6,385.5 413.7,385.1 413.2,384.9 412.2,384.6 411.7,384.5 410.7,384.2 409.9,384 409.2,383.8 408.3,383.5 407.7,383.3 406.7,383 406.2,382.9 405.2,382.8 404.2,382.8 403.2,382.6 402.9,382 403.7,381.7 404.5,381.5 405.2,381.4 406.2,381.3 407.1,381 407.7,380.8 408.5,380.5 409.2,380.3 410,380 410.7,379.7 411.2,379.5 412.1,379 412.7,378.7 413.2,378.4 413.9,378 414.7,377.5 415.2,377.2 415.7,376.8 416.2,376.5 417.1,376 417.7,375.7 418.2,375.4 418.8,375 419.4,374.5 419.9,374 420.4,373.5 420.8,373 421.3,372.5 421.8,372 422.3,371.5 422.9,371 423.4,370.5 423.9,370 424.2,369.5 424.7,368.7 425.1,368 425.4,367.5 425.7,367 426.2,366.2 426.6,365.5 426.9,365 427.3,364.5 427.7,363.9 428.2,363.2 428.6,362.5 428.9,362 429.3,361.5 429.7,360.9 430.2,360.3 430.7,359.7 431.2,359.1 431.7,358.5 432,358 432.2,357.5 432.7,356.5 433,356 433.4,355.5 433.7,355 434.2,354.1 434.4,353.5 434.6,352.5 434.8,352 435.1,351 435.4,350.5 435.7,349.8 436.1,349 436.4,348.5 436.7,347.8 437.1,347 437.4,346.5 437.7,346 438.2,345.2 438.6,344.5 439,344 439.5,343.5 440,343 440.7,342.5 441.2,342.2 441.7,341.9 442.7,341.6 443.7,341.7 444.3,342 445,342.5 445.4,343 445.7,343.5 446.1,344.5 446.2,345.2 446.3,346 446.3,347 446.3,348 446.3,349 446.3,350 446.5,351 446.6,352 446.7,352.5 446.8,353.5 447,354.5 447.2,355.5 447.3,356 447.5,357 447.5,358 447.4,359 447.2,359.9 447.1,360.5 447.2,361.4 447.4,362 447.7,362.8 448,363.5 448.3,364 448.7,364.9 449.1,365.5 449.4,366 449.8,366.5 450.2,367.1 450.7,368 450.9,368.5 451.2,369.5 451.3,370 451.5,371 451.7,372 451.8,372.5 452,373.5 452.2,374.2 452.5,375 452.7,375.7 453,376.5 453.2,377.4 453.3,378 453.4,379 453.4,380 453.2,381 453.1,381.5 452.8,382.5 452.7,383.1 452.5,384 452.2,384.9 451.9,385.5 451.6,386 451.2,386.6 450.7,387.3 450.2,387.9 449.7,388.5 449.2,388.9 448.7,389.4 448.2,389.8 447.7,390.2 447.2,390.5 446.3,391 445.7,391.3 445.2,391.6 444.5,392 443.7,392.4 443.2,392.7 442.2,392.9 441.7,393Z M442.2,391.6 441.2,391.8 440.2,391.8 439.2,391.6 438.6,391.5 437.7,391.4 436.7,391.4 435.7,391.4 434.7,391.2 434,391 433.2,390.8 432.4,390.5 431.7,390.2 431.1,390 430.2,389.7 429.6,389.5 428.7,389.2 428.2,389 427.2,388.6 426.7,388.3 426.2,388 425.6,387.5 425,387 424.5,386.5 423.7,386 423.2,385.8 422.2,385.7 421.2,385.5 420.7,385.3 420,385 419.4,384.5 418.9,384 418.4,383.5 417.7,383 417.2,382.8 416.2,382.9 415.7,383 414.7,383 414.2,382.9 413.2,382.5 412.7,382 413.2,381.1 413.7,380.8 414.4,380.5 415.2,380.3 416,380 416.7,379.5 417.1,379 417.4,378.5 417.9,378 418.5,377.5 419.2,377 419.7,376.6 420.2,376.2 420.7,375.8 421.2,375.3 421.7,375 422.3,374.5 422.8,374 423.2,373.5 423.7,372.9 424.2,372.4 424.7,372 425.3,371.5 425.9,371 426.4,370.5 426.8,370 427.2,369.4 427.7,368.7 428.2,368 428.4,367.5 428.7,366.8 429,366 429.2,365.4 429.6,364.5 429.9,364 430.2,363.5 430.7,362.8 431.2,362.4 431.8,362 432.6,361.5 433.2,361.1 433.7,360.6 434.1,360 434.3,359.5 434.6,358.5 434.7,358 435.1,357 435.4,356.5 435.7,356 436.2,355.1 436.4,354.5 436.6,353.5 436.7,353 436.9,352 437.2,351.4 437.7,350.7 438.2,350.1 438.7,349.5 439.1,349 439.4,348.5 439.7,347.7 439.9,347 440.2,346.1 440.6,345.5 441.2,345 441.7,344.8 442.7,344.8 443.2,345.1 443.7,346 443.8,346.5 443.9,347.5 444,348.5 444.1,349.5 444.2,350 444.4,351 444.6,352 444.7,352.5 444.8,353.5 444.8,354.5 444.7,355.5 444.6,356 444.6,357 444.6,358 444.7,358.8 444.8,359.5 444.7,360.5 444.7,361 444.7,361.7 444.9,362.5 445.2,363.1 445.7,363.9 446.1,364.5 446.3,365 446.7,365.7 447.2,366.5 447.5,367 447.9,367.5 448.4,368 448.8,368.5 449.2,369 449.7,370 449.8,370.5 450,371.5 450.2,372.5 450.3,373 450.6,374 450.7,374.5 451,375.5 451.2,376 451.5,377 451.7,377.7 451.9,378.5 451.9,379.5 451.7,380.5 451.6,381 451.4,382 451.2,382.9 451.1,383.5 450.8,384.5 450.5,385 450.2,385.6 449.7,386.3 449.2,387 448.8,387.5 448.3,388 447.7,388.5 447.2,388.9 446.7,389.2 446.2,389.5 445.3,390 444.7,390.3 444.2,390.6 443.5,391 442.7,391.4 442.2,391.6Z M441.7,390.5 440.7,390.7 439.7,390.7 438.7,390.5 438.2,390.4 437.2,390.3 436.2,390.3 435.2,390.3 434.2,390.1 433.7,390 432.7,389.7 432.2,389.5 431.2,389 430.7,388.8 429.9,388.5 429.2,388.2 428.7,387.9 428,387.5 427.4,387 427,386.5 426.5,386 426,385.5 425.4,385 424.7,384.5 424.2,384.3 423.2,384 422.7,383.9 421.7,383.7 421.2,383.5 420.7,382.9 420.3,382 420.1,381.5 419.8,380.5 419.8,379.5 420.2,378.7 420.7,378.2 421.2,377.7 421.7,377.3 422.2,376.9 422.8,376.5 423.3,376 423.7,375.5 424.2,374.8 424.6,374 425,373.5 425.6,373 426.2,372.6 426.7,372.2 427.2,371.8 427.7,371.2 428.2,370.5 428.6,370 429,369.5 429.4,369 429.7,368.5 430.2,367.6 430.4,367 430.7,366.1 431,365.5 431.2,365 431.7,364.4 432.2,364 432.8,363.5 433.4,363 433.9,362.5 434.3,362 434.7,361.5 435.2,360.7 435.6,360 435.9,359.5 436.2,358.9 436.7,358 437,357.5 437.2,357 437.7,356.1 438.1,355.5 438.4,355 438.8,354.5 439.2,353.9 439.7,353.3 440.3,353 441.2,352.9 441.7,353.1 442.2,353.5 442.7,354.2 442.9,355 442.8,356 442.7,356.9 442.7,357.5 442.7,358.1 442.8,359 442.9,360 442.9,361 443.1,362 443.2,362.5 443.6,363.5 443.9,364 444.2,364.6 444.7,365.5 445,366 445.3,366.5 445.7,367.1 446.2,367.8 446.7,368.4 447.2,368.9 447.7,369.3 448.2,369.9 448.5,370.5 448.7,371 449,372 449.2,372.7 449.4,373.5 449.7,374.5 449.9,375 450.2,376 450.3,376.5 450.6,377.5 450.7,378.5 450.7,379 450.7,379.5 450.6,380.5 450.4,381.5 450.2,382.5 450.1,383 449.8,384 449.6,384.5 449.2,385.2 448.7,386 448.3,386.5 447.9,387 447.4,387.5 446.8,388 446.2,388.4 445.7,388.6 444.8,389 444.2,389.3 443.7,389.5 442.8,390 442.2,390.3 441.7,390.5Z M441.2,389.6 440.2,389.8 439.2,389.8 438.2,389.7 437.2,389.6 436.2,389.6 435.2,389.5 434.7,389.5 433.7,389.3 432.9,389 432.2,388.7 431.7,388.5 430.7,388 430.2,387.8 429.6,387.5 428.8,387 428.3,386.5 427.8,386 427.4,385.5 426.9,385 426.4,384.5 425.7,384 425.2,383.6 424.7,383.3 424,383 423.2,382.6 422.7,382.3 422.2,381.8 421.9,381 422.1,380 422.4,379.5 422.8,379 423.2,378.5 423.7,377.9 424.2,377.1 424.6,376.5 424.8,376 425.2,375.3 425.7,374.5 426.2,374 426.7,373.6 427.2,373.3 427.7,372.9 428.2,372.3 428.7,371.5 429,371 429.3,370.5 429.7,370 430.2,369.5 430.7,368.9 431.2,368.2 431.6,367.5 431.8,367 432.2,366.3 432.7,365.7 433.2,365.3 433.7,365 434.3,364.5 434.9,364 435.5,363.5 435.9,363 436.2,362.5 436.6,361.5 436.8,361 437.2,360.3 437.7,359.6 438.1,359 438.5,358.5 438.9,358 439.5,357.5 440.2,357.5 440.6,358 440.9,358.5 441.2,359 441.5,360 441.6,361 441.7,361.5 441.9,362.5 442.1,363.5 442.2,364 442.7,365 443.1,365.5 443.5,366 443.9,366.5 444.3,367 444.7,367.5 445.2,368.1 445.7,368.7 446.2,369.2 446.7,369.6 447.2,370.1 447.7,370.8 448,371.5 448.2,372.1 448.5,373 448.7,373.7 449,374.5 449.2,375.2 449.5,376 449.7,376.9 449.8,377.5 449.9,378.5 449.8,379.5 449.7,380.5 449.7,381 449.5,382 449.3,383 449.1,383.5 448.7,384.3 448.3,385 447.9,385.5 447.6,386 447.2,386.5 446.7,387 446,387.5 445.2,387.9 444.7,388 443.7,388.4 443.2,388.5 442.3,389 441.7,389.3 441.2,389.6Z M439.7,389.1 438.7,389.1 437.7,389 437.2,389 436.2,388.9 435.2,388.9 434.2,388.8 433.3,388.5 432.7,388.3 432.1,388 431.2,387.6 430.7,387.4 430,387 429.3,386.5 428.8,386 428.4,385.5 428,385 427.6,384.5 427,384 426.4,383.5 425.7,383 425.2,382.6 424.7,382.2 424.2,381.8 423.8,381 423.9,380 424.2,379.3 424.5,378.5 424.8,378 425.2,377.2 425.6,376.5 425.9,376 426.2,375.5 426.7,374.9 427.3,374.5 428,374 428.5,373.5 428.8,373 429.2,372.1 429.5,371.5 429.8,371 430.2,370.5 430.7,370 431.3,369.5 431.8,369 432.2,368.5 432.7,367.8 433.2,367.1 433.7,366.6 434.2,366.2 434.7,365.9 435.3,365.5 436.2,365.1 436.7,365 437.7,365 438.2,365.1 439.2,365.5 439.7,365.7 440.4,366 441.2,366.2 442.2,366.5 442.7,366.7 443.2,367.1 443.7,367.5 444.2,368 444.7,368.6 445.2,369.1 445.7,369.6 446.2,370.1 446.7,370.6 447.2,371.3 447.5,372 447.7,372.6 448,373.5 448.2,374.1 448.5,375 448.7,375.5 449,376.5 449.2,377.3 449.3,378 449.3,379 449.2,379.7 449.1,380.5 449,381.5 448.7,382.5 448.5,383 448.2,383.6 447.7,384.4 447.2,385 446.8,385.5 446.4,386 445.9,386.5 445.2,387 444.7,387.2 443.7,387.5 443.2,387.6 442.3,388 441.7,388.3 441.2,388.6 440.2,389 439.7,389.1Z M438.7,388.5 438.2,388.5 437.2,388.4 436.2,388.4 435.2,388.3 434.2,388.2 433.6,388 432.7,387.7 432.2,387.5 431.2,387 430.7,386.8 430.2,386.5 429.6,386 429.2,385.5 428.7,384.8 428.2,384.1 427.7,383.6 427.2,383.2 426.7,382.8 426.2,382.4 425.7,381.9 425.2,381.2 425,380.5 425.1,379.5 425.3,379 425.6,378 425.9,377.5 426.2,376.9 426.7,376.2 427.2,375.7 427.7,375.4 428.3,375 428.8,374.5 429.2,373.9 429.6,373 429.7,372.5 430.2,371.6 430.6,371 431.2,370.5 431.7,370.1 432.2,369.7 432.7,369.3 433.2,368.7 433.7,368.1 434.2,367.6 434.7,367.2 435.2,366.9 435.8,366.5 436.7,366.1 437.7,366.2 438.7,366.5 439.2,366.6 440.2,367 440.7,367.1 441.7,367.2 442.4,367.5 443.2,368 443.7,368.4 444.2,368.9 444.7,369.4 445.2,369.8 445.7,370.3 446.2,370.9 446.6,371.5 446.9,372 447.2,372.9 447.4,373.5 447.7,374.3 448,375 448.2,375.5 448.6,376.5 448.7,377.1 448.8,378 448.8,379 448.7,379.7 448.6,380.5 448.4,381.5 448.2,382.3 447.8,383 447.5,383.5 447.1,384 446.6,384.5 446.2,385 445.7,385.6 445.2,386 444.4,386.5 443.7,386.8 443,387 442.2,387.3 441.7,387.5 440.8,388 440.2,388.3 439.2,388.5 438.7,388.5Z M438.7,388 438.2,388 437.2,387.9 436.2,387.9 435.2,387.8 434.2,387.6 433.7,387.5 432.7,387.1 432.2,387 431.2,386.5 430.7,386.2 430.2,385.8 429.7,385.2 429.3,384.5 428.9,384 428.5,383.5 428,383 427.4,382.5 426.9,382 426.4,381.5 426.2,381 425.9,380 426.1,379 426.3,378.5 426.7,377.6 427.1,377 427.6,376.5 428.2,376.1 428.7,375.7 429.2,375.3 429.7,374.6 429.9,374 430.2,373 430.4,372.5 430.7,371.9 431.2,371.3 431.7,370.9 432.3,370.5 433,370 433.5,369.5 434,369 434.6,368.5 435.2,368 435.7,367.7 436.2,367.4 437.2,367.1 438.2,367.2 439.2,367.4 439.7,367.6 440.7,367.8 441.7,367.9 442.2,368.1 443,368.5 443.6,369 444.1,369.5 444.7,370 445.2,370.5 445.7,371 446.1,371.5 446.3,372 446.7,373 446.8,373.5 447.2,374.3 447.5,375 447.8,375.5 448.2,376.5 448.3,377 448.4,378 448.3,379 448.2,380 448.2,380.5 447.9,381.5 447.7,382.1 447.2,382.9 446.7,383.5 446.2,384 445.7,384.5 445.3,385 444.7,385.5 444.2,385.9 443.7,386.1 442.7,386.5 442.2,386.7 441.5,387 440.7,387.4 440.2,387.7 439.2,388 438.7,388Z M438.7,387.5 437.9,387.5 437.2,387.4 436.2,387.3 435.2,387.3 434.2,387.1 433.7,387 432.7,386.7 432.2,386.5 431.3,386 430.7,385.5 430.3,385 429.9,384.5 429.6,384 429.2,383.4 428.7,382.8 428.2,382.3 427.7,381.8 427.2,381.1 426.9,380.5 426.9,379.5 427.2,378.5 427.5,378 427.8,377.5 428.3,377 428.9,376.5 429.5,376 429.9,375.5 430.2,375 430.5,374 430.7,373.3 431,372.5 431.4,372 432,371.5 432.7,371 433.2,370.7 433.7,370.2 434.2,369.7 434.7,369.2 435.2,368.9 436,368.5 436.7,368.2 437.6,368 438.2,368 438.7,368 439.7,368.2 440.7,368.4 441.6,368.5 442.2,368.7 442.8,369 443.4,369.5 444,370 444.6,370.5 445.1,371 445.5,371.5 445.8,372 446.2,373 446.3,373.5 446.7,374.3 447.1,375 447.4,375.5 447.7,376.3 447.9,377 448,378 447.9,379 447.8,380 447.7,380.7 447.5,381.5 447.2,382 446.7,382.7 446.2,383.2 445.7,383.6 445.2,384.1 444.7,384.7 444.2,385.1 443.7,385.5 442.7,386 442.2,386.1 441.4,386.5 440.7,386.9 440.2,387.1 439.2,387.5 438.7,387.5Z M438.7,387.1 437.7,387 437.2,386.9 436.2,386.9 435.2,386.8 434.2,386.6 433.7,386.5 432.7,386.2 432.2,386 431.4,385.5 430.9,385 430.6,384.5 430.2,383.8 429.7,383.1 429.2,382.5 428.7,382 428.3,381.5 428,381 427.8,380 428,379 428.2,378.5 428.7,377.7 429.2,377.1 429.7,376.6 430.2,376 430.6,375.5 430.8,375 431.1,374 431.2,373.5 431.7,372.6 432.2,372.1 432.7,371.8 433.2,371.4 433.7,370.9 434.2,370.4 434.7,369.9 435.3,369.5 436.2,369.1 436.7,369 437.7,368.7 438.7,368.7 439.7,368.8 440.7,368.9 441.2,369 442.2,369.3 442.7,369.6 443.3,370 443.9,370.5 444.5,371 445,371.5 445.3,372 445.7,373 445.9,373.5 446.2,374.3 446.6,375 446.9,375.5 447.2,376 447.5,377 447.6,378 447.6,379 447.4,380 447.2,380.9 446.9,381.5 446.6,382 446.1,382.5 445.5,383 445,383.5 444.5,384 444,384.5 443.5,385 442.7,385.4 442.2,385.6 441.4,386 440.7,386.4 440.2,386.6 439.2,387 438.7,387.1Z M439.2,386.5 438.2,386.6 437.5,386.5 436.7,386.4 435.7,386.4 434.7,386.3 433.7,386.1 433.2,385.9 432.3,385.5 431.7,385.1 431.2,384.5 430.9,384 430.6,383.5 430.2,382.9 429.7,382.3 429.2,381.7 428.8,381 428.7,380.4 428.7,379.9 428.9,379 429.2,378.3 429.7,377.5 430.1,377 430.5,376.5 430.9,376 431.2,375.5 431.6,374.5 431.7,374 432.2,373.1 432.7,372.6 433.2,372.1 433.7,371.7 434.2,371.1 434.7,370.6 435.2,370.1 435.7,369.9 436.7,369.6 437.2,369.5 438.2,369.3 439.2,369.3 440.2,369.5 440.7,369.5 441.7,369.8 442.3,370 443.1,370.5 443.7,370.9 444.2,371.3 444.7,371.8 445.1,372.5 445.3,373 445.6,374 445.9,374.5 446.2,375 446.7,375.8 447,376.5 447.2,377.1 447.3,378 447.2,378.9 447.1,379.5 446.9,380.5 446.6,381 446.2,381.6 445.7,382.1 445.2,382.5 444.7,383 444.2,383.5 443.7,384.1 443.2,384.5 442.4,385 441.7,385.3 441.2,385.6 440.4,386 439.7,386.4 439.2,386.5Z M439.2,386 438.2,386.1 437.6,386 436.7,385.9 435.7,385.9 434.7,385.8 433.7,385.6 433.2,385.4 432.4,385 431.9,384.5 431.5,384 431.2,383.5 430.7,382.8 430.2,382.2 429.7,381.5 429.5,381 429.4,380 429.6,379 429.8,378.5 430.2,377.7 430.7,377 431.2,376.5 431.6,376 431.9,375.5 432.2,374.7 432.5,374 432.8,373.5 433.2,373 433.7,372.4 434.2,371.8 434.7,371.2 435.2,370.7 435.7,370.4 436.7,370.1 437.2,370 438.2,369.9 439.2,369.9 439.9,370 440.7,370.2 441.7,370.4 442.2,370.6 443,371 443.7,371.4 444.2,371.9 444.6,372.5 444.8,373 445.2,374 445.5,374.5 445.8,375 446.2,375.6 446.7,376.5 446.8,377 446.9,378 446.8,379 446.7,379.5 446.3,380.5 446,381 445.5,381.5 444.9,382 444.4,382.5 443.9,383 443.5,383.5 443,384 442.3,384.5 441.7,384.8 441.2,385.1 440.4,385.5 439.7,385.8 439.2,386Z M438.7,385.5 438,385.5 437.2,385.5 436.2,385.5 435.7,385.5 435.2,385.5 434.2,385.3 433.3,385 432.7,384.6 432.2,384 431.9,383.5 431.5,383 431.1,382.5 430.7,382 430.2,381.2 430,380.5 430.1,379.5 430.2,379 430.6,378 431,377.5 431.4,377 431.9,376.5 432.3,376 432.7,375.3 433,374.5 433.3,374 433.7,373.3 434.2,372.5 434.5,372 434.9,371.5 435.5,371 436.2,370.6 436.9,370.5 437.7,370.4 438.7,370.4 439.7,370.5 440.2,370.6 441.2,370.9 441.7,371 442.7,371.3 443.2,371.6 443.8,372 444.2,372.6 444.6,373.5 444.8,374 445.2,374.7 445.7,375.5 446,376 446.3,376.5 446.6,377.5 446.5,378.5 446.2,379.4 445.9,380 445.5,380.5 445,381 444.5,381.5 444,382 443.6,382.5 443.2,383.1 442.7,383.6 442.2,384 441.4,384.5 440.7,384.8 440.2,385.1 439.2,385.5 438.7,385.5Z M436.7,385 435.7,385.1 434.7,385 434.2,384.9 433.4,384.5 432.8,384 432.5,383.5 432.2,383 431.7,382.4 431.2,381.8 430.7,381 430.6,380.5 430.6,379.5 430.7,379 431.2,378 431.6,377.5 432.1,377 432.6,376.5 433.1,376 433.4,375.5 433.7,374.7 433.9,374 434.2,373.4 434.7,372.5 435,372 435.5,371.5 436.2,371.1 436.7,371 437.7,370.8 438.7,370.8 439.7,370.9 440.2,371 441.2,371.3 441.7,371.5 442.7,371.8 443.2,372.1 443.7,372.6 444.2,373.4 444.5,374 444.7,374.5 445.2,375.3 445.7,376 445.9,376.5 446.2,377.5 446,378.5 445.7,379.3 445.2,379.9 444.7,380.4 444.2,380.9 443.7,381.5 443.3,382 443,382.5 442.5,383 442,383.5 441.3,384 440.7,384.3 440.2,384.6 439.2,384.9 438.2,384.9 437.2,385 436.7,385Z M436.7,384.5 435.7,384.7 434.7,384.6 434.2,384.4 433.5,384 433.1,383.5 432.7,382.8 432.2,382.2 431.7,381.6 431.3,381 431.1,380.5 431.1,379.5 431.2,379 431.7,378 432.2,377.5 432.7,377.1 433.2,376.7 433.7,376.1 434,375.5 434.2,375 434.5,374 434.7,373.4 435.2,372.5 435.6,372 436.2,371.6 436.7,371.4 437.7,371.2 438.7,371.2 439.7,371.3 440.4,371.5 441.2,371.8 441.9,372 442.7,372.3 443.2,372.6 443.7,373.2 444.1,374 444.4,374.5 444.7,375 445.2,375.8 445.6,376.5 445.7,377 445.7,378 445.5,378.5 445.2,379.1 444.7,379.6 444.2,380.1 443.7,380.5 443.2,381.1 442.7,381.8 442.2,382.5 441.7,383 441.2,383.4 440.7,383.7 440.2,384 439.2,384.3 438.2,384.3 437.2,384.4 436.7,384.5Z M436.7,384.1 435.7,384.3 434.7,384.2 434.2,383.9 433.7,383.4 433.2,382.6 432.8,382 432.4,381.5 432,381 431.7,380.4 431.6,379.5 431.7,379 432.2,378.1 432.7,377.6 433.2,377.3 433.7,376.9 434.2,376.4 434.6,375.5 434.7,375 435,374 435.2,373.4 435.7,372.5 436.2,372.1 436.7,371.8 437.7,371.6 438.7,371.5 439.7,371.6 440.7,372 441.2,372.1 442.1,372.5 442.7,372.8 443.2,373.2 443.7,373.9 444.1,374.5 444.4,375 444.7,375.6 445.2,376.5 445.4,377 445.3,378 445,378.5 444.6,379 444.1,379.5 443.4,380 442.9,380.5 442.5,381 442.2,381.5 441.7,382.2 441.2,382.7 440.7,383.1 439.8,383.5 439.2,383.6 438.2,383.7 437.2,383.9 436.7,384.1Z M436.7,383.6 435.7,383.8 434.7,383.6 434.2,383.2 433.8,382.5 433.5,382 433.2,381.5 432.7,380.9 432.2,380 432.2,379.5 432.2,379 432.7,378.2 433.2,377.8 433.7,377.5 434.3,377 434.7,376.5 435.1,375.5 435.2,375 435.4,374 435.7,373.3 436.2,372.7 436.7,372.3 437.6,372 438.2,371.9 439.2,371.9 439.9,372 440.7,372.3 441.2,372.5 442.2,372.9 442.7,373.3 443.2,373.7 443.7,374.4 444.1,375 444.4,375.5 444.7,376.1 445,377 444.8,378 444.5,378.5 444,379 443.3,379.5 442.7,379.9 442.2,380.3 441.7,380.9 441.3,381.5 441,382 440.4,382.5 439.7,382.8 438.7,383 438.2,383 437.2,383.4 436.7,383.6Z M436.2,383.2 435.2,383.2 434.7,382.9 434.2,382 434,381.5 433.7,381 433.2,380.5 432.8,379.5 433.1,378.5 433.7,378 434.2,377.7 434.7,377.3 435.2,376.7 435.5,376 435.7,375 435.8,374.5 436.1,373.5 436.5,373 437.2,372.5 437.7,372.4 438.7,372.2 439.7,372.3 440.4,372.5 441.2,372.9 441.7,373.1 442.4,373.5 443,374 443.4,374.5 443.7,375 444.2,375.8 444.5,376.5 444.6,377.5 444.2,378.2 443.7,378.7 443.2,379 442.2,379.5 441.7,379.8 441.2,380.3 440.8,381 440.4,381.5 439.8,382 439.2,382.2 438.2,382.4 437.7,382.5 436.7,383 436.2,383.2Z M435.7,382.5 435.2,382.3 434.8,381.5 434.5,381 434.2,380.5 433.7,379.9 433.6,379 434,378.5 434.6,378 435.2,377.5 435.6,377 435.8,376.5 436.1,375.5 436.2,375 436.5,374 436.8,373.5 437.3,373 438.2,372.6 438.7,372.5 439.2,372.5 440.2,372.8 440.7,373 441.6,373.5 442.2,373.9 442.7,374.2 443.2,374.7 443.7,375.4 444,376 444.2,376.5 444.2,377.4 443.9,378 443.3,378.5 442.7,378.8 441.9,379 441.2,379.2 440.7,379.6 440.2,380.4 439.8,381 439.2,381.3 438.7,381.5 437.7,381.7 437.1,382 436.2,382.5 435.7,382.5Z M436.7,381 435.9,381 435.3,380.5 434.9,380 434.6,379.5 434.7,378.9 435.2,378.3 435.7,377.7 436.2,377 436.4,376.5 436.7,375.5 436.8,375 437.1,374 437.4,373.5 438.2,373 438.7,372.9 439.7,373 440.2,373.2 440.8,373.5 441.6,374 442.2,374.3 442.7,374.7 443.2,375.2 443.7,376 443.9,376.5 443.8,377.5 443.3,378 442.7,378.3 441.7,378.5 441.2,378.5 440.2,378.8 439.7,379.3 439.2,379.9 438.7,380.3 438.2,380.5 437.2,380.9 436.7,381Z M436.7,379.5 436.2,379.4 436.1,378.5 436.4,378 436.7,377.5 437.2,376.5 437.3,376 437.5,375 437.7,374.3 438.2,373.6 438.7,373.3 439.7,373.4 440.2,373.7 440.7,374 441.5,374.5 442.2,374.9 442.7,375.2 443.2,375.8 443.5,376.5 443.3,377.5 442.7,377.9 442.2,378 441.5,378 440.7,377.9 440.1,378 439.2,378.2 438.5,378.5 437.7,379 437.2,379.3 436.7,379.5Z M442.2,377.5 441.7,377.5 440.7,377.2 439.7,377.1 439.2,377 438.6,376.5 438.6,375.5 438.7,374.5 439.2,374.2 439.8,374.5 440.5,375 441.2,375.2 442.2,375.4 442.7,375.8 443,376.5 442.7,377.3 442.2,377.5Z" fill="none" stroke="#333" stroke-width="0.5" stroke-linejoin="round"/>
<path d="M395.5,367A3.8,12 0 0 1 395.5,391Z" fill="#aaa"/><path d="M395.5,371A2,8 0 0 1 395.5,387Z" fill="#777"/>
<rect x="395.20" y="322.50" width="82" height="82.5" fill="none" stroke="#000" stroke-width="1"/>
<text class="t2" x="390.30" y="407.00" font-size="4.7" text-anchor="end">10<tspan font-size="3.9" dy="-2.9">0</tspan></text>
<line x1="393.60" y1="405.00" x2="395.20" y2="405.00" stroke="#000" stroke-width="0.8" />
<text class="t2" x="395.40" y="414.00" font-size="4.7" text-anchor="middle">10<tspan font-size="3.9" dy="-2.9">0</tspan></text>
<line x1="395.20" y1="405.00" x2="395.20" y2="406.60" stroke="#000" stroke-width="0.8" />
<text class="t2" x="390.30" y="386.38" font-size="4.7" text-anchor="end">10<tspan font-size="3.9" dy="-2.9">1</tspan></text>
<line x1="393.60" y1="384.38" x2="395.20" y2="384.38" stroke="#000" stroke-width="0.8" />
<text class="t2" x="415.90" y="414.00" font-size="4.7" text-anchor="middle">10<tspan font-size="3.9" dy="-2.9">1</tspan></text>
<line x1="415.70" y1="405.00" x2="415.70" y2="406.60" stroke="#000" stroke-width="0.8" />
<text class="t2" x="390.30" y="365.75" font-size="4.7" text-anchor="end">10<tspan font-size="3.9" dy="-2.9">2</tspan></text>
<line x1="393.60" y1="363.75" x2="395.20" y2="363.75" stroke="#000" stroke-width="0.8" />
<text class="t2" x="436.40" y="414.00" font-size="4.7" text-anchor="middle">10<tspan font-size="3.9" dy="-2.9">2</tspan></text>
<line x1="436.20" y1="405.00" x2="436.20" y2="406.60" stroke="#000" stroke-width="0.8" />
<text class="t2" x="390.30" y="345.12" font-size="4.7" text-anchor="end">10<tspan font-size="3.9" dy="-2.9">3</tspan></text>
<line x1="393.60" y1="343.12" x2="395.20" y2="343.12" stroke="#000" stroke-width="0.8" />
<text class="t2" x="456.90" y="414.00" font-size="4.7" text-anchor="middle">10<tspan font-size="3.9" dy="-2.9">3</tspan></text>
<line x1="456.70" y1="405.00" x2="456.70" y2="406.60" stroke="#000" stroke-width="0.8" />
<text class="t2" x="390.30" y="324.50" font-size="4.7" text-anchor="end">10<tspan font-size="3.9" dy="-2.9">4</tspan></text>
<line x1="393.60" y1="322.50" x2="395.20" y2="322.50" stroke="#000" stroke-width="0.8" />
<text class="t2" x="477.40" y="414.00" font-size="4.7" text-anchor="middle">10<tspan font-size="3.9" dy="-2.9">4</tspan></text>
<line x1="477.20" y1="405.00" x2="477.20" y2="406.60" stroke="#000" stroke-width="0.8" />
<line x1="401.37" y1="405.00" x2="401.37" y2="403.70" stroke="#000" stroke-width="0.6" />
<line x1="395.20" y1="398.79" x2="396.50" y2="398.79" stroke="#000" stroke-width="0.6" />
<line x1="404.98" y1="405.00" x2="404.98" y2="403.70" stroke="#000" stroke-width="0.6" />
<line x1="395.20" y1="395.16" x2="396.50" y2="395.16" stroke="#000" stroke-width="0.6" />
<line x1="407.54" y1="405.00" x2="407.54" y2="403.70" stroke="#000" stroke-width="0.6" />
<line x1="395.20" y1="392.58" x2="396.50" y2="392.58" stroke="#000" stroke-width="0.6" />
<line x1="409.53" y1="405.00" x2="409.53" y2="403.70" stroke="#000" stroke-width="0.6" />
<line x1="395.20" y1="390.58" x2="396.50" y2="390.58" stroke="#000" stroke-width="0.6" />
<line x1="411.15" y1="405.00" x2="411.15" y2="403.70" stroke="#000" stroke-width="0.6" />
<line x1="395.20" y1="388.95" x2="396.50" y2="388.95" stroke="#000" stroke-width="0.6" />
<line x1="412.52" y1="405.00" x2="412.52" y2="403.70" stroke="#000" stroke-width="0.6" />
<line x1="395.20" y1="387.57" x2="396.50" y2="387.57" stroke="#000" stroke-width="0.6" />
<line x1="413.71" y1="405.00" x2="413.71" y2="403.70" stroke="#000" stroke-width="0.6" />
<line x1="395.20" y1="386.37" x2="396.50" y2="386.37" stroke="#000" stroke-width="0.6" />
<line x1="414.76" y1="405.00" x2="414.76" y2="403.70" stroke="#000" stroke-width="0.6" />
<line x1="395.20" y1="385.32" x2="396.50" y2="385.32" stroke="#000" stroke-width="0.6" />
<line x1="421.87" y1="405.00" x2="421.87" y2="403.70" stroke="#000" stroke-width="0.6" />
<line x1="395.20" y1="378.17" x2="396.50" y2="378.17" stroke="#000" stroke-width="0.6" />
<line x1="425.48" y1="405.00" x2="425.48" y2="403.70" stroke="#000" stroke-width="0.6" />
<line x1="395.20" y1="374.53" x2="396.50" y2="374.53" stroke="#000" stroke-width="0.6" />
<line x1="428.04" y1="405.00" x2="428.04" y2="403.70" stroke="#000" stroke-width="0.6" />
<line x1="395.20" y1="371.96" x2="396.50" y2="371.96" stroke="#000" stroke-width="0.6" />
<line x1="430.03" y1="405.00" x2="430.03" y2="403.70" stroke="#000" stroke-width="0.6" />
<line x1="395.20" y1="369.96" x2="396.50" y2="369.96" stroke="#000" stroke-width="0.6" />
<line x1="431.65" y1="405.00" x2="431.65" y2="403.70" stroke="#000" stroke-width="0.6" />
<line x1="395.20" y1="368.33" x2="396.50" y2="368.33" stroke="#000" stroke-width="0.6" />
<line x1="433.02" y1="405.00" x2="433.02" y2="403.70" stroke="#000" stroke-width="0.6" />
<line x1="395.20" y1="366.94" x2="396.50" y2="366.94" stroke="#000" stroke-width="0.6" />
<line x1="434.21" y1="405.00" x2="434.21" y2="403.70" stroke="#000" stroke-width="0.6" />
<line x1="395.20" y1="365.75" x2="396.50" y2="365.75" stroke="#000" stroke-width="0.6" />
<line x1="435.26" y1="405.00" x2="435.26" y2="403.70" stroke="#000" stroke-width="0.6" />
<line x1="395.20" y1="364.69" x2="396.50" y2="364.69" stroke="#000" stroke-width="0.6" />
<line x1="442.37" y1="405.00" x2="442.37" y2="403.70" stroke="#000" stroke-width="0.6" />
<line x1="395.20" y1="357.54" x2="396.50" y2="357.54" stroke="#000" stroke-width="0.6" />
<line x1="445.98" y1="405.00" x2="445.98" y2="403.70" stroke="#000" stroke-width="0.6" />
<line x1="395.20" y1="353.91" x2="396.50" y2="353.91" stroke="#000" stroke-width="0.6" />
<line x1="448.54" y1="405.00" x2="448.54" y2="403.70" stroke="#000" stroke-width="0.6" />
<line x1="395.20" y1="351.33" x2="396.50" y2="351.33" stroke="#000" stroke-width="0.6" />
<line x1="450.53" y1="405.00" x2="450.53" y2="403.70" stroke="#000" stroke-width="0.6" />
<line x1="395.20" y1="349.33" x2="396.50" y2="349.33" stroke="#000" stroke-width="0.6" />
<line x1="452.15" y1="405.00" x2="452.15" y2="403.70" stroke="#000" stroke-width="0.6" />
<line x1="395.20" y1="347.70" x2="396.50" y2="347.70" stroke="#000" stroke-width="0.6" />
<line x1="453.52" y1="405.00" x2="453.52" y2="403.70" stroke="#000" stroke-width="0.6" />
<line x1="395.20" y1="346.32" x2="396.50" y2="346.32" stroke="#000" stroke-width="0.6" />
<line x1="454.71" y1="405.00" x2="454.71" y2="403.70" stroke="#000" stroke-width="0.6" />
<line x1="395.20" y1="345.12" x2="396.50" y2="345.12" stroke="#000" stroke-width="0.6" />
<line x1="455.76" y1="405.00" x2="455.76" y2="403.70" stroke="#000" stroke-width="0.6" />
<line x1="395.20" y1="344.07" x2="396.50" y2="344.07" stroke="#000" stroke-width="0.6" />
<line x1="462.87" y1="405.00" x2="462.87" y2="403.70" stroke="#000" stroke-width="0.6" />
<line x1="395.20" y1="336.92" x2="396.50" y2="336.92" stroke="#000" stroke-width="0.6" />
<line x1="466.48" y1="405.00" x2="466.48" y2="403.70" stroke="#000" stroke-width="0.6" />
<line x1="395.20" y1="333.28" x2="396.50" y2="333.28" stroke="#000" stroke-width="0.6" />
<line x1="469.04" y1="405.00" x2="469.04" y2="403.70" stroke="#000" stroke-width="0.6" />
<line x1="395.20" y1="330.71" x2="396.50" y2="330.71" stroke="#000" stroke-width="0.6" />
<line x1="471.03" y1="405.00" x2="471.03" y2="403.70" stroke="#000" stroke-width="0.6" />
<line x1="395.20" y1="328.71" x2="396.50" y2="328.71" stroke="#000" stroke-width="0.6" />
<line x1="472.65" y1="405.00" x2="472.65" y2="403.70" stroke="#000" stroke-width="0.6" />
<line x1="395.20" y1="327.08" x2="396.50" y2="327.08" stroke="#000" stroke-width="0.6" />
<line x1="474.02" y1="405.00" x2="474.02" y2="403.70" stroke="#000" stroke-width="0.6" />
<line x1="395.20" y1="325.69" x2="396.50" y2="325.69" stroke="#000" stroke-width="0.6" />
<line x1="475.21" y1="405.00" x2="475.21" y2="403.70" stroke="#000" stroke-width="0.6" />
<line x1="395.20" y1="324.50" x2="396.50" y2="324.50" stroke="#000" stroke-width="0.6" />
<line x1="476.26" y1="405.00" x2="476.26" y2="403.70" stroke="#000" stroke-width="0.6" />
<line x1="395.20" y1="323.44" x2="396.50" y2="323.44" stroke="#000" stroke-width="0.6" />
<rect x="438.75" y="323.75" width="21.75" height="34.50" fill="none" stroke="#000" stroke-width="0.9"/>
<text x="416.00" y="332.50" font-size="12.15" text-anchor="start" font-weight="normal" fill="#000" >5.1</text>
<polyline points="377.10,228.50 377.10,419.70 474.00,419.70" fill="none" stroke="#000" stroke-width="2" stroke-linejoin="round"/>
<polygon points="377.10,223.50 373.30,230.50 380.90,230.50" fill="#000"/>
<polygon points="479.00,419.70 472.00,415.90 472.00,423.50" fill="#000"/>
<text transform="translate(370.00,378.30) rotate(-90)" font-size="12.15" text-anchor="middle" >GL7</text>
<text x="400.00" y="435.20" font-size="12.15" text-anchor="start" font-weight="normal" fill="#000" >CD95</text>
<text x="503.00" y="269.40" font-size="12.15" text-anchor="middle" font-weight="normal" fill="#000" >T +</text>
<text x="503.00" y="284.40" font-size="12.15" text-anchor="middle" font-weight="normal" fill="#000" >WT B</text>
<text x="503.00" y="365.00" font-size="12.15" text-anchor="middle" font-weight="normal" fill="#000" >T +</text>
<text x="503.00" y="380.00" font-size="12.15" text-anchor="middle" font-weight="normal" fill="#000" >cKO B</text>
<line x1="42.20" y1="479.70" x2="42.20" y2="609.20" stroke="#000" stroke-width="1.5" />
<line x1="38.40" y1="608.50" x2="159.00" y2="608.50" stroke="#000" stroke-width="1.5" />
<line x1="38.40" y1="480.40" x2="42.20" y2="480.40" stroke="#000" stroke-width="1.4" />
<text x="31.60" y="485.10" font-size="12.15" text-anchor="end" font-weight="normal" fill="#000" >30</text>
<line x1="38.40" y1="522.90" x2="42.20" y2="522.90" stroke="#000" stroke-width="1.4" />
<text x="31.60" y="527.60" font-size="12.15" text-anchor="end" font-weight="normal" fill="#000" >20</text>
<line x1="38.40" y1="565.70" x2="42.20" y2="565.70" stroke="#000" stroke-width="1.4" />
<text x="31.60" y="570.40" font-size="12.15" text-anchor="end" font-weight="normal" fill="#000" >10</text>
<line x1="38.40" y1="608.50" x2="42.20" y2="608.50" stroke="#000" stroke-width="1.4" />
<text x="31.60" y="613.20" font-size="12.15" text-anchor="end" font-weight="normal" fill="#000" >0</text>
<line x1="42.20" y1="608.50" x2="42.20" y2="612.00" stroke="#000" stroke-width="1.4" />
<line x1="81.00" y1="608.50" x2="81.00" y2="612.00" stroke="#000" stroke-width="1.4" />
<line x1="120.00" y1="608.50" x2="120.00" y2="612.00" stroke="#000" stroke-width="1.4" />
<line x1="159.00" y1="608.50" x2="159.00" y2="612.00" stroke="#000" stroke-width="1.4" />
<line x1="61.65" y1="565.70" x2="61.65" y2="573.10" stroke="#000" stroke-width="1.5" />
<line x1="57.95" y1="565.70" x2="65.35" y2="565.70" stroke="#000" stroke-width="1.5" />
<rect x="53.90" y="573.10" width="15.50" height="35.40" fill="#c0c0c0" stroke="#000" stroke-width="1.1"/>
<line x1="100.20" y1="499.30" x2="100.20" y2="516.30" stroke="#000" stroke-width="1.5" />
<line x1="96.50" y1="499.30" x2="103.90" y2="499.30" stroke="#000" stroke-width="1.5" />
<rect x="92.60" y="516.30" width="15.20" height="92.20" fill="#000" stroke="#000" stroke-width="1.1"/>
<line x1="139.00" y1="516.30" x2="139.00" y2="535.50" stroke="#000" stroke-width="1.5" />
<line x1="135.30" y1="516.30" x2="142.70" y2="516.30" stroke="#000" stroke-width="1.5" />
<rect x="131.40" y="535.50" width="15.20" height="73.00" fill="#fff" stroke="#000" stroke-width="1.1"/>
<text x="98.60" y="457.50" font-size="12.15" text-anchor="middle" font-weight="normal" fill="#000" ><tspan word-spacing="1.2">OT2 T cells</tspan></text>
<text x="98.60" y="472.50" font-size="12.15" text-anchor="middle" font-weight="normal" fill="#000" >CD4<tspan font-size="9.5" dy="-4.6">+</tspan><tspan dy="4.6" font-size="1">&#8203;</tspan>TCRV<tspan font-family="Liberation Serif, serif" font-size="14">α2</tspan><tspan font-size="9.5" dy="-4.6">+</tspan><tspan dy="4.6" font-size="1">&#8203;</tspan></text>
<text transform="translate(9.60,546.60) rotate(-90)" font-size="12.45" text-anchor="middle" >Cell number (x 10<tspan font-size="8.5" dy="-4">4</tspan><tspan dy="4" font-size="1">&#8203;</tspan>)</text>
<text x="95.00" y="490.10" font-size="12.15" text-anchor="start" font-weight="normal" fill="#000" >P = 0.62</text>
<line x1="91.60" y1="494.80" x2="145.20" y2="494.80" stroke="#000" stroke-width="1.5" />
<text transform="translate(63.60,621.40) rotate(-45)" font-size="12.15" text-anchor="end" >non-</text>
<text transform="translate(72.20,629.20) rotate(-45)" font-size="12.15" text-anchor="end" >immune</text>
<text transform="translate(105.50,622.70) rotate(-45)" font-size="12.15" text-anchor="end" >T + WT B</text>
<text transform="translate(145.00,622.40) rotate(-45)" font-size="12.15" text-anchor="end" >T + cKO B</text>
<line x1="218.00" y1="479.70" x2="218.00" y2="609.20" stroke="#000" stroke-width="1.5" />
<line x1="214.20" y1="608.50" x2="334.50" y2="608.50" stroke="#000" stroke-width="1.5" />
<line x1="214.20" y1="480.40" x2="218.00" y2="480.40" stroke="#000" stroke-width="1.4" />
<text x="207.40" y="485.10" font-size="12.15" text-anchor="end" font-weight="normal" fill="#000" >10</text>
<line x1="214.20" y1="505.80" x2="218.00" y2="505.80" stroke="#000" stroke-width="1.4" />
<text x="207.40" y="510.50" font-size="12.15" text-anchor="end" font-weight="normal" fill="#000" >8</text>
<line x1="214.20" y1="531.50" x2="218.00" y2="531.50" stroke="#000" stroke-width="1.4" />
<text x="207.40" y="536.20" font-size="12.15" text-anchor="end" font-weight="normal" fill="#000" >6</text>
<line x1="214.20" y1="557.10" x2="218.00" y2="557.10" stroke="#000" stroke-width="1.4" />
<text x="207.40" y="561.80" font-size="12.15" text-anchor="end" font-weight="normal" fill="#000" >4</text>
<line x1="214.20" y1="582.80" x2="218.00" y2="582.80" stroke="#000" stroke-width="1.4" />
<text x="207.40" y="587.50" font-size="12.15" text-anchor="end" font-weight="normal" fill="#000" >2</text>
<line x1="214.20" y1="608.50" x2="218.00" y2="608.50" stroke="#000" stroke-width="1.4" />
<text x="207.40" y="613.20" font-size="12.15" text-anchor="end" font-weight="normal" fill="#000" >0</text>
<line x1="218.00" y1="608.50" x2="218.00" y2="612.00" stroke="#000" stroke-width="1.4" />
<line x1="256.70" y1="608.50" x2="256.70" y2="612.00" stroke="#000" stroke-width="1.4" />
<line x1="295.50" y1="608.50" x2="295.50" y2="612.00" stroke="#000" stroke-width="1.4" />
<line x1="334.50" y1="608.50" x2="334.50" y2="612.00" stroke="#000" stroke-width="1.4" />
<line x1="237.30" y1="549.50" x2="237.30" y2="563.50" stroke="#000" stroke-width="1.5" />
<line x1="233.60" y1="549.50" x2="241.00" y2="549.50" stroke="#000" stroke-width="1.5" />
<rect x="229.30" y="563.50" width="16.00" height="45.00" fill="#c0c0c0" stroke="#000" stroke-width="1.1"/>
<line x1="276.70" y1="503.80" x2="276.70" y2="523.50" stroke="#000" stroke-width="1.5" />
<line x1="273.00" y1="503.80" x2="280.40" y2="503.80" stroke="#000" stroke-width="1.5" />
<rect x="268.60" y="523.50" width="16.20" height="85.00" fill="#000" stroke="#000" stroke-width="1.1"/>
<line x1="315.15" y1="564.20" x2="315.15" y2="575.80" stroke="#000" stroke-width="1.5" />
<line x1="311.45" y1="564.20" x2="318.85" y2="564.20" stroke="#000" stroke-width="1.5" />
<rect x="307.30" y="575.80" width="15.70" height="32.70" fill="#fff" stroke="#000" stroke-width="1.1"/>
<text x="276.00" y="457.50" font-size="12.15" text-anchor="middle" font-weight="normal" fill="#000" >B cells</text>
<text x="276.00" y="472.50" font-size="12.15" text-anchor="middle" font-weight="normal" fill="#000" >B220<tspan font-size="9.5" dy="-4.6">+</tspan><tspan dy="4.6" font-size="1">&#8203;</tspan>CD19<tspan font-size="9.5" dy="-4.6">+</tspan><tspan dy="4.6" font-size="1">&#8203;</tspan></text>
<text transform="translate(186.60,546.60) rotate(-90)" font-size="12.45" text-anchor="middle" >Cell number (x 10<tspan font-size="8.5" dy="-4">6</tspan><tspan dy="4" font-size="1">&#8203;</tspan>)</text>
<text x="270.00" y="493.30" font-size="12.15" text-anchor="start" font-weight="normal" fill="#000" >P = 0.039</text>
<line x1="268.80" y1="498.80" x2="323.00" y2="498.80" stroke="#000" stroke-width="1.5" />
<text transform="translate(240.50,621.40) rotate(-45)" font-size="12.15" text-anchor="end" >non-</text>
<text transform="translate(250.00,629.20) rotate(-45)" font-size="12.15" text-anchor="end" >immune</text>
<text transform="translate(283.50,622.70) rotate(-45)" font-size="12.15" text-anchor="end" >T + WT B</text>
<text transform="translate(322.80,622.70) rotate(-45)" font-size="12.15" text-anchor="end" >T + cKO B</text>
<line x1="398.00" y1="479.70" x2="398.00" y2="609.20" stroke="#000" stroke-width="1.5" />
<line x1="394.20" y1="608.50" x2="521.00" y2="608.50" stroke="#000" stroke-width="1.5" />
<line x1="394.20" y1="480.40" x2="398.00" y2="480.40" stroke="#000" stroke-width="1.4" />
<text x="387.40" y="485.10" font-size="12.15" text-anchor="end" font-weight="normal" fill="#000" >15</text>
<line x1="394.20" y1="522.90" x2="398.00" y2="522.90" stroke="#000" stroke-width="1.4" />
<text x="387.40" y="527.60" font-size="12.15" text-anchor="end" font-weight="normal" fill="#000" >10</text>
<line x1="394.20" y1="565.70" x2="398.00" y2="565.70" stroke="#000" stroke-width="1.4" />
<text x="387.40" y="570.40" font-size="12.15" text-anchor="end" font-weight="normal" fill="#000" >5</text>
<line x1="394.20" y1="608.50" x2="398.00" y2="608.50" stroke="#000" stroke-width="1.4" />
<text x="387.40" y="613.20" font-size="12.15" text-anchor="end" font-weight="normal" fill="#000" >0</text>
<line x1="398.00" y1="608.50" x2="398.00" y2="612.00" stroke="#000" stroke-width="1.4" />
<line x1="437.00" y1="608.50" x2="437.00" y2="612.00" stroke="#000" stroke-width="1.4" />
<line x1="476.00" y1="608.50" x2="476.00" y2="612.00" stroke="#000" stroke-width="1.4" />
<line x1="514.30" y1="608.50" x2="514.30" y2="612.00" stroke="#000" stroke-width="1.4" />
<line x1="417.00" y1="587.00" x2="417.00" y2="591.60" stroke="#000" stroke-width="1.5" />
<line x1="414.20" y1="587.00" x2="419.80" y2="587.00" stroke="#000" stroke-width="1.5" />
<rect x="409.20" y="591.60" width="15.60" height="16.90" fill="#b4b4b4" stroke="#000" stroke-width="1.1"/>
<line x1="456.20" y1="514.30" x2="456.20" y2="522.00" stroke="#000" stroke-width="1.5" />
<line x1="452.50" y1="514.30" x2="459.90" y2="514.30" stroke="#000" stroke-width="1.5" />
<rect x="448.20" y="522.00" width="16.00" height="86.50" fill="#000" stroke="#000" stroke-width="1.1"/>
<line x1="495.20" y1="552.50" x2="495.20" y2="558.60" stroke="#000" stroke-width="1.5" />
<line x1="491.50" y1="552.50" x2="498.90" y2="552.50" stroke="#000" stroke-width="1.5" />
<rect x="487.20" y="558.60" width="16.00" height="49.90" fill="#fff" stroke="#000" stroke-width="1.1"/>
<text x="453.00" y="457.50" font-size="12.15" text-anchor="middle" font-weight="normal" fill="#000" >GC B cells</text>
<text x="453.00" y="472.50" font-size="12.15" text-anchor="middle" font-weight="normal" fill="#000" >GL7<tspan font-size="9.5" dy="-4.6">+</tspan><tspan dy="4.6" font-size="1">&#8203;</tspan>CD95<tspan font-size="9.5" dy="-4.6">+</tspan><tspan dy="4.6" font-size="1">&#8203;</tspan>B220<tspan font-size="9.5" dy="-4.6">+</tspan><tspan dy="4.6" font-size="1">&#8203;</tspan></text>
<text transform="translate(367.90,547.40) rotate(-90)" font-size="12.3" text-anchor="middle" >% GC B cells in B220<tspan font-size="8.5" dy="-4.4">+</tspan><tspan dy="4.4" font-size="1">&#8203;</tspan> cells</text>
<text x="449.00" y="489.60" font-size="12.15" text-anchor="start" font-weight="normal" fill="#000" >P = 0.004</text>
<line x1="448.80" y1="495.00" x2="503.80" y2="495.00" stroke="#000" stroke-width="1.5" />
<text transform="translate(420.50,621.40) rotate(-45)" font-size="12.15" text-anchor="end" >non-</text>
<text transform="translate(430.00,629.20) rotate(-45)" font-size="12.15" text-anchor="end" >immune</text>
<text transform="translate(461.80,622.70) rotate(-45)" font-size="12.15" text-anchor="end" >T + WT B</text>
<text transform="translate(501.80,622.70) rotate(-45)" font-size="12.15" text-anchor="end" >T + cKO B</text>
</svg>
</body></html>
